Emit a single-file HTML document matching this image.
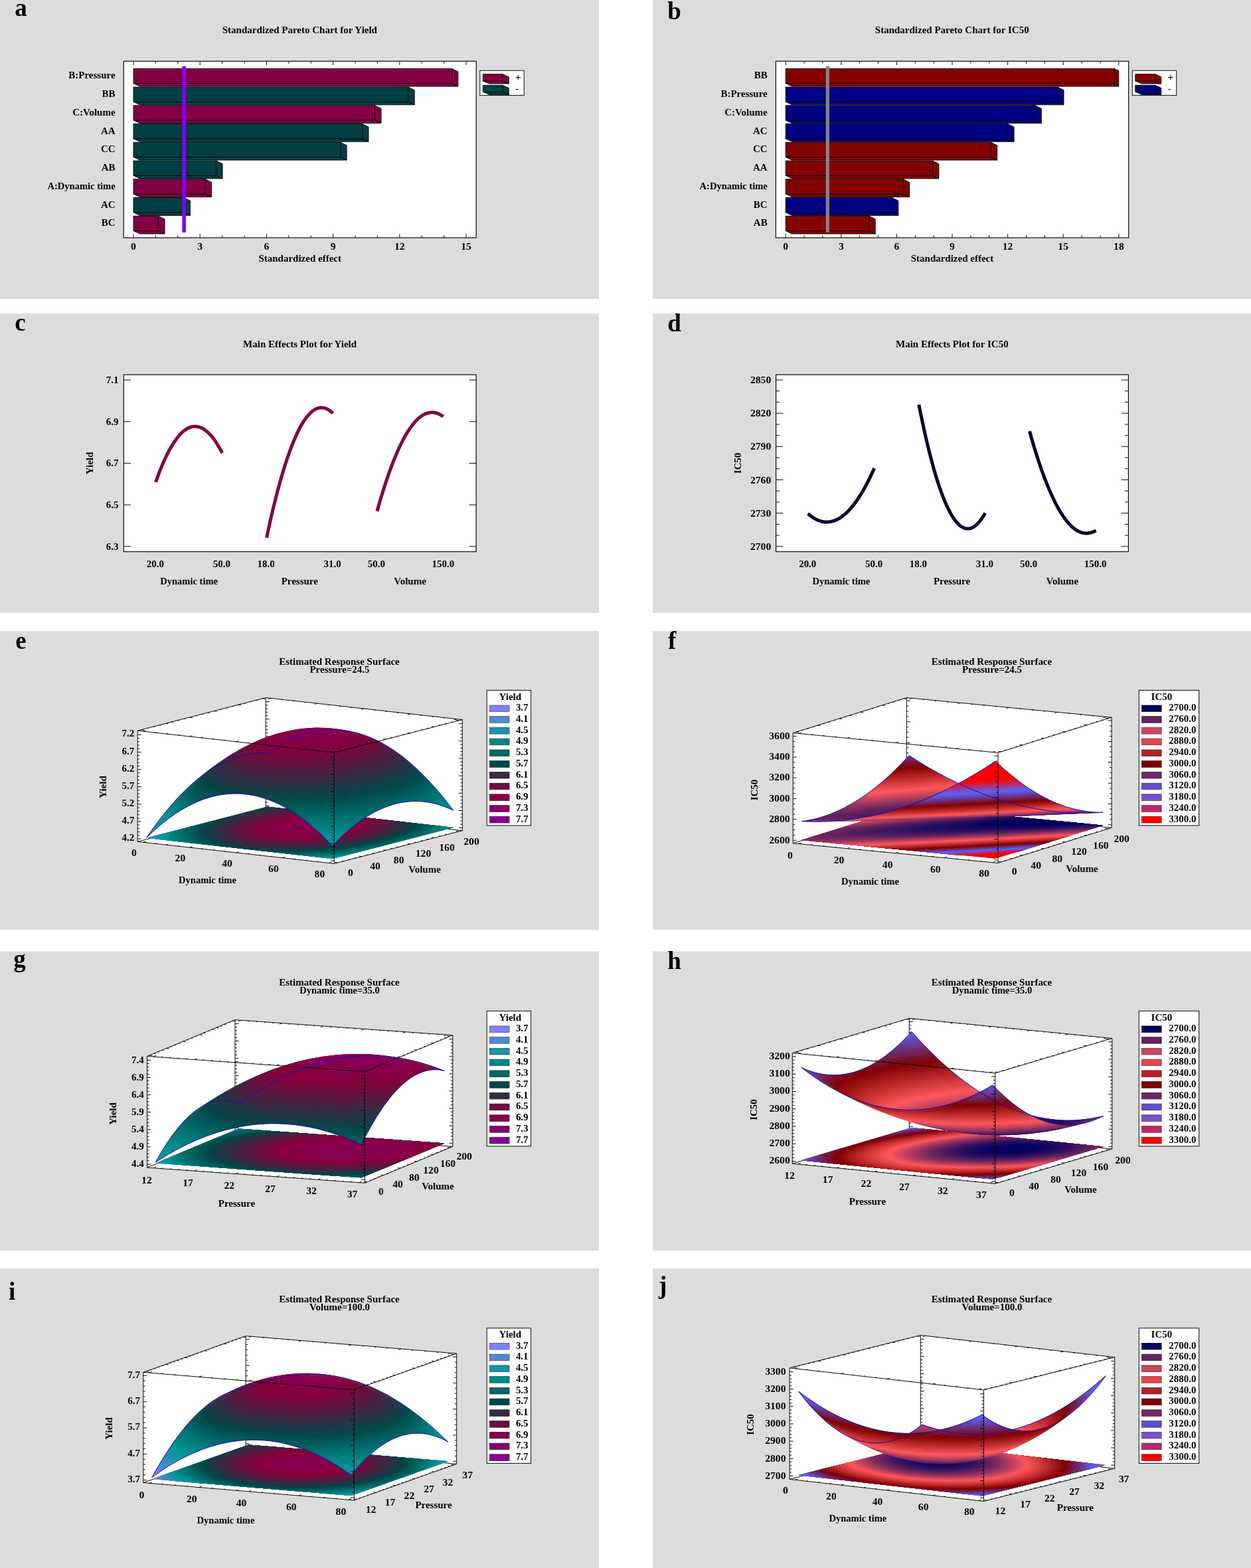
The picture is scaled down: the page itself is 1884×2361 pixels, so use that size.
<!DOCTYPE html>
<html lang="en"><head><meta charset="utf-8"><title>Figure</title>
<style>
html,body{margin:0;padding:0;background:#fff}
body{width:1884px;height:2361px;position:relative;overflow:hidden}
svg{position:absolute;left:0;top:0;display:block}
text{font-family:"Liberation Serif","DejaVu Serif",serif;font-weight:bold;font-size:14px;fill:#000}
.s{font-family:"Liberation Sans","DejaVu Sans",sans-serif;font-weight:normal}
.k{fill:none;stroke:#0a0a0a;stroke-width:1}
.bl{fill:none;stroke:#1a0cb4;stroke-width:1;stroke-linejoin:round}
</style></head><body>
<svg width="1884" height="2361" viewBox="0 0 1884 2361">
<defs>
<clipPath id="cu"><rect width="1000" height="1000"/></clipPath>
<linearGradient id="e47" gradientUnits="userSpaceOnUse" x1="402.3" y1="1134.5" x2="670.1" y2="1106.4"><stop offset="0" stop-color="#064547"/><stop offset=".18" stop-color="#571a40"/><stop offset=".355" stop-color="#7e053d"/><stop offset=".518" stop-color="#7d063d"/><stop offset=".671" stop-color="#581a40"/><stop offset=".818" stop-color="#0e4147"/><stop offset=".85" stop-color="#004d4d"/><stop offset="1" stop-color="#009896"/></linearGradient>
<linearGradient id="e46" gradientUnits="userSpaceOnUse" x1="399.6" y1="1134.3" x2="670" y2="1110.7"><stop offset="0" stop-color="#084447"/><stop offset=".178" stop-color="#591940"/><stop offset=".351" stop-color="#81043d"/><stop offset=".513" stop-color="#81043d"/><stop offset=".671" stop-color="#5a1840"/><stop offset=".82" stop-color="#0f4047"/><stop offset=".853" stop-color="#004c4c"/><stop offset="1" stop-color="#009593"/></linearGradient>
<linearGradient id="e45" gradientUnits="userSpaceOnUse" x1="395.8" y1="1134.2" x2="670.5" y2="1119.8"><stop offset="0" stop-color="#0b4247"/><stop offset=".173" stop-color="#5d1740"/><stop offset=".337" stop-color="#85023c"/><stop offset=".524" stop-color="#83033c"/><stop offset=".682" stop-color="#581a40"/><stop offset=".833" stop-color="#094347"/><stop offset=".862" stop-color="#004e4e"/><stop offset="1" stop-color="#00918f"/></linearGradient>
<linearGradient id="e44" gradientUnits="userSpaceOnUse" x1="392" y1="1134.2" x2="670.3" y2="1129.3"><stop offset="0" stop-color="#0e4147"/><stop offset=".162" stop-color="#5e1640"/><stop offset=".324" stop-color="#88003c"/><stop offset=".545" stop-color="#83033c"/><stop offset=".704" stop-color="#511d41"/><stop offset=".857" stop-color="#004b4a"/><stop offset="1" stop-color="#008d8b"/></linearGradient>
<linearGradient id="e43" gradientUnits="userSpaceOnUse" x1="388.2" y1="1134.3" x2="668" y2="1134.3"><stop offset="0" stop-color="#104047"/><stop offset=".16" stop-color="#61153f"/><stop offset=".305" stop-color="#88003d"/><stop offset=".51" stop-color="#88003e"/><stop offset=".625" stop-color="#720c3e"/><stop offset=".785" stop-color="#2c3144"/><stop offset=".865" stop-color="#004b4b"/><stop offset="1" stop-color="#008987"/></linearGradient>
<linearGradient id="e42" gradientUnits="userSpaceOnUse" x1="384.4" y1="1134.5" x2="666.6" y2="1144.4"><stop offset="0" stop-color="#123f46"/><stop offset=".155" stop-color="#64133f"/><stop offset=".288" stop-color="#88003e"/><stop offset=".491" stop-color="#880042"/><stop offset=".581" stop-color="#80043d"/><stop offset=".743" stop-color="#442442"/><stop offset=".866" stop-color="#004a4a"/><stop offset="1" stop-color="#008684"/></linearGradient>
<linearGradient id="e41" gradientUnits="userSpaceOnUse" x1="380.6" y1="1134.9" x2="664.4" y2="1154.7"><stop offset="0" stop-color="#143e46"/><stop offset=".146" stop-color="#64133f"/><stop offset=".266" stop-color="#88003e"/><stop offset=".467" stop-color="#880045"/><stop offset=".583" stop-color="#82033d"/><stop offset=".752" stop-color="#412642"/><stop offset=".873" stop-color="#004b4b"/><stop offset="1" stop-color="#008281"/></linearGradient>
<linearGradient id="e40" gradientUnits="userSpaceOnUse" x1="376.8" y1="1135.3" x2="661" y2="1160.2"><stop offset="0" stop-color="#153d46"/><stop offset=".143" stop-color="#66123f"/><stop offset=".253" stop-color="#88003e"/><stop offset=".453" stop-color="#880048"/><stop offset=".589" stop-color="#83033c"/><stop offset=".76" stop-color="#402642"/><stop offset=".876" stop-color="#004a4a"/><stop offset="1" stop-color="#007f7e"/></linearGradient>
<linearGradient id="e39" gradientUnits="userSpaceOnUse" x1="373" y1="1135.9" x2="657.6" y2="1170.9"><stop offset="0" stop-color="#163c46"/><stop offset=".139" stop-color="#68113f"/><stop offset=".241" stop-color="#88003e"/><stop offset=".439" stop-color="#88004a"/><stop offset=".591" stop-color="#83033c"/><stop offset=".764" stop-color="#3e2742"/><stop offset=".883" stop-color="#004c4c"/><stop offset="1" stop-color="#007c7b"/></linearGradient>
<linearGradient id="e38" gradientUnits="userSpaceOnUse" x1="369.2" y1="1136.7" x2="653.3" y2="1181.7"><stop offset="0" stop-color="#163c46"/><stop offset=".13" stop-color="#67123f"/><stop offset=".23" stop-color="#88003e"/><stop offset=".421" stop-color="#88004b"/><stop offset=".593" stop-color="#83023c"/><stop offset=".775" stop-color="#3a2943"/><stop offset=".886" stop-color="#004b4b"/><stop offset="1" stop-color="#007978"/></linearGradient>
<linearGradient id="e37" gradientUnits="userSpaceOnUse" x1="365.4" y1="1137.5" x2="648.3" y2="1192.5"><stop offset="0" stop-color="#173c46"/><stop offset=".126" stop-color="#68113f"/><stop offset=".219" stop-color="#88003f"/><stop offset=".407" stop-color="#88004d"/><stop offset=".596" stop-color="#83033c"/><stop offset=".78" stop-color="#382a43"/><stop offset=".889" stop-color="#004b4b"/><stop offset="1" stop-color="#007776"/></linearGradient>
<linearGradient id="e36" gradientUnits="userSpaceOnUse" x1="361.6" y1="1138.5" x2="642.4" y2="1203.3"><stop offset="0" stop-color="#173c46"/><stop offset=".117" stop-color="#66123f"/><stop offset=".208" stop-color="#88003e"/><stop offset=".394" stop-color="#88004e"/><stop offset=".599" stop-color="#83033c"/><stop offset=".787" stop-color="#352c43"/><stop offset=".891" stop-color="#004b4b"/><stop offset="1" stop-color="#007473"/></linearGradient>
<linearGradient id="e35" gradientUnits="userSpaceOnUse" x1="357.8" y1="1139.6" x2="635.8" y2="1214"><stop offset="0" stop-color="#173c46"/><stop offset=".113" stop-color="#66123f"/><stop offset=".197" stop-color="#88003e"/><stop offset=".381" stop-color="#88004f"/><stop offset=".596" stop-color="#83033c"/><stop offset=".793" stop-color="#332d44"/><stop offset=".895" stop-color="#004b4b"/><stop offset="1" stop-color="#007271"/></linearGradient>
<linearGradient id="e34" gradientUnits="userSpaceOnUse" x1="354" y1="1140.8" x2="628.4" y2="1224.6"><stop offset="0" stop-color="#163c46"/><stop offset=".104" stop-color="#64133f"/><stop offset=".19" stop-color="#88003e"/><stop offset=".372" stop-color="#880050"/><stop offset=".594" stop-color="#84023c"/><stop offset=".794" stop-color="#322d44"/><stop offset=".898" stop-color="#004b4b"/><stop offset="1" stop-color="#00706f"/></linearGradient>
<linearGradient id="e33" gradientUnits="userSpaceOnUse" x1="350.2" y1="1142.1" x2="620.2" y2="1235.1"><stop offset="0" stop-color="#153d46"/><stop offset=".1" stop-color="#64133f"/><stop offset=".184" stop-color="#88003e"/><stop offset=".363" stop-color="#880050"/><stop offset=".591" stop-color="#84023c"/><stop offset=".796" stop-color="#322e44"/><stop offset=".896" stop-color="#004a4a"/><stop offset="1" stop-color="#006f6e"/></linearGradient>
<linearGradient id="e32" gradientUnits="userSpaceOnUse" x1="346.4" y1="1143.6" x2="611.4" y2="1245.3"><stop offset="0" stop-color="#143e46"/><stop offset=".092" stop-color="#61153f"/><stop offset=".177" stop-color="#88003e"/><stop offset=".35" stop-color="#880051"/><stop offset=".589" stop-color="#83023c"/><stop offset=".803" stop-color="#2e3044"/><stop offset=".9" stop-color="#004a4a"/><stop offset="1" stop-color="#006d6c"/></linearGradient>
<linearGradient id="e31" gradientUnits="userSpaceOnUse" x1="342.6" y1="1145.1" x2="601.8" y2="1255.2"><stop offset="0" stop-color="#123e46"/><stop offset=".085" stop-color="#5d1740"/><stop offset=".171" stop-color="#88003e"/><stop offset=".341" stop-color="#880051"/><stop offset=".564" stop-color="#88003d"/><stop offset=".761" stop-color="#412542"/><stop offset=".904" stop-color="#004b4b"/><stop offset="1" stop-color="#006b6b"/></linearGradient>
<linearGradient id="e30" gradientUnits="userSpaceOnUse" x1="338.8" y1="1146.8" x2="591.6" y2="1264.7"><stop offset="0" stop-color="#103f47"/><stop offset=".08" stop-color="#5c1740"/><stop offset=".164" stop-color="#88003d"/><stop offset=".332" stop-color="#880051"/><stop offset=".556" stop-color="#88003d"/><stop offset=".749" stop-color="#452342"/><stop offset=".901" stop-color="#004a4a"/><stop offset="1" stop-color="#006a69"/></linearGradient>
<linearGradient id="e29" gradientUnits="userSpaceOnUse" x1="335" y1="1148.7" x2="580.8" y2="1273.9"><stop offset="0" stop-color="#0e4147"/><stop offset=".073" stop-color="#581a40"/><stop offset=".157" stop-color="#88003c"/><stop offset=".323" stop-color="#880050"/><stop offset=".547" stop-color="#88003d"/><stop offset=".737" stop-color="#492142"/><stop offset=".906" stop-color="#004c4b"/><stop offset="1" stop-color="#006968"/></linearGradient>
<linearGradient id="e28" gradientUnits="userSpaceOnUse" x1="331.2" y1="1150.6" x2="569.4" y2="1282.6"><stop offset="0" stop-color="#0c4247"/><stop offset=".066" stop-color="#531c41"/><stop offset=".153" stop-color="#88003c"/><stop offset=".313" stop-color="#880050"/><stop offset=".538" stop-color="#88003e"/><stop offset=".731" stop-color="#4a2141"/><stop offset=".904" stop-color="#004b4b"/><stop offset="1" stop-color="#006868"/></linearGradient>
<linearGradient id="e27" gradientUnits="userSpaceOnUse" x1="327.4" y1="1152.7" x2="557.4" y2="1290.9"><stop offset="0" stop-color="#094347"/><stop offset=".058" stop-color="#4e1f41"/><stop offset=".142" stop-color="#85023c"/><stop offset=".317" stop-color="#88004f"/><stop offset=".553" stop-color="#84023c"/><stop offset=".8" stop-color="#2b3144"/><stop offset=".901" stop-color="#004a4a"/><stop offset="1" stop-color="#006867"/></linearGradient>
<linearGradient id="e26" gradientUnits="userSpaceOnUse" x1="323.6" y1="1154.9" x2="549" y2="1295.8"><stop offset="0" stop-color="#064548"/><stop offset=".056" stop-color="#4c2041"/><stop offset=".138" stop-color="#83033c"/><stop offset=".326" stop-color="#88004f"/><stop offset=".548" stop-color="#84023c"/><stop offset=".798" stop-color="#2b3144"/><stop offset=".9" stop-color="#004a4a"/><stop offset="1" stop-color="#006766"/></linearGradient>
<linearGradient id="e25" gradientUnits="userSpaceOnUse" x1="319.8" y1="1157.2" x2="536.4" y2="1303.3"><stop offset="0" stop-color="#024748"/><stop offset=".049" stop-color="#462342"/><stop offset=".124" stop-color="#7d063d"/><stop offset=".166" stop-color="#880040"/><stop offset=".335" stop-color="#88004d"/><stop offset=".539" stop-color="#83033c"/><stop offset=".793" stop-color="#2b3144"/><stop offset=".897" stop-color="#004a4a"/><stop offset="1" stop-color="#006766"/></linearGradient>
<linearGradient id="e24" gradientUnits="userSpaceOnUse" x1="316" y1="1159.7" x2="527.6" y2="1307.8"><stop offset="0" stop-color="#004949"/><stop offset=".05" stop-color="#452342"/><stop offset=".123" stop-color="#7c073d"/><stop offset=".169" stop-color="#880040"/><stop offset=".339" stop-color="#88004c"/><stop offset=".528" stop-color="#83033c"/><stop offset=".783" stop-color="#2e3044"/><stop offset=".896" stop-color="#004a4a"/><stop offset="1" stop-color="#006766"/></linearGradient>
<linearGradient id="e23" gradientUnits="userSpaceOnUse" x1="312.2" y1="1162.2" x2="527.3" y2="1307.3"><stop offset="0" stop-color="#004b4b"/><stop offset=".065" stop-color="#4e1e41"/><stop offset=".147" stop-color="#82033d"/><stop offset=".263" stop-color="#88004a"/><stop offset=".479" stop-color="#880040"/><stop offset=".575" stop-color="#76093e"/><stop offset=".836" stop-color="#173c46"/><stop offset=".897" stop-color="#004a4a"/><stop offset="1" stop-color="#006766"/></linearGradient>
<linearGradient id="e22" gradientUnits="userSpaceOnUse" x1="308.4" y1="1164.9" x2="522.8" y2="1309.5"><stop offset="0" stop-color="#004e4e"/><stop offset=".012" stop-color="#0a4347"/><stop offset=".067" stop-color="#4d1f41"/><stop offset=".15" stop-color="#80043d"/><stop offset=".212" stop-color="#880043"/><stop offset=".406" stop-color="#880046"/><stop offset=".525" stop-color="#81043d"/><stop offset=".777" stop-color="#2f2f44"/><stop offset=".897" stop-color="#004b4b"/><stop offset="1" stop-color="#006766"/></linearGradient>
<linearGradient id="e21" gradientUnits="userSpaceOnUse" x1="304.6" y1="1167.7" x2="518.3" y2="1311.9"><stop offset="0" stop-color="#005151"/><stop offset=".014" stop-color="#094347"/><stop offset=".07" stop-color="#4b2041"/><stop offset=".153" stop-color="#7e053d"/><stop offset=".211" stop-color="#880041"/><stop offset=".4" stop-color="#880044"/><stop offset=".513" stop-color="#82033d"/><stop offset=".756" stop-color="#362c43"/><stop offset=".897" stop-color="#004b4b"/><stop offset="1" stop-color="#006867"/></linearGradient>
<linearGradient id="e20" gradientUnits="userSpaceOnUse" x1="300.8" y1="1170.7" x2="513.8" y2="1314.3"><stop offset="0" stop-color="#005454"/><stop offset=".016" stop-color="#074447"/><stop offset=".072" stop-color="#492142"/><stop offset=".157" stop-color="#7c073d"/><stop offset=".219" stop-color="#880040"/><stop offset=".415" stop-color="#880042"/><stop offset=".513" stop-color="#80043d"/><stop offset=".755" stop-color="#342c43"/><stop offset=".889" stop-color="#004a4a"/><stop offset="1" stop-color="#006868"/></linearGradient>
<linearGradient id="e19" gradientUnits="userSpaceOnUse" x1="297" y1="1173.7" x2="509.3" y2="1316.9"><stop offset="0" stop-color="#005757"/><stop offset=".018" stop-color="#054548"/><stop offset=".075" stop-color="#472342"/><stop offset=".16" stop-color="#79083d"/><stop offset=".231" stop-color="#88003f"/><stop offset=".431" stop-color="#88003e"/><stop offset=".592" stop-color="#68113f"/><stop offset=".866" stop-color="#054548"/><stop offset="1" stop-color="#006968"/></linearGradient>
<linearGradient id="e18" gradientUnits="userSpaceOnUse" x1="293.2" y1="1176.9" x2="509" y2="1317.1"><stop offset="0" stop-color="#005b5a"/><stop offset=".021" stop-color="#034648"/><stop offset=".081" stop-color="#442442"/><stop offset=".171" stop-color="#77093d"/><stop offset=".257" stop-color="#88003e"/><stop offset=".47" stop-color="#83033c"/><stop offset=".695" stop-color="#462342"/><stop offset=".882" stop-color="#004a4a"/><stop offset="1" stop-color="#006a69"/></linearGradient>
<linearGradient id="e17" gradientUnits="userSpaceOnUse" x1="289.4" y1="1180.2" x2="504.5" y2="1319.9"><stop offset="0" stop-color="#005e5e"/><stop offset=".025" stop-color="#044648"/><stop offset=".086" stop-color="#432442"/><stop offset=".178" stop-color="#750a3e"/><stop offset=".288" stop-color="#88003d"/><stop offset=".458" stop-color="#81043d"/><stop offset=".681" stop-color="#482242"/><stop offset=".875" stop-color="#004a4a"/><stop offset="1" stop-color="#006b6b"/></linearGradient>
<linearGradient id="e16" gradientUnits="userSpaceOnUse" x1="285.6" y1="1183.7" x2="500" y2="1322.9"><stop offset="0" stop-color="#006261"/><stop offset=".03" stop-color="#044648"/><stop offset=".095" stop-color="#452442"/><stop offset=".19" stop-color="#740b3e"/><stop offset=".321" stop-color="#87003c"/><stop offset=".504" stop-color="#750a3e"/><stop offset=".743" stop-color="#2f2f44"/><stop offset=".875" stop-color="#004b4b"/><stop offset="1" stop-color="#006d6c"/></linearGradient>
<linearGradient id="e15" gradientUnits="userSpaceOnUse" x1="281.8" y1="1187.2" x2="495.5" y2="1326"><stop offset="0" stop-color="#006665"/><stop offset=".034" stop-color="#044648"/><stop offset=".101" stop-color="#432442"/><stop offset=".197" stop-color="#710c3e"/><stop offset=".33" stop-color="#83033c"/><stop offset=".515" stop-color="#6e0e3e"/><stop offset=".757" stop-color="#263445"/><stop offset=".867" stop-color="#004b4b"/><stop offset="1" stop-color="#006e6d"/></linearGradient>
<linearGradient id="e14" gradientUnits="userSpaceOnUse" x1="278" y1="1190.9" x2="491" y2="1329.2"><stop offset="0" stop-color="#006a69"/><stop offset=".039" stop-color="#034648"/><stop offset=".107" stop-color="#412542"/><stop offset=".205" stop-color="#6d0e3e"/><stop offset=".345" stop-color="#7e053d"/><stop offset=".533" stop-color="#66123f"/><stop offset=".778" stop-color="#1b3a46"/><stop offset=".859" stop-color="#004b4b"/><stop offset="1" stop-color="#00706f"/></linearGradient>
<linearGradient id="e13" gradientUnits="userSpaceOnUse" x1="274.2" y1="1194.7" x2="486.5" y2="1332.6"><stop offset="0" stop-color="#006e6d"/><stop offset=".046" stop-color="#054548"/><stop offset=".12" stop-color="#432442"/><stop offset=".225" stop-color="#6c0f3e"/><stop offset=".37" stop-color="#78093d"/><stop offset=".563" stop-color="#5a1840"/><stop offset=".822" stop-color="#064547"/><stop offset=".92" stop-color="#005d5c"/><stop offset="1" stop-color="#007271"/></linearGradient>
<linearGradient id="e12" gradientUnits="userSpaceOnUse" x1="270.4" y1="1198.6" x2="486.2" y2="1333.5"><stop offset="0" stop-color="#007372"/><stop offset=".054" stop-color="#044648"/><stop offset=".13" stop-color="#402642"/><stop offset=".238" stop-color="#68113f"/><stop offset=".385" stop-color="#720c3e"/><stop offset=".58" stop-color="#521c41"/><stop offset=".838" stop-color="#004a4a"/><stop offset="1" stop-color="#007473"/></linearGradient>
<linearGradient id="e11" gradientUnits="userSpaceOnUse" x1="266.6" y1="1202.7" x2="481.7" y2="1337.1"><stop offset="0" stop-color="#007776"/><stop offset=".059" stop-color="#024748"/><stop offset=".137" stop-color="#3d2843"/><stop offset=".246" stop-color="#63133f"/><stop offset=".395" stop-color="#6b0f3f"/><stop offset=".598" stop-color="#482242"/><stop offset=".831" stop-color="#004b4b"/><stop offset="1" stop-color="#007776"/></linearGradient>
<linearGradient id="e10" gradientUnits="userSpaceOnUse" x1="262.8" y1="1206.8" x2="477.2" y2="1340.8"><stop offset="0" stop-color="#007c7b"/><stop offset=".064" stop-color="#004848"/><stop offset=".147" stop-color="#3b2943"/><stop offset=".263" stop-color="#601540"/><stop offset=".421" stop-color="#63143f"/><stop offset=".63" stop-color="#3a2943"/><stop offset=".816" stop-color="#004b4b"/><stop offset="1" stop-color="#007978"/></linearGradient>
<linearGradient id="e9" gradientUnits="userSpaceOnUse" x1="259" y1="1211.1" x2="472.7" y2="1344.7"><stop offset="0" stop-color="#008180"/><stop offset=".069" stop-color="#004a4a"/><stop offset=".165" stop-color="#3c2843"/><stop offset=".285" stop-color="#5c1740"/><stop offset=".448" stop-color="#5a1940"/><stop offset=".662" stop-color="#2b3144"/><stop offset=".801" stop-color="#004b4a"/><stop offset="1" stop-color="#007c7b"/></linearGradient>
<linearGradient id="e8" gradientUnits="userSpaceOnUse" x1="255.2" y1="1215.6" x2="472.4" y2="1346"><stop offset="0" stop-color="#008785"/><stop offset=".072" stop-color="#004f4e"/><stop offset=".096" stop-color="#0a4347"/><stop offset=".192" stop-color="#3e2743"/><stop offset=".323" stop-color="#581a40"/><stop offset=".499" stop-color="#4d1f41"/><stop offset=".726" stop-color="#123f46"/><stop offset=".796" stop-color="#004c4c"/><stop offset="1" stop-color="#007f7e"/></linearGradient>
<linearGradient id="e7" gradientUnits="userSpaceOnUse" x1="251.4" y1="1220.1" x2="472" y2="1347.4"><stop offset="0" stop-color="#008c8a"/><stop offset=".077" stop-color="#005252"/><stop offset=".109" stop-color="#084447"/><stop offset=".208" stop-color="#3a2943"/><stop offset=".343" stop-color="#511d41"/><stop offset=".521" stop-color="#432542"/><stop offset=".75" stop-color="#054548"/><stop offset="1" stop-color="#008281"/></linearGradient>
<linearGradient id="e6" gradientUnits="userSpaceOnUse" x1="247.6" y1="1224.8" x2="471.5" y2="1348.8"><stop offset="0" stop-color="#009290"/><stop offset=".08" stop-color="#005757"/><stop offset=".122" stop-color="#064547"/><stop offset=".229" stop-color="#372b43"/><stop offset=".373" stop-color="#4a2141"/><stop offset=".555" stop-color="#362b43"/><stop offset=".766" stop-color="#004c4c"/><stop offset="1" stop-color="#008584"/></linearGradient>
<linearGradient id="e5" gradientUnits="userSpaceOnUse" x1="243.8" y1="1229.5" x2="470.9" y2="1350.3"><stop offset="0" stop-color="#009896"/><stop offset=".086" stop-color="#005b5b"/><stop offset=".14" stop-color="#064547"/><stop offset=".251" stop-color="#332d44"/><stop offset=".398" stop-color="#422542"/><stop offset=".589" stop-color="#293244"/><stop offset=".749" stop-color="#004b4b"/><stop offset="1" stop-color="#008987"/></linearGradient>
<linearGradient id="e4" gradientUnits="userSpaceOnUse" x1="240" y1="1234.5" x2="470.3" y2="1351.8"><stop offset="0" stop-color="#09969d"/><stop offset=".015" stop-color="#00908e"/><stop offset=".112" stop-color="#005656"/><stop offset=".158" stop-color="#054548"/><stop offset=".278" stop-color="#2f2f44"/><stop offset=".429" stop-color="#392a43"/><stop offset=".624" stop-color="#1a3a46"/><stop offset=".732" stop-color="#004b4b"/><stop offset="1" stop-color="#008d8b"/></linearGradient>
<linearGradient id="e3" gradientUnits="userSpaceOnUse" x1="236.2" y1="1239.5" x2="469.6" y2="1353.3"><stop offset="0" stop-color="#1394a6"/><stop offset=".018" stop-color="#009492"/><stop offset=".122" stop-color="#005959"/><stop offset=".181" stop-color="#054548"/><stop offset=".305" stop-color="#2a3244"/><stop offset=".466" stop-color="#2e2f44"/><stop offset=".665" stop-color="#084447"/><stop offset=".741" stop-color="#005151"/><stop offset="1" stop-color="#00908f"/></linearGradient>
<linearGradient id="e2" gradientUnits="userSpaceOnUse" x1="232.4" y1="1244.6" x2="468.8" y2="1354.9"><stop offset="0" stop-color="#1d93ae"/><stop offset=".025" stop-color="#009694"/><stop offset=".132" stop-color="#005c5c"/><stop offset=".21" stop-color="#064547"/><stop offset=".343" stop-color="#253445"/><stop offset=".509" stop-color="#223645"/><stop offset=".693" stop-color="#004c4c"/><stop offset="1" stop-color="#009493"/></linearGradient>
<linearGradient id="e1" gradientUnits="userSpaceOnUse" x1="228.6" y1="1249.9" x2="467.9" y2="1356.5"><stop offset="0" stop-color="#2891b7"/><stop offset=".035" stop-color="#009694"/><stop offset=".15" stop-color="#005d5c"/><stop offset=".243" stop-color="#064547"/><stop offset=".388" stop-color="#1f3845"/><stop offset=".565" stop-color="#113f46"/><stop offset=".672" stop-color="#004d4c"/><stop offset=".993" stop-color="#009795"/><stop offset="1" stop-color="#019897"/></linearGradient>
<linearGradient id="e0" gradientUnits="userSpaceOnUse" x1="223.7" y1="1257" x2="465.6" y2="1359.7"><stop offset="0" stop-color="#368ec2"/><stop offset=".048" stop-color="#009795"/><stop offset=".173" stop-color="#005e5e"/><stop offset=".297" stop-color="#064547"/><stop offset=".449" stop-color="#133e46"/><stop offset=".651" stop-color="#004f4f"/><stop offset=".957" stop-color="#009291"/><stop offset="1" stop-color="#0a969f"/></linearGradient>
<linearGradient id="f47" gradientUnits="userSpaceOnUse" x1="1368.4" y1="1138.3" x2="1425.5" y2="1304.1"><stop offset="0" stop-color="#6a388f"/><stop offset=".13" stop-color="#800102"/><stop offset=".389" stop-color="#fe575b"/><stop offset=".608" stop-color="#551d5f"/><stop offset=".755" stop-color="#050260"/><stop offset=".96" stop-color="#050260"/><stop offset="1" stop-color="#2a0e5f"/></linearGradient>
<linearGradient id="f46" gradientUnits="userSpaceOnUse" x1="1366.1" y1="1140.9" x2="1426.7" y2="1307.4"><stop offset="0" stop-color="#6d307b"/><stop offset=".114" stop-color="#800000"/><stop offset=".375" stop-color="#fe585c"/><stop offset=".584" stop-color="#5b205f"/><stop offset=".731" stop-color="#0b0460"/><stop offset=".786" stop-color="#000060"/><stop offset=".951" stop-color="#050260"/><stop offset="1" stop-color="#32115f"/></linearGradient>
<linearGradient id="f45" gradientUnits="userSpaceOnUse" x1="1362.7" y1="1144.5" x2="1422.1" y2="1307.8"><stop offset="0" stop-color="#712660"/><stop offset=".092" stop-color="#810000"/><stop offset=".358" stop-color="#ff585c"/><stop offset=".56" stop-color="#63225e"/><stop offset=".715" stop-color="#0e0560"/><stop offset=".772" stop-color="#000060"/><stop offset=".938" stop-color="#040260"/><stop offset=".993" stop-color="#35125f"/><stop offset="1" stop-color="#3d155f"/></linearGradient>
<linearGradient id="f44" gradientUnits="userSpaceOnUse" x1="1359.3" y1="1148" x2="1421.9" y2="1311.1"><stop offset="0" stop-color="#751b45"/><stop offset=".069" stop-color="#810101"/><stop offset=".337" stop-color="#ff585c"/><stop offset=".536" stop-color="#67235e"/><stop offset=".691" stop-color="#120660"/><stop offset=".758" stop-color="#000060"/><stop offset=".922" stop-color="#040160"/><stop offset=".982" stop-color="#32115f"/><stop offset="1" stop-color="#4a1a5f"/></linearGradient>
<linearGradient id="f43" gradientUnits="userSpaceOnUse" x1="1355.9" y1="1151.5" x2="1421.7" y2="1314.2"><stop offset="0" stop-color="#79112b"/><stop offset=".039" stop-color="#7f0103"/><stop offset=".316" stop-color="#fe585c"/><stop offset=".518" stop-color="#67245e"/><stop offset=".675" stop-color="#130760"/><stop offset=".748" stop-color="#000060"/><stop offset=".909" stop-color="#050260"/><stop offset=".972" stop-color="#33125f"/><stop offset="1" stop-color="#571e5f"/></linearGradient>
<linearGradient id="f42" gradientUnits="userSpaceOnUse" x1="1352.6" y1="1154.9" x2="1421.5" y2="1317.3"><stop offset="0" stop-color="#7d0711"/><stop offset=".015" stop-color="#800102"/><stop offset=".295" stop-color="#fe585c"/><stop offset=".499" stop-color="#67245e"/><stop offset=".659" stop-color="#150760"/><stop offset=".742" stop-color="#000060"/><stop offset=".892" stop-color="#050260"/><stop offset=".958" stop-color="#31115f"/><stop offset="1" stop-color="#65235e"/></linearGradient>
<linearGradient id="f41" gradientUnits="userSpaceOnUse" x1="1349.2" y1="1158.3" x2="1416.8" y2="1317.5"><stop offset="0" stop-color="#840303"/><stop offset=".277" stop-color="#fd575c"/><stop offset=".485" stop-color="#68245e"/><stop offset=".646" stop-color="#160860"/><stop offset=".736" stop-color="#000060"/><stop offset=".877" stop-color="#050260"/><stop offset=".948" stop-color="#31115f"/><stop offset=".998" stop-color="#70275e"/><stop offset="1" stop-color="#74285e"/></linearGradient>
<linearGradient id="f40" gradientUnits="userSpaceOnUse" x1="1345.8" y1="1161.5" x2="1416.5" y2="1320.3"><stop offset="0" stop-color="#900b0b"/><stop offset=".256" stop-color="#fd575c"/><stop offset=".459" stop-color="#6c255e"/><stop offset=".625" stop-color="#190960"/><stop offset=".73" stop-color="#000060"/><stop offset=".858" stop-color="#050260"/><stop offset=".933" stop-color="#30105f"/><stop offset=".989" stop-color="#70275e"/><stop offset="1" stop-color="#842d5e"/></linearGradient>
<linearGradient id="f39" gradientUnits="userSpaceOnUse" x1="1342.5" y1="1164.8" x2="1416.3" y2="1323.1"><stop offset="0" stop-color="#9b1314"/><stop offset=".234" stop-color="#fd575c"/><stop offset=".44" stop-color="#6c255e"/><stop offset=".607" stop-color="#1a0960"/><stop offset=".723" stop-color="#000060"/><stop offset=".839" stop-color="#060260"/><stop offset=".917" stop-color="#2e105f"/><stop offset=".976" stop-color="#6d265e"/><stop offset="1" stop-color="#94335e"/></linearGradient>
<linearGradient id="f38" gradientUnits="userSpaceOnUse" x1="1339.1" y1="1167.9" x2="1425.4" y2="1330.2"><stop offset="0" stop-color="#a61b1c"/><stop offset=".208" stop-color="#fc575c"/><stop offset=".407" stop-color="#71275e"/><stop offset=".571" stop-color="#200b60"/><stop offset=".7" stop-color="#000060"/><stop offset=".815" stop-color="#070360"/><stop offset=".902" stop-color="#31115f"/><stop offset=".966" stop-color="#71275e"/><stop offset="1" stop-color="#a5395d"/></linearGradient>
<linearGradient id="f37" gradientUnits="userSpaceOnUse" x1="1335.7" y1="1171" x2="1434.9" y2="1336"><stop offset="0" stop-color="#b12224"/><stop offset=".184" stop-color="#fc575c"/><stop offset=".381" stop-color="#71275e"/><stop offset=".546" stop-color="#210b5f"/><stop offset=".681" stop-color="#010060"/><stop offset=".795" stop-color="#0a0460"/><stop offset=".886" stop-color="#35125f"/><stop offset=".958" stop-color="#792a5e"/><stop offset="1" stop-color="#b73f5d"/></linearGradient>
<linearGradient id="f36" gradientUnits="userSpaceOnUse" x1="1332.4" y1="1174" x2="1454.9" y2="1342.6"><stop offset="0" stop-color="#bc292b"/><stop offset=".157" stop-color="#fc575c"/><stop offset=".345" stop-color="#76295e"/><stop offset=".51" stop-color="#240d5f"/><stop offset=".647" stop-color="#040160"/><stop offset=".766" stop-color="#0c0460"/><stop offset=".862" stop-color="#36135f"/><stop offset=".944" stop-color="#7d2b5e"/><stop offset="1" stop-color="#c9455d"/></linearGradient>
<linearGradient id="f35" gradientUnits="userSpaceOnUse" x1="1329" y1="1176.9" x2="1470.2" y2="1345.2"><stop offset="0" stop-color="#c63033"/><stop offset=".133" stop-color="#fc575c"/><stop offset=".319" stop-color="#76295e"/><stop offset=".478" stop-color="#280e5f"/><stop offset=".617" stop-color="#070260"/><stop offset=".739" stop-color="#0e0560"/><stop offset=".84" stop-color="#37135f"/><stop offset=".926" stop-color="#7d2b5e"/><stop offset="1" stop-color="#dc4c5d"/></linearGradient>
<linearGradient id="f34" gradientUnits="userSpaceOnUse" x1="1325.6" y1="1179.8" x2="1495.8" y2="1344.1"><stop offset="0" stop-color="#d0373a"/><stop offset=".109" stop-color="#fc575c"/><stop offset=".285" stop-color="#7b2a5e"/><stop offset=".443" stop-color="#2b0f5f"/><stop offset=".583" stop-color="#090360"/><stop offset=".707" stop-color="#100560"/><stop offset=".817" stop-color="#3a145f"/><stop offset=".913" stop-color="#852e5e"/><stop offset=".993" stop-color="#e64f5c"/><stop offset="1" stop-color="#f0535c"/></linearGradient>
<linearGradient id="f33" gradientUnits="userSpaceOnUse" x1="1322.3" y1="1182.6" x2="1520.3" y2="1337.3"><stop offset="0" stop-color="#d93e40"/><stop offset=".087" stop-color="#fc575c"/><stop offset=".259" stop-color="#7c2b5e"/><stop offset=".415" stop-color="#2d105f"/><stop offset=".555" stop-color="#0c0460"/><stop offset=".681" stop-color="#130660"/><stop offset=".794" stop-color="#3e155f"/><stop offset=".895" stop-color="#892f5e"/><stop offset=".985" stop-color="#f0535c"/><stop offset=".996" stop-color="#ff585c"/><stop offset="1" stop-color="#fc565a"/></linearGradient>
<linearGradient id="f32" gradientUnits="userSpaceOnUse" x1="1318.9" y1="1185.3" x2="1547" y2="1322.3"><stop offset="0" stop-color="#e24447"/><stop offset=".066" stop-color="#fc575c"/><stop offset=".227" stop-color="#802c5e"/><stop offset=".375" stop-color="#33125f"/><stop offset=".516" stop-color="#0f0560"/><stop offset=".645" stop-color="#140760"/><stop offset=".761" stop-color="#3d155f"/><stop offset=".868" stop-color="#862e5e"/><stop offset=".968" stop-color="#f0535c"/><stop offset=".98" stop-color="#ff585c"/><stop offset="1" stop-color="#f14e52"/></linearGradient>
<linearGradient id="f31" gradientUnits="userSpaceOnUse" x1="1315.5" y1="1187.9" x2="1572.6" y2="1297.1"><stop offset="0" stop-color="#ea4a4d"/><stop offset=".046" stop-color="#fd575c"/><stop offset=".196" stop-color="#852e5e"/><stop offset=".342" stop-color="#37135f"/><stop offset=".477" stop-color="#130660"/><stop offset=".606" stop-color="#150760"/><stop offset=".727" stop-color="#3c155f"/><stop offset=".842" stop-color="#872e5e"/><stop offset=".948" stop-color="#f0535c"/><stop offset=".961" stop-color="#ff585c"/><stop offset="1" stop-color="#e6474a"/></linearGradient>
<linearGradient id="f30" gradientUnits="userSpaceOnUse" x1="1312.2" y1="1190.5" x2="1592.4" y2="1260.4"><stop offset="0" stop-color="#f34f53"/><stop offset=".027" stop-color="#fd575c"/><stop offset=".172" stop-color="#862e5e"/><stop offset=".314" stop-color="#38135f"/><stop offset=".447" stop-color="#150760"/><stop offset=".577" stop-color="#180860"/><stop offset=".704" stop-color="#42175f"/><stop offset=".824" stop-color="#8f315e"/><stop offset=".94" stop-color="#ff585c"/><stop offset="1" stop-color="#db3f42"/></linearGradient>
<linearGradient id="f29" gradientUnits="userSpaceOnUse" x1="1308.8" y1="1193.1" x2="1600.1" y2="1218.5"><stop offset="0" stop-color="#fb5559"/><stop offset=".015" stop-color="#f8565c"/><stop offset=".149" stop-color="#872f5e"/><stop offset=".281" stop-color="#3c155f"/><stop offset=".413" stop-color="#180860"/><stop offset=".543" stop-color="#1a0960"/><stop offset=".672" stop-color="#44175f"/><stop offset=".8" stop-color="#93335e"/><stop offset=".917" stop-color="#ff585c"/><stop offset="1" stop-color="#cf3739"/></linearGradient>
<linearGradient id="f28" gradientUnits="userSpaceOnUse" x1="1305.4" y1="1195.5" x2="1594.7" y2="1175.3"><stop offset="0" stop-color="#f9565c"/><stop offset=".127" stop-color="#882f5e"/><stop offset=".255" stop-color="#3e155f"/><stop offset=".384" stop-color="#1b0960"/><stop offset=".514" stop-color="#1e0a60"/><stop offset=".644" stop-color="#47195f"/><stop offset=".776" stop-color="#98345e"/><stop offset=".893" stop-color="#ff585c"/><stop offset="1" stop-color="#c32e30"/></linearGradient>
<linearGradient id="f27" gradientUnits="userSpaceOnUse" x1="1302.1" y1="1197.9" x2="1578.7" y2="1139.1"><stop offset="0" stop-color="#ea515c"/><stop offset=".116" stop-color="#822d5e"/><stop offset=".235" stop-color="#3e155f"/><stop offset=".362" stop-color="#1d0a60"/><stop offset=".49" stop-color="#220c5f"/><stop offset=".622" stop-color="#4e1b5f"/><stop offset=".761" stop-color="#a4395d"/><stop offset=".866" stop-color="#ff585c"/><stop offset="1" stop-color="#b62627"/></linearGradient>
<linearGradient id="f26" gradientUnits="userSpaceOnUse" x1="1298.7" y1="1200.2" x2="1553.5" y2="1107.5"><stop offset="0" stop-color="#dd4c5d"/><stop offset=".11" stop-color="#7a2a5e"/><stop offset=".225" stop-color="#3a145f"/><stop offset=".348" stop-color="#1e0a60"/><stop offset=".476" stop-color="#280e5f"/><stop offset=".614" stop-color="#5c205f"/><stop offset=".757" stop-color="#b9405d"/><stop offset=".838" stop-color="#ff585c"/><stop offset="1" stop-color="#a91d1e"/></linearGradient>
<linearGradient id="f25" gradientUnits="userSpaceOnUse" x1="1295.3" y1="1202.4" x2="1520.7" y2="1082.6"><stop offset="0" stop-color="#d0485d"/><stop offset=".099" stop-color="#75285e"/><stop offset=".209" stop-color="#39145f"/><stop offset=".329" stop-color="#200b5f"/><stop offset=".456" stop-color="#2e105f"/><stop offset=".595" stop-color="#66235e"/><stop offset=".746" stop-color="#cb465d"/><stop offset=".808" stop-color="#ff585c"/><stop offset="1" stop-color="#9c1414"/></linearGradient>
<linearGradient id="f24" gradientUnits="userSpaceOnUse" x1="1291.9" y1="1204.6" x2="1491.8" y2="1069.8"><stop offset="0" stop-color="#c4445d"/><stop offset=".094" stop-color="#6d265e"/><stop offset=".199" stop-color="#36135f"/><stop offset=".317" stop-color="#230c5f"/><stop offset=".443" stop-color="#36135f"/><stop offset=".583" stop-color="#73285e"/><stop offset=".738" stop-color="#de4d5d"/><stop offset=".778" stop-color="#ff585c"/><stop offset="1" stop-color="#8f0a0b"/></linearGradient>
<linearGradient id="f23" gradientUnits="userSpaceOnUse" x1="1288.6" y1="1206.7" x2="1460.9" y2="1062.2"><stop offset="0" stop-color="#b8405d"/><stop offset=".084" stop-color="#69245e"/><stop offset=".18" stop-color="#37135f"/><stop offset=".29" stop-color="#260d5f"/><stop offset=".419" stop-color="#3b155f"/><stop offset=".565" stop-color="#7e2b5e"/><stop offset=".728" stop-color="#f2535c"/><stop offset=".745" stop-color="#fe585c"/><stop offset="1" stop-color="#810000"/></linearGradient>
<linearGradient id="f22" gradientUnits="userSpaceOnUse" x1="1285.2" y1="1208.8" x2="1434" y2="1060"><stop offset="0" stop-color="#ae3c5d"/><stop offset=".079" stop-color="#63225e"/><stop offset=".171" stop-color="#36135f"/><stop offset=".282" stop-color="#2a0e5f"/><stop offset=".411" stop-color="#46185f"/><stop offset=".558" stop-color="#90325e"/><stop offset=".713" stop-color="#fe575b"/><stop offset=".973" stop-color="#810101"/><stop offset="1" stop-color="#7c0b1c"/></linearGradient>
<linearGradient id="f21" gradientUnits="userSpaceOnUse" x1="1281.8" y1="1210.7" x2="1412.1" y2="1060.8"><stop offset="0" stop-color="#a4395d"/><stop offset=".07" stop-color="#60215e"/><stop offset=".158" stop-color="#36135f"/><stop offset=".267" stop-color="#2e105f"/><stop offset=".394" stop-color="#4e1b5f"/><stop offset=".547" stop-color="#9f375e"/><stop offset=".68" stop-color="#fe575b"/><stop offset=".944" stop-color="#810101"/><stop offset="1" stop-color="#771639"/></linearGradient>
<linearGradient id="f20" gradientUnits="userSpaceOnUse" x1="1278.5" y1="1212.6" x2="1390.5" y2="1064"><stop offset="0" stop-color="#9b355e"/><stop offset=".065" stop-color="#5c205f"/><stop offset=".149" stop-color="#36135f"/><stop offset=".255" stop-color="#33125f"/><stop offset=".386" stop-color="#5b1f5f"/><stop offset=".546" stop-color="#b73f5d"/><stop offset=".646" stop-color="#fe575b"/><stop offset=".921" stop-color="#7f0204"/><stop offset="1" stop-color="#722258"/></linearGradient>
<linearGradient id="f19" gradientUnits="userSpaceOnUse" x1="1275.1" y1="1214.5" x2="1374.2" y2="1067.6"><stop offset="0" stop-color="#92325e"/><stop offset=".061" stop-color="#581e5f"/><stop offset=".142" stop-color="#37135f"/><stop offset=".245" stop-color="#39145f"/><stop offset=".376" stop-color="#66235e"/><stop offset=".537" stop-color="#c8455d"/><stop offset=".614" stop-color="#fd575b"/><stop offset=".89" stop-color="#7f0103"/><stop offset="1" stop-color="#6d2f77"/></linearGradient>
<linearGradient id="f18" gradientUnits="userSpaceOnUse" x1="1271.7" y1="1216.2" x2="1358.2" y2="1072.3"><stop offset="0" stop-color="#8b305e"/><stop offset=".054" stop-color="#561e5f"/><stop offset=".13" stop-color="#39145f"/><stop offset=".231" stop-color="#3e165f"/><stop offset=".364" stop-color="#72275e"/><stop offset=".532" stop-color="#de4d5d"/><stop offset=".574" stop-color="#fe585c"/><stop offset=".858" stop-color="#800103"/><stop offset="1" stop-color="#683b97"/></linearGradient>
<linearGradient id="f17" gradientUnits="userSpaceOnUse" x1="1268.4" y1="1217.9" x2="1356.5" y2="1071.3"><stop offset="0" stop-color="#842d5e"/><stop offset=".058" stop-color="#521c5f"/><stop offset=".136" stop-color="#3a145f"/><stop offset=".242" stop-color="#48195f"/><stop offset=".377" stop-color="#852e5e"/><stop offset=".552" stop-color="#ff585c"/><stop offset=".831" stop-color="#800102"/><stop offset="1" stop-color="#6348b7"/></linearGradient>
<linearGradient id="f16" gradientUnits="userSpaceOnUse" x1="1265" y1="1219.5" x2="1350" y2="1072.3"><stop offset="0" stop-color="#7d2b5e"/><stop offset=".057" stop-color="#501c5f"/><stop offset=".138" stop-color="#3d155f"/><stop offset=".244" stop-color="#521c5f"/><stop offset=".385" stop-color="#99355e"/><stop offset=".527" stop-color="#fe585c"/><stop offset=".802" stop-color="#800102"/><stop offset="1" stop-color="#5e55d8"/></linearGradient>
<linearGradient id="f15" gradientUnits="userSpaceOnUse" x1="1261.6" y1="1221.1" x2="1343.6" y2="1073.2"><stop offset="0" stop-color="#78295e"/><stop offset=".056" stop-color="#4f1b5f"/><stop offset=".136" stop-color="#41165f"/><stop offset=".246" stop-color="#5c205f"/><stop offset=".388" stop-color="#ab3b5d"/><stop offset=".502" stop-color="#fe575b"/><stop offset=".773" stop-color="#800102"/><stop offset="1" stop-color="#5962fa"/></linearGradient>
<linearGradient id="f14" gradientUnits="userSpaceOnUse" x1="1258.3" y1="1222.6" x2="1341.8" y2="1071.9"><stop offset="0" stop-color="#73285e"/><stop offset=".06" stop-color="#4d1b5f"/><stop offset=".142" stop-color="#46185f"/><stop offset=".253" stop-color="#68245e"/><stop offset=".401" stop-color="#c3435d"/><stop offset=".482" stop-color="#fd575b"/><stop offset=".747" stop-color="#800101"/><stop offset=".969" stop-color="#5962f9"/><stop offset=".977" stop-color="#5a63fc"/><stop offset="1" stop-color="#6c58e1"/></linearGradient>
<linearGradient id="f13" gradientUnits="userSpaceOnUse" x1="1254.9" y1="1224" x2="1335.3" y2="1072.7"><stop offset="0" stop-color="#6f265e"/><stop offset=".059" stop-color="#4e1b5f"/><stop offset=".144" stop-color="#4c1a5f"/><stop offset=".26" stop-color="#78295e"/><stop offset=".414" stop-color="#e04d5c"/><stop offset=".452" stop-color="#ff585c"/><stop offset=".719" stop-color="#800001"/><stop offset=".946" stop-color="#5963fd"/><stop offset="1" stop-color="#834abd"/></linearGradient>
<linearGradient id="f12" gradientUnits="userSpaceOnUse" x1="1251.5" y1="1225.4" x2="1328.9" y2="1073.5"><stop offset="0" stop-color="#6c255e"/><stop offset=".058" stop-color="#4f1b5f"/><stop offset=".142" stop-color="#531d5f"/><stop offset=".258" stop-color="#842e5e"/><stop offset=".412" stop-color="#f3545c"/><stop offset=".434" stop-color="#fc565a"/><stop offset=".691" stop-color="#800001"/><stop offset=".916" stop-color="#5964fe"/><stop offset="1" stop-color="#9b3c99"/></linearGradient>
<linearGradient id="f11" gradientUnits="userSpaceOnUse" x1="1248.2" y1="1226.6" x2="1327" y2="1071.9"><stop offset="0" stop-color="#69245e"/><stop offset=".062" stop-color="#511c5f"/><stop offset=".151" stop-color="#5c205f"/><stop offset=".274" stop-color="#9a355e"/><stop offset=".41" stop-color="#fe575b"/><stop offset=".667" stop-color="#800001"/><stop offset=".887" stop-color="#5864ff"/><stop offset="1" stop-color="#b32e74"/></linearGradient>
<linearGradient id="f10" gradientUnits="userSpaceOnUse" x1="1244.8" y1="1227.9" x2="1320.5" y2="1072.6"><stop offset="0" stop-color="#68245e"/><stop offset=".062" stop-color="#541d5f"/><stop offset=".15" stop-color="#64235e"/><stop offset=".272" stop-color="#a83a5d"/><stop offset=".387" stop-color="#fd575b"/><stop offset=".64" stop-color="#800001"/><stop offset=".857" stop-color="#5864fe"/><stop offset="1" stop-color="#cc1f4e"/></linearGradient>
<linearGradient id="f9" gradientUnits="userSpaceOnUse" x1="1241.4" y1="1229" x2="1314.1" y2="1073.2"><stop offset="0" stop-color="#67235e"/><stop offset=".064" stop-color="#571e5f"/><stop offset=".156" stop-color="#71275e"/><stop offset=".283" stop-color="#c1435d"/><stop offset=".36" stop-color="#ff585c"/><stop offset=".613" stop-color="#800001"/><stop offset=".828" stop-color="#5863fd"/><stop offset="1" stop-color="#e51028"/></linearGradient>
<linearGradient id="f8" gradientUnits="userSpaceOnUse" x1="1238.1" y1="1230.1" x2="1312.1" y2="1071.3"><stop offset="0" stop-color="#66235e"/><stop offset=".065" stop-color="#5c205f"/><stop offset=".158" stop-color="#7b2a5e"/><stop offset=".291" stop-color="#d5495d"/><stop offset=".343" stop-color="#fe575b"/><stop offset=".591" stop-color="#800001"/><stop offset=".801" stop-color="#5863fc"/><stop offset=".851" stop-color="#7f4dc3"/><stop offset="1" stop-color="#ff0001"/></linearGradient>
<linearGradient id="f7" gradientUnits="userSpaceOnUse" x1="1234.7" y1="1231.1" x2="1305.6" y2="1071.8"><stop offset="0" stop-color="#67235e"/><stop offset=".067" stop-color="#62225e"/><stop offset=".164" stop-color="#8a305e"/><stop offset=".303" stop-color="#f2545c"/><stop offset=".322" stop-color="#fd575b"/><stop offset=".565" stop-color="#800102"/><stop offset=".772" stop-color="#5963fb"/><stop offset=".793" stop-color="#675be8"/><stop offset=".969" stop-color="#fe0102"/><stop offset="1" stop-color="#ff0000"/></linearGradient>
<linearGradient id="f6" gradientUnits="userSpaceOnUse" x1="1231.3" y1="1232" x2="1299.1" y2="1072.3"><stop offset="0" stop-color="#68245e"/><stop offset=".066" stop-color="#68245e"/><stop offset=".166" stop-color="#99355e"/><stop offset=".296" stop-color="#fe575b"/><stop offset=".539" stop-color="#800102"/><stop offset=".744" stop-color="#5962fb"/><stop offset=".757" stop-color="#615ff2"/><stop offset=".938" stop-color="#fd0104"/><stop offset="1" stop-color="#ff0000"/></linearGradient>
<linearGradient id="f5" gradientUnits="userSpaceOnUse" x1="1227.9" y1="1232.9" x2="1292.6" y2="1072.8"><stop offset="0" stop-color="#6a255e"/><stop offset=".068" stop-color="#70275e"/><stop offset=".172" stop-color="#ab3b5d"/><stop offset=".276" stop-color="#fd575b"/><stop offset=".514" stop-color="#800102"/><stop offset=".715" stop-color="#5962fa"/><stop offset=".729" stop-color="#605ff2"/><stop offset=".915" stop-color="#ff0000"/><stop offset="1" stop-color="#ff0000"/></linearGradient>
<linearGradient id="f4" gradientUnits="userSpaceOnUse" x1="1224.6" y1="1233.7" x2="1290.5" y2="1070.5"><stop offset="0" stop-color="#6d255e"/><stop offset=".07" stop-color="#782a5e"/><stop offset=".175" stop-color="#b9405d"/><stop offset=".257" stop-color="#fe585c"/><stop offset=".494" stop-color="#800103"/><stop offset=".69" stop-color="#5962fa"/><stop offset=".697" stop-color="#5a63fc"/><stop offset=".886" stop-color="#ff0000"/><stop offset="1" stop-color="#ff0000"/></linearGradient>
<linearGradient id="f3" gradientUnits="userSpaceOnUse" x1="1221.2" y1="1234.4" x2="1284" y2="1070.9"><stop offset="0" stop-color="#70275e"/><stop offset=".072" stop-color="#832d5e"/><stop offset=".181" stop-color="#ce475d"/><stop offset=".238" stop-color="#fd575b"/><stop offset=".47" stop-color="#7f0103"/><stop offset=".663" stop-color="#5962f9"/><stop offset=".67" stop-color="#5a63fc"/><stop offset=".856" stop-color="#ff0000"/><stop offset="1" stop-color="#ff0000"/></linearGradient>
<linearGradient id="f2" gradientUnits="userSpaceOnUse" x1="1217.8" y1="1235.1" x2="1277.5" y2="1071.2"><stop offset="0" stop-color="#74285e"/><stop offset=".074" stop-color="#8e315e"/><stop offset=".187" stop-color="#e64f5c"/><stop offset=".216" stop-color="#fe585c"/><stop offset=".446" stop-color="#7f0204"/><stop offset=".643" stop-color="#5a63fd"/><stop offset=".827" stop-color="#ff0000"/><stop offset="1" stop-color="#ff0000"/></linearGradient>
<linearGradient id="f1" gradientUnits="userSpaceOnUse" x1="1214.5" y1="1235.7" x2="1275.3" y2="1068.6"><stop offset="0" stop-color="#792a5e"/><stop offset=".075" stop-color="#98355e"/><stop offset=".194" stop-color="#fa565c"/><stop offset=".222" stop-color="#f35053"/><stop offset=".422" stop-color="#810101"/><stop offset=".619" stop-color="#5963fd"/><stop offset=".799" stop-color="#ff0000"/><stop offset="1" stop-color="#ff0000"/></linearGradient>
<linearGradient id="f0" gradientUnits="userSpaceOnUse" x1="1210.1" y1="1236.3" x2="1268" y2="1068"><stop offset="0" stop-color="#812c5e"/><stop offset=".078" stop-color="#aa3b5d"/><stop offset=".178" stop-color="#fd575b"/><stop offset=".395" stop-color="#800000"/><stop offset=".581" stop-color="#5962fa"/><stop offset=".588" stop-color="#5a63fc"/><stop offset=".764" stop-color="#ff0000"/><stop offset="1" stop-color="#ff0000"/></linearGradient>
<linearGradient id="g47" gradientUnits="userSpaceOnUse" x1="358.9" y1="1662.1" x2="495" y2="1481.4"><stop offset="0" stop-color="#007675"/><stop offset=".222" stop-color="#064548"/><stop offset=".566" stop-color="#6f0d3e"/><stop offset=".718" stop-color="#88003e"/><stop offset=".918" stop-color="#88003f"/><stop offset=".973" stop-color="#7c063d"/><stop offset="1" stop-color="#6c0f3e"/></linearGradient>
<linearGradient id="g46" gradientUnits="userSpaceOnUse" x1="357" y1="1661.3" x2="493" y2="1480.9"><stop offset="0" stop-color="#007473"/><stop offset=".208" stop-color="#044648"/><stop offset=".555" stop-color="#6f0d3e"/><stop offset=".7" stop-color="#88003f"/><stop offset=".909" stop-color="#880042"/><stop offset=".968" stop-color="#81043d"/><stop offset="1" stop-color="#6f0d3e"/></linearGradient>
<linearGradient id="g45" gradientUnits="userSpaceOnUse" x1="354.4" y1="1660.4" x2="490.2" y2="1480.2"><stop offset="0" stop-color="#007170"/><stop offset=".193" stop-color="#044648"/><stop offset=".544" stop-color="#710c3e"/><stop offset=".671" stop-color="#88003f"/><stop offset=".894" stop-color="#880046"/><stop offset=".975" stop-color="#82033d"/><stop offset="1" stop-color="#730b3e"/></linearGradient>
<linearGradient id="g44" gradientUnits="userSpaceOnUse" x1="351.8" y1="1659.5" x2="487.3" y2="1479.7"><stop offset="0" stop-color="#006e6d"/><stop offset=".179" stop-color="#034648"/><stop offset=".539" stop-color="#750a3e"/><stop offset=".651" stop-color="#88003f"/><stop offset=".881" stop-color="#88004a"/><stop offset=".982" stop-color="#83033c"/><stop offset="1" stop-color="#77093d"/></linearGradient>
<linearGradient id="g43" gradientUnits="userSpaceOnUse" x1="349.2" y1="1658.8" x2="484.5" y2="1479.3"><stop offset="0" stop-color="#006b6a"/><stop offset=".171" stop-color="#054548"/><stop offset=".533" stop-color="#77093d"/><stop offset=".631" stop-color="#88003f"/><stop offset=".871" stop-color="#88004d"/><stop offset=".986" stop-color="#84023c"/><stop offset="1" stop-color="#7b073d"/></linearGradient>
<linearGradient id="g42" gradientUnits="userSpaceOnUse" x1="346.6" y1="1658.2" x2="487.1" y2="1478.4"><stop offset="0" stop-color="#006968"/><stop offset=".155" stop-color="#044648"/><stop offset=".512" stop-color="#77093e"/><stop offset=".611" stop-color="#880040"/><stop offset=".857" stop-color="#88004f"/><stop offset=".992" stop-color="#83033c"/><stop offset="1" stop-color="#7e063d"/></linearGradient>
<linearGradient id="g41" gradientUnits="userSpaceOnUse" x1="344" y1="1657.8" x2="484.2" y2="1478.3"><stop offset="0" stop-color="#006665"/><stop offset=".147" stop-color="#054548"/><stop offset=".512" stop-color="#7a073d"/><stop offset=".596" stop-color="#880040"/><stop offset=".85" stop-color="#880051"/><stop offset=".983" stop-color="#88003e"/><stop offset="1" stop-color="#80043d"/></linearGradient>
<linearGradient id="g40" gradientUnits="userSpaceOnUse" x1="341.4" y1="1657.4" x2="481.4" y2="1478.2"><stop offset="0" stop-color="#006463"/><stop offset=".133" stop-color="#034648"/><stop offset=".501" stop-color="#7a073d"/><stop offset=".585" stop-color="#880040"/><stop offset=".843" stop-color="#880053"/><stop offset=".979" stop-color="#880041"/><stop offset="1" stop-color="#83033c"/></linearGradient>
<linearGradient id="g39" gradientUnits="userSpaceOnUse" x1="338.8" y1="1657.2" x2="478.6" y2="1478.3"><stop offset="0" stop-color="#006261"/><stop offset=".125" stop-color="#044648"/><stop offset=".495" stop-color="#7c063d"/><stop offset=".575" stop-color="#880041"/><stop offset=".84" stop-color="#880055"/><stop offset=".977" stop-color="#880043"/><stop offset="1" stop-color="#85023c"/></linearGradient>
<linearGradient id="g38" gradientUnits="userSpaceOnUse" x1="336.2" y1="1657.1" x2="481.2" y2="1478.1"><stop offset="0" stop-color="#006060"/><stop offset=".116" stop-color="#044648"/><stop offset=".485" stop-color="#7d063d"/><stop offset=".565" stop-color="#880041"/><stop offset=".833" stop-color="#880056"/><stop offset=".976" stop-color="#880044"/><stop offset="1" stop-color="#87013c"/></linearGradient>
<linearGradient id="g37" gradientUnits="userSpaceOnUse" x1="333.6" y1="1657.2" x2="494.7" y2="1478.2"><stop offset="0" stop-color="#005f5e"/><stop offset=".105" stop-color="#044648"/><stop offset=".456" stop-color="#7a073d"/><stop offset=".536" stop-color="#880040"/><stop offset=".806" stop-color="#880057"/><stop offset=".965" stop-color="#880047"/><stop offset="1" stop-color="#88003c"/></linearGradient>
<linearGradient id="g36" gradientUnits="userSpaceOnUse" x1="331" y1="1657.3" x2="513.5" y2="1481"><stop offset="0" stop-color="#005d5d"/><stop offset=".101" stop-color="#064547"/><stop offset=".437" stop-color="#7b073d"/><stop offset=".516" stop-color="#880041"/><stop offset=".789" stop-color="#880058"/><stop offset=".961" stop-color="#880048"/><stop offset="1" stop-color="#88003d"/></linearGradient>
<linearGradient id="g35" gradientUnits="userSpaceOnUse" x1="328.4" y1="1657.6" x2="537" y2="1488.6"><stop offset="0" stop-color="#005c5b"/><stop offset=".09" stop-color="#054548"/><stop offset=".404" stop-color="#77093d"/><stop offset=".488" stop-color="#880040"/><stop offset=".761" stop-color="#880059"/><stop offset=".95" stop-color="#88004a"/><stop offset="1" stop-color="#88003d"/></linearGradient>
<linearGradient id="g34" gradientUnits="userSpaceOnUse" x1="325.7" y1="1658" x2="558.9" y2="1500.7"><stop offset="0" stop-color="#005b5a"/><stop offset=".08" stop-color="#044648"/><stop offset=".379" stop-color="#750a3e"/><stop offset=".468" stop-color="#880040"/><stop offset=".743" stop-color="#880059"/><stop offset=".942" stop-color="#88004b"/><stop offset="1" stop-color="#88003e"/></linearGradient>
<linearGradient id="g33" gradientUnits="userSpaceOnUse" x1="323.1" y1="1658.5" x2="586.5" y2="1524.3"><stop offset="0" stop-color="#005a5a"/><stop offset=".075" stop-color="#054548"/><stop offset=".351" stop-color="#730b3e"/><stop offset=".444" stop-color="#880040"/><stop offset=".716" stop-color="#88005a"/><stop offset=".932" stop-color="#88004c"/><stop offset="1" stop-color="#88003e"/></linearGradient>
<linearGradient id="g32" gradientUnits="userSpaceOnUse" x1="320.5" y1="1659.2" x2="610.6" y2="1559.3"><stop offset="0" stop-color="#005959"/><stop offset=".071" stop-color="#064547"/><stop offset=".323" stop-color="#700d3e"/><stop offset=".419" stop-color="#88003f"/><stop offset=".688" stop-color="#88005a"/><stop offset=".921" stop-color="#88004c"/><stop offset="1" stop-color="#88003e"/></linearGradient>
<linearGradient id="g31" gradientUnits="userSpaceOnUse" x1="317.9" y1="1659.9" x2="626.6" y2="1611"><stop offset="0" stop-color="#005959"/><stop offset=".06" stop-color="#044648"/><stop offset=".287" stop-color="#6b0f3f"/><stop offset=".391" stop-color="#88003f"/><stop offset=".655" stop-color="#880059"/><stop offset=".903" stop-color="#88004d"/><stop offset="1" stop-color="#88003d"/></linearGradient>
<linearGradient id="g30" gradientUnits="userSpaceOnUse" x1="315.3" y1="1660.8" x2="624.3" y2="1666.2"><stop offset="0" stop-color="#005958"/><stop offset=".054" stop-color="#054648"/><stop offset=".258" stop-color="#67113f"/><stop offset=".368" stop-color="#88003f"/><stop offset=".633" stop-color="#880059"/><stop offset=".899" stop-color="#88004c"/><stop offset="1" stop-color="#88003d"/></linearGradient>
<linearGradient id="g29" gradientUnits="userSpaceOnUse" x1="312.7" y1="1661.8" x2="603.5" y2="1718.4"><stop offset="0" stop-color="#005958"/><stop offset=".049" stop-color="#054548"/><stop offset=".229" stop-color="#63143f"/><stop offset=".344" stop-color="#88003e"/><stop offset=".604" stop-color="#880059"/><stop offset=".884" stop-color="#88004c"/><stop offset="1" stop-color="#88003c"/></linearGradient>
<linearGradient id="g28" gradientUnits="userSpaceOnUse" x1="310.1" y1="1663" x2="566.5" y2="1761.4"><stop offset="0" stop-color="#005958"/><stop offset=".043" stop-color="#054648"/><stop offset=".194" stop-color="#5d1740"/><stop offset=".316" stop-color="#88003e"/><stop offset=".571" stop-color="#880058"/><stop offset=".873" stop-color="#88004b"/><stop offset="1" stop-color="#87013c"/></linearGradient>
<linearGradient id="g27" gradientUnits="userSpaceOnUse" x1="307.5" y1="1664.2" x2="522.4" y2="1788.3"><stop offset="0" stop-color="#005959"/><stop offset=".037" stop-color="#044648"/><stop offset=".159" stop-color="#561b40"/><stop offset=".287" stop-color="#88003d"/><stop offset=".531" stop-color="#880057"/><stop offset=".849" stop-color="#88004c"/><stop offset="1" stop-color="#85023c"/></linearGradient>
<linearGradient id="g26" gradientUnits="userSpaceOnUse" x1="304.9" y1="1665.6" x2="483.4" y2="1800.1"><stop offset="0" stop-color="#005959"/><stop offset=".033" stop-color="#064547"/><stop offset=".135" stop-color="#531c41"/><stop offset=".259" stop-color="#88003d"/><stop offset=".497" stop-color="#880056"/><stop offset=".83" stop-color="#88004b"/><stop offset="1" stop-color="#83033c"/></linearGradient>
<linearGradient id="g25" gradientUnits="userSpaceOnUse" x1="302.3" y1="1667.1" x2="464.8" y2="1803.5"><stop offset="0" stop-color="#005a5a"/><stop offset=".03" stop-color="#054548"/><stop offset=".118" stop-color="#4d1f41"/><stop offset=".245" stop-color="#87003c"/><stop offset=".488" stop-color="#880055"/><stop offset=".831" stop-color="#880049"/><stop offset=".992" stop-color="#82033d"/><stop offset="1" stop-color="#81043d"/></linearGradient>
<linearGradient id="g24" gradientUnits="userSpaceOnUse" x1="299.7" y1="1668.8" x2="462.4" y2="1805.3"><stop offset="0" stop-color="#005b5a"/><stop offset=".033" stop-color="#064547"/><stop offset=".125" stop-color="#4f1e41"/><stop offset=".254" stop-color="#88003c"/><stop offset=".494" stop-color="#880054"/><stop offset=".845" stop-color="#880046"/><stop offset=".977" stop-color="#82033d"/><stop offset="1" stop-color="#7e053d"/></linearGradient>
<linearGradient id="g23" gradientUnits="userSpaceOnUse" x1="297.1" y1="1670.5" x2="460" y2="1807.3"><stop offset="0" stop-color="#005c5b"/><stop offset=".033" stop-color="#044648"/><stop offset=".125" stop-color="#4d1f41"/><stop offset=".259" stop-color="#87003c"/><stop offset=".511" stop-color="#880052"/><stop offset=".866" stop-color="#880042"/><stop offset=".977" stop-color="#7f053d"/><stop offset="1" stop-color="#7b073d"/></linearGradient>
<linearGradient id="g22" gradientUnits="userSpaceOnUse" x1="294.5" y1="1672.4" x2="457.7" y2="1809.3"><stop offset="0" stop-color="#005d5d"/><stop offset=".035" stop-color="#054548"/><stop offset=".129" stop-color="#4d1f41"/><stop offset=".263" stop-color="#86013c"/><stop offset=".529" stop-color="#880051"/><stop offset=".888" stop-color="#88003e"/><stop offset="1" stop-color="#78093d"/></linearGradient>
<linearGradient id="g21" gradientUnits="userSpaceOnUse" x1="291.9" y1="1674.4" x2="455.3" y2="1811.5"><stop offset="0" stop-color="#005f5e"/><stop offset=".038" stop-color="#054548"/><stop offset=".132" stop-color="#4c2041"/><stop offset=".268" stop-color="#84023c"/><stop offset=".552" stop-color="#88004f"/><stop offset=".917" stop-color="#83033c"/><stop offset="1" stop-color="#740b3e"/></linearGradient>
<linearGradient id="g20" gradientUnits="userSpaceOnUse" x1="289.3" y1="1676.5" x2="474.5" y2="1811.1"><stop offset="0" stop-color="#006060"/><stop offset=".047" stop-color="#054548"/><stop offset=".157" stop-color="#4f1e41"/><stop offset=".305" stop-color="#86013c"/><stop offset=".587" stop-color="#88004d"/><stop offset=".901" stop-color="#83033c"/><stop offset="1" stop-color="#700d3e"/></linearGradient>
<linearGradient id="g19" gradientUnits="userSpaceOnUse" x1="286.6" y1="1678.8" x2="493.1" y2="1807.8"><stop offset="0" stop-color="#006261"/><stop offset=".055" stop-color="#044648"/><stop offset=".178" stop-color="#501e41"/><stop offset=".336" stop-color="#86013c"/><stop offset=".625" stop-color="#88004a"/><stop offset=".885" stop-color="#82033c"/><stop offset="1" stop-color="#6c0f3f"/></linearGradient>
<linearGradient id="g18" gradientUnits="userSpaceOnUse" x1="284" y1="1681.2" x2="505.8" y2="1804.1"><stop offset="0" stop-color="#006463"/><stop offset=".062" stop-color="#044648"/><stop offset=".199" stop-color="#521d41"/><stop offset=".367" stop-color="#86013c"/><stop offset=".658" stop-color="#880047"/><stop offset=".863" stop-color="#82033d"/><stop offset="1" stop-color="#67123f"/></linearGradient>
<linearGradient id="g17" gradientUnits="userSpaceOnUse" x1="281.4" y1="1683.7" x2="517.8" y2="1798.9"><stop offset="0" stop-color="#006665"/><stop offset=".074" stop-color="#054548"/><stop offset=".221" stop-color="#531c41"/><stop offset=".397" stop-color="#85013c"/><stop offset=".701" stop-color="#880042"/><stop offset=".849" stop-color="#81043d"/><stop offset="1" stop-color="#62143f"/></linearGradient>
<linearGradient id="g16" gradientUnits="userSpaceOnUse" x1="278.8" y1="1686.3" x2="528.8" y2="1792.4"><stop offset="0" stop-color="#006868"/><stop offset=".081" stop-color="#044648"/><stop offset=".233" stop-color="#511d41"/><stop offset=".412" stop-color="#82033d"/><stop offset=".619" stop-color="#880042"/><stop offset=".812" stop-color="#82033d"/><stop offset="1" stop-color="#5d1740"/></linearGradient>
<linearGradient id="g15" gradientUnits="userSpaceOnUse" x1="276.2" y1="1689" x2="538.7" y2="1784.6"><stop offset="0" stop-color="#006b6a"/><stop offset=".093" stop-color="#044648"/><stop offset=".255" stop-color="#511d41"/><stop offset=".441" stop-color="#80043d"/><stop offset=".622" stop-color="#88003f"/><stop offset=".805" stop-color="#7e053d"/><stop offset="1" stop-color="#571a40"/></linearGradient>
<linearGradient id="g14" gradientUnits="userSpaceOnUse" x1="273.6" y1="1691.9" x2="543.9" y2="1779.7"><stop offset="0" stop-color="#006e6d"/><stop offset=".104" stop-color="#044648"/><stop offset=".274" stop-color="#511d41"/><stop offset=".462" stop-color="#7d063d"/><stop offset=".676" stop-color="#85013c"/><stop offset=".912" stop-color="#66123f"/><stop offset="1" stop-color="#511d41"/></linearGradient>
<linearGradient id="g13" gradientUnits="userSpaceOnUse" x1="271" y1="1694.9" x2="548.4" y2="1774.4"><stop offset="0" stop-color="#007170"/><stop offset=".115" stop-color="#044648"/><stop offset=".288" stop-color="#4e1e41"/><stop offset=".483" stop-color="#79083d"/><stop offset=".697" stop-color="#7f053d"/><stop offset=".93" stop-color="#5c1740"/><stop offset="1" stop-color="#4b2041"/></linearGradient>
<linearGradient id="g12" gradientUnits="userSpaceOnUse" x1="268.4" y1="1698" x2="552.3" y2="1768.8"><stop offset="0" stop-color="#007473"/><stop offset=".131" stop-color="#064548"/><stop offset=".312" stop-color="#4f1e41"/><stop offset=".509" stop-color="#750a3e"/><stop offset=".723" stop-color="#77093e"/><stop offset=".954" stop-color="#501e41"/><stop offset="1" stop-color="#442442"/></linearGradient>
<linearGradient id="g11" gradientUnits="userSpaceOnUse" x1="265.8" y1="1701.2" x2="552.8" y2="1767.5"><stop offset="0" stop-color="#007776"/><stop offset=".142" stop-color="#044648"/><stop offset=".324" stop-color="#4b2041"/><stop offset=".522" stop-color="#700d3e"/><stop offset=".735" stop-color="#6f0d3e"/><stop offset=".966" stop-color="#472342"/><stop offset="1" stop-color="#3d2743"/></linearGradient>
<linearGradient id="g10" gradientUnits="userSpaceOnUse" x1="263.2" y1="1704.6" x2="555.7" y2="1761.4"><stop offset="0" stop-color="#007b79"/><stop offset=".159" stop-color="#054548"/><stop offset=".344" stop-color="#492142"/><stop offset=".542" stop-color="#6b103f"/><stop offset=".755" stop-color="#67123f"/><stop offset=".983" stop-color="#3b2943"/><stop offset="1" stop-color="#362b43"/></linearGradient>
<linearGradient id="g9" gradientUnits="userSpaceOnUse" x1="260.6" y1="1708.1" x2="555.6" y2="1760.1"><stop offset="0" stop-color="#007e7d"/><stop offset=".174" stop-color="#054548"/><stop offset=".366" stop-color="#472242"/><stop offset=".57" stop-color="#65123f"/><stop offset=".784" stop-color="#5c1740"/><stop offset="1" stop-color="#2f2f44"/></linearGradient>
<linearGradient id="g8" gradientUnits="userSpaceOnUse" x1="258" y1="1711.7" x2="557.5" y2="1753.8"><stop offset="0" stop-color="#008281"/><stop offset=".192" stop-color="#044648"/><stop offset=".385" stop-color="#442442"/><stop offset=".591" stop-color="#5e1640"/><stop offset=".803" stop-color="#531c41"/><stop offset="1" stop-color="#273345"/></linearGradient>
<linearGradient id="g7" gradientUnits="userSpaceOnUse" x1="255.4" y1="1715.4" x2="556.9" y2="1752.4"><stop offset="0" stop-color="#008685"/><stop offset=".213" stop-color="#054548"/><stop offset=".408" stop-color="#412642"/><stop offset=".614" stop-color="#571a40"/><stop offset=".825" stop-color="#472242"/><stop offset="1" stop-color="#1f3845"/></linearGradient>
<linearGradient id="g6" gradientUnits="userSpaceOnUse" x1="252.8" y1="1719.2" x2="556" y2="1751.1"><stop offset="0" stop-color="#008a89"/><stop offset=".229" stop-color="#034648"/><stop offset=".425" stop-color="#3c2843"/><stop offset=".631" stop-color="#4f1e41"/><stop offset=".842" stop-color="#3c2843"/><stop offset="1" stop-color="#163c46"/></linearGradient>
<linearGradient id="g5" gradientUnits="userSpaceOnUse" x1="250.2" y1="1723.2" x2="555" y2="1749.9"><stop offset="0" stop-color="#008f8d"/><stop offset=".245" stop-color="#014748"/><stop offset=".448" stop-color="#372b43"/><stop offset=".654" stop-color="#472242"/><stop offset=".864" stop-color="#302f44"/><stop offset="1" stop-color="#0d4147"/></linearGradient>
<linearGradient id="g4" gradientUnits="userSpaceOnUse" x1="247.5" y1="1727.3" x2="553.8" y2="1748.7"><stop offset="0" stop-color="#009392"/><stop offset=".257" stop-color="#004a4a"/><stop offset=".49" stop-color="#352c43"/><stop offset=".697" stop-color="#3d2843"/><stop offset=".907" stop-color="#1e3845"/><stop offset="1" stop-color="#044648"/></linearGradient>
<linearGradient id="g3" gradientUnits="userSpaceOnUse" x1="244.9" y1="1731.5" x2="552.4" y2="1747.7"><stop offset="0" stop-color="#009896"/><stop offset=".259" stop-color="#004f4f"/><stop offset=".328" stop-color="#0a4347"/><stop offset=".533" stop-color="#312e44"/><stop offset=".739" stop-color="#312e44"/><stop offset=".949" stop-color="#0a4347"/><stop offset="1" stop-color="#004b4b"/></linearGradient>
<linearGradient id="g2" gradientUnits="userSpaceOnUse" x1="242.3" y1="1735.9" x2="549.8" y2="1752"><stop offset="0" stop-color="#08969d"/><stop offset=".034" stop-color="#009290"/><stop offset=".294" stop-color="#004e4d"/><stop offset=".383" stop-color="#0f4047"/><stop offset=".588" stop-color="#2b3144"/><stop offset=".795" stop-color="#203745"/><stop offset=".974" stop-color="#004c4c"/><stop offset="1" stop-color="#005151"/></linearGradient>
<linearGradient id="g1" gradientUnits="userSpaceOnUse" x1="239.7" y1="1740.4" x2="548.2" y2="1751.1"><stop offset="0" stop-color="#1195a4"/><stop offset=".039" stop-color="#009593"/><stop offset=".301" stop-color="#005252"/><stop offset=".39" stop-color="#074447"/><stop offset=".595" stop-color="#223645"/><stop offset=".802" stop-color="#163c46"/><stop offset=".944" stop-color="#004d4d"/><stop offset="1" stop-color="#005756"/></linearGradient>
<linearGradient id="g0" gradientUnits="userSpaceOnUse" x1="236.3" y1="1746.3" x2="545.5" y2="1751.7"><stop offset="0" stop-color="#1c93ad"/><stop offset=".064" stop-color="#009492"/><stop offset=".333" stop-color="#005454"/><stop offset=".463" stop-color="#084447"/><stop offset=".668" stop-color="#153d46"/><stop offset=".904" stop-color="#004f4e"/><stop offset="1" stop-color="#005f5e"/></linearGradient>
<linearGradient id="h47" gradientUnits="userSpaceOnUse" x1="1372.2" y1="1554.1" x2="1493.7" y2="1773.4"><stop offset="0" stop-color="#5963fb"/><stop offset=".231" stop-color="#800000"/><stop offset=".496" stop-color="#ff585c"/><stop offset=".679" stop-color="#76295e"/><stop offset=".805" stop-color="#38135f"/><stop offset=".894" stop-color="#2c0f5f"/><stop offset=".954" stop-color="#43175f"/><stop offset=".992" stop-color="#6f265e"/><stop offset="1" stop-color="#7f2c5e"/></linearGradient>
<linearGradient id="h46" gradientUnits="userSpaceOnUse" x1="1369.7" y1="1556.8" x2="1490.7" y2="1774.9"><stop offset="0" stop-color="#5b5eef"/><stop offset=".217" stop-color="#7f0103"/><stop offset=".485" stop-color="#fe575b"/><stop offset=".68" stop-color="#6e265e"/><stop offset=".806" stop-color="#32115f"/><stop offset=".894" stop-color="#270d5f"/><stop offset=".954" stop-color="#3e165f"/><stop offset=".992" stop-color="#6c255e"/><stop offset="1" stop-color="#7c2b5e"/></linearGradient>
<linearGradient id="h45" gradientUnits="userSpaceOnUse" x1="1366.3" y1="1560.5" x2="1491.7" y2="1777.8"><stop offset="0" stop-color="#5d57dd"/><stop offset=".2" stop-color="#7f0104"/><stop offset=".47" stop-color="#fe585c"/><stop offset=".652" stop-color="#73285e"/><stop offset=".787" stop-color="#2e105f"/><stop offset=".883" stop-color="#1f0b60"/><stop offset=".946" stop-color="#34125f"/><stop offset=".986" stop-color="#5f215f"/><stop offset="1" stop-color="#78295e"/></linearGradient>
<linearGradient id="h44" gradientUnits="userSpaceOnUse" x1="1362.8" y1="1564.1" x2="1487.4" y2="1779.8"><stop offset="0" stop-color="#6050cd"/><stop offset=".193" stop-color="#820101"/><stop offset=".459" stop-color="#fd575c"/><stop offset=".643" stop-color="#70275e"/><stop offset=".78" stop-color="#290e5f"/><stop offset=".877" stop-color="#180860"/><stop offset=".944" stop-color="#2d105f"/><stop offset=".985" stop-color="#581f5f"/><stop offset="1" stop-color="#75285e"/></linearGradient>
<linearGradient id="h43" gradientUnits="userSpaceOnUse" x1="1359.3" y1="1567.5" x2="1488.4" y2="1782.3"><stop offset="0" stop-color="#624abd"/><stop offset=".177" stop-color="#810101"/><stop offset=".437" stop-color="#fe575b"/><stop offset=".651" stop-color="#60215e"/><stop offset=".781" stop-color="#200b5f"/><stop offset=".875" stop-color="#120660"/><stop offset=".94" stop-color="#270e5f"/><stop offset=".982" stop-color="#531d5f"/><stop offset="1" stop-color="#73285e"/></linearGradient>
<linearGradient id="h42" gradientUnits="userSpaceOnUse" x1="1355.9" y1="1570.9" x2="1484" y2="1784.1"><stop offset="0" stop-color="#6544ae"/><stop offset=".162" stop-color="#800000"/><stop offset=".425" stop-color="#fe575b"/><stop offset=".642" stop-color="#5e205f"/><stop offset=".774" stop-color="#1c0a60"/><stop offset=".869" stop-color="#0d0460"/><stop offset=".938" stop-color="#220c5f"/><stop offset=".981" stop-color="#4d1b5f"/><stop offset="1" stop-color="#71275e"/></linearGradient>
<linearGradient id="h41" gradientUnits="userSpaceOnUse" x1="1352.4" y1="1574.2" x2="1479.6" y2="1785.8"><stop offset="0" stop-color="#673fa0"/><stop offset=".147" stop-color="#7f0104"/><stop offset=".42" stop-color="#fd575c"/><stop offset=".611" stop-color="#6a255e"/><stop offset=".753" stop-color="#1e0a60"/><stop offset=".856" stop-color="#080360"/><stop offset=".928" stop-color="#190960"/><stop offset=".975" stop-color="#43175f"/><stop offset="1" stop-color="#71275e"/></linearGradient>
<linearGradient id="h40" gradientUnits="userSpaceOnUse" x1="1349" y1="1577.3" x2="1480.6" y2="1788"><stop offset="0" stop-color="#693992"/><stop offset=".138" stop-color="#800000"/><stop offset=".404" stop-color="#fe585c"/><stop offset=".597" stop-color="#69245e"/><stop offset=".742" stop-color="#1b0960"/><stop offset=".847" stop-color="#040160"/><stop offset=".921" stop-color="#130760"/><stop offset=".97" stop-color="#3d155f"/><stop offset="1" stop-color="#70275e"/></linearGradient>
<linearGradient id="h39" gradientUnits="userSpaceOnUse" x1="1345.5" y1="1580.3" x2="1476.2" y2="1789.5"><stop offset="0" stop-color="#6b3485"/><stop offset=".123" stop-color="#7f0104"/><stop offset=".392" stop-color="#fe575b"/><stop offset=".604" stop-color="#5f215f"/><stop offset=".747" stop-color="#150760"/><stop offset=".852" stop-color="#010060"/><stop offset=".924" stop-color="#130760"/><stop offset=".973" stop-color="#3f165f"/><stop offset="1" stop-color="#71275e"/></linearGradient>
<linearGradient id="h38" gradientUnits="userSpaceOnUse" x1="1342" y1="1583.2" x2="1477.2" y2="1791.3"><stop offset="0" stop-color="#6d2f79"/><stop offset=".114" stop-color="#800001"/><stop offset=".383" stop-color="#fe585c"/><stop offset=".579" stop-color="#67235e"/><stop offset=".726" stop-color="#170860"/><stop offset=".827" stop-color="#000060"/><stop offset=".902" stop-color="#080360"/><stop offset=".958" stop-color="#2f105f"/><stop offset=".995" stop-color="#67245e"/><stop offset="1" stop-color="#73285e"/></linearGradient>
<linearGradient id="h37" gradientUnits="userSpaceOnUse" x1="1338.6" y1="1586" x2="1472.7" y2="1792.6"><stop offset="0" stop-color="#6f2b6e"/><stop offset=".106" stop-color="#810101"/><stop offset=".371" stop-color="#fe575b"/><stop offset=".591" stop-color="#5a1f5f"/><stop offset=".737" stop-color="#100660"/><stop offset=".82" stop-color="#000060"/><stop offset=".9" stop-color="#070260"/><stop offset=".957" stop-color="#2d105f"/><stop offset=".993" stop-color="#65235e"/><stop offset="1" stop-color="#75285e"/></linearGradient>
<linearGradient id="h36" gradientUnits="userSpaceOnUse" x1="1335.1" y1="1588.7" x2="1468.3" y2="1793.8"><stop offset="0" stop-color="#702763"/><stop offset=".099" stop-color="#820101"/><stop offset=".365" stop-color="#ff585c"/><stop offset=".57" stop-color="#63225e"/><stop offset=".72" stop-color="#140760"/><stop offset=".806" stop-color="#000060"/><stop offset=".898" stop-color="#050260"/><stop offset=".955" stop-color="#2c0f5f"/><stop offset=".992" stop-color="#64235e"/><stop offset="1" stop-color="#78295e"/></linearGradient>
<linearGradient id="h35" gradientUnits="userSpaceOnUse" x1="1331.6" y1="1591.3" x2="1469.2" y2="1795.3"><stop offset="0" stop-color="#722359"/><stop offset=".082" stop-color="#7f0104"/><stop offset=".356" stop-color="#ff585c"/><stop offset=".556" stop-color="#66235e"/><stop offset=".707" stop-color="#150760"/><stop offset=".795" stop-color="#000060"/><stop offset=".896" stop-color="#060260"/><stop offset=".954" stop-color="#2e105f"/><stop offset=".991" stop-color="#68245e"/><stop offset="1" stop-color="#7b2b5e"/></linearGradient>
<linearGradient id="h34" gradientUnits="userSpaceOnUse" x1="1328.2" y1="1593.7" x2="1464.8" y2="1796.3"><stop offset="0" stop-color="#731f50"/><stop offset=".074" stop-color="#7f0103"/><stop offset=".35" stop-color="#fe585c"/><stop offset=".551" stop-color="#66235e"/><stop offset=".704" stop-color="#150760"/><stop offset=".792" stop-color="#000060"/><stop offset=".893" stop-color="#060260"/><stop offset=".952" stop-color="#2e105f"/><stop offset=".99" stop-color="#68245e"/><stop offset="1" stop-color="#802c5e"/></linearGradient>
<linearGradient id="h33" gradientUnits="userSpaceOnUse" x1="1324.7" y1="1596" x2="1471" y2="1797.4"><stop offset="0" stop-color="#751c47"/><stop offset=".065" stop-color="#7f0104"/><stop offset=".338" stop-color="#ff585c"/><stop offset=".533" stop-color="#6a255e"/><stop offset=".687" stop-color="#170860"/><stop offset=".781" stop-color="#000060"/><stop offset=".882" stop-color="#060260"/><stop offset=".943" stop-color="#2d0f5f"/><stop offset=".987" stop-color="#69245e"/><stop offset="1" stop-color="#852e5e"/></linearGradient>
<linearGradient id="h32" gradientUnits="userSpaceOnUse" x1="1321.2" y1="1598.3" x2="1482.4" y2="1797.3"><stop offset="0" stop-color="#761940"/><stop offset=".063" stop-color="#820101"/><stop offset=".324" stop-color="#ff585c"/><stop offset=".529" stop-color="#64225e"/><stop offset=".676" stop-color="#170860"/><stop offset=".776" stop-color="#000060"/><stop offset=".871" stop-color="#070260"/><stop offset=".936" stop-color="#2e105f"/><stop offset=".983" stop-color="#6a255e"/><stop offset="1" stop-color="#8b305e"/></linearGradient>
<linearGradient id="h31" gradientUnits="userSpaceOnUse" x1="1317.8" y1="1600.4" x2="1493.6" y2="1795.7"><stop offset="0" stop-color="#771639"/><stop offset=".054" stop-color="#810101"/><stop offset=".31" stop-color="#fe575b"/><stop offset=".524" stop-color="#5f215f"/><stop offset=".671" stop-color="#150760"/><stop offset=".774" stop-color="#000060"/><stop offset=".86" stop-color="#090360"/><stop offset=".931" stop-color="#33125f"/><stop offset=".984" stop-color="#74285e"/><stop offset="1" stop-color="#91325e"/></linearGradient>
<linearGradient id="h30" gradientUnits="userSpaceOnUse" x1="1314.3" y1="1602.4" x2="1504.5" y2="1792.5"><stop offset="0" stop-color="#781432"/><stop offset=".045" stop-color="#800001"/><stop offset=".304" stop-color="#fe585c"/><stop offset=".487" stop-color="#70275e"/><stop offset=".636" stop-color="#1f0b60"/><stop offset=".757" stop-color="#020160"/><stop offset=".852" stop-color="#0d0560"/><stop offset=".926" stop-color="#39145f"/><stop offset=".983" stop-color="#7b2a5e"/><stop offset="1" stop-color="#98355e"/></linearGradient>
<linearGradient id="h29" gradientUnits="userSpaceOnUse" x1="1310.8" y1="1604.2" x2="1519.6" y2="1785.7"><stop offset="0" stop-color="#79122d"/><stop offset=".037" stop-color="#7f0104"/><stop offset=".289" stop-color="#fe575b"/><stop offset=".492" stop-color="#64235e"/><stop offset=".633" stop-color="#1d0a60"/><stop offset=".749" stop-color="#050260"/><stop offset=".846" stop-color="#130760"/><stop offset=".924" stop-color="#42175f"/><stop offset=".984" stop-color="#872e5e"/><stop offset="1" stop-color="#a1375d"/></linearGradient>
<linearGradient id="h28" gradientUnits="userSpaceOnUse" x1="1307.4" y1="1606" x2="1529.1" y2="1779.2"><stop offset="0" stop-color="#7a1028"/><stop offset=".036" stop-color="#800000"/><stop offset=".283" stop-color="#ff585c"/><stop offset=".461" stop-color="#73285e"/><stop offset=".604" stop-color="#260d5f"/><stop offset=".723" stop-color="#090360"/><stop offset=".824" stop-color="#140760"/><stop offset=".906" stop-color="#3e155f"/><stop offset=".974" stop-color="#832d5e"/><stop offset="1" stop-color="#a93a5d"/></linearGradient>
<linearGradient id="h27" gradientUnits="userSpaceOnUse" x1="1303.9" y1="1607.6" x2="1541.9" y2="1768.2"><stop offset="0" stop-color="#7a0e24"/><stop offset=".028" stop-color="#7f0103"/><stop offset=".275" stop-color="#ff585c"/><stop offset=".439" stop-color="#7b2b5e"/><stop offset=".582" stop-color="#2d105f"/><stop offset=".703" stop-color="#0f0560"/><stop offset=".807" stop-color="#170860"/><stop offset=".896" stop-color="#42175f"/><stop offset=".968" stop-color="#882f5e"/><stop offset="1" stop-color="#b33e5d"/></linearGradient>
<linearGradient id="h26" gradientUnits="userSpaceOnUse" x1="1300.4" y1="1609.2" x2="1553" y2="1755"><stop offset="0" stop-color="#7b0d21"/><stop offset=".027" stop-color="#800000"/><stop offset=".267" stop-color="#fe585c"/><stop offset=".428" stop-color="#7d2b5e"/><stop offset=".566" stop-color="#32115f"/><stop offset=".687" stop-color="#140760"/><stop offset=".793" stop-color="#1d0a60"/><stop offset=".886" stop-color="#48195f"/><stop offset=".966" stop-color="#91325e"/><stop offset="1" stop-color="#bd415d"/></linearGradient>
<linearGradient id="h25" gradientUnits="userSpaceOnUse" x1="1297" y1="1610.6" x2="1562.2" y2="1739.9"><stop offset="0" stop-color="#7b0c1e"/><stop offset=".026" stop-color="#810101"/><stop offset=".259" stop-color="#fe585c"/><stop offset=".412" stop-color="#832d5e"/><stop offset=".549" stop-color="#38135f"/><stop offset=".671" stop-color="#1a0960"/><stop offset=".78" stop-color="#230c5f"/><stop offset=".876" stop-color="#4e1b5f"/><stop offset=".96" stop-color="#98345e"/><stop offset="1" stop-color="#c8455d"/></linearGradient>
<linearGradient id="h24" gradientUnits="userSpaceOnUse" x1="1293.5" y1="1611.9" x2="1569.1" y2="1723.3"><stop offset="0" stop-color="#7c0b1d"/><stop offset=".025" stop-color="#820101"/><stop offset=".252" stop-color="#ff585c"/><stop offset=".407" stop-color="#822d5e"/><stop offset=".543" stop-color="#3b145f"/><stop offset=".665" stop-color="#200b5f"/><stop offset=".775" stop-color="#2c0f5f"/><stop offset=".874" stop-color="#5a1f5f"/><stop offset=".966" stop-color="#ab3b5d"/><stop offset="1" stop-color="#d4495d"/></linearGradient>
<linearGradient id="h23" gradientUnits="userSpaceOnUse" x1="1290" y1="1613.1" x2="1573.8" y2="1705.3"><stop offset="0" stop-color="#7c0b1c"/><stop offset=".024" stop-color="#820101"/><stop offset=".244" stop-color="#fe575b"/><stop offset=".408" stop-color="#7f2c5e"/><stop offset=".537" stop-color="#3f165f"/><stop offset=".659" stop-color="#270d5f"/><stop offset=".771" stop-color="#36135f"/><stop offset=".872" stop-color="#68245e"/><stop offset=".968" stop-color="#bb415d"/><stop offset="1" stop-color="#e04d5c"/></linearGradient>
<linearGradient id="h22" gradientUnits="userSpaceOnUse" x1="1286.6" y1="1614.2" x2="1576" y2="1686.3"><stop offset="0" stop-color="#7c0b1b"/><stop offset=".023" stop-color="#820101"/><stop offset=".237" stop-color="#fd565a"/><stop offset=".253" stop-color="#f4545c"/><stop offset=".392" stop-color="#872f5e"/><stop offset=".52" stop-color="#47185f"/><stop offset=".644" stop-color="#2f105f"/><stop offset=".757" stop-color="#3e155f"/><stop offset=".866" stop-color="#73285e"/><stop offset=".966" stop-color="#c8455d"/><stop offset="1" stop-color="#ee525c"/></linearGradient>
<linearGradient id="h21" gradientUnits="userSpaceOnUse" x1="1283.1" y1="1615.1" x2="1575.6" y2="1666.7"><stop offset="0" stop-color="#7c0b1c"/><stop offset=".022" stop-color="#820101"/><stop offset=".224" stop-color="#f85357"/><stop offset=".24" stop-color="#fd575c"/><stop offset=".371" stop-color="#93335e"/><stop offset=".499" stop-color="#511c5f"/><stop offset=".623" stop-color="#38135f"/><stop offset=".739" stop-color="#46185f"/><stop offset=".851" stop-color="#792a5e"/><stop offset=".96" stop-color="#d1485d"/><stop offset="1" stop-color="#fc575c"/></linearGradient>
<linearGradient id="h20" gradientUnits="userSpaceOnUse" x1="1279.7" y1="1616" x2="1572.5" y2="1646.8"><stop offset="0" stop-color="#7b0b1d"/><stop offset=".021" stop-color="#810101"/><stop offset=".211" stop-color="#f45054"/><stop offset=".237" stop-color="#fc575c"/><stop offset=".366" stop-color="#95345e"/><stop offset=".493" stop-color="#571e5f"/><stop offset=".617" stop-color="#41165f"/><stop offset=".734" stop-color="#521c5f"/><stop offset=".85" stop-color="#882f5e"/><stop offset=".963" stop-color="#e44f5c"/><stop offset=".991" stop-color="#fe585c"/><stop offset="1" stop-color="#f95458"/></linearGradient>
<linearGradient id="h19" gradientUnits="userSpaceOnUse" x1="1276.2" y1="1616.7" x2="1566.9" y2="1626.9"><stop offset="0" stop-color="#7b0c1f"/><stop offset=".02" stop-color="#800000"/><stop offset=".199" stop-color="#ef4d50"/><stop offset=".234" stop-color="#fc575c"/><stop offset=".36" stop-color="#99355e"/><stop offset=".486" stop-color="#5e205f"/><stop offset=".606" stop-color="#4b1a5f"/><stop offset=".725" stop-color="#5e205f"/><stop offset=".843" stop-color="#96345e"/><stop offset=".961" stop-color="#f3545c"/><stop offset=".98" stop-color="#fc565a"/><stop offset="1" stop-color="#f24f52"/></linearGradient>
<linearGradient id="h18" gradientUnits="userSpaceOnUse" x1="1272.7" y1="1617.3" x2="1558.8" y2="1607.4"><stop offset="0" stop-color="#7b0d21"/><stop offset=".024" stop-color="#820102"/><stop offset=".191" stop-color="#ec4b4e"/><stop offset=".231" stop-color="#fd575c"/><stop offset=".349" stop-color="#a0375d"/><stop offset=".469" stop-color="#68245e"/><stop offset=".589" stop-color="#561e5f"/><stop offset=".71" stop-color="#69245e"/><stop offset=".837" stop-color="#a4385d"/><stop offset=".959" stop-color="#fd575b"/><stop offset="1" stop-color="#ea494c"/></linearGradient>
<linearGradient id="h17" gradientUnits="userSpaceOnUse" x1="1269.3" y1="1617.8" x2="1550.2" y2="1593.3"><stop offset="0" stop-color="#7a0e25"/><stop offset=".023" stop-color="#800000"/><stop offset=".185" stop-color="#e9494c"/><stop offset=".229" stop-color="#ff585c"/><stop offset=".351" stop-color="#a2385d"/><stop offset=".47" stop-color="#6f265e"/><stop offset=".59" stop-color="#62225e"/><stop offset=".718" stop-color="#7b2a5e"/><stop offset=".847" stop-color="#bc415d"/><stop offset=".937" stop-color="#ff585c"/><stop offset="1" stop-color="#e14346"/></linearGradient>
<linearGradient id="h16" gradientUnits="userSpaceOnUse" x1="1265.8" y1="1618.2" x2="1537.8" y2="1575.2"><stop offset="0" stop-color="#7a1029"/><stop offset=".027" stop-color="#820101"/><stop offset=".177" stop-color="#e6474a"/><stop offset=".229" stop-color="#fe585c"/><stop offset=".344" stop-color="#a93a5d"/><stop offset=".462" stop-color="#792a5e"/><stop offset=".583" stop-color="#6e265e"/><stop offset=".713" stop-color="#8b305e"/><stop offset=".846" stop-color="#d0485d"/><stop offset=".912" stop-color="#ff585c"/><stop offset="1" stop-color="#d83d40"/></linearGradient>
<linearGradient id="h15" gradientUnits="userSpaceOnUse" x1="1262.3" y1="1618.5" x2="1526.3" y2="1562.4"><stop offset="0" stop-color="#79122e"/><stop offset=".026" stop-color="#800102"/><stop offset=".171" stop-color="#e24447"/><stop offset=".23" stop-color="#fe585c"/><stop offset=".339" stop-color="#b03d5d"/><stop offset=".457" stop-color="#832d5e"/><stop offset=".579" stop-color="#7c2b5e"/><stop offset=".71" stop-color="#9c365e"/><stop offset=".847" stop-color="#e44f5c"/><stop offset=".886" stop-color="#ff585c"/><stop offset="1" stop-color="#cf3739"/></linearGradient>
<linearGradient id="h14" gradientUnits="userSpaceOnUse" x1="1258.9" y1="1618.7" x2="1513.7" y2="1550.4"><stop offset="0" stop-color="#781433"/><stop offset=".028" stop-color="#800001"/><stop offset=".164" stop-color="#de4144"/><stop offset=".231" stop-color="#ff585c"/><stop offset=".339" stop-color="#b63f5d"/><stop offset=".456" stop-color="#8e315e"/><stop offset=".579" stop-color="#8b305e"/><stop offset=".713" stop-color="#b03d5d"/><stop offset=".859" stop-color="#fe575b"/><stop offset="1" stop-color="#c63032"/></linearGradient>
<linearGradient id="h13" gradientUnits="userSpaceOnUse" x1="1255.4" y1="1618.7" x2="1500.1" y2="1539.2"><stop offset="0" stop-color="#77173a"/><stop offset=".031" stop-color="#800001"/><stop offset=".157" stop-color="#da3e41"/><stop offset=".236" stop-color="#fe585c"/><stop offset=".342" stop-color="#ba405d"/><stop offset=".46" stop-color="#99355e"/><stop offset=".585" stop-color="#9c365e"/><stop offset=".722" stop-color="#c7455d"/><stop offset=".831" stop-color="#fd565a"/><stop offset="1" stop-color="#bc292b"/></linearGradient>
<linearGradient id="h12" gradientUnits="userSpaceOnUse" x1="1251.9" y1="1618.7" x2="1485.5" y2="1529"><stop offset="0" stop-color="#761941"/><stop offset=".033" stop-color="#800102"/><stop offset=".154" stop-color="#d73c3f"/><stop offset=".24" stop-color="#fe585c"/><stop offset=".345" stop-color="#c1435d"/><stop offset=".464" stop-color="#a5395d"/><stop offset=".596" stop-color="#b03d5d"/><stop offset=".737" stop-color="#e44f5c"/><stop offset=".79" stop-color="#fe585c"/><stop offset="1" stop-color="#b12224"/></linearGradient>
<linearGradient id="h11" gradientUnits="userSpaceOnUse" x1="1248.5" y1="1618.5" x2="1474.5" y2="1522.6"><stop offset="0" stop-color="#751c49"/><stop offset=".038" stop-color="#810101"/><stop offset=".153" stop-color="#d43a3d"/><stop offset=".251" stop-color="#fd575c"/><stop offset=".357" stop-color="#c7455d"/><stop offset=".476" stop-color="#b43e5d"/><stop offset=".611" stop-color="#c7455d"/><stop offset=".755" stop-color="#fd575b"/><stop offset=".993" stop-color="#aa1d1e"/><stop offset="1" stop-color="#a71b1c"/></linearGradient>
<linearGradient id="h10" gradientUnits="userSpaceOnUse" x1="1245" y1="1618.2" x2="1458.6" y2="1514"><stop offset="0" stop-color="#732051"/><stop offset=".039" stop-color="#800000"/><stop offset=".145" stop-color="#ce3639"/><stop offset=".257" stop-color="#ff585c"/><stop offset=".364" stop-color="#d0485d"/><stop offset=".485" stop-color="#c5445d"/><stop offset=".623" stop-color="#e04d5c"/><stop offset=".705" stop-color="#fe575b"/><stop offset=".946" stop-color="#b22224"/><stop offset="1" stop-color="#9c1314"/></linearGradient>
<linearGradient id="h9" gradientUnits="userSpaceOnUse" x1="1241.5" y1="1617.8" x2="1446.9" y2="1508.6"><stop offset="0" stop-color="#72245b"/><stop offset=".044" stop-color="#810101"/><stop offset=".147" stop-color="#cd3538"/><stop offset=".271" stop-color="#ff585c"/><stop offset=".389" stop-color="#d94b5d"/><stop offset=".514" stop-color="#da4b5d"/><stop offset=".656" stop-color="#fd575b"/><stop offset=".897" stop-color="#b82729"/><stop offset="1" stop-color="#900b0c"/></linearGradient>
<linearGradient id="h8" gradientUnits="userSpaceOnUse" x1="1238.1" y1="1617.3" x2="1434.9" y2="1503.6"><stop offset="0" stop-color="#702765"/><stop offset=".044" stop-color="#800103"/><stop offset=".148" stop-color="#cb3436"/><stop offset=".276" stop-color="#fa5559"/><stop offset=".313" stop-color="#f9565c"/><stop offset=".431" stop-color="#e64f5c"/><stop offset=".567" stop-color="#fa565c"/><stop offset=".614" stop-color="#fa5559"/><stop offset=".854" stop-color="#bb292b"/><stop offset="1" stop-color="#850303"/></linearGradient>
<linearGradient id="h7" gradientUnits="userSpaceOnUse" x1="1234.6" y1="1616.6" x2="1422.7" y2="1499.1"><stop offset="0" stop-color="#6f2c6f"/><stop offset=".048" stop-color="#800103"/><stop offset=".145" stop-color="#c63032"/><stop offset=".272" stop-color="#f35054"/><stop offset=".366" stop-color="#fc575c"/><stop offset=".547" stop-color="#f95458"/><stop offset=".782" stop-color="#c53032"/><stop offset=".985" stop-color="#7f0103"/><stop offset="1" stop-color="#7e060f"/></linearGradient>
<linearGradient id="h6" gradientUnits="userSpaceOnUse" x1="1231.1" y1="1615.9" x2="1410.4" y2="1494.9"><stop offset="0" stop-color="#6d307b"/><stop offset=".045" stop-color="#7e060f"/><stop offset=".053" stop-color="#810101"/><stop offset=".146" stop-color="#c22e30"/><stop offset=".271" stop-color="#ed4b4f"/><stop offset=".438" stop-color="#f85357"/><stop offset=".653" stop-color="#da3f42"/><stop offset=".925" stop-color="#880606"/><stop offset=".948" stop-color="#800000"/><stop offset="1" stop-color="#7a1028"/></linearGradient>
<linearGradient id="h5" gradientUnits="userSpaceOnUse" x1="1227.7" y1="1615" x2="1403" y2="1492.3"><stop offset="0" stop-color="#6b3587"/><stop offset=".043" stop-color="#7b0b1d"/><stop offset=".058" stop-color="#800001"/><stop offset=".15" stop-color="#be2b2d"/><stop offset=".276" stop-color="#e6474a"/><stop offset=".444" stop-color="#ee4c50"/><stop offset=".662" stop-color="#cc3537"/><stop offset=".917" stop-color="#800103"/><stop offset="1" stop-color="#761a42"/></linearGradient>
<linearGradient id="h4" gradientUnits="userSpaceOnUse" x1="1224.2" y1="1614" x2="1395.5" y2="1489.6"><stop offset="0" stop-color="#693a94"/><stop offset=".042" stop-color="#79112b"/><stop offset=".064" stop-color="#800000"/><stop offset=".157" stop-color="#bb292b"/><stop offset=".285" stop-color="#df4245"/><stop offset=".456" stop-color="#e24447"/><stop offset=".685" stop-color="#ba282a"/><stop offset=".879" stop-color="#800102"/><stop offset="1" stop-color="#71245d"/></linearGradient>
<linearGradient id="h3" gradientUnits="userSpaceOnUse" x1="1220.7" y1="1612.9" x2="1393" y2="1487.7"><stop offset="0" stop-color="#673fa2"/><stop offset=".042" stop-color="#77173a"/><stop offset=".074" stop-color="#800000"/><stop offset=".173" stop-color="#b92729"/><stop offset=".309" stop-color="#d83d40"/><stop offset=".49" stop-color="#d43a3d"/><stop offset=".725" stop-color="#a3191a"/><stop offset=".843" stop-color="#800103"/><stop offset="1" stop-color="#6d2f78"/></linearGradient>
<linearGradient id="h2" gradientUnits="userSpaceOnUse" x1="1217.3" y1="1611.7" x2="1390.6" y2="1485.8"><stop offset="0" stop-color="#6445b0"/><stop offset=".042" stop-color="#741d49"/><stop offset=".086" stop-color="#810101"/><stop offset=".189" stop-color="#b52526"/><stop offset=".329" stop-color="#cf3739"/><stop offset=".519" stop-color="#c53032"/><stop offset=".766" stop-color="#8b0708"/><stop offset=".808" stop-color="#7f0205"/><stop offset="1" stop-color="#693a94"/></linearGradient>
<linearGradient id="h1" gradientUnits="userSpaceOnUse" x1="1213.8" y1="1610.4" x2="1388.1" y2="1483.8"><stop offset="0" stop-color="#624bc0"/><stop offset=".043" stop-color="#72235a"/><stop offset=".096" stop-color="#800102"/><stop offset=".209" stop-color="#b12224"/><stop offset=".359" stop-color="#c53032"/><stop offset=".555" stop-color="#b32325"/><stop offset=".76" stop-color="#800001"/><stop offset=".969" stop-color="#683b98"/><stop offset="1" stop-color="#6445b1"/></linearGradient>
<linearGradient id="h0" gradientUnits="userSpaceOnUse" x1="1209.3" y1="1608.5" x2="1379.9" y2="1479.9"><stop offset="0" stop-color="#5f53d5"/><stop offset=".041" stop-color="#6e2c70"/><stop offset=".097" stop-color="#7d0916"/><stop offset=".117" stop-color="#810001"/><stop offset=".23" stop-color="#aa1d1e"/><stop offset=".39" stop-color="#b62527"/><stop offset=".6" stop-color="#981112"/><stop offset=".703" stop-color="#7f0204"/><stop offset=".908" stop-color="#6a388e"/><stop offset="1" stop-color="#5e54d7"/></linearGradient>
<linearGradient id="i47" gradientUnits="userSpaceOnUse" x1="374.1" y1="2090.8" x2="594.7" y2="1992.6"><stop offset="0" stop-color="#153d46"/><stop offset=".228" stop-color="#61153f"/><stop offset=".422" stop-color="#7e053d"/><stop offset=".592" stop-color="#730b3e"/><stop offset=".734" stop-color="#452342"/><stop offset=".855" stop-color="#004c4c"/><stop offset=".977" stop-color="#019897"/><stop offset="1" stop-color="#1f92b0"/></linearGradient>
<linearGradient id="i46" gradientUnits="userSpaceOnUse" x1="371.9" y1="2090.9" x2="602.5" y2="1997.7"><stop offset="0" stop-color="#183b46"/><stop offset=".222" stop-color="#64133f"/><stop offset=".414" stop-color="#82033d"/><stop offset=".582" stop-color="#77093d"/><stop offset=".725" stop-color="#4a2141"/><stop offset=".857" stop-color="#004d4c"/><stop offset=".983" stop-color="#039799"/><stop offset="1" stop-color="#1993aa"/></linearGradient>
<linearGradient id="i45" gradientUnits="userSpaceOnUse" x1="368.9" y1="2091.1" x2="609.1" y2="2003.7"><stop offset="0" stop-color="#1b3a46"/><stop offset=".217" stop-color="#68113f"/><stop offset=".405" stop-color="#87013c"/><stop offset=".573" stop-color="#7d063d"/><stop offset=".716" stop-color="#511d41"/><stop offset=".843" stop-color="#074447"/><stop offset=".883" stop-color="#005857"/><stop offset=".989" stop-color="#039799"/><stop offset="1" stop-color="#1095a3"/></linearGradient>
<linearGradient id="i44" gradientUnits="userSpaceOnUse" x1="365.9" y1="2091.4" x2="619.2" y2="2013.9"><stop offset="0" stop-color="#1e3845"/><stop offset=".204" stop-color="#6b103f"/><stop offset=".367" stop-color="#88003d"/><stop offset=".565" stop-color="#82033c"/><stop offset=".714" stop-color="#541c41"/><stop offset=".843" stop-color="#084447"/><stop offset=".877" stop-color="#005353"/><stop offset=".996" stop-color="#049799"/><stop offset="1" stop-color="#08969d"/></linearGradient>
<linearGradient id="i43" gradientUnits="userSpaceOnUse" x1="362.8" y1="2091.8" x2="631.6" y2="2029.8"><stop offset="0" stop-color="#203745"/><stop offset=".195" stop-color="#6e0e3e"/><stop offset=".332" stop-color="#88003e"/><stop offset=".544" stop-color="#88003c"/><stop offset=".69" stop-color="#5e1640"/><stop offset=".828" stop-color="#123e46"/><stop offset=".864" stop-color="#004d4c"/><stop offset="1" stop-color="#009896"/></linearGradient>
<linearGradient id="i42" gradientUnits="userSpaceOnUse" x1="359.8" y1="2092.3" x2="641.4" y2="2047.7"><stop offset="0" stop-color="#223645"/><stop offset=".181" stop-color="#6f0d3e"/><stop offset=".299" stop-color="#88003e"/><stop offset=".51" stop-color="#880041"/><stop offset=".594" stop-color="#80043d"/><stop offset=".744" stop-color="#452342"/><stop offset=".861" stop-color="#004a4a"/><stop offset="1" stop-color="#009392"/></linearGradient>
<linearGradient id="i41" gradientUnits="userSpaceOnUse" x1="356.8" y1="2093" x2="648.4" y2="2067.4"><stop offset="0" stop-color="#233545"/><stop offset=".174" stop-color="#720c3e"/><stop offset=".272" stop-color="#88003e"/><stop offset=".481" stop-color="#880045"/><stop offset=".591" stop-color="#82033d"/><stop offset=".748" stop-color="#442442"/><stop offset=".863" stop-color="#004b4b"/><stop offset="1" stop-color="#008f8d"/></linearGradient>
<linearGradient id="i40" gradientUnits="userSpaceOnUse" x1="353.7" y1="2093.7" x2="653.7" y2="2093.7"><stop offset="0" stop-color="#243545"/><stop offset=".16" stop-color="#720c3e"/><stop offset=".25" stop-color="#88003f"/><stop offset=".455" stop-color="#880048"/><stop offset=".59" stop-color="#83033c"/><stop offset=".75" stop-color="#422542"/><stop offset=".865" stop-color="#004b4b"/><stop offset="1" stop-color="#008b89"/></linearGradient>
<linearGradient id="i39" gradientUnits="userSpaceOnUse" x1="350.7" y1="2094.6" x2="654.3" y2="2126.5"><stop offset="0" stop-color="#253445"/><stop offset=".145" stop-color="#720c3e"/><stop offset=".226" stop-color="#88003f"/><stop offset=".427" stop-color="#88004b"/><stop offset=".587" stop-color="#82033c"/><stop offset=".757" stop-color="#3c2843"/><stop offset=".867" stop-color="#004c4c"/><stop offset="1" stop-color="#008785"/></linearGradient>
<linearGradient id="i38" gradientUnits="userSpaceOnUse" x1="347.6" y1="2095.6" x2="646.7" y2="2164.6"><stop offset="0" stop-color="#253445"/><stop offset=".13" stop-color="#710c3e"/><stop offset=".206" stop-color="#88003f"/><stop offset=".396" stop-color="#88004d"/><stop offset=".577" stop-color="#83023c"/><stop offset=".758" stop-color="#392a43"/><stop offset=".863" stop-color="#004a4a"/><stop offset="1" stop-color="#008382"/></linearGradient>
<linearGradient id="i37" gradientUnits="userSpaceOnUse" x1="344.6" y1="2096.7" x2="629.8" y2="2200.5"><stop offset="0" stop-color="#253445"/><stop offset=".115" stop-color="#700d3e"/><stop offset=".186" stop-color="#88003f"/><stop offset=".37" stop-color="#88004e"/><stop offset=".567" stop-color="#84023c"/><stop offset=".755" stop-color="#382b43"/><stop offset=".866" stop-color="#004c4b"/><stop offset="1" stop-color="#007f7e"/></linearGradient>
<linearGradient id="i36" gradientUnits="userSpaceOnUse" x1="341.6" y1="2097.9" x2="597" y2="2239.5"><stop offset="0" stop-color="#253445"/><stop offset=".093" stop-color="#6c0f3e"/><stop offset=".162" stop-color="#88003f"/><stop offset=".332" stop-color="#880050"/><stop offset=".551" stop-color="#84023c"/><stop offset=".76" stop-color="#302e44"/><stop offset=".861" stop-color="#004b4b"/><stop offset="1" stop-color="#007c7b"/></linearGradient>
<linearGradient id="i35" gradientUnits="userSpaceOnUse" x1="338.5" y1="2099.2" x2="548.8" y2="2269.5"><stop offset="0" stop-color="#243545"/><stop offset=".07" stop-color="#68113f"/><stop offset=".133" stop-color="#88003e"/><stop offset=".292" stop-color="#880051"/><stop offset=".529" stop-color="#84023c"/><stop offset=".758" stop-color="#2b3144"/><stop offset=".854" stop-color="#004a4a"/><stop offset="1" stop-color="#007978"/></linearGradient>
<linearGradient id="i34" gradientUnits="userSpaceOnUse" x1="335.5" y1="2100.7" x2="503.8" y2="2281.2"><stop offset="0" stop-color="#233645"/><stop offset=".047" stop-color="#601540"/><stop offset=".106" stop-color="#88003d"/><stop offset=".245" stop-color="#880051"/><stop offset=".462" stop-color="#880041"/><stop offset=".533" stop-color="#7c073d"/><stop offset=".797" stop-color="#153d46"/><stop offset=".857" stop-color="#004c4c"/><stop offset="1" stop-color="#007675"/></linearGradient>
<linearGradient id="i33" gradientUnits="userSpaceOnUse" x1="332.4" y1="2102.3" x2="499.9" y2="2281.9"><stop offset="0" stop-color="#213745"/><stop offset=".046" stop-color="#5f1640"/><stop offset=".105" stop-color="#88003d"/><stop offset=".244" stop-color="#880052"/><stop offset=".461" stop-color="#880042"/><stop offset=".533" stop-color="#7e053d"/><stop offset=".797" stop-color="#193b46"/><stop offset=".864" stop-color="#004c4c"/><stop offset="1" stop-color="#007473"/></linearGradient>
<linearGradient id="i32" gradientUnits="userSpaceOnUse" x1="329.4" y1="2103.9" x2="501.3" y2="2281.9"><stop offset="0" stop-color="#1f3845"/><stop offset=".048" stop-color="#5e1640"/><stop offset=".111" stop-color="#88003d"/><stop offset=".252" stop-color="#880052"/><stop offset=".471" stop-color="#880042"/><stop offset=".542" stop-color="#7e053d"/><stop offset=".806" stop-color="#193b46"/><stop offset=".866" stop-color="#004a4a"/><stop offset="1" stop-color="#007170"/></linearGradient>
<linearGradient id="i31" gradientUnits="userSpaceOnUse" x1="326.4" y1="2105.7" x2="497.4" y2="2282.8"><stop offset="0" stop-color="#1c3945"/><stop offset=".048" stop-color="#5c1740"/><stop offset=".111" stop-color="#88003d"/><stop offset=".251" stop-color="#880052"/><stop offset=".47" stop-color="#880043"/><stop offset=".541" stop-color="#80043d"/><stop offset=".805" stop-color="#1c3946"/><stop offset=".873" stop-color="#004a4a"/><stop offset="1" stop-color="#006f6e"/></linearGradient>
<linearGradient id="i30" gradientUnits="userSpaceOnUse" x1="323.3" y1="2107.6" x2="493.5" y2="2283.8"><stop offset="0" stop-color="#1a3a46"/><stop offset=".047" stop-color="#5a1940"/><stop offset=".113" stop-color="#88003d"/><stop offset=".255" stop-color="#880052"/><stop offset=".475" stop-color="#880043"/><stop offset=".541" stop-color="#81043d"/><stop offset=".805" stop-color="#1e3845"/><stop offset=".881" stop-color="#004b4b"/><stop offset="1" stop-color="#006d6d"/></linearGradient>
<linearGradient id="i29" gradientUnits="userSpaceOnUse" x1="320.3" y1="2109.7" x2="489.5" y2="2284.9"><stop offset="0" stop-color="#163c46"/><stop offset=".047" stop-color="#571a40"/><stop offset=".116" stop-color="#88003c"/><stop offset=".259" stop-color="#880052"/><stop offset=".48" stop-color="#880042"/><stop offset=".552" stop-color="#7e053d"/><stop offset=".819" stop-color="#193b46"/><stop offset=".888" stop-color="#004c4b"/><stop offset="1" stop-color="#006c6b"/></linearGradient>
<linearGradient id="i28" gradientUnits="userSpaceOnUse" x1="317.2" y1="2111.8" x2="490.9" y2="2285.4"><stop offset="0" stop-color="#133e46"/><stop offset=".049" stop-color="#541c41"/><stop offset=".122" stop-color="#88003c"/><stop offset=".267" stop-color="#880051"/><stop offset=".489" stop-color="#880041"/><stop offset=".562" stop-color="#7d063d"/><stop offset=".829" stop-color="#183b46"/><stop offset=".889" stop-color="#004a4a"/><stop offset="1" stop-color="#006a6a"/></linearGradient>
<linearGradient id="i27" gradientUnits="userSpaceOnUse" x1="314.2" y1="2114.1" x2="487" y2="2286.8"><stop offset="0" stop-color="#0f4047"/><stop offset=".048" stop-color="#511d41"/><stop offset=".122" stop-color="#85013c"/><stop offset=".284" stop-color="#880051"/><stop offset=".537" stop-color="#84023c"/><stop offset=".791" stop-color="#293244"/><stop offset=".897" stop-color="#004c4b"/><stop offset="1" stop-color="#006968"/></linearGradient>
<linearGradient id="i26" gradientUnits="userSpaceOnUse" x1="311.2" y1="2116.4" x2="493.5" y2="2286.4"><stop offset="0" stop-color="#0a4347"/><stop offset=".052" stop-color="#4d1f41"/><stop offset=".131" stop-color="#84023c"/><stop offset=".307" stop-color="#880050"/><stop offset=".544" stop-color="#84023c"/><stop offset=".795" stop-color="#2a3244"/><stop offset=".899" stop-color="#004b4b"/><stop offset="1" stop-color="#006868"/></linearGradient>
<linearGradient id="i25" gradientUnits="userSpaceOnUse" x1="308.1" y1="2118.9" x2="499.8" y2="2285.5"><stop offset="0" stop-color="#054548"/><stop offset=".058" stop-color="#4b2041"/><stop offset=".141" stop-color="#82033d"/><stop offset=".26" stop-color="#88004c"/><stop offset=".47" stop-color="#880045"/><stop offset=".557" stop-color="#81043d"/><stop offset=".806" stop-color="#273345"/><stop offset=".901" stop-color="#004a4a"/><stop offset="1" stop-color="#006867"/></linearGradient>
<linearGradient id="i24" gradientUnits="userSpaceOnUse" x1="305.1" y1="2121.5" x2="506" y2="2284.2"><stop offset="0" stop-color="#004848"/><stop offset=".064" stop-color="#492142"/><stop offset=".154" stop-color="#82033d"/><stop offset=".242" stop-color="#880048"/><stop offset=".44" stop-color="#880048"/><stop offset=".559" stop-color="#82033d"/><stop offset=".796" stop-color="#2d3044"/><stop offset=".903" stop-color="#004a4a"/><stop offset="1" stop-color="#006766"/></linearGradient>
<linearGradient id="i23" gradientUnits="userSpaceOnUse" x1="302" y1="2124.2" x2="511.9" y2="2282.4"><stop offset="0" stop-color="#004b4b"/><stop offset=".09" stop-color="#561b40"/><stop offset=".187" stop-color="#88003c"/><stop offset=".36" stop-color="#88004b"/><stop offset=".554" stop-color="#83033c"/><stop offset=".786" stop-color="#332d44"/><stop offset=".905" stop-color="#004a4a"/><stop offset="1" stop-color="#006766"/></linearGradient>
<linearGradient id="i22" gradientUnits="userSpaceOnUse" x1="299" y1="2127.1" x2="517.6" y2="2280.1"><stop offset="0" stop-color="#004f4f"/><stop offset=".016" stop-color="#094347"/><stop offset=".094" stop-color="#511d41"/><stop offset=".198" stop-color="#85023c"/><stop offset=".398" stop-color="#880048"/><stop offset=".555" stop-color="#83033c"/><stop offset=".777" stop-color="#372b43"/><stop offset=".907" stop-color="#004a4a"/><stop offset="1" stop-color="#006766"/></linearGradient>
<linearGradient id="i21" gradientUnits="userSpaceOnUse" x1="296" y1="2130" x2="518.4" y2="2280.1"><stop offset="0" stop-color="#005353"/><stop offset=".02" stop-color="#064547"/><stop offset=".102" stop-color="#501e41"/><stop offset=".209" stop-color="#83033c"/><stop offset=".422" stop-color="#880045"/><stop offset=".552" stop-color="#81033d"/><stop offset=".772" stop-color="#392a43"/><stop offset=".907" stop-color="#004b4b"/><stop offset="1" stop-color="#006766"/></linearGradient>
<linearGradient id="i20" gradientUnits="userSpaceOnUse" x1="292.9" y1="2133.1" x2="523.6" y2="2277.2"><stop offset="0" stop-color="#005756"/><stop offset=".027" stop-color="#064547"/><stop offset=".114" stop-color="#4f1e41"/><stop offset=".228" stop-color="#82033d"/><stop offset=".364" stop-color="#880044"/><stop offset=".542" stop-color="#82033d"/><stop offset=".751" stop-color="#412542"/><stop offset=".909" stop-color="#004c4c"/><stop offset="1" stop-color="#006867"/></linearGradient>
<linearGradient id="i19" gradientUnits="userSpaceOnUse" x1="289.9" y1="2136.3" x2="524.2" y2="2277.1"><stop offset="0" stop-color="#005b5b"/><stop offset=".034" stop-color="#064548"/><stop offset=".127" stop-color="#4f1e41"/><stop offset=".243" stop-color="#80043d"/><stop offset=".339" stop-color="#880041"/><stop offset=".529" stop-color="#82033d"/><stop offset=".734" stop-color="#462342"/><stop offset=".903" stop-color="#004b4a"/><stop offset="1" stop-color="#006868"/></linearGradient>
<linearGradient id="i18" gradientUnits="userSpaceOnUse" x1="286.8" y1="2139.6" x2="529" y2="2273.8"><stop offset="0" stop-color="#00605f"/><stop offset=".042" stop-color="#054648"/><stop offset=".139" stop-color="#4d1f41"/><stop offset=".259" stop-color="#7d063d"/><stop offset=".37" stop-color="#88003e"/><stop offset=".525" stop-color="#80043d"/><stop offset=".727" stop-color="#482242"/><stop offset=".899" stop-color="#004a4a"/><stop offset="1" stop-color="#006969"/></linearGradient>
<linearGradient id="i17" gradientUnits="userSpaceOnUse" x1="283.8" y1="2143" x2="529.3" y2="2273.5"><stop offset="0" stop-color="#006464"/><stop offset=".049" stop-color="#034648"/><stop offset=".153" stop-color="#4d1f41"/><stop offset=".28" stop-color="#7b073d"/><stop offset=".428" stop-color="#87013c"/><stop offset=".606" stop-color="#6b0f3f"/><stop offset=".816" stop-color="#223645"/><stop offset=".899" stop-color="#004b4b"/><stop offset="1" stop-color="#006b6a"/></linearGradient>
<linearGradient id="i16" gradientUnits="userSpaceOnUse" x1="280.8" y1="2146.5" x2="533.5" y2="2269.7"><stop offset="0" stop-color="#006969"/><stop offset=".062" stop-color="#054548"/><stop offset=".17" stop-color="#4c2041"/><stop offset=".3" stop-color="#77093d"/><stop offset=".456" stop-color="#80043d"/><stop offset=".634" stop-color="#61153f"/><stop offset=".844" stop-color="#133e46"/><stop offset=".895" stop-color="#004b4b"/><stop offset="1" stop-color="#006c6b"/></linearGradient>
<linearGradient id="i15" gradientUnits="userSpaceOnUse" x1="277.7" y1="2150.1" x2="533.5" y2="2269.4"><stop offset="0" stop-color="#006f6e"/><stop offset=".074" stop-color="#064548"/><stop offset=".185" stop-color="#4a2141"/><stop offset=".317" stop-color="#730b3e"/><stop offset=".474" stop-color="#7a083d"/><stop offset=".66" stop-color="#561a40"/><stop offset=".871" stop-color="#044648"/><stop offset="1" stop-color="#006e6d"/></linearGradient>
<linearGradient id="i14" gradientUnits="userSpaceOnUse" x1="274.7" y1="2153.9" x2="533.5" y2="2269.1"><stop offset="0" stop-color="#007473"/><stop offset=".083" stop-color="#034648"/><stop offset=".2" stop-color="#482242"/><stop offset=".334" stop-color="#6f0d3e"/><stop offset=".493" stop-color="#730b3e"/><stop offset=".68" stop-color="#4c2041"/><stop offset=".884" stop-color="#004c4b"/><stop offset="1" stop-color="#006f6e"/></linearGradient>
<linearGradient id="i13" gradientUnits="userSpaceOnUse" x1="271.6" y1="2157.7" x2="536.9" y2="2264.9"><stop offset="0" stop-color="#007a78"/><stop offset=".098" stop-color="#034748"/><stop offset=".218" stop-color="#462342"/><stop offset=".36" stop-color="#6a103f"/><stop offset=".521" stop-color="#6a103f"/><stop offset=".708" stop-color="#402642"/><stop offset=".874" stop-color="#004a4a"/><stop offset="1" stop-color="#007271"/></linearGradient>
<linearGradient id="i12" gradientUnits="userSpaceOnUse" x1="268.6" y1="2161.7" x2="536.5" y2="2264.6"><stop offset="0" stop-color="#00807e"/><stop offset=".115" stop-color="#054648"/><stop offset=".238" stop-color="#442442"/><stop offset=".383" stop-color="#65123f"/><stop offset=".545" stop-color="#61153f"/><stop offset=".733" stop-color="#322d44"/><stop offset=".869" stop-color="#004b4b"/><stop offset="1" stop-color="#007473"/></linearGradient>
<linearGradient id="i11" gradientUnits="userSpaceOnUse" x1="265.6" y1="2165.8" x2="536.1" y2="2264.3"><stop offset="0" stop-color="#008684"/><stop offset=".129" stop-color="#034648"/><stop offset=".259" stop-color="#422542"/><stop offset=".405" stop-color="#5f1640"/><stop offset=".57" stop-color="#571a40"/><stop offset=".759" stop-color="#243545"/><stop offset=".859" stop-color="#004b4b"/><stop offset="1" stop-color="#007775"/></linearGradient>
<linearGradient id="i10" gradientUnits="userSpaceOnUse" x1="262.5" y1="2170.1" x2="535.6" y2="2264.1"><stop offset="0" stop-color="#008c8a"/><stop offset=".144" stop-color="#014748"/><stop offset=".276" stop-color="#3e2743"/><stop offset=".424" stop-color="#581940"/><stop offset=".589" stop-color="#4e1f41"/><stop offset=".778" stop-color="#183b46"/><stop offset=".848" stop-color="#004b4b"/><stop offset="1" stop-color="#007978"/></linearGradient>
<linearGradient id="i9" gradientUnits="userSpaceOnUse" x1="259.5" y1="2174.4" x2="535" y2="2263.9"><stop offset="0" stop-color="#009391"/><stop offset=".154" stop-color="#004a4a"/><stop offset=".311" stop-color="#3e2743"/><stop offset=".462" stop-color="#511d41"/><stop offset=".635" stop-color="#3e2743"/><stop offset=".838" stop-color="#004c4c"/><stop offset="1" stop-color="#007c7b"/></linearGradient>
<linearGradient id="i8" gradientUnits="userSpaceOnUse" x1="256.4" y1="2178.8" x2="534.2" y2="2263.8"><stop offset="0" stop-color="#039898"/><stop offset=".152" stop-color="#005252"/><stop offset=".196" stop-color="#074447"/><stop offset=".338" stop-color="#3a2943"/><stop offset=".496" stop-color="#482242"/><stop offset=".67" stop-color="#2f2f44"/><stop offset=".822" stop-color="#004b4b"/><stop offset="1" stop-color="#00807e"/></linearGradient>
<linearGradient id="i7" gradientUnits="userSpaceOnUse" x1="253.4" y1="2183.4" x2="536" y2="2259.1"><stop offset="0" stop-color="#0e95a1"/><stop offset=".024" stop-color="#009391"/><stop offset=".191" stop-color="#004d4d"/><stop offset=".259" stop-color="#173c46"/><stop offset=".407" stop-color="#3b2943"/><stop offset=".569" stop-color="#3b2943"/><stop offset=".747" stop-color="#123f46"/><stop offset=".814" stop-color="#004c4c"/><stop offset="1" stop-color="#008382"/></linearGradient>
<linearGradient id="i6" gradientUnits="userSpaceOnUse" x1="250.4" y1="2188.1" x2="534.9" y2="2259"><stop offset="0" stop-color="#1a93ab"/><stop offset=".033" stop-color="#009694"/><stop offset=".203" stop-color="#005050"/><stop offset=".253" stop-color="#084447"/><stop offset=".401" stop-color="#302f44"/><stop offset=".562" stop-color="#332d43"/><stop offset=".738" stop-color="#0e4147"/><stop offset=".799" stop-color="#004d4d"/><stop offset="1" stop-color="#008785"/></linearGradient>
<linearGradient id="i5" gradientUnits="userSpaceOnUse" x1="247.3" y1="2192.9" x2="533.7" y2="2259"><stop offset="0" stop-color="#2691b5"/><stop offset=".046" stop-color="#009795"/><stop offset=".219" stop-color="#005353"/><stop offset=".279" stop-color="#064547"/><stop offset=".428" stop-color="#293244"/><stop offset=".591" stop-color="#273345"/><stop offset=".779" stop-color="#004c4c"/><stop offset="1" stop-color="#008b89"/></linearGradient>
<linearGradient id="i4" gradientUnits="userSpaceOnUse" x1="244.3" y1="2197.8" x2="532.4" y2="2259"><stop offset="0" stop-color="#328fbf"/><stop offset=".064" stop-color="#009694"/><stop offset=".24" stop-color="#005555"/><stop offset=".315" stop-color="#064547"/><stop offset=".467" stop-color="#223645"/><stop offset=".631" stop-color="#183b46"/><stop offset=".759" stop-color="#004d4d"/><stop offset="1" stop-color="#008f8d"/></linearGradient>
<linearGradient id="i3" gradientUnits="userSpaceOnUse" x1="241.2" y1="2202.8" x2="531" y2="2259.1"><stop offset="0" stop-color="#3f8cca"/><stop offset=".083" stop-color="#009593"/><stop offset=".266" stop-color="#005656"/><stop offset=".361" stop-color="#074447"/><stop offset=".52" stop-color="#193b46"/><stop offset=".686" stop-color="#044648"/><stop offset=".898" stop-color="#007372"/><stop offset="1" stop-color="#009492"/></linearGradient>
<linearGradient id="i2" gradientUnits="userSpaceOnUse" x1="238.2" y1="2207.9" x2="529.5" y2="2259.3"><stop offset="0" stop-color="#4c8ad5"/><stop offset=".097" stop-color="#009795"/><stop offset=".283" stop-color="#005a5a"/><stop offset=".423" stop-color="#074447"/><stop offset=".585" stop-color="#0b4247"/><stop offset=".726" stop-color="#005151"/><stop offset=".966" stop-color="#008d8b"/><stop offset="1" stop-color="#019897"/></linearGradient>
<linearGradient id="i1" gradientUnits="userSpaceOnUse" x1="235.2" y1="2213.2" x2="527.8" y2="2259.5"><stop offset="0" stop-color="#5a87e0"/><stop offset=".117" stop-color="#009795"/><stop offset=".305" stop-color="#005d5d"/><stop offset=".496" stop-color="#024748"/><stop offset=".707" stop-color="#005453"/><stop offset=".939" stop-color="#008987"/><stop offset=".994" stop-color="#05979a"/><stop offset="1" stop-color="#09969d"/></linearGradient>
<linearGradient id="i0" gradientUnits="userSpaceOnUse" x1="231.2" y1="2220.2" x2="525.1" y2="2261.5"><stop offset="0" stop-color="#6c84ef"/><stop offset=".142" stop-color="#019897"/><stop offset=".336" stop-color="#006161"/><stop offset=".545" stop-color="#004f4f"/><stop offset=".762" stop-color="#006463"/><stop offset=".973" stop-color="#049799"/><stop offset="1" stop-color="#1394a6"/></linearGradient>
<linearGradient id="j47" gradientUnits="userSpaceOnUse" x1="1388.1" y1="2145.6" x2="1648.6" y2="2035.1"><stop offset="0" stop-color="#be425d"/><stop offset=".098" stop-color="#96345e"/><stop offset=".209" stop-color="#92325e"/><stop offset=".332" stop-color="#b73f5d"/><stop offset=".459" stop-color="#fe575b"/><stop offset=".677" stop-color="#9c1314"/><stop offset=".727" stop-color="#800000"/><stop offset=".902" stop-color="#5d56dd"/><stop offset=".926" stop-color="#5864fe"/><stop offset="1" stop-color="#9c3b97"/></linearGradient>
<linearGradient id="j46" gradientUnits="userSpaceOnUse" x1="1385.4" y1="2147.7" x2="1652.4" y2="2050.5"><stop offset="0" stop-color="#b53e5d"/><stop offset=".102" stop-color="#8b305e"/><stop offset=".215" stop-color="#862e5e"/><stop offset=".34" stop-color="#aa3b5d"/><stop offset=".477" stop-color="#fa565c"/><stop offset=".513" stop-color="#f45054"/><stop offset=".733" stop-color="#880606"/><stop offset=".749" stop-color="#800103"/><stop offset=".922" stop-color="#5c59e2"/><stop offset=".94" stop-color="#5963fc"/><stop offset=".958" stop-color="#675be9"/><stop offset="1" stop-color="#8f43ab"/></linearGradient>
<linearGradient id="j45" gradientUnits="userSpaceOnUse" x1="1381.5" y1="2150.6" x2="1653.6" y2="2067.4"><stop offset="0" stop-color="#a83a5d"/><stop offset=".105" stop-color="#7d2b5e"/><stop offset=".221" stop-color="#76295e"/><stop offset=".347" stop-color="#98345e"/><stop offset=".48" stop-color="#e34e5c"/><stop offset=".521" stop-color="#fe575b"/><stop offset=".733" stop-color="#971011"/><stop offset=".771" stop-color="#810000"/><stop offset=".918" stop-color="#624bc0"/><stop offset=".959" stop-color="#5962fb"/><stop offset=".971" stop-color="#615ff2"/><stop offset="1" stop-color="#7e4ec6"/></linearGradient>
<linearGradient id="j44" gradientUnits="userSpaceOnUse" x1="1377.7" y1="2153.2" x2="1654.7" y2="2089.3"><stop offset="0" stop-color="#9d365e"/><stop offset=".11" stop-color="#70275e"/><stop offset=".229" stop-color="#67245e"/><stop offset=".352" stop-color="#852e5e"/><stop offset=".485" stop-color="#cc475d"/><stop offset=".556" stop-color="#fe575b"/><stop offset=".767" stop-color="#930d0d"/><stop offset=".8" stop-color="#800103"/><stop offset=".96" stop-color="#5d58e1"/><stop offset=".977" stop-color="#5963fb"/><stop offset=".989" stop-color="#615ff1"/><stop offset="1" stop-color="#6d58e0"/></linearGradient>
<linearGradient id="j43" gradientUnits="userSpaceOnUse" x1="1373.8" y1="2155.7" x2="1653.7" y2="2116.4"><stop offset="0" stop-color="#93335e"/><stop offset=".12" stop-color="#63225e"/><stop offset=".243" stop-color="#5a1f5f"/><stop offset=".369" stop-color="#77295e"/><stop offset=".503" stop-color="#be425d"/><stop offset=".589" stop-color="#fe585c"/><stop offset=".791" stop-color="#940e0e"/><stop offset=".823" stop-color="#800001"/><stop offset=".973" stop-color="#5e56da"/><stop offset=".995" stop-color="#5863fd"/><stop offset="1" stop-color="#5c61f8"/></linearGradient>
<linearGradient id="j42" gradientUnits="userSpaceOnUse" x1="1369.9" y1="2158.1" x2="1648.7" y2="2143.5"><stop offset="0" stop-color="#8a305e"/><stop offset=".126" stop-color="#581e5f"/><stop offset=".254" stop-color="#4d1b5f"/><stop offset=".382" stop-color="#68245e"/><stop offset=".512" stop-color="#aa3b5d"/><stop offset=".622" stop-color="#fe585c"/><stop offset=".815" stop-color="#940e0f"/><stop offset=".846" stop-color="#800001"/><stop offset=".985" stop-color="#5f53d4"/><stop offset="1" stop-color="#5b5dee"/></linearGradient>
<linearGradient id="j41" gradientUnits="userSpaceOnUse" x1="1366" y1="2160.3" x2="1639.9" y2="2169.8"><stop offset="0" stop-color="#822d5e"/><stop offset=".133" stop-color="#4f1b5f"/><stop offset=".264" stop-color="#41175f"/><stop offset=".395" stop-color="#5b1f5f"/><stop offset=".526" stop-color="#9b355e"/><stop offset=".655" stop-color="#fe575b"/><stop offset=".838" stop-color="#940e0e"/><stop offset=".868" stop-color="#800102"/><stop offset=".995" stop-color="#6051cf"/><stop offset="1" stop-color="#5e55d8"/></linearGradient>
<linearGradient id="j40" gradientUnits="userSpaceOnUse" x1="1362.1" y1="2162.3" x2="1625.1" y2="2199.2"><stop offset="0" stop-color="#7c2b5e"/><stop offset=".14" stop-color="#46185f"/><stop offset=".278" stop-color="#37135f"/><stop offset=".412" stop-color="#4e1b5f"/><stop offset=".538" stop-color="#892f5e"/><stop offset=".661" stop-color="#e8505c"/><stop offset=".685" stop-color="#ff585c"/><stop offset=".852" stop-color="#9a1213"/><stop offset=".89" stop-color="#7f0104"/><stop offset="1" stop-color="#624cc2"/></linearGradient>
<linearGradient id="j39" gradientUnits="userSpaceOnUse" x1="1358.2" y1="2164.1" x2="1605.3" y2="2225.7"><stop offset="0" stop-color="#76295e"/><stop offset=".154" stop-color="#3d155f"/><stop offset=".297" stop-color="#2e105f"/><stop offset=".435" stop-color="#45185f"/><stop offset=".562" stop-color="#7f2c5e"/><stop offset=".683" stop-color="#dd4c5d"/><stop offset=".716" stop-color="#fe585c"/><stop offset=".862" stop-color="#a31819"/><stop offset=".906" stop-color="#800000"/><stop offset="1" stop-color="#6544ae"/></linearGradient>
<linearGradient id="j38" gradientUnits="userSpaceOnUse" x1="1354.4" y1="2165.7" x2="1577.3" y2="2251.3"><stop offset="0" stop-color="#72275e"/><stop offset=".166" stop-color="#37135f"/><stop offset=".316" stop-color="#250d5f"/><stop offset=".458" stop-color="#3a145f"/><stop offset=".586" stop-color="#73285e"/><stop offset=".701" stop-color="#cb465d"/><stop offset=".751" stop-color="#fe585c"/><stop offset=".884" stop-color="#a5191b"/><stop offset=".928" stop-color="#7f0204"/><stop offset="1" stop-color="#683d9b"/></linearGradient>
<linearGradient id="j37" gradientUnits="userSpaceOnUse" x1="1350.5" y1="2167.2" x2="1544.7" y2="2270.5"><stop offset="0" stop-color="#6e265e"/><stop offset=".185" stop-color="#30115f"/><stop offset=".344" stop-color="#1e0a60"/><stop offset=".485" stop-color="#31115f"/><stop offset=".609" stop-color="#65235e"/><stop offset=".717" stop-color="#b63f5d"/><stop offset=".787" stop-color="#ff585c"/><stop offset=".905" stop-color="#a61a1b"/><stop offset=".944" stop-color="#800102"/><stop offset="1" stop-color="#6b3689"/></linearGradient>
<linearGradient id="j36" gradientUnits="userSpaceOnUse" x1="1346.6" y1="2168.5" x2="1509.1" y2="2282.3"><stop offset="0" stop-color="#6c255e"/><stop offset=".201" stop-color="#2c0f5f"/><stop offset=".376" stop-color="#180860"/><stop offset=".522" stop-color="#2b0f5f"/><stop offset=".647" stop-color="#5e215f"/><stop offset=".748" stop-color="#aa3b5d"/><stop offset=".826" stop-color="#fd575b"/><stop offset=".924" stop-color="#aa1d1e"/><stop offset=".96" stop-color="#800101"/><stop offset="1" stop-color="#6d2f78"/></linearGradient>
<linearGradient id="j35" gradientUnits="userSpaceOnUse" x1="1342.7" y1="2169.6" x2="1501.4" y2="2285"><stop offset="0" stop-color="#6b255e"/><stop offset=".203" stop-color="#290e5f"/><stop offset=".38" stop-color="#130660"/><stop offset=".526" stop-color="#240c5f"/><stop offset=".651" stop-color="#561e5f"/><stop offset=".753" stop-color="#a0375d"/><stop offset=".837" stop-color="#fe575b"/><stop offset=".929" stop-color="#ad1f21"/><stop offset=".967" stop-color="#800102"/><stop offset="1" stop-color="#702968"/></linearGradient>
<linearGradient id="j34" gradientUnits="userSpaceOnUse" x1="1338.8" y1="2170.6" x2="1493.8" y2="2287.4"><stop offset="0" stop-color="#6b255e"/><stop offset=".206" stop-color="#270d5f"/><stop offset=".384" stop-color="#0f0560"/><stop offset=".531" stop-color="#1e0a60"/><stop offset=".656" stop-color="#4e1b5f"/><stop offset=".757" stop-color="#97345e"/><stop offset=".841" stop-color="#f6555c"/><stop offset=".852" stop-color="#fb5659"/><stop offset=".94" stop-color="#aa1d1e"/><stop offset=".973" stop-color="#800103"/><stop offset="1" stop-color="#722359"/></linearGradient>
<linearGradient id="j33" gradientUnits="userSpaceOnUse" x1="1335" y1="2171.4" x2="1491" y2="2289"><stop offset="0" stop-color="#6c255e"/><stop offset=".205" stop-color="#260d5f"/><stop offset=".383" stop-color="#0c0460"/><stop offset=".53" stop-color="#190960"/><stop offset=".655" stop-color="#47195f"/><stop offset=".756" stop-color="#8f315e"/><stop offset=".84" stop-color="#ed525c"/><stop offset=".855" stop-color="#fe575b"/><stop offset=".943" stop-color="#ac1f20"/><stop offset=".976" stop-color="#810101"/><stop offset="1" stop-color="#741e4c"/></linearGradient>
<linearGradient id="j32" gradientUnits="userSpaceOnUse" x1="1331.1" y1="2172" x2="1488.2" y2="2290.4"><stop offset="0" stop-color="#6f265e"/><stop offset=".205" stop-color="#260d5f"/><stop offset=".382" stop-color="#0a0460"/><stop offset=".529" stop-color="#160760"/><stop offset=".654" stop-color="#42175f"/><stop offset=".755" stop-color="#882f5e"/><stop offset=".84" stop-color="#e44f5c"/><stop offset=".858" stop-color="#fe585c"/><stop offset=".94" stop-color="#b52526"/><stop offset=".981" stop-color="#800001"/><stop offset="1" stop-color="#76193f"/></linearGradient>
<linearGradient id="j31" gradientUnits="userSpaceOnUse" x1="1327.2" y1="2172.5" x2="1539.8" y2="2271.6"><stop offset="0" stop-color="#72275e"/><stop offset=".178" stop-color="#270e5f"/><stop offset=".338" stop-color="#0a0360"/><stop offset=".481" stop-color="#140760"/><stop offset=".609" stop-color="#43175f"/><stop offset=".722" stop-color="#91325e"/><stop offset=".826" stop-color="#fe575b"/><stop offset=".947" stop-color="#9e1516"/><stop offset=".976" stop-color="#810101"/><stop offset="1" stop-color="#781434"/></linearGradient>
<linearGradient id="j30" gradientUnits="userSpaceOnUse" x1="1323.3" y1="2172.7" x2="1589.4" y2="2210.1"><stop offset="0" stop-color="#77295e"/><stop offset=".146" stop-color="#2c0f5f"/><stop offset=".283" stop-color="#0b0460"/><stop offset=".417" stop-color="#110660"/><stop offset=".548" stop-color="#3d155f"/><stop offset=".671" stop-color="#8c305e"/><stop offset=".791" stop-color="#ff585c"/><stop offset=".954" stop-color="#910c0c"/><stop offset=".977" stop-color="#800103"/><stop offset="1" stop-color="#79102a"/></linearGradient>
<linearGradient id="j29" gradientUnits="userSpaceOnUse" x1="1319.4" y1="2172.8" x2="1594.1" y2="2129.3"><stop offset="0" stop-color="#7c2b5e"/><stop offset=".114" stop-color="#34125f"/><stop offset=".236" stop-color="#0e0560"/><stop offset=".362" stop-color="#0f0560"/><stop offset=".49" stop-color="#37135f"/><stop offset=".628" stop-color="#882f5e"/><stop offset=".763" stop-color="#ff585c"/><stop offset=".967" stop-color="#870505"/><stop offset=".978" stop-color="#800102"/><stop offset="1" stop-color="#7b0d21"/></linearGradient>
<linearGradient id="j28" gradientUnits="userSpaceOnUse" x1="1315.5" y1="2172.7" x2="1563.8" y2="2072.5"><stop offset="0" stop-color="#832d5e"/><stop offset=".094" stop-color="#3b145f"/><stop offset=".2" stop-color="#130660"/><stop offset=".317" stop-color="#0f0560"/><stop offset=".449" stop-color="#34125f"/><stop offset=".594" stop-color="#862e5e"/><stop offset=".744" stop-color="#ff585c"/><stop offset=".981" stop-color="#800102"/><stop offset="1" stop-color="#7c0a19"/></linearGradient>
<linearGradient id="j27" gradientUnits="userSpaceOnUse" x1="1311.7" y1="2172.5" x2="1527.2" y2="2043"><stop offset="0" stop-color="#8b305e"/><stop offset=".078" stop-color="#44175f"/><stop offset=".17" stop-color="#190960"/><stop offset=".282" stop-color="#100660"/><stop offset=".41" stop-color="#30115f"/><stop offset=".557" stop-color="#7d2b5e"/><stop offset=".73" stop-color="#fe575b"/><stop offset=".986" stop-color="#800103"/><stop offset="1" stop-color="#7d0712"/></linearGradient>
<linearGradient id="j26" gradientUnits="userSpaceOnUse" x1="1307.8" y1="2172.1" x2="1496.6" y2="2029.8"><stop offset="0" stop-color="#94335e"/><stop offset=".066" stop-color="#4d1b5f"/><stop offset=".151" stop-color="#200b5f"/><stop offset=".253" stop-color="#130760"/><stop offset=".378" stop-color="#2e105f"/><stop offset=".531" stop-color="#792a5e"/><stop offset=".716" stop-color="#fe585c"/><stop offset=".986" stop-color="#810101"/><stop offset="1" stop-color="#7e050c"/></linearGradient>
<linearGradient id="j25" gradientUnits="userSpaceOnUse" x1="1303.9" y1="2171.5" x2="1468.4" y2="2023.4"><stop offset="0" stop-color="#9e375e"/><stop offset=".055" stop-color="#591f5f"/><stop offset=".129" stop-color="#290e5f"/><stop offset=".225" stop-color="#180860"/><stop offset=".348" stop-color="#2e105f"/><stop offset=".501" stop-color="#73285e"/><stop offset=".689" stop-color="#f3545c"/><stop offset=".709" stop-color="#fe575b"/><stop offset=".992" stop-color="#800000"/><stop offset="1" stop-color="#7f0308"/></linearGradient>
<linearGradient id="j24" gradientUnits="userSpaceOnUse" x1="1300" y1="2170.7" x2="1449" y2="2021.7"><stop offset="0" stop-color="#aa3b5d"/><stop offset=".047" stop-color="#65235e"/><stop offset=".112" stop-color="#34125f"/><stop offset=".2" stop-color="#1f0b60"/><stop offset=".318" stop-color="#2e105f"/><stop offset=".47" stop-color="#6c255e"/><stop offset=".666" stop-color="#e9505c"/><stop offset=".699" stop-color="#fe575b"/><stop offset=".992" stop-color="#820101"/><stop offset="1" stop-color="#7f0204"/></linearGradient>
<linearGradient id="j23" gradientUnits="userSpaceOnUse" x1="1296.1" y1="2169.8" x2="1439.2" y2="2021.7"><stop offset="0" stop-color="#b63f5d"/><stop offset=".042" stop-color="#73285e"/><stop offset=".105" stop-color="#3f165f"/><stop offset=".19" stop-color="#270d5f"/><stop offset=".308" stop-color="#32115f"/><stop offset=".458" stop-color="#6d255e"/><stop offset=".655" stop-color="#e54f5c"/><stop offset=".695" stop-color="#fd575b"/><stop offset="1" stop-color="#800102"/></linearGradient>
<linearGradient id="j22" gradientUnits="userSpaceOnUse" x1="1292.2" y1="2168.7" x2="1439" y2="2022"><stop offset="0" stop-color="#c4435d"/><stop offset=".044" stop-color="#7f2c5e"/><stop offset=".108" stop-color="#4a1a5f"/><stop offset=".194" stop-color="#2f105f"/><stop offset=".311" stop-color="#39145f"/><stop offset=".462" stop-color="#71275e"/><stop offset=".657" stop-color="#e7505c"/><stop offset=".691" stop-color="#ff585c"/><stop offset="1" stop-color="#800001"/></linearGradient>
<linearGradient id="j21" gradientUnits="userSpaceOnUse" x1="1288.4" y1="2167.4" x2="1434" y2="2021.8"><stop offset="0" stop-color="#d2495d"/><stop offset=".043" stop-color="#8d315e"/><stop offset=".104" stop-color="#581e5f"/><stop offset=".189" stop-color="#3a145f"/><stop offset=".301" stop-color="#3f165f"/><stop offset=".45" stop-color="#72275e"/><stop offset=".637" stop-color="#dd4c5d"/><stop offset=".69" stop-color="#fd575b"/><stop offset="1" stop-color="#800001"/></linearGradient>
<linearGradient id="j20" gradientUnits="userSpaceOnUse" x1="1284.5" y1="2165.9" x2="1429" y2="2021.5"><stop offset="0" stop-color="#e24e5c"/><stop offset=".043" stop-color="#9b355e"/><stop offset=".103" stop-color="#64235e"/><stop offset=".188" stop-color="#45185f"/><stop offset=".3" stop-color="#48195f"/><stop offset=".449" stop-color="#792a5e"/><stop offset=".636" stop-color="#e24e5c"/><stop offset=".682" stop-color="#fe575b"/><stop offset="1" stop-color="#800102"/></linearGradient>
<linearGradient id="j19" gradientUnits="userSpaceOnUse" x1="1280.6" y1="2164.3" x2="1428.8" y2="2021.3"><stop offset="0" stop-color="#f3545c"/><stop offset=".044" stop-color="#aa3b5d"/><stop offset=".105" stop-color="#72275e"/><stop offset=".191" stop-color="#511c5f"/><stop offset=".303" stop-color="#521c5f"/><stop offset=".447" stop-color="#7e2c5e"/><stop offset=".633" stop-color="#e44f5c"/><stop offset=".678" stop-color="#fd575b"/><stop offset="1" stop-color="#7f0204"/></linearGradient>
<linearGradient id="j18" gradientUnits="userSpaceOnUse" x1="1276.7" y1="2162.5" x2="1423.7" y2="2020.5"><stop offset="0" stop-color="#fc565a"/><stop offset=".008" stop-color="#f4545c"/><stop offset=".054" stop-color="#ae3c5d"/><stop offset=".121" stop-color="#77295e"/><stop offset=".21" stop-color="#5b1f5f"/><stop offset=".326" stop-color="#62225e"/><stop offset=".479" stop-color="#97345e"/><stop offset=".664" stop-color="#ff585c"/><stop offset=".992" stop-color="#800000"/><stop offset="1" stop-color="#7f0307"/></linearGradient>
<linearGradient id="j17" gradientUnits="userSpaceOnUse" x1="1272.8" y1="2160.6" x2="1423.5" y2="2020"><stop offset="0" stop-color="#f34f53"/><stop offset=".013" stop-color="#fe585c"/><stop offset=".064" stop-color="#b63f5d"/><stop offset=".134" stop-color="#822d5e"/><stop offset=".226" stop-color="#68245e"/><stop offset=".35" stop-color="#72275e"/><stop offset=".506" stop-color="#ab3b5d"/><stop offset=".654" stop-color="#ff585c"/><stop offset=".984" stop-color="#810101"/><stop offset="1" stop-color="#7e050c"/></linearGradient>
<linearGradient id="j16" gradientUnits="userSpaceOnUse" x1="1269" y1="2158.4" x2="1418.5" y2="2018.9"><stop offset="0" stop-color="#e8484c"/><stop offset=".025" stop-color="#fd575c"/><stop offset=".078" stop-color="#ba405d"/><stop offset=".151" stop-color="#8a305e"/><stop offset=".251" stop-color="#75285e"/><stop offset=".379" stop-color="#872e5e"/><stop offset=".541" stop-color="#c8455d"/><stop offset=".64" stop-color="#fe585c"/><stop offset=".984" stop-color="#7f0104"/><stop offset="1" stop-color="#7d0711"/></linearGradient>
<linearGradient id="j15" gradientUnits="userSpaceOnUse" x1="1265.1" y1="2156.1" x2="1413.5" y2="2017.7"><stop offset="0" stop-color="#de4144"/><stop offset=".037" stop-color="#ff585c"/><stop offset=".096" stop-color="#bd415d"/><stop offset=".176" stop-color="#91325e"/><stop offset=".281" stop-color="#852e5e"/><stop offset=".415" stop-color="#9f375e"/><stop offset=".589" stop-color="#ed525c"/><stop offset=".627" stop-color="#fd575b"/><stop offset=".961" stop-color="#850303"/><stop offset=".984" stop-color="#7e040a"/><stop offset="1" stop-color="#7c0918"/></linearGradient>
<linearGradient id="j14" gradientUnits="userSpaceOnUse" x1="1261.2" y1="2153.6" x2="1413.3" y2="2016.6"><stop offset="0" stop-color="#d3393c"/><stop offset=".054" stop-color="#fe585c"/><stop offset=".118" stop-color="#c2435d"/><stop offset=".207" stop-color="#9c365e"/><stop offset=".322" stop-color="#98345e"/><stop offset=".468" stop-color="#bf425d"/><stop offset=".604" stop-color="#ff585c"/><stop offset=".923" stop-color="#900b0c"/><stop offset=".961" stop-color="#810000"/><stop offset="1" stop-color="#7b0c20"/></linearGradient>
<linearGradient id="j13" gradientUnits="userSpaceOnUse" x1="1257.3" y1="2150.9" x2="1408.3" y2="2015"><stop offset="0" stop-color="#c73133"/><stop offset=".067" stop-color="#fd575b"/><stop offset=".16" stop-color="#be425d"/><stop offset=".261" stop-color="#a73a5d"/><stop offset=".391" stop-color="#b53f5d"/><stop offset=".554" stop-color="#f3545c"/><stop offset=".585" stop-color="#fd575b"/><stop offset=".9" stop-color="#940e0f"/><stop offset=".953" stop-color="#800102"/><stop offset="1" stop-color="#7a1028"/></linearGradient>
<linearGradient id="j12" gradientUnits="userSpaceOnUse" x1="1253.4" y1="2148.1" x2="1403.3" y2="2013.2"><stop offset="0" stop-color="#ba292a"/><stop offset=".067" stop-color="#f24f52"/><stop offset=".097" stop-color="#fb575c"/><stop offset=".178" stop-color="#cb465d"/><stop offset=".283" stop-color="#b9405d"/><stop offset=".417" stop-color="#cd475d"/><stop offset=".553" stop-color="#fd575b"/><stop offset=".855" stop-color="#a01617"/><stop offset=".938" stop-color="#800000"/><stop offset="1" stop-color="#781432"/></linearGradient>
<linearGradient id="j11" gradientUnits="userSpaceOnUse" x1="1249.5" y1="2145.1" x2="1403.1" y2="2011.6"><stop offset="0" stop-color="#ae2021"/><stop offset=".069" stop-color="#e6464a"/><stop offset=".126" stop-color="#fe585c"/><stop offset=".213" stop-color="#d64a5d"/><stop offset=".329" stop-color="#ce475d"/><stop offset=".475" stop-color="#f0535c"/><stop offset=".521" stop-color="#fd575b"/><stop offset=".806" stop-color="#ac1e20"/><stop offset=".923" stop-color="#800000"/><stop offset="1" stop-color="#76183e"/></linearGradient>
<linearGradient id="j10" gradientUnits="userSpaceOnUse" x1="1245.7" y1="2141.9" x2="1402.9" y2="2010"><stop offset="0" stop-color="#a01617"/><stop offset=".074" stop-color="#db3f42"/><stop offset=".169" stop-color="#fe585c"/><stop offset=".268" stop-color="#e34e5c"/><stop offset=".393" stop-color="#ea515c"/><stop offset=".479" stop-color="#fd575b"/><stop offset=".746" stop-color="#b9282a"/><stop offset=".909" stop-color="#800001"/><stop offset="1" stop-color="#741d4a"/></linearGradient>
<linearGradient id="j9" gradientUnits="userSpaceOnUse" x1="1241.8" y1="2138.6" x2="1407.4" y2="2009.2"><stop offset="0" stop-color="#920d0d"/><stop offset=".078" stop-color="#ce3638"/><stop offset=".192" stop-color="#f75356"/><stop offset=".259" stop-color="#fb575c"/><stop offset=".382" stop-color="#fb575c"/><stop offset=".477" stop-color="#f65255"/><stop offset=".731" stop-color="#b82728"/><stop offset=".889" stop-color="#810000"/><stop offset="1" stop-color="#722257"/></linearGradient>
<linearGradient id="j8" gradientUnits="userSpaceOnUse" x1="1237.9" y1="2135.1" x2="1411.8" y2="2008.7"><stop offset="0" stop-color="#840203"/><stop offset=".086" stop-color="#c22e30"/><stop offset=".207" stop-color="#ec4b4f"/><stop offset=".37" stop-color="#f75356"/><stop offset=".587" stop-color="#d83d40"/><stop offset=".864" stop-color="#830202"/><stop offset=".892" stop-color="#7e060e"/><stop offset="1" stop-color="#702866"/></linearGradient>
<linearGradient id="j7" gradientUnits="userSpaceOnUse" x1="1234" y1="2131.4" x2="1420.7" y2="2010.1"><stop offset="0" stop-color="#7c0917"/><stop offset=".015" stop-color="#810101"/><stop offset=".113" stop-color="#be2b2d"/><stop offset=".248" stop-color="#e54649"/><stop offset=".423" stop-color="#e9494c"/><stop offset=".645" stop-color="#c22e30"/><stop offset=".855" stop-color="#800000"/><stop offset="1" stop-color="#6e2e75"/></linearGradient>
<linearGradient id="j6" gradientUnits="userSpaceOnUse" x1="1230.1" y1="2127.5" x2="1424.7" y2="2010.6"><stop offset="0" stop-color="#771537"/><stop offset=".034" stop-color="#800000"/><stop offset=".148" stop-color="#bc2a2c"/><stop offset=".291" stop-color="#dc4043"/><stop offset=".472" stop-color="#da3e41"/><stop offset=".699" stop-color="#ab1e1f"/><stop offset=".831" stop-color="#800000"/><stop offset="1" stop-color="#6b3586"/></linearGradient>
<linearGradient id="j5" gradientUnits="userSpaceOnUse" x1="1226.2" y1="2123.5" x2="1428.6" y2="2011.3"><stop offset="0" stop-color="#722257"/><stop offset=".06" stop-color="#800000"/><stop offset=".185" stop-color="#b82729"/><stop offset=".34" stop-color="#d2393b"/><stop offset=".533" stop-color="#c73133"/><stop offset=".766" stop-color="#8e0a0a"/><stop offset=".809" stop-color="#800001"/><stop offset="1" stop-color="#683c98"/></linearGradient>
<linearGradient id="j4" gradientUnits="userSpaceOnUse" x1="1222.4" y1="2119.2" x2="1428" y2="2009.9"><stop offset="0" stop-color="#6d2f79"/><stop offset=".075" stop-color="#7e060f"/><stop offset=".094" stop-color="#830202"/><stop offset=".226" stop-color="#b42425"/><stop offset=".392" stop-color="#c63033"/><stop offset=".592" stop-color="#b12223"/><stop offset=".78" stop-color="#800101"/><stop offset=".973" stop-color="#693a94"/><stop offset="1" stop-color="#6543ab"/></linearGradient>
<linearGradient id="j3" gradientUnits="userSpaceOnUse" x1="1218.5" y1="2114.9" x2="1431.5" y2="2011"><stop offset="0" stop-color="#683d9c"/><stop offset=".078" stop-color="#781330"/><stop offset=".128" stop-color="#810101"/><stop offset=".272" stop-color="#ad1f20"/><stop offset=".444" stop-color="#b72628"/><stop offset=".655" stop-color="#981112"/><stop offset=".748" stop-color="#800101"/><stop offset=".928" stop-color="#6c3382"/><stop offset="1" stop-color="#624bbf"/></linearGradient>
<linearGradient id="j2" gradientUnits="userSpaceOnUse" x1="1214.6" y1="2110.3" x2="1434.8" y2="2012.3"><stop offset="0" stop-color="#624bc0"/><stop offset=".081" stop-color="#732052"/><stop offset=".169" stop-color="#800000"/><stop offset=".324" stop-color="#a4191a"/><stop offset=".508" stop-color="#a51a1b"/><stop offset=".712" stop-color="#800102"/><stop offset=".886" stop-color="#6e2e75"/><stop offset="1" stop-color="#5f53d4"/></linearGradient>
<linearGradient id="j1" gradientUnits="userSpaceOnUse" x1="1210.7" y1="2105.6" x2="1437.7" y2="2013.9"><stop offset="0" stop-color="#5c5ae5"/><stop offset=".088" stop-color="#6e2c71"/><stop offset=".187" stop-color="#7c0a19"/><stop offset=".23" stop-color="#810101"/><stop offset=".398" stop-color="#9a1213"/><stop offset=".594" stop-color="#8d0909"/><stop offset=".666" stop-color="#800103"/><stop offset=".828" stop-color="#712660"/><stop offset="1" stop-color="#5b5ceb"/></linearGradient>
<linearGradient id="j0" gradientUnits="userSpaceOnUse" x1="1205.7" y1="2099.2" x2="1439" y2="2014.2"><stop offset="0" stop-color="#685be7"/><stop offset=".015" stop-color="#5963fe"/><stop offset=".119" stop-color="#6b3383"/><stop offset=".222" stop-color="#781432"/><stop offset=".337" stop-color="#800001"/><stop offset=".521" stop-color="#840203"/><stop offset=".584" stop-color="#7f0307"/><stop offset=".733" stop-color="#751b45"/><stop offset=".896" stop-color="#6446b2"/><stop offset=".988" stop-color="#5864fe"/><stop offset="1" stop-color="#5f60f4"/></linearGradient>
</defs>
<rect x="0" y="0" width="902" height="450" fill="#dcdcdc"/>
<rect x="983" y="0" width="901" height="450" fill="#dcdcdc"/>
<rect x="0" y="472" width="902" height="451" fill="#dcdcdc"/>
<rect x="983" y="472" width="901" height="451" fill="#dcdcdc"/>
<rect x="0" y="950" width="902" height="450" fill="#dcdcdc"/>
<rect x="983" y="950" width="901" height="450" fill="#dcdcdc"/>
<rect x="0" y="1432.5" width="902" height="450.5" fill="#dcdcdc"/>
<rect x="983" y="1432.5" width="901" height="450.5" fill="#dcdcdc"/>
<rect x="0" y="1910" width="902" height="451" fill="#dcdcdc"/>
<rect x="983" y="1910" width="901" height="451" fill="#dcdcdc"/>
<rect x="186.2" y="92.2" width="531" height="265.8" fill="#fff" stroke="#0a0a0a" stroke-width="1.2"/>
<path class="k" d="M201 92.2v5.8M201 358v-5.8M234.4 92.2v3.6M234.4 358v-3.6M267.8 92.2v3.6M267.8 358v-3.6M301.2 92.2v5.8M301.2 358v-5.8M334.6 92.2v3.6M334.6 358v-3.6M368 92.2v3.6M368 358v-3.6M401.4 92.2v5.8M401.4 358v-5.8M434.8 92.2v3.6M434.8 358v-3.6M468.2 92.2v3.6M468.2 358v-3.6M501.6 92.2v5.8M501.6 358v-5.8M535 92.2v3.6M535 358v-3.6M568.4 92.2v3.6M568.4 358v-3.6M601.8 92.2v5.8M601.8 358v-5.8M635.2 92.2v3.6M635.2 358v-3.6M668.6 92.2v3.6M668.6 358v-3.6M702 92.2v5.8M702 358v-5.8"/>
<path d="M201 125.5L680.4 125.5L689.8 130.1L210.4 130.1Z" fill="#840042" stroke="#000" stroke-width="0.9" stroke-linejoin="round"/>
<path d="M680.4 103.3L689.8 107.9L689.8 130.1L680.4 125.5Z" fill="#840042" stroke="#000" stroke-width="0.9" stroke-linejoin="round"/>
<rect x="201" y="103.3" width="479.4" height="22.2" fill="#840042" stroke="#000" stroke-width="0.9"/>
<path d="M201 153.2L614.8 153.2L624.2 157.8L210.4 157.8Z" fill="#004042" stroke="#000" stroke-width="0.9" stroke-linejoin="round"/>
<path d="M614.8 131.1L624.2 135.7L624.2 157.8L614.8 153.2Z" fill="#004042" stroke="#000" stroke-width="0.9" stroke-linejoin="round"/>
<rect x="201" y="131.1" width="413.8" height="22.2" fill="#004042" stroke="#000" stroke-width="0.9"/>
<path d="M201 181L564.6 181L574 185.6L210.4 185.6Z" fill="#840042" stroke="#000" stroke-width="0.9" stroke-linejoin="round"/>
<path d="M564.6 158.8L574 163.4L574 185.6L564.6 181Z" fill="#840042" stroke="#000" stroke-width="0.9" stroke-linejoin="round"/>
<rect x="201" y="158.8" width="363.6" height="22.2" fill="#840042" stroke="#000" stroke-width="0.9"/>
<path d="M201 208.8L545.6 208.8L555 213.3L210.4 213.3Z" fill="#004042" stroke="#000" stroke-width="0.9" stroke-linejoin="round"/>
<path d="M545.6 186.6L555 191.2L555 213.3L545.6 208.8Z" fill="#004042" stroke="#000" stroke-width="0.9" stroke-linejoin="round"/>
<rect x="201" y="186.6" width="344.6" height="22.2" fill="#004042" stroke="#000" stroke-width="0.9"/>
<path d="M201 236.5L512.7 236.5L522.1 241.1L210.4 241.1Z" fill="#004042" stroke="#000" stroke-width="0.9" stroke-linejoin="round"/>
<path d="M512.7 214.3L522.1 218.9L522.1 241.1L512.7 236.5Z" fill="#004042" stroke="#000" stroke-width="0.9" stroke-linejoin="round"/>
<rect x="201" y="214.3" width="311.7" height="22.2" fill="#004042" stroke="#000" stroke-width="0.9"/>
<path d="M201 264.2L325.7 264.2L335.1 268.9L210.4 268.9Z" fill="#004042" stroke="#000" stroke-width="0.9" stroke-linejoin="round"/>
<path d="M325.7 242.1L335.1 246.7L335.1 268.9L325.7 264.2Z" fill="#004042" stroke="#000" stroke-width="0.9" stroke-linejoin="round"/>
<rect x="201" y="242.1" width="124.7" height="22.2" fill="#004042" stroke="#000" stroke-width="0.9"/>
<path d="M201 292L309.2 292L318.6 296.6L210.4 296.6Z" fill="#840042" stroke="#000" stroke-width="0.9" stroke-linejoin="round"/>
<path d="M309.2 269.8L318.6 274.4L318.6 296.6L309.2 292Z" fill="#840042" stroke="#000" stroke-width="0.9" stroke-linejoin="round"/>
<rect x="201" y="269.8" width="108.2" height="22.2" fill="#840042" stroke="#000" stroke-width="0.9"/>
<text transform="translate(173.6 284.8) scale(1.04 1)" text-anchor="end">A:Dynamic time</text>
<path d="M201 319.8L277 319.8L286.4 324.4L210.4 324.4Z" fill="#004042" stroke="#000" stroke-width="0.9" stroke-linejoin="round"/>
<path d="M277 297.6L286.4 302.2L286.4 324.4L277 319.8Z" fill="#004042" stroke="#000" stroke-width="0.9" stroke-linejoin="round"/>
<rect x="201" y="297.6" width="76" height="22.2" fill="#004042" stroke="#000" stroke-width="0.9"/>
<path d="M201 347.5L238.6 347.5L248 352.1L210.4 352.1Z" fill="#840042" stroke="#000" stroke-width="0.9" stroke-linejoin="round"/>
<path d="M238.6 325.3L248 329.9L248 352.1L238.6 347.5Z" fill="#840042" stroke="#000" stroke-width="0.9" stroke-linejoin="round"/>
<rect x="201" y="325.3" width="37.6" height="22.2" fill="#840042" stroke="#000" stroke-width="0.9"/>
<rect x="274.4" y="99.6" width="5.6" height="250.4" fill="#8400ff"/>
<text transform="translate(201 375.9) scale(1.12 1)" text-anchor="middle">0</text>
<text transform="translate(301.2 375.9) scale(1.12 1)" text-anchor="middle">3</text>
<text transform="translate(401.4 375.9) scale(1.12 1)" text-anchor="middle">6</text>
<text transform="translate(501.6 375.9) scale(1.12 1)" text-anchor="middle">9</text>
<text transform="translate(601.8 375.9) scale(1.12 1)" text-anchor="middle">12</text>
<text transform="translate(702 375.9) scale(1.12 1)" text-anchor="middle">15</text>
<rect x="722.8" y="106.2" width="66.4" height="37.4" fill="#fff" stroke="#0a0a0a" stroke-width="1"/>
<path d="M727.3 121.9L756.9 121.9L766.3 126.1L736.7 126.1Z" fill="#840042" stroke="#000" stroke-width="0.8" stroke-linejoin="round"/>
<path d="M756.9 111.6L766.3 115.8L766.3 126.1L756.9 121.9Z" fill="#840042" stroke="#000" stroke-width="0.8" stroke-linejoin="round"/>
<rect x="727.3" y="111.6" width="29.6" height="10.3" fill="#840042" stroke="#000" stroke-width="0.8"/>
<path d="M727.3 138.3L756.9 138.3L766.3 142.5L736.7 142.5Z" fill="#004042" stroke="#000" stroke-width="0.8" stroke-linejoin="round"/>
<path d="M756.9 128.3L766.3 132.5L766.3 142.5L756.9 138.3Z" fill="#004042" stroke="#000" stroke-width="0.8" stroke-linejoin="round"/>
<rect x="727.3" y="128.3" width="29.6" height="10" fill="#004042" stroke="#000" stroke-width="0.8"/>
<rect x="1168.4" y="92.2" width="531.3" height="265.8" fill="#fff" stroke="#0a0a0a" stroke-width="1.2"/>
<path class="k" d="M1183.2 92.2v5.8M1183.2 358v-5.8M1211.1 92.2v3.6M1211.1 358v-3.6M1238.9 92.2v3.6M1238.9 358v-3.6M1266.8 92.2v5.8M1266.8 358v-5.8M1294.7 92.2v3.6M1294.7 358v-3.6M1322.5 92.2v3.6M1322.5 358v-3.6M1350.4 92.2v5.8M1350.4 358v-5.8M1378.3 92.2v3.6M1378.3 358v-3.6M1406.2 92.2v3.6M1406.2 358v-3.6M1434 92.2v5.8M1434 358v-5.8M1461.9 92.2v3.6M1461.9 358v-3.6M1489.8 92.2v3.6M1489.8 358v-3.6M1517.6 92.2v5.8M1517.6 358v-5.8M1545.5 92.2v3.6M1545.5 358v-3.6M1573.4 92.2v3.6M1573.4 358v-3.6M1601.2 92.2v5.8M1601.2 358v-5.8M1629.1 92.2v3.6M1629.1 358v-3.6M1657 92.2v3.6M1657 358v-3.6M1684.9 92.2v5.8M1684.9 358v-5.8"/>
<path d="M1183.2 125.5L1678.2 125.5L1684.8 128.7L1684.8 130.1L1192.6 130.1Z" fill="#840000" stroke="#000" stroke-width="0.9" stroke-linejoin="round"/>
<path d="M1678.2 103.3L1684.8 106.5L1684.8 128.7L1678.2 125.5Z" fill="#840000" stroke="#000" stroke-width="0.9" stroke-linejoin="round"/>
<rect x="1183.2" y="103.3" width="495" height="22.2" fill="#840000" stroke="#000" stroke-width="0.9"/>
<path d="M1183.2 153.2L1592.6 153.2L1602 157.8L1192.6 157.8Z" fill="#000084" stroke="#000" stroke-width="0.9" stroke-linejoin="round"/>
<path d="M1592.6 131.1L1602 135.7L1602 157.8L1592.6 153.2Z" fill="#000084" stroke="#000" stroke-width="0.9" stroke-linejoin="round"/>
<rect x="1183.2" y="131.1" width="409.4" height="22.2" fill="#000084" stroke="#000" stroke-width="0.9"/>
<path d="M1183.2 181L1558.9 181L1568.3 185.6L1192.6 185.6Z" fill="#000084" stroke="#000" stroke-width="0.9" stroke-linejoin="round"/>
<path d="M1558.9 158.8L1568.3 163.4L1568.3 185.6L1558.9 181Z" fill="#000084" stroke="#000" stroke-width="0.9" stroke-linejoin="round"/>
<rect x="1183.2" y="158.8" width="375.7" height="22.2" fill="#000084" stroke="#000" stroke-width="0.9"/>
<path d="M1183.2 208.8L1517.7 208.8L1527.1 213.3L1192.6 213.3Z" fill="#000084" stroke="#000" stroke-width="0.9" stroke-linejoin="round"/>
<path d="M1517.7 186.6L1527.1 191.2L1527.1 213.3L1517.7 208.8Z" fill="#000084" stroke="#000" stroke-width="0.9" stroke-linejoin="round"/>
<rect x="1183.2" y="186.6" width="334.5" height="22.2" fill="#000084" stroke="#000" stroke-width="0.9"/>
<path d="M1183.2 236.5L1492.3 236.5L1501.7 241.1L1192.6 241.1Z" fill="#840000" stroke="#000" stroke-width="0.9" stroke-linejoin="round"/>
<path d="M1492.3 214.3L1501.7 218.9L1501.7 241.1L1492.3 236.5Z" fill="#840000" stroke="#000" stroke-width="0.9" stroke-linejoin="round"/>
<rect x="1183.2" y="214.3" width="309.1" height="22.2" fill="#840000" stroke="#000" stroke-width="0.9"/>
<path d="M1183.2 264.2L1404.5 264.2L1413.9 268.9L1192.6 268.9Z" fill="#840000" stroke="#000" stroke-width="0.9" stroke-linejoin="round"/>
<path d="M1404.5 242.1L1413.9 246.7L1413.9 268.9L1404.5 264.2Z" fill="#840000" stroke="#000" stroke-width="0.9" stroke-linejoin="round"/>
<rect x="1183.2" y="242.1" width="221.3" height="22.2" fill="#840000" stroke="#000" stroke-width="0.9"/>
<path d="M1183.2 292L1360.4 292L1369.8 296.6L1192.6 296.6Z" fill="#840000" stroke="#000" stroke-width="0.9" stroke-linejoin="round"/>
<path d="M1360.4 269.8L1369.8 274.4L1369.8 296.6L1360.4 292Z" fill="#840000" stroke="#000" stroke-width="0.9" stroke-linejoin="round"/>
<rect x="1183.2" y="269.8" width="177.2" height="22.2" fill="#840000" stroke="#000" stroke-width="0.9"/>
<text transform="translate(1155.8 284.8) scale(1.04 1)" text-anchor="end">A:Dynamic time</text>
<path d="M1183.2 319.8L1343.4 319.8L1352.8 324.4L1192.6 324.4Z" fill="#000084" stroke="#000" stroke-width="0.9" stroke-linejoin="round"/>
<path d="M1343.4 297.6L1352.8 302.2L1352.8 324.4L1343.4 319.8Z" fill="#000084" stroke="#000" stroke-width="0.9" stroke-linejoin="round"/>
<rect x="1183.2" y="297.6" width="160.2" height="22.2" fill="#000084" stroke="#000" stroke-width="0.9"/>
<path d="M1183.2 347.5L1308.8 347.5L1318.2 352.1L1192.6 352.1Z" fill="#840000" stroke="#000" stroke-width="0.9" stroke-linejoin="round"/>
<path d="M1308.8 325.3L1318.2 329.9L1318.2 352.1L1308.8 347.5Z" fill="#840000" stroke="#000" stroke-width="0.9" stroke-linejoin="round"/>
<rect x="1183.2" y="325.3" width="125.6" height="22.2" fill="#840000" stroke="#000" stroke-width="0.9"/>
<rect x="1243.7" y="99.6" width="5.2" height="250.4" fill="#848484"/>
<text transform="translate(1183.2 375.9) scale(1.12 1)" text-anchor="middle">0</text>
<text transform="translate(1266.8 375.9) scale(1.12 1)" text-anchor="middle">3</text>
<text transform="translate(1350.4 375.9) scale(1.12 1)" text-anchor="middle">6</text>
<text transform="translate(1434 375.9) scale(1.12 1)" text-anchor="middle">9</text>
<text transform="translate(1517.6 375.9) scale(1.12 1)" text-anchor="middle">12</text>
<text transform="translate(1601.2 375.9) scale(1.12 1)" text-anchor="middle">15</text>
<text transform="translate(1684.9 375.9) scale(1.12 1)" text-anchor="middle">18</text>
<rect x="1705.3" y="106.2" width="66.4" height="37.4" fill="#fff" stroke="#0a0a0a" stroke-width="1"/>
<path d="M1709.8 121.9L1739.4 121.9L1748.8 126.1L1719.2 126.1Z" fill="#840000" stroke="#000" stroke-width="0.8" stroke-linejoin="round"/>
<path d="M1739.4 111.6L1748.8 115.8L1748.8 126.1L1739.4 121.9Z" fill="#840000" stroke="#000" stroke-width="0.8" stroke-linejoin="round"/>
<rect x="1709.8" y="111.6" width="29.6" height="10.3" fill="#840000" stroke="#000" stroke-width="0.8"/>
<path d="M1709.8 138.3L1739.4 138.3L1748.8 142.5L1719.2 142.5Z" fill="#000084" stroke="#000" stroke-width="0.8" stroke-linejoin="round"/>
<path d="M1739.4 128.3L1748.8 132.5L1748.8 142.5L1739.4 138.3Z" fill="#000084" stroke="#000" stroke-width="0.8" stroke-linejoin="round"/>
<rect x="1709.8" y="128.3" width="29.6" height="10" fill="#000084" stroke="#000" stroke-width="0.8"/>
<rect x="186.3" y="564.2" width="530.8" height="266.5" fill="#fff" stroke="#0a0a0a" stroke-width="1.2"/>
<path class="k" d="M186.3 572.1h10.6M717.1 572.1h-10.6M186.3 634.9h10.6M717.1 634.9h-10.6M186.3 697.5h10.6M717.1 697.5h-10.6M186.3 760.2h10.6M717.1 760.2h-10.6M186.3 822.8h10.6M717.1 822.8h-10.6"/>
<path d="M234.5 725.8L237 718.9L239.5 712.2L242 705.9L244.5 699.9L247 694.1L249.5 688.7L252 683.6L254.5 678.7L257 674.2L259.6 670L262.1 666L264.6 662.4L267.1 659.1L269.6 656L272.1 653.3L274.6 650.8L277.1 648.7L279.6 646.9L282.1 645.3L284.6 644.1L287.1 643.1L289.6 642.5L292.1 642.2L294.6 642.1L297.1 642.4L299.6 642.9L302.1 643.8L304.6 644.9L307.1 646.4L309.6 648.2L312.2 650.2L314.7 652.6L317.2 655.2L319.7 658.2L322.2 661.4L324.7 665L327.2 668.8L329.7 673L332.2 677.4L334.7 682.2" fill="none" stroke="#840042" stroke-width="5" stroke-linecap="butt" stroke-linejoin="round"/>
<path d="M401.5 809.8L404 798.1L406.5 786.8L409 775.9L411.5 765.3L414 755.1L416.5 745.2L419 735.7L421.5 726.5L424 717.7L426.5 709.3L429 701.2L431.5 693.5L434 686.1L436.5 679.1L439 672.4L441.5 666.1L444 660.2L446.5 654.6L449 649.4L451.4 644.5L453.9 640L456.4 635.9L458.9 632.1L461.4 628.6L463.9 625.6L466.4 622.8L468.9 620.5L471.4 618.5L473.9 616.8L476.4 615.5L478.9 614.6L481.4 614L483.9 613.8L486.4 613.9L488.9 614.4L491.4 615.3L493.9 616.5L496.4 618.1L498.9 620L501.4 622.3" fill="none" stroke="#840042" stroke-width="5" stroke-linecap="butt" stroke-linejoin="round"/>
<path d="M567.9 769.8L570.4 761L572.9 752.4L575.4 744.1L577.9 736.1L580.4 728.4L582.8 720.9L585.3 713.7L587.8 706.8L590.3 700.1L592.8 693.7L595.3 687.6L597.8 681.7L600.3 676.1L602.8 670.8L605.2 665.8L607.7 661L610.2 656.5L612.7 652.2L615.2 648.3L617.7 644.6L620.2 641.1L622.7 638L625.2 635.1L627.7 632.5L630.1 630.1L632.6 628L635.1 626.2L637.6 624.7L640.1 623.4L642.6 622.4L645.1 621.7L647.6 621.2L650.1 621L652.6 621.1L655 621.4L657.5 622L660 622.9L662.5 624.1L665 625.5L667.5 627.2" fill="none" stroke="#840042" stroke-width="5" stroke-linecap="butt" stroke-linejoin="round"/>
<text transform="translate(284.6 879.8) scale(1.04 1)" text-anchor="middle">Dynamic time</text>
<text transform="translate(139.5 697.5) rotate(-90) scale(1.07 1)" text-anchor="middle">Yield</text>
<rect x="1168.6" y="564.2" width="530.8" height="266.5" fill="#fff" stroke="#0a0a0a" stroke-width="1.2"/>
<text transform="translate(1161.3 577.1) scale(1.12 1)" text-anchor="end">2850</text>
<text transform="translate(1161.3 627.2) scale(1.12 1)" text-anchor="end">2820</text>
<text transform="translate(1161.3 677.4) scale(1.12 1)" text-anchor="end">2790</text>
<text transform="translate(1161.3 727.5) scale(1.12 1)" text-anchor="end">2760</text>
<text transform="translate(1161.3 777.7) scale(1.12 1)" text-anchor="end">2730</text>
<text transform="translate(1161.3 827.8) scale(1.12 1)" text-anchor="end">2700</text>
<path class="k" d="M1168.6 572.1h10.6M1699.4 572.1h-10.6M1168.6 622.2h10.6M1699.4 622.2h-10.6M1168.6 672.4h10.6M1699.4 672.4h-10.6M1168.6 722.5h10.6M1699.4 722.5h-10.6M1168.6 772.7h10.6M1699.4 772.7h-10.6M1168.6 822.8h10.6M1699.4 822.8h-10.6M1168.6 588.8h5.5M1699.4 588.8h-5.5M1168.6 605.5h5.5M1699.4 605.5h-5.5M1168.6 639h5.5M1699.4 639h-5.5M1168.6 655.7h5.5M1699.4 655.7h-5.5M1168.6 689.1h5.5M1699.4 689.1h-5.5M1168.6 705.8h5.5M1699.4 705.8h-5.5M1168.6 739.2h5.5M1699.4 739.2h-5.5M1168.6 755.9h5.5M1699.4 755.9h-5.5M1168.6 789.4h5.5M1699.4 789.4h-5.5M1168.6 806.1h5.5M1699.4 806.1h-5.5"/>
<path d="M1216.7 773.4L1219.2 775.5L1221.7 777.5L1224.2 779.2L1226.7 780.8L1229.2 782.1L1231.7 783.3L1234.2 784.2L1236.7 785L1239.2 785.6L1241.7 785.9L1244.2 786.1L1246.7 786.1L1249.2 785.8L1251.7 785.4L1254.2 784.8L1256.7 784L1259.2 782.9L1261.7 781.7L1264.2 780.3L1266.7 778.7L1269.2 776.9L1271.7 774.9L1274.2 772.7L1276.7 770.3L1279.2 767.7L1281.7 764.9L1284.2 761.9L1286.7 758.7L1289.2 755.3L1291.7 751.7L1294.2 747.9L1296.7 744L1299.2 739.8L1301.7 735.4L1304.2 730.8L1306.7 726.1L1309.2 721.1L1311.7 715.9L1314.2 710.6L1316.7 705" fill="none" stroke="#000033" stroke-width="5" stroke-linecap="butt" stroke-linejoin="round"/>
<path d="M1383.8 609.3L1386.3 621.8L1388.8 633.8L1391.3 645.4L1393.8 656.5L1396.3 667.3L1398.8 677.6L1401.3 687.4L1403.8 696.9L1406.3 705.9L1408.8 714.5L1411.3 722.7L1413.8 730.4L1416.3 737.7L1418.8 744.5L1421.3 751L1423.8 757L1426.3 762.6L1428.8 767.7L1431.3 772.5L1433.8 776.7L1436.2 780.6L1438.7 784L1441.2 787L1443.7 789.6L1446.2 791.8L1448.7 793.5L1451.2 794.8L1453.7 795.6L1456.2 796L1458.7 796L1461.2 795.6L1463.7 794.8L1466.2 793.5L1468.7 791.7L1471.2 789.6L1473.7 787L1476.2 784L1478.7 780.6L1481.2 776.7L1483.7 772.4" fill="none" stroke="#000033" stroke-width="5" stroke-linecap="butt" stroke-linejoin="round"/>
<path d="M1550.5 649.3L1553 658.1L1555.5 666.7L1558 675L1560.5 683.1L1563 690.9L1565.5 698.4L1568 705.7L1570.5 712.7L1573 719.4L1575.5 725.9L1578 732.1L1580.5 738.1L1583 743.8L1585.5 749.2L1588 754.4L1590.5 759.3L1593 764L1595.5 768.4L1598 772.5L1600.5 776.4L1603 780L1605.5 783.3L1608 786.4L1610.5 789.2L1613 791.8L1615.5 794.1L1618 796.1L1620.5 797.9L1623 799.4L1625.5 800.6L1628 801.6L1630.5 802.3L1633 802.8L1635.5 803L1638 802.9L1640.5 802.6L1643 802L1645.5 801.2L1648 800.1L1650.5 798.7" fill="none" stroke="#000033" stroke-width="5" stroke-linecap="butt" stroke-linejoin="round"/>
<text transform="translate(1266.9 879.8) scale(1.04 1)" text-anchor="middle">Dynamic time</text>
<text transform="translate(1116 697.5) rotate(-90) scale(1.07 1)" text-anchor="middle">IC50</text>
<path d="M207.2 1267.3L503.3 1300.4L696.3 1250.7L696.3 1083.6L400.2 1050.5L207.2 1100.2Z" fill="#fff"/>
<path class="k" d="M400.2 1217.6L207.2 1267.3M400.2 1217.6L696.3 1250.7M400.2 1217.6L400.2 1050.5M400.2 1056.6l5.5 0M400.2 1061.8l3 0M400.2 1067.1l3 0M400.2 1072.3l3 0M400.2 1077.6l3 0M400.2 1082.8l5.5 0M400.2 1088l3 0M400.2 1093.2l3 0M400.2 1098.5l3 0M400.2 1103.7l3 0M400.2 1108.9l5.5 0M400.2 1114.1l3 0M400.2 1119.3l3 0M400.2 1124.6l3 0M400.2 1129.8l3 0M400.2 1135l5.5 0M400.2 1140.2l3 0M400.2 1145.5l3 0M400.2 1150.7l3 0M400.2 1156l3 0M400.2 1161.2l5.5 0M400.2 1166.4l3 0M400.2 1171.6l3 0M400.2 1176.9l3 0M400.2 1182.1l3 0M400.2 1187.3l5.5 0M400.2 1192.5l3 0M400.2 1197.7l3 0M400.2 1202.9l3 0M400.2 1208.1l3 0M400.2 1213.3l5.5 0"/>
<g transform="matrix(0.2798 0.0313 0.1824 -0.047 220.7 1261.8)" clip-path="url(#cu)"><rect width="1000" height="1000" fill="#3f8cca"/><g transform="translate(448.4 665.2) rotate(-76.77)"><ellipse rx="1026.4" ry="686.3" fill="#398dc5"/><ellipse rx="1017.2" ry="680.1" fill="#338ec0"/><ellipse rx="1008" ry="673.9" fill="#2d90bb"/><ellipse rx="998.6" ry="667.7" fill="#2691b6"/><ellipse rx="989.2" ry="661.4" fill="#2092b0"/><ellipse rx="979.7" ry="655" fill="#1a93ab"/><ellipse rx="970" ry="648.6" fill="#1494a6"/><ellipse rx="960.3" ry="642.1" fill="#0e95a1"/><ellipse rx="950.5" ry="635.5" fill="#08979c"/><ellipse rx="940.6" ry="628.9" fill="#029897"/><ellipse rx="925.2" ry="618.6" fill="#009391"/><ellipse rx="909.2" ry="607.9" fill="#008d8b"/><ellipse rx="892.8" ry="596.9" fill="#008786"/><ellipse rx="876.1" ry="585.8" fill="#008180"/><ellipse rx="859.1" ry="574.4" fill="#007b7a"/><ellipse rx="841.8" ry="562.8" fill="#007574"/><ellipse rx="824.1" ry="551" fill="#006f6e"/><ellipse rx="806" ry="538.9" fill="#006968"/><ellipse rx="787.5" ry="526.5" fill="#006362"/><ellipse rx="768.5" ry="513.9" fill="#005d5c"/><ellipse rx="749.1" ry="500.9" fill="#005757"/><ellipse rx="729.2" ry="487.5" fill="#005151"/><ellipse rx="708.7" ry="473.8" fill="#004b4b"/><ellipse rx="686.2" ry="458.8" fill="#064547"/><ellipse rx="673.1" ry="450" fill="#0c4247"/><ellipse rx="659.7" ry="441.1" fill="#123e46"/><ellipse rx="646" ry="431.9" fill="#193b46"/><ellipse rx="632" ry="422.6" fill="#1f3845"/><ellipse rx="617.7" ry="413" fill="#253445"/><ellipse rx="603.1" ry="403.2" fill="#2b3144"/><ellipse rx="588.1" ry="393.2" fill="#322e44"/><ellipse rx="572.7" ry="382.9" fill="#382b43"/><ellipse rx="556.8" ry="372.3" fill="#3e2743"/><ellipse rx="540.6" ry="361.4" fill="#442442"/><ellipse rx="523.8" ry="350.2" fill="#4a2141"/><ellipse rx="506.4" ry="338.6" fill="#511d41"/><ellipse rx="488.5" ry="326.6" fill="#571a40"/><ellipse rx="469.8" ry="314.1" fill="#5d1740"/><ellipse rx="450.4" ry="301.1" fill="#63133f"/><ellipse rx="430.1" ry="287.6" fill="#69103f"/><ellipse rx="408.8" ry="273.3" fill="#700d3e"/><ellipse rx="386.3" ry="258.3" fill="#760a3e"/><ellipse rx="362.4" ry="242.3" fill="#7c063d"/><ellipse rx="336.9" ry="225.2" fill="#82033d"/><ellipse rx="257.1" ry="171.9" fill="#880043"/><ellipse rx="193.7" ry="129.5" fill="#880049"/><ellipse rx="94.5" ry="63.2" fill="#88004f"/></g></g>
<g><path fill="url(#e47)" d="M399.2 1134.3l14-9.5 14-8.1 14-6.7 14-5.2 14-3.7 14-2.3 14-.9 14 .6 14 2.1 13.9 3.4 14 5 14 6.4 14 7.8 14 9.3 14 10.7 14 12.2 14 13.6 14 15.1 14 16.5 14 18 3.7 1.8-13.9-18.1-14-16.6-14-15.1-14-13.7-14-12.3-14-10.8-14-9.4-14-7.9-14-6.4-14-5-13.9-3.6-14-2.1-14-.7-14 .8-14 2.2-14 3.7-14 5.1-14 6.6-14 8-14 9.5z"/>
<path fill="url(#e46)" d="M395.4 1134.2l14-9.6 14-8.2 14-6.7 14-5.3 14-3.8 14-2.4 14-.9 14 .5 14 1.9 13.9 3.4 14 4.9 14 6.3 14 7.8 14 9.2 14 10.6 14 12.1 14 13.6 14 15 14 16.4 14 17.9 6 2.7-14-18-14-16.6-13.9-15.1-14-13.6-14-12.3-14-10.7-14-9.4-14-7.9-14-6.4-14-5-14-3.5-14-2.1-13.9-.6-14 .8-14 2.2-14 3.8-14 5.1-14 6.6-14 8.1-14 9.5z"/>
<path fill="url(#e45)" d="M391.6 1134.2l14-9.7 14-8.3 14-6.8 14-5.3 14-3.9 14-2.5 14-1 14 .4 14 1.9 13.9 3.4 14 4.8 14 6.2 14 7.7 14 9.1 14 10.6 14 12 14 13.5 14 14.9 14 16.4 14 17.8 6 2.5-14-17.9-14-16.5-13.9-15.1-14-13.6-14-12.1-14-10.7-14-9.3-14-7.8-14-6.3-14-4.9-14-3.5-14-2-13.9-.6-14 .9-14 2.4-14 3.7-14 5.3-14 6.7-14 8.1-14 9.6z"/>
<path fill="url(#e44)" d="M387.8 1134.3l14-9.8 14-8.3 14-6.9 14-5.4 14-4 14-2.5 14-1.1 14 .4 14 1.8 13.9 3.2 14 4.7 14 6.2 14 7.6 14 9 14 10.5 14 12 14 13.4 14 14.8 14 16.3 14 17.8 6 2.3-14-17.9-14-16.4-13.9-15-14-13.5-14-12.1-14-10.6-14-9.1-14-7.8-14-6.3-14-4.8-14-3.4-14-1.9-13.9-.5-14 1-14 2.4-14 3.9-14 5.3-14 6.7-14 8.2-14 9.7z"/>
<path fill="url(#e43)" d="M384 1134.5l14-9.8 14-8.4 14-7 14-5.5 14-4 14-2.6 14-1.2 14 .3 14 1.7 13.9 3.2 14 4.6 14 6.1 14 7.5 14 9 14 10.4 14 11.9 14 13.3 14 14.8 14 16.2 14 17.7 6 2.1-14-17.8-14-16.3-13.9-14.9-14-13.5-14-12-14-10.5-14-9.1-14-7.7-14-6.2-14-4.7-14-3.3-14-1.9-13.9-.4-14 1.1-14 2.5-14 3.9-14 5.4-14 6.8-14 8.3-14 9.7z"/>
<path fill="url(#e42)" d="M380.2 1134.9l14-9.9 14-8.5 14-7 14-5.6 14-4.2 14-2.6 14-1.3 14 .2 14 1.7 13.9 3.1 14 4.5 14 6 14 7.5 14 8.9 14 10.3 14 11.8 14 13.3 14 14.7 14 16.1 14 17.6 6 1.9-14-17.7-14-16.2-13.9-14.9-14-13.3-14-11.9-14-10.5-14-9-14-7.6-14-6.1-14-4.7-14-3.2-14-1.8-13.9-.3-14 1.1-14 2.5-14 4.1-14 5.4-14 6.9-14 8.4-14 9.8z"/>
<path fill="url(#e41)" d="M376.4 1135.4l14-10 14-8.6 14-7.1 14-5.6 14-4.3 14-2.7 14-1.3 14 .1 14 1.6 13.9 3 14 4.5 14 5.9 14 7.4 14 8.8 14 10.3 14 11.7 14 13.2 14 14.6 14 16 14 17.5 6 1.8-14-17.7-14-16.1-13.9-14.8-14-13.3-14-11.8-14-10.4-14-8.9-14-7.5-14-6.1-14-4.6-14-3.1-14-1.7-13.9-.3-14 1.2-14 2.6-14 4.1-14 5.6-14 7-14 8.4-14 9.9z"/>
<path fill="url(#e40)" d="M372.6 1136l14-10.1 14-8.6 14-7.2 14-5.7 14-4.3 14-2.9 14-1.4 14 .1 14 1.5 13.9 3 14 4.4 14 5.8 14 7.3 14 8.7 14 10.2 14 11.7 14 13.1 14 14.5 14 16 14 17.4 6 1.6-14-17.6-13.9-16.1-14-14.7-14-13.2-14-11.7-14-10.4-14-8.8-14-7.4-14-6-14-4.5-14-3.1-14-1.6-13.9-.2-14 1.3-14 2.7-14 4.1-14 5.7-14 7-14 8.5-14 10z"/>
<path fill="url(#e39)" d="M368.8 1136.7l14-10.1 14-8.7 14-7.3 14-5.8 14-4.4 14-2.9 14-1.5 14 0 14 1.4 13.9 2.9 14 4.3 14 5.8 14 7.2 14 8.7 14 10.1 14 11.6 14 13 14 14.5 14 15.9 14 17.3 6 1.4-14-17.5-13.9-16-14-14.6-14-13.2-14-11.7-14-10.2-14-8.8-14-7.3-14-5.9-14-4.5-14-3-14-1.5-13.9-.1-14 1.3-14 2.8-14 4.3-14 5.7-14 7.1-14 8.6-14 10z"/>
<path fill="url(#e38)" d="M365 1137.6l14-10.2 14-8.8 14-7.4 14-5.9 14-4.4 14-3 14-1.5 14-.1 14 1.3 13.9 2.8 14 4.3 14 5.7 14 7.1 14 8.6 14 10 14 11.5 14 13 14 14.3 14 15.9 14 17.3 6 1.1-14-17.4-13.9-16-14-14.5-14-13-14-11.6-14-10.2-14-8.7-14-7.3-14-5.8-14-4.4-14-2.9-14-1.5-13.9 0-14 1.4-14 2.9-14 4.3-14 5.8-14 7.2-14 8.7-14 10.1z"/>
<path fill="url(#e37)" d="M361.2 1138.6l14-10.3 14-8.9 14-7.4 14-6 14-4.5 14-3.1 14-1.6 14-.2 14 1.3 13.9 2.7 14 4.2 14 5.6 14 7.1 14 8.5 14 10 14 11.4 14 12.8 14 14.3 14 15.8 14 17.2 6 .9-14-17.3-13.9-15.9-14-14.4-14-13-14-11.5-14-10.1-14-8.6-14-7.2-14-5.8-14-4.3-14-2.8-14-1.4-13.9 0-14 1.5-14 3-14 4.4-14 5.8-14 7.3-14 8.8-14 10.2z"/>
<path fill="url(#e36)" d="M357.4 1139.7l14-10.4 14-9 14-7.5 14-6 14-4.6 14-3.1 14-1.7 14-.3 14 1.2 13.9 2.7 14 4.1 14 5.5 14 7 14 8.4 14 9.9 14 11.3 14 12.8 14 14.3 14 15.6 14 17.2 6 .7-14-17.2-13.9-15.8-14-14.4-14-12.9-14-11.5-14-10-14-8.5-14-7.1-14-5.7-14-4.2-14-2.8-14-1.3-13.9 .1-14 1.6-14 3-14 4.5-14 5.9-14 7.4-14 8.8-14 10.3z"/>
<path fill="url(#e35)" d="M353.6 1140.9l14-10.5 14-9 14-7.6 14-6.1 14-4.6 14-3.3 14-1.7 14-.4 14 1.1 13.9 2.6 14 4 14 5.5 14 6.9 14 8.4 14 9.8 14 11.2 14 12.8 14 14.1 14 15.6 14 17.1 6 .5-14-17.2-13.9-15.7-14-14.3-14-12.8-14-11.4-14-9.9-14-8.5-14-7-14-5.6-14-4.2-14-2.7-14-1.2-13.9 .2-14 1.7-14 3.1-14 4.5-14 6-14 7.5-14 8.8-14 10.4z"/>
<path fill="url(#e34)" d="M349.8 1142.2l14-10.5 14-9.1 14-7.6 14-6.2 14-4.8 14-3.3 14-1.8 14-.4 14 1 13.9 2.5 14 3.9 14 5.4 14 6.9 14 8.3 14 9.7 14 11.2 14 12.6 14 14.1 14 15.5 14 17 6 .3-14-17.1-13.9-15.6-14-14.2-14-12.8-14-11.3-14-9.8-14-8.4-14-7-14-5.5-14-4.1-14-2.6-14-1.2-13.9 .3-14 1.8-14 3.1-14 4.7-14 6-14 7.6-14 8.9-14 10.4z"/>
<path fill="url(#e33)" d="M346 1143.7l14-10.6 14-9.2 14-7.7 14-6.3 14-4.8 14-3.4 14-1.9 14-.5 14 1 13.9 2.4 14 3.9 14 5.3 14 6.7 14 8.3 14 9.6 14 11.1 14 12.6 14 14 14 15.4 14 16.9 6 .2-14-17-13.9-15.6-14-14.1-14-12.7-14-11.2-14-9.8-14-8.4-14-6.8-14-5.5-14-4-14-2.5-14-1.1-13.9 .4-14 1.8-14 3.2-14 4.7-14 6.2-14 7.6-14 9-14 10.5z"/>
<path fill="url(#e32)" d="M342.2 1145.3l14-10.7 14-9.2 14-7.8 14-6.4 14-4.9 14-3.4 14-2 14-.6 14 .9 13.9 2.3 14 3.8 14 5.3 14 6.6 14 8.2 14 9.6 14 11 14 12.5 14 13.9 14 15.4 14 16.8 6-.1-14-16.9-13.9-15.5-14-14-14-12.6-14-11.2-14-9.7-14-8.3-14-6.8-14-5.3-14-3.9-14-2.5-14-1-13.9 .4-14 1.9-14 3.3-14 4.8-14 6.2-14 7.7-14 9.1-14 10.6z"/>
<path fill="url(#e31)" d="M338.4 1147l14-10.7 14-9.4 14-7.8 14-6.5 14-4.9 14-3.6 14-2.1 14-.6 14 .8 13.9 2.3 14 3.7 14 5.2 14 6.6 14 8 14 9.5 14 11 14 12.4 14 13.8 14 15.3 14 16.8 6-.3-14-16.8-13.9-15.5-14-13.9-14-12.6-14-11-14-9.7-14-8.1-14-6.8-14-5.2-14-3.9-14-2.4-14-.9-13.9 .5-14 2-14 3.4-14 4.8-14 6.3-14 7.8-14 9.2-14 10.6z"/>
<path fill="url(#e30)" d="M334.6 1148.9l14-10.9 14-9.4 14-7.9 14-6.5 14-5.1 14-3.6 14-2.2 14-.7 14 .8 13.9 2.2 14 3.6 14 5.1 14 6.5 14 8 14 9.4 14 10.9 14 12.3 14 13.8 14 15.2 14 16.7 6-.5-14-16.7-13.9-15.4-14-13.9-14-12.4-14-11-14-9.6-14-8.1-14-6.6-14-5.2-14-3.8-14-2.3-14-.9-13.9 .6-14 2.1-14 3.4-14 5-14 6.3-14 7.9-14 9.3-14 10.7z"/>
<path fill="url(#e29)" d="M330.8 1150.8l14-10.9 14-9.5 14-8 14-6.6 14-5.1 14-3.7 14-2.2 14-.8 14 .7 13.9 2.1 14 3.5 14 5 14 6.5 14 7.9 14 9.3 14 10.8 14 12.3 14 13.7 14 15.1 14 16.6 6-.6-14-16.7-13.9-15.3-14-13.8-14-12.4-14-10.9-14-9.5-14-8-14-6.6-14-5.1-14-3.7-14-2.2-14-.8-13.9 .6-14 2.2-14 3.5-14 5-14 6.5-14 7.9-14 9.3-14 10.8z"/>
<path fill="url(#e28)" d="M327 1152.9l14-11 14-9.5 14-8.1 14-6.7 14-5.2 14-3.8 14-2.3 14-.8 14 .5 13.9 2.1 14 3.5 14 4.9 14 6.4 14 7.8 14 9.3 14 10.7 14 12.2 14 13.6 14 15.1 14 16.5 6-.9-14-16.6-13.9-15.2-14-13.7-14-12.3-14-10.9-14-9.4-14-7.9-14-6.5-14-5.1-14-3.6-14-2.1-14-.7-13.9 .7-14 2.2-14 3.6-14 5.1-14 6.5-14 8-14 9.5-14 10.8z"/>
<path fill="url(#e27)" d="M323.2 1155.1l14-11 14-9.7 14-8.2 14-6.7 14-5.3 14-3.8 14-2.4 14-.9 14 .5 13.9 1.9 14 3.4 14 4.9 14 6.3 14 7.7 14 9.2 14 10.7 14 12.1 14 13.5 14 15 14 16.5 6-1.1-14-16.5-13.9-15.2-14-13.6-14-12.2-14-10.8-14-9.3-14-7.9-14-6.4-14-5-14-3.5-14-2.1-14-.6-13.9 .8-14 2.2-14 3.8-14 5.1-14 6.6-14 8.1-14 9.5-14 11z"/>
<path fill="url(#e26)" d="M319.4 1157.5l14-11.2 14-9.7 14-8.3 14-6.8 14-5.3 14-3.9 14-2.5 14-1 14 .4 13.9 1.9 14 3.3 14 4.8 14 6.2 14 7.7 14 9.1 14 10.6 14 12 14 13.5 14 14.9 14 16.4 6-1.3-14-16.5-13.9-15-14-13.6-14-12.1-14-10.7-14-9.3-14-7.8-14-6.3-14-4.9-14-3.5-14-2-14-.5-13.9 .9-14 2.3-14 3.8-14 5.3-14 6.6-14 8.2-14 9.6-14 11z"/>
<path fill="url(#e25)" d="M315.6 1159.9l14-11.2 14-9.8 14-8.3 14-6.9 14-5.4 14-4 14-2.6 14-1.1 14 .4 13.9 1.8 14 3.2 14 4.7 14 6.2 14 7.6 14 9 14 10.5 14 12 14 13.4 14 14.8 14 16.3 6-1.4-14-16.5-13.9-14.9-14-13.5-14-12.1-14-10.6-14-9.2-14-7.7-14-6.3-14-4.8-14-3.4-14-1.9-14-.5-13.9 1-14 2.4-14 3.9-14 5.3-14 6.8-14 8.2-14 9.6-14 11.1z"/>
<path fill="url(#e24)" d="M311.8 1162.5l14-11.3 14-9.9 14-8.4 14-6.9 14-5.6 14-4 14-2.6 14-1.2 14 .3 14 1.7 13.9 3.2 14 4.6 14 6.1 14 7.5 14 9 14 10.4 14 11.8 14 13.4 14 14.7 14 16.2 6-1.6-14-16.3-13.9-14.9-14-13.4-14-12-14-10.6-14-9.1-14-7.6-14-6.2-14-4.7-14-3.3-14-1.9-14-.4-13.9 1.1-14 2.4-14 4-14 5.4-14 6.8-14 8.3-14 9.7-14 11.2z"/>
<path fill="url(#e23)" d="M308 1165.2l14-11.4 14-9.9 14-8.5 14-7 14-5.6 14-4.2 14-2.7 14-1.2 14 .2 14 1.6 13.9 3.1 14 4.6 14 6 14 7.4 14 8.9 14 10.4 14 11.7 14 13.3 14 14.7 14 16.1 6-1.8-14-16.3-13.9-14.8-14-13.3-14-11.9-14-10.5-14-9-14-7.6-14-6.1-14-4.7-14-3.2-14-1.8-14-.3-13.9 1.1-14 2.6-14 4-14 5.5-14 6.9-14 8.4-14 9.8-14 11.2z"/>
<path fill="url(#e22)" d="M304.2 1168l14-11.4 14-10 14-8.6 14-7.1 14-5.7 14-4.2 14-2.8 14-1.3 14 .1 14 1.6 13.9 3 14 4.5 14 5.9 14 7.4 14 8.8 14 10.3 14 11.7 14 13.1 14 14.6 14 16.1 6-2-14-16.2-13.9-14.7-14-13.3-14-11.8-14-10.4-14-9-14-7.5-14-6-14-4.6-14-3.1-14-1.7-14-.3-13.9 1.2-14 2.7-14 4.1-14 5.5-14 7-14 8.4-14 9.9-14 11.4z"/>
<path fill="url(#e21)" d="M300.4 1171l14-11.6 14-10 14-8.7 14-7.2 14-5.7 14-4.3 14-2.9 14-1.4 14 .1 14 1.5 13.9 2.9 14 4.4 14 5.9 14 7.3 14 8.7 14 10.2 14 11.6 14 13.1 14 14.5 14 16 6-2.2-14-16.1-13.9-14.7-14-13.2-14-11.7-14-10.3-14-8.9-14-7.4-14-6-14-4.5-14-3-14-1.7-14-.1-13.9 1.2-14 2.8-14 4.1-14 5.7-14 7-14 8.5-14 10-14 11.4z"/>
<path fill="url(#e20)" d="M296.6 1174.1l14-11.7 14-10.1 14-8.7 14-7.3 14-5.8 14-4.4 14-2.9 14-1.5 14 0 14 1.4 13.9 2.9 14 4.3 14 5.7 14 7.3 14 8.6 14 10.1 14 11.6 14 13 14 14.5 14 15.9 6-2.4-14-16.1-13.9-14.6-14-13.1-14-11.7-14-10.2-14-8.8-14-7.3-14-5.9-14-4.4-14-3-14-1.6-14-.1-13.9 1.4-14 2.8-14 4.2-14 5.7-14 7.2-14 8.6-14 10-14 11.5z"/>
<path fill="url(#e19)" d="M292.8 1177.3l14-11.7 14-10.3 14-8.8 14-7.3 14-5.9 14-4.5 14-3 14-1.5 14-.1 14 1.3 13.9 2.8 14 4.3 14 5.7 14 7.1 14 8.6 14 10 14 11.5 14 12.9 14 14.4 14 15.8 6-2.6-14-15.9-13.9-14.5-14-13.1-14-11.6-14-10.1-14-8.8-14-7.2-14-5.8-14-4.4-14-2.9-14-1.5-14 0-13.9 1.4-14 2.9-14 4.3-14 5.8-14 7.2-14 8.7-14 10.1-14 11.6z"/>
<path fill="url(#e18)" d="M289 1180.6l14-11.8 14-10.3 14-8.9 14-7.4 14-6 14-4.5 14-3.1 14-1.6 14-.2 14 1.3 13.9 2.7 14 4.2 14 5.6 14 7 14 8.5 14 10 14 11.4 14 12.9 14 14.3 14 15.7 6-2.8-14-15.9-13.9-14.4-14-13-14-11.5-14-10.1-14-8.6-14-7.2-14-5.7-14-4.3-14-2.8-14-1.4-14 0-13.9 1.5-14 3-14 4.4-14 5.8-14 7.3-14 8.8-14 10.2-14 11.6z"/>
<path fill="url(#e17)" d="M285.2 1184l14-11.8 14-10.4 14-9 14-7.5 14-6 14-4.6 14-3.2 14-1.7 14-.2 14 1.2 13.9 2.6 14 4.1 14 5.5 14 7 14 8.4 14 9.9 14 11.4 14 12.7 14 14.3 14 15.6 6-3-14-15.8-13.9-14.3-14-12.9-14-11.5-14-10-14-8.5-14-7.1-14-5.7-14-4.2-14-2.8-14-1.3-13.9 .2-14 1.5-14 3.1-14 4.4-14 6-14 7.4-14 8.8-14 10.2-14 11.8z"/>
<path fill="url(#e16)" d="M281.4 1187.6l14-11.9 14-10.5 14-9 14-7.6 14-6.1 14-4.7 14-3.2 14-1.8 14-.4 14 1.2 13.9 2.5 14 4 14 5.5 14 6.9 14 8.4 14 9.8 14 11.2 14 12.7 14 14.2 14 15.6 6-3.2-14-15.8-13.9-14.2-14-12.8-14-11.4-14-10-14-8.4-14-7.1-14-5.5-14-4.2-14-2.7-14-1.2-13.9 .2-14 1.7-14 3.1-14 4.5-14 6-14 7.5-14 8.9-14 10.3-14 11.8z"/>
<path fill="url(#e15)" d="M277.6 1191.3l14-12 14-10.6 14-9.1 14-7.6 14-6.2 14-4.8 14-3.3 14-1.8 14-.5 14 1.1 13.9 2.5 14 3.9 14 5.4 14 6.8 14 8.3 14 9.7 14 11.2 14 12.6 14 14.1 14 15.5 6-3.4-14-15.6-13.9-14.2-14-12.8-14-11.3-14-9.8-14-8.4-14-7-14-5.5-14-4-14-2.6-14-1.2-13.9 .3-14 1.7-14 3.2-14 4.6-14 6.1-14 7.6-14 8.9-14 10.5-14 11.8z"/>
<path fill="url(#e14)" d="M273.8 1195.1l14-12.1 14-10.6 14-9.2 14-7.7 14-6.3 14-4.8 14-3.4 14-1.9 14-.5 14 .9 13.9 2.4 14 3.9 14 5.3 14 6.8 14 8.2 14 9.6 14 11.1 14 12.6 14 14 14 15.4 6-3.6-14-15.6-13.9-14.1-14-12.6-14-11.3-14-9.7-14-8.4-14-6.8-14-5.5-14-4-14-2.5-14-1.1-13.9 .4-14 1.8-14 3.3-14 4.7-14 6.1-14 7.6-14 9.1-14 10.5-14 11.9z"/>
<path fill="url(#e13)" d="M270 1199l14-12.1 14-10.7 14-9.3 14-7.8 14-6.3 14-4.9 14-3.5 14-2 14-.6 14 .9 13.9 2.3 14 3.8 14 5.2 14 6.7 14 8.2 14 9.5 14 11.1 14 12.4 14 13.9 14 15.4 6-3.8-14-15.5-13.9-14-14-12.6-14-11.2-14-9.6-14-8.3-14-6.8-14-5.3-14-4-14-2.4-14-1-13.9 .4-14 1.9-14 3.3-14 4.8-14 6.3-14 7.7-14 9.1-14 10.6-14 12z"/>
<path fill="url(#e12)" d="M266.2 1203.1l14-12.2 14-10.8 14-9.3 14-7.9 14-6.5 14-4.9 14-3.6 14-2.1 14-.6 14 .8 13.9 2.3 14 3.7 14 5.1 14 6.6 14 8.1 14 9.5 14 10.9 14 12.4 14 13.8 14 15.3 6-3.9-14-15.5-13.9-13.9-14-12.5-14-11.1-14-9.6-14-8.2-14-6.7-14-5.3-14-3.8-14-2.4-14-.9-13.9 .5-14 1.9-14 3.5-14 4.8-14 6.3-14 7.8-14 9.2-14 10.6-14 12.1z"/>
<path fill="url(#e11)" d="M262.4 1207.3l14-12.3 14-10.9 14-9.4 14-8 14-6.5 14-5 14-3.6 14-2.2 14-.7 14 .7 13.9 2.2 14 3.6 14 5.1 14 6.5 14 8 14 9.4 14 10.9 14 12.3 14 13.8 14 15.2 6-4.2-13.9-15.3-14-13.9-14-12.5-14-11-14-9.5-14-8.1-14-6.6-14-5.2-14-3.8-14-2.3-14-.8-13.9 .5-14 2.1-14 3.5-14 4.9-14 6.4-14 7.8-14 9.3-14 10.8-14 12.1z"/>
<path fill="url(#e10)" d="M258.6 1211.6l14-12.4 14-10.9 14-9.5 14-8.1 14-6.5 14-5.2 14-3.7 14-2.2 14-.8 14 .7 13.9 2.1 14 3.5 14 5 14 6.5 14 7.9 14 9.3 14 10.8 14 12.2 14 13.7 14 15.2 6-4.4-13.9-15.3-14-13.8-14-12.4-14-10.9-14-9.4-14-8.1-14-6.5-14-5.1-14-3.7-14-2.2-14-.8-13.9 .6-14 2.2-14 3.5-14 5-14 6.5-14 7.9-14 9.4-14 10.8-14 12.2z"/>
<path fill="url(#e9)" d="M254.8 1216l14-12.5 14-11 14-9.5 14-8.1 14-6.7 14-5.2 14-3.8 14-2.3 14-.9 14 .6 13.9 2 14 3.5 14 4.9 14 6.4 14 7.8 14 9.3 14 10.7 14 12.2 14 13.6 14 15.1 6-4.6-13.9-15.2-14-13.7-14-12.3-14-10.9-14-9.4-14-7.9-14-6.5-14-5-14-3.6-14-2.2-14-.7-13.9 .8-14 2.2-14 3.6-14 5.1-14 6.5-14 8-14 9.5-14 10.8-14 12.4z"/>
<path fill="url(#e8)" d="M251 1220.6l14-12.6 14-11.1 14-9.6 14-8.2 14-6.7 14-5.3 14-3.9 14-2.3 14-1 14 .5 13.9 2 14 3.4 14 4.8 14 6.3 14 7.7 14 9.2 14 10.7 14 12.1 14 13.5 14 15 6-4.8-13.9-15.1-14-13.7-14-12.2-14-10.7-14-9.3-14-7.9-14-6.4-14-5-14-3.5-14-2.1-14-.6-13.9 .8-14 2.3-14 3.7-14 5.2-14 6.6-14 8-14 9.6-14 10.9-14 12.4z"/>
<path fill="url(#e7)" d="M247.2 1225.2l14-12.6 14-11.1 14-9.7 14-8.3 14-6.8 14-5.4 14-3.9 14-2.5 14-1 14 .4 13.9 1.9 14 3.3 14 4.8 14 6.2 14 7.7 14 9.1 14 10.5 14 12.1 14 13.4 14 14.9 6-4.9-13.9-15.1-14-13.6-14-12.1-14-10.7-14-9.2-14-7.8-14-6.3-14-4.9-14-3.5-14-2-14-.5-13.9 .9-14 2.3-14 3.8-14 5.3-14 6.7-14 8.1-14 9.6-14 11-14 12.5z"/>
<path fill="url(#e6)" d="M243.4 1230l14-12.7 14-11.2 14-9.8 14-8.3 14-6.9 14-5.5 14-4 14-2.5 14-1.1 14 .4 13.9 1.7 14 3.3 14 4.7 14 6.1 14 7.6 14 9.1 14 10.4 14 12 14 13.4 14 14.8 6-5.2-13.9-14.9-14-13.5-14-12.1-14-10.6-14-9.2-14-7.7-14-6.2-14-4.9-14-3.3-14-1.9-14-.5-13.9 1-14 2.4-14 3.9-14 5.3-14 6.8-14 8.2-14 9.6-14 11.1-14 12.6z"/>
<path fill="url(#e5)" d="M239.6 1235l14-12.8 14-11.3 14-9.9 14-8.4 14-7 14-5.5 14-4.1 14-2.6 14-1.2 14 .3 13.9 1.7 14 3.2 14 4.6 14 6.1 14 7.5 14 9 14 10.4 14 11.8 14 13.3 14 14.8 6-5.4-13.9-14.9-14-13.4-14-12-14-10.5-14-9.1-14-7.6-14-6.2-14-4.7-14-3.3-14-1.9-14-.4-13.9 1.1-14 2.5-14 3.9-14 5.4-14 6.9-14 8.3-14 9.7-14 11.2-14 12.6z"/>
<path fill="url(#e4)" d="M235.8 1240l14-12.8 14-11.4 14-10 14-8.5 14-7 14-5.6 14-4.2 14-2.7 14-1.2 14 .2 13.9 1.6 14 3.1 14 4.6 14 6 14 7.4 14 8.9 14 10.3 14 11.8 14 13.2 14 14.7 6-5.6-13.9-14.8-14-13.3-14-11.9-14-10.5-14-9-14-7.5-14-6.2-14-4.6-14-3.2-14-1.8-14-.3-13.9 1.1-14 2.6-14 4-14 5.5-14 6.9-14 8.4-14 9.8-14 11.3-14 12.7z"/>
<path fill="url(#e3)" d="M232 1245.2l14-12.9 14-11.5 14-10 14-8.6 14-7.1 14-5.7 14-4.2 14-2.8 14-1.3 14 .1 13.9 1.6 14 3 14 4.4 14 6 14 7.3 14 8.8 14 10.3 14 11.7 14 13.1 14 14.6 6-5.7-13.9-14.7-14-13.3-14-11.8-14-10.4-14-9-14-7.4-14-6.1-14-4.6-14-3.1-14-1.7-14-.2-13.9 1.2-14 2.6-14 4.1-14 5.6-14 7-14 8.4-14 9.9-14 11.4-14 12.8z"/>
<path fill="url(#e2)" d="M228.2 1250.5l14-13 14-11.6 14-10.1 14-8.6 14-7.2 14-5.8 14-4.3 14-2.8 14-1.4 14 0 13.9 1.5 14 2.9 14 4.4 14 5.9 14 7.3 14 8.7 14 10.2 14 11.6 14 13.1 14 14.5 6-6-13.9-14.6-14-13.2-14-11.8-14-10.3-14-8.8-14-7.4-14-6-14-4.5-14-3.1-14-1.6-14-.1-13.9 1.3-14 2.7-14 4.2-14 5.6-14 7.1-14 8.5-14 10-14 11.4-14 12.9z"/>
<path fill="url(#e1)" d="M224.4 1255.9l14-13.1 14-11.6 14-10.2 14-8.7 14-7.3 14-5.8 14-4.4 14-2.9 14-1.5 14 0 13.9 1.4 14 2.8 14 4.4 14 5.7 14 7.2 14 8.7 14 10.1 14 11.5 14 13 14 14.5 6-6.2-13.9-14.5-14-13.2-14-11.6-14-10.3-14-8.7-14-7.4-14-5.9-14-4.4-14-3-14-1.5-14-.1-13.9 1.4-14 2.8-14 4.2-14 5.7-14 7.2-14 8.6-14 10-14 11.5-14 13z"/>
<path fill="url(#e0)" d="M220.7 1261.4l13.9-13.1 14-11.7 14-10.3 14-8.8 14-7.3 14-5.9 14-4.5 14-3 14-1.5 14-.2 13.9 1.4 14 2.8 14 4.2 14 5.7 14 7.1 14 8.6 14 10 14 11.5 14 12.9 14 14.4 6-6.4-13.9-14.5-14-13-14-11.6-14-10.1-14-8.8-14-7.2-14-5.8-14-4.4-14-2.9-14-1.4-14 0-13.9 1.4-14 2.9-14 4.3-14 5.8-14 7.2-14 8.7-14 10.1-14 11.6-14 13z"/></g>
<path class="bl" d="M220.7 1261.4L229.4 1253L238.1 1245.2L246.9 1238L255.6 1231.3L264.4 1225.1L273.1 1219.6L281.9 1214.6L290.6 1210.2L299.3 1206.3L308.1 1203L316.8 1200.3L325.6 1198.1L334.3 1196.5L343.1 1195.5L351.8 1195L360.6 1195.1L369.3 1195.8L378 1197L386.8 1198.8L395.5 1201.2L404.3 1204.1L413 1207.6L421.8 1211.7L430.5 1216.3L439.3 1221.5L448 1227.3L456.7 1233.6L465.5 1240.5L474.2 1247.9L483 1256L491.7 1264.5L500.5 1273.7L506.2 1267.7L511.9 1262L517.6 1256.6L523.3 1251.5L529 1246.6L534.7 1242.1L540.4 1237.8L546.1 1233.7L551.8 1230L557.5 1226.5L563.2 1223.3L568.9 1220.4L574.6 1217.8L580.3 1215.4L586 1213.3L591.7 1211.5L597.4 1210L603.1 1208.8L608.8 1207.8L614.5 1207.1L620.2 1206.7L625.9 1206.5L631.6 1206.7L637.3 1207.1L643 1207.8L648.7 1208.7L654.4 1210L660.1 1211.5L665.8 1213.3L671.5 1215.4L677.2 1217.7L682.8 1220.4L674.1 1208.9L665.4 1198L656.6 1187.7L647.9 1178L639.1 1168.8L630.4 1160.1L621.6 1152.1L612.9 1144.6L604.2 1137.7L595.4 1131.3L586.7 1125.5L577.9 1120.3L569.2 1115.6L560.4 1111.6L551.7 1108L542.9 1105.1L534.2 1102.7L525.5 1100.8L516.7 1099.6L508 1098.9L499.2 1098.7L490.5 1099.2L481.7 1100.2L473 1101.7L464.2 1103.8L455.5 1106.5L446.8 1109.8L438 1113.6L429.3 1118L420.5 1123L411.8 1128.5L403 1134.6L397.3 1134.2L391.6 1134.2L385.9 1134.4L380.2 1134.9L374.5 1135.7L368.8 1136.7L363.1 1138.1L357.4 1139.7L351.7 1141.6L346 1143.7L340.3 1146.2L334.6 1148.9L328.9 1151.9L323.2 1155.1L317.5 1158.7L311.8 1162.5L306.1 1166.6L300.4 1171L294.7 1175.6L289 1180.6L283.3 1185.8L277.6 1191.3L271.9 1197L266.2 1203.1L260.5 1209.4L254.8 1216L249.1 1222.9L243.4 1230L237.7 1237.5L232 1245.2L226.3 1253.2Z"/>
<path class="k" d="M207.2 1267.3L503.3 1300.4M503.3 1300.4L696.3 1250.7M207.2 1267.3L207.2 1100.2M503.3 1300.4L503.3 1133.3M696.3 1250.7L696.3 1083.6M207.2 1100.2L503.3 1133.3M503.3 1133.3L696.3 1083.6M207.2 1100.2L400.2 1050.5M400.2 1050.5L696.3 1083.6M207.2 1106.3l5.5 0M207.2 1111.5l3 0M207.2 1116.8l3 0M207.2 1122l3 0M207.2 1127.3l3 0M207.2 1132.5l5.5 0M207.2 1137.7l3 0M207.2 1142.9l3 0M207.2 1148.2l3 0M207.2 1153.4l3 0M207.2 1158.6l5.5 0M207.2 1163.8l3 0M207.2 1169l3 0M207.2 1174.3l3 0M207.2 1179.5l3 0M207.2 1184.7l5.5 0M207.2 1189.9l3 0M207.2 1195.2l3 0M207.2 1200.4l3 0M207.2 1205.7l3 0M207.2 1210.9l5.5 0M207.2 1216.1l3 0M207.2 1221.3l3 0M207.2 1226.6l3 0M207.2 1231.8l3 0M207.2 1237l5.5 0M207.2 1242.2l3 0M207.2 1247.4l3 0M207.2 1252.6l3 0M207.2 1257.8l3 0M207.2 1263l5.5 0M503.3 1139.4l-5.5 0M503.3 1144.6l-3 0M503.3 1149.9l-3 0M503.3 1155.1l-3 0M503.3 1160.4l-3 0M503.3 1165.6l-5.5 0M503.3 1170.8l-3 0M503.3 1176l-3 0M503.3 1181.3l-3 0M503.3 1186.5l-3 0M503.3 1191.7l-5.5 0M503.3 1196.9l-3 0M503.3 1202.1l-3 0M503.3 1207.4l-3 0M503.3 1212.6l-3 0M503.3 1217.8l-5.5 0M503.3 1223l-3 0M503.3 1228.3l-3 0M503.3 1233.5l-3 0M503.3 1238.8l-3 0M503.3 1244l-5.5 0M503.3 1249.2l-3 0M503.3 1254.4l-3 0M503.3 1259.7l-3 0M503.3 1264.9l-3 0M503.3 1270.1l-5.5 0M503.3 1275.3l-3 0M503.3 1280.5l-3 0M503.3 1285.7l-3 0M503.3 1290.9l-3 0M503.3 1296.1l-5.5 0M696.3 1089.7l-5.5 0M696.3 1094.9l-3 0M696.3 1100.2l-3 0M696.3 1105.4l-3 0M696.3 1110.7l-3 0M696.3 1115.9l-5.5 0M696.3 1121.1l-3 0M696.3 1126.3l-3 0M696.3 1131.6l-3 0M696.3 1136.8l-3 0M696.3 1142l-5.5 0M696.3 1147.2l-3 0M696.3 1152.4l-3 0M696.3 1157.7l-3 0M696.3 1162.9l-3 0M696.3 1168.1l-5.5 0M696.3 1173.3l-3 0M696.3 1178.6l-3 0M696.3 1183.8l-3 0M696.3 1189.1l-3 0M696.3 1194.3l-5.5 0M696.3 1199.5l-3 0M696.3 1204.7l-3 0M696.3 1210l-3 0M696.3 1215.2l-3 0M696.3 1220.4l-5.5 0M696.3 1225.6l-3 0M696.3 1230.8l-3 0M696.3 1236l-3 0M696.3 1241.2l-3 0M696.3 1246.4l-5.5 0M215.3 1268.2l4.4 -1.1M232.8 1270.2l2.4 -0.6M250.3 1272.1l2.4 -0.6M267.8 1274.1l2.4 -0.6M285.3 1276l4.4 -1.1M302.8 1278l2.4 -0.6M320.3 1279.9l2.4 -0.6M337.8 1281.9l2.4 -0.6M355.2 1283.8l4.4 -1.1M372.7 1285.8l2.4 -0.6M390.2 1287.8l2.4 -0.6M407.7 1289.7l2.4 -0.6M425.2 1291.7l4.4 -1.1M442.7 1293.6l2.4 -0.6M460.2 1295.6l2.4 -0.6M477.7 1297.5l2.4 -0.6M495.2 1299.5l4.4 -1.1M508.6 1299l-4.5 -0.5M517.7 1296.7l-2.5 -0.3M526.8 1294.3l-2.5 -0.3M536 1292l-2.5 -0.3M545.1 1289.6l-4.5 -0.5M554.2 1287.3l-2.5 -0.3M563.3 1284.9l-2.5 -0.3M572.4 1282.6l-2.5 -0.3M581.6 1280.2l-4.5 -0.5M590.7 1277.9l-2.5 -0.3M599.8 1275.5l-2.5 -0.3M608.9 1273.2l-2.5 -0.3M618 1270.9l-4.5 -0.5M627.2 1268.5l-2.5 -0.3M636.3 1266.2l-2.5 -0.3M645.4 1263.8l-2.5 -0.3M654.5 1261.5l-4.5 -0.5M663.6 1259.1l-2.5 -0.3M672.8 1256.8l-2.5 -0.3M681.9 1254.4l-2.5 -0.3M691 1252.1l-4.5 -0.5M215.3 1101.1l4.4 -1.1M232.8 1103.1l2.4 -0.6M250.3 1105l2.4 -0.6M267.8 1107l2.4 -0.6M285.3 1108.9l4.4 -1.1M302.8 1110.9l2.4 -0.6M320.3 1112.8l2.4 -0.6M337.8 1114.8l2.4 -0.6M355.2 1116.8l4.4 -1.1M372.7 1118.7l2.4 -0.6M390.2 1120.7l2.4 -0.6M407.7 1122.6l2.4 -0.6M425.2 1124.6l4.4 -1.1M442.7 1126.5l2.4 -0.6M460.2 1128.5l2.4 -0.6M477.7 1130.4l2.4 -0.6M495.2 1132.4l4.4 -1.1M508.6 1131.9l-4.5 -0.5M517.7 1129.6l-2.5 -0.3M526.8 1127.2l-2.5 -0.3M536 1124.9l-2.5 -0.3M545.1 1122.5l-4.5 -0.5M554.2 1120.2l-2.5 -0.3M563.3 1117.8l-2.5 -0.3M572.4 1115.5l-2.5 -0.3M581.6 1113.1l-4.5 -0.5M590.7 1110.8l-2.5 -0.3M599.8 1108.4l-2.5 -0.3M608.9 1106.1l-2.5 -0.3M618 1103.8l-4.5 -0.5M627.2 1101.4l-2.5 -0.3M636.3 1099.1l-2.5 -0.3M645.4 1096.7l-2.5 -0.3M654.5 1094.4l-4.5 -0.5M663.6 1092l-2.5 -0.3M672.8 1089.7l-2.5 -0.3M681.9 1087.3l-2.5 -0.3M691 1085l-4.5 -0.5M212.5 1098.8l4.5 0.5M221.6 1096.5l2.5 0.3M230.7 1094.1l2.5 0.3M239.9 1091.8l2.5 0.3M249 1089.4l4.5 0.5M258.1 1087.1l2.5 0.3M267.2 1084.7l2.5 0.3M276.3 1082.4l2.5 0.3M285.5 1080l4.5 0.5M294.6 1077.7l2.5 0.3M303.7 1075.3l2.5 0.3M312.8 1073l2.5 0.3M321.9 1070.7l4.5 0.5M331.1 1068.3l2.5 0.3M340.2 1066l2.5 0.3M349.3 1063.6l2.5 0.3M358.4 1061.3l4.5 0.5M367.5 1058.9l2.5 0.3M376.7 1056.6l2.5 0.3M385.8 1054.2l2.5 0.3M394.9 1051.9l4.5 0.5M408.3 1051.4l-4.4 1.1M425.8 1053.4l-2.4 0.6M443.3 1055.3l-2.4 0.6M460.8 1057.3l-2.4 0.6M478.3 1059.2l-4.4 1.1M495.8 1061.2l-2.4 0.6M513.3 1063.1l-2.4 0.6M530.8 1065.1l-2.4 0.6M548.2 1067l-4.4 1.1M565.7 1069l-2.4 0.6M583.2 1071l-2.4 0.6M600.7 1072.9l-2.4 0.6M618.2 1074.9l-4.4 1.1M635.7 1076.8l-2.4 0.6M653.2 1078.8l-2.4 0.6M670.7 1080.7l-2.4 0.6M688.2 1082.7l-4.4 1.1"/>
<rect x="733.2" y="1039.4" width="66.4" height="203.6" fill="#fff" stroke="#0a0a0a" stroke-width="1"/>
<rect x="737.4" y="1062" width="29.6" height="9.6" fill="#8080ff" stroke="#404080" stroke-width=".7"/>
<rect x="737.4" y="1078.7" width="29.6" height="9.6" fill="#4d8ad5" stroke="#26456a" stroke-width=".7"/>
<rect x="737.4" y="1095.5" width="29.6" height="9.6" fill="#1a93ab" stroke="#0d4a56" stroke-width=".7"/>
<rect x="737.4" y="1112.2" width="29.6" height="9.6" fill="#008886" stroke="#004443" stroke-width=".7"/>
<rect x="737.4" y="1129" width="29.6" height="9.6" fill="#006867" stroke="#003434" stroke-width=".7"/>
<rect x="737.4" y="1145.7" width="29.6" height="9.6" fill="#004848" stroke="#002424" stroke-width=".7"/>
<rect x="737.4" y="1162.4" width="29.6" height="9.6" fill="#362b43" stroke="#1b1622" stroke-width=".7"/>
<rect x="737.4" y="1179.2" width="29.6" height="9.6" fill="#6d0e3e" stroke="#36071f" stroke-width=".7"/>
<rect x="737.4" y="1195.9" width="29.6" height="9.6" fill="#88004d" stroke="#440026" stroke-width=".7"/>
<rect x="737.4" y="1212.7" width="29.6" height="9.6" fill="#88006e" stroke="#440037" stroke-width=".7"/>
<rect x="737.4" y="1229.4" width="29.6" height="9.6" fill="#880090" stroke="#440048" stroke-width=".7"/>
<text transform="translate(159.5 1185) rotate(-90) scale(1.07 1)" text-anchor="middle">Yield</text>
<text transform="translate(202 1289) scale(1.12 1)" text-anchor="middle">0</text>
<text transform="translate(271.4 1297) scale(1.12 1)" text-anchor="middle">20</text>
<text transform="translate(342.1 1305) scale(1.12 1)" text-anchor="middle">40</text>
<text transform="translate(411.9 1312.5) scale(1.12 1)" text-anchor="middle">60</text>
<text transform="translate(481.4 1320.5) scale(1.12 1)" text-anchor="middle">80</text>
<text transform="translate(528 1319) scale(1.12 1)" text-anchor="middle">0</text>
<text transform="translate(565 1309) scale(1.12 1)" text-anchor="middle">40</text>
<text transform="translate(600.7 1299.5) scale(1.12 1)" text-anchor="middle">80</text>
<text transform="translate(637.5 1290) scale(1.12 1)" text-anchor="middle">120</text>
<text transform="translate(673 1281) scale(1.12 1)" text-anchor="middle">160</text>
<text transform="translate(710 1271.7) scale(1.12 1)" text-anchor="middle">200</text>
<text transform="translate(312.5 1329.8) scale(1.04 1)" text-anchor="middle">Dynamic time</text>
<path d="M1194.2 1269.8L1503 1299.5L1674.1 1246.3L1674.1 1080.2L1365.3 1050.5L1194.2 1103.7Z" fill="#fff"/>
<path class="k" d="M1365.3 1216.6L1194.2 1269.8M1365.3 1216.6L1674.1 1246.3M1365.3 1216.6L1365.3 1050.5M1365.3 1055.3l5.5 0M1365.3 1063.2l3 0M1365.3 1071.1l3 0M1365.3 1079l3 0M1365.3 1086.9l5.5 0M1365.3 1094.7l3 0M1365.3 1102.4l3 0M1365.3 1110.2l3 0M1365.3 1117.9l5.5 0M1365.3 1125.8l3 0M1365.3 1133.7l3 0M1365.3 1141.6l3 0M1365.3 1149.5l5.5 0M1365.3 1157.3l3 0M1365.3 1165l3 0M1365.3 1172.8l3 0M1365.3 1180.6l5.5 0M1365.3 1188.5l3 0M1365.3 1196.3l3 0M1365.3 1204.2l3 0M1365.3 1212.1l5.5 0"/>
<g transform="matrix(0.2918 0.0281 0.1617 -0.0503 1207.4 1265)" clip-path="url(#cu)"><rect width="1000" height="1000" fill="#ff0000"/><g transform="translate(1307.5 1646.4) rotate(-40.65)"><ellipse rx="736.4" ry="5266.6" fill="#fb0307"/><ellipse rx="733.9" ry="5248.9" fill="#f6050e"/><ellipse rx="731.4" ry="5231" fill="#f10815"/><ellipse rx="728.9" ry="5213.1" fill="#ec0b1c"/><ellipse rx="726.4" ry="5195.1" fill="#e80e23"/><ellipse rx="723.9" ry="5177.1" fill="#e3112b"/><ellipse rx="721.4" ry="5159" fill="#de1432"/><ellipse rx="718.8" ry="5140.9" fill="#da1639"/><ellipse rx="716.3" ry="5122.6" fill="#d51940"/><ellipse rx="713.7" ry="5104.4" fill="#d01c47"/><ellipse rx="711.2" ry="5086" fill="#cc1f4e"/><ellipse rx="708.6" ry="5067.6" fill="#c72256"/><ellipse rx="706" ry="5049.1" fill="#c2245d"/><ellipse rx="703.4" ry="5030.6" fill="#be2764"/><ellipse rx="700.8" ry="5011.9" fill="#b92a6b"/><ellipse rx="698.2" ry="4993.2" fill="#b42d72"/><ellipse rx="695.6" ry="4974.5" fill="#b03079"/><ellipse rx="692.9" ry="4955.6" fill="#ab3280"/><ellipse rx="690.3" ry="4936.7" fill="#a63588"/><ellipse rx="687.6" ry="4917.8" fill="#a2388f"/><ellipse rx="685" ry="4898.7" fill="#9d3b96"/><ellipse rx="682.3" ry="4879.6" fill="#983e9d"/><ellipse rx="679.6" ry="4860.4" fill="#9340a4"/><ellipse rx="676.9" ry="4841.1" fill="#8f43ab"/><ellipse rx="674.2" ry="4821.8" fill="#8a46b2"/><ellipse rx="671.5" ry="4802.3" fill="#8549ba"/><ellipse rx="668.8" ry="4782.8" fill="#814cc1"/><ellipse rx="666" ry="4763.2" fill="#7c4ec8"/><ellipse rx="663.3" ry="4743.6" fill="#7751cf"/><ellipse rx="660.5" ry="4723.8" fill="#7354d6"/><ellipse rx="657.7" ry="4704" fill="#6e57dd"/><ellipse rx="655" ry="4684.1" fill="#695ae5"/><ellipse rx="652.2" ry="4664.1" fill="#655cec"/><ellipse rx="649.4" ry="4644" fill="#605ff3"/><ellipse rx="646.5" ry="4623.8" fill="#5b62fa"/><ellipse rx="639.9" ry="4576.4" fill="#5a5ff3"/><ellipse rx="637" ry="4555.9" fill="#5b5dec"/><ellipse rx="634.2" ry="4535.3" fill="#5c5ae5"/><ellipse rx="631.3" ry="4514.7" fill="#5d57de"/><ellipse rx="628.4" ry="4493.9" fill="#5e54d7"/><ellipse rx="625.5" ry="4473" fill="#5f51d0"/><ellipse rx="622.5" ry="4452.1" fill="#614fc8"/><ellipse rx="619.6" ry="4431" fill="#624cc1"/><ellipse rx="616.6" ry="4409.9" fill="#6349ba"/><ellipse rx="613.7" ry="4388.6" fill="#6446b3"/><ellipse rx="610.7" ry="4367.3" fill="#6543ac"/><ellipse rx="607.7" ry="4345.8" fill="#6641a5"/><ellipse rx="604.6" ry="4324.2" fill="#673e9d"/><ellipse rx="601.6" ry="4302.6" fill="#683b96"/><ellipse rx="598.6" ry="4280.8" fill="#6a388f"/><ellipse rx="595.5" ry="4258.9" fill="#6b3588"/><ellipse rx="592.4" ry="4236.9" fill="#6c3381"/><ellipse rx="589.3" ry="4214.7" fill="#6d307a"/><ellipse rx="586.2" ry="4192.5" fill="#6e2d73"/><ellipse rx="583.1" ry="4170.1" fill="#6f2a6b"/><ellipse rx="580" ry="4147.7" fill="#702764"/><ellipse rx="576.8" ry="4125.1" fill="#71255d"/><ellipse rx="573.6" ry="4102.3" fill="#732256"/><ellipse rx="570.4" ry="4079.5" fill="#741f4f"/><ellipse rx="567.2" ry="4056.5" fill="#751c48"/><ellipse rx="564" ry="4033.4" fill="#761940"/><ellipse rx="560.7" ry="4010.1" fill="#771639"/><ellipse rx="557.5" ry="3986.7" fill="#781432"/><ellipse rx="554.2" ry="3963.2" fill="#79112b"/><ellipse rx="550.9" ry="3939.6" fill="#7a0e24"/><ellipse rx="547.5" ry="3915.8" fill="#7b0b1d"/><ellipse rx="544.2" ry="3891.8" fill="#7d0816"/><ellipse rx="540.8" ry="3867.7" fill="#7e060e"/><ellipse rx="537.4" ry="3843.4" fill="#7f0307"/><ellipse rx="534" ry="3819" fill="#800000"/><ellipse rx="527.7" ry="3773.9" fill="#860405"/><ellipse rx="521.3" ry="3728.2" fill="#8d0909"/><ellipse rx="514.8" ry="3681.9" fill="#940e0e"/><ellipse rx="508.3" ry="3635.1" fill="#9a1213"/><ellipse rx="501.6" ry="3587.6" fill="#a11718"/><ellipse rx="494.9" ry="3539.5" fill="#a71b1c"/><ellipse rx="488.1" ry="3490.7" fill="#ae2021"/><ellipse rx="481.2" ry="3441.3" fill="#b42426"/><ellipse rx="474.2" ry="3391.1" fill="#bb292b"/><ellipse rx="467" ry="3340.2" fill="#c12d2f"/><ellipse rx="459.8" ry="3288.5" fill="#c83234"/><ellipse rx="452.5" ry="3235.9" fill="#ce3639"/><ellipse rx="445" ry="3182.5" fill="#d53b3d"/><ellipse rx="437.4" ry="3128.2" fill="#db3f42"/><ellipse rx="429.7" ry="3072.9" fill="#e24447"/><ellipse rx="421.8" ry="3016.6" fill="#e8484c"/><ellipse rx="413.8" ry="2959.2" fill="#ef4d50"/><ellipse rx="405.6" ry="2900.7" fill="#f55155"/><ellipse rx="397.2" ry="2841" fill="#fc565a"/><ellipse rx="387.1" ry="2768.8" fill="#f5555c"/><ellipse rx="382.4" ry="2734.8" fill="#ee525c"/><ellipse rx="377.6" ry="2700.4" fill="#e7505c"/><ellipse rx="372.7" ry="2665.5" fill="#e04d5c"/><ellipse rx="367.8" ry="2630.2" fill="#d94b5d"/><ellipse rx="362.8" ry="2594.4" fill="#d2485d"/><ellipse rx="357.7" ry="2558.1" fill="#cb465d"/><ellipse rx="352.6" ry="2521.3" fill="#c3435d"/><ellipse rx="347.3" ry="2484" fill="#bc415d"/><ellipse rx="342" ry="2446" fill="#b53f5d"/><ellipse rx="336.6" ry="2407.5" fill="#ae3c5d"/><ellipse rx="331.2" ry="2368.4" fill="#a73a5d"/><ellipse rx="325.6" ry="2328.5" fill="#a0375d"/><ellipse rx="319.9" ry="2288" fill="#99355e"/><ellipse rx="314.2" ry="2246.8" fill="#91325e"/><ellipse rx="308.3" ry="2204.8" fill="#8a305e"/><ellipse rx="302.3" ry="2162" fill="#832d5e"/><ellipse rx="296.2" ry="2118.3" fill="#7c2b5e"/><ellipse rx="290" ry="2073.7" fill="#75285e"/><ellipse rx="283.6" ry="2028.1" fill="#6e265e"/><ellipse rx="277.1" ry="1981.4" fill="#66235e"/><ellipse rx="270.4" ry="1933.7" fill="#5f215f"/><ellipse rx="263.5" ry="1884.7" fill="#581e5f"/><ellipse rx="256.5" ry="1834.4" fill="#511c5f"/><ellipse rx="249.3" ry="1782.7" fill="#4a195f"/><ellipse rx="241.8" ry="1729.5" fill="#43175f"/><ellipse rx="234.1" ry="1674.5" fill="#3c155f"/><ellipse rx="226.2" ry="1617.7" fill="#34125f"/><ellipse rx="218" ry="1558.9" fill="#2d105f"/><ellipse rx="209.4" ry="1497.7" fill="#260d5f"/><ellipse rx="200.5" ry="1433.9" fill="#1f0b60"/><ellipse rx="191.2" ry="1367.2" fill="#180860"/><ellipse rx="181.4" ry="1297" fill="#110660"/><ellipse rx="171" ry="1222.7" fill="#090360"/><ellipse rx="159.9" ry="1143.7" fill="#020160"/></g></g>
<g><path fill="url(#f47)" d="M1365.7 1141.2l14.6 9.2 14.6 8.6 14.6 8.1 14.6 7.5 14.6 7.1 14.6 6.5 14.6 5.9 14.5 5.4 14.6 4.9 14.6 4.4 14.6 3.9 14.6 3.3 14.6 2.7 14.6 2.3 14.6 1.7 14.6 1.2 14.6 .6 14.6 .1 14.5-.4 14.6-.9 3.4 0-14.6 .7-14.6 .2-14.6-.3-14.6-.8-14.6-1.3-14.5-1.9-14.6-2.5-14.6-2.9-14.6-3.5-14.6-4-14.6-4.6-14.6-5.1-14.6-5.6-14.6-6.1-14.6-6.7-14.6-7.2-14.5-7.8-14.6-8.2-14.6-8.8-14.6-9.4z"/>
<path fill="url(#f46)" d="M1362.3 1144.8l14.6 9 14.6 8.4 14.6 7.9 14.6 7.4 14.6 6.9 14.6 6.3 14.6 5.7 14.6 5.3 14.6 4.7 14.6 4.2 14.5 3.6 14.6 3.2 14.6 2.6 14.6 2 14.6 1.5 14.6 1 14.6 .5 14.6-.1 14.6-.6 14.6-1.1 5.4 .1-14.6 .8-14.6 .3-14.6-.2-14.6-.8-14.6-1.3-14.6-1.8-14.6-2.3-14.6-2.9-14.6-3.4-14.6-4-14.5-4.5-14.6-5-14.6-5.5-14.6-6.1-14.6-6.6-14.6-7.1-14.6-7.7-14.6-8.2-14.6-8.7-14.6-9.3z"/>
<path fill="url(#f45)" d="M1359 1148.4l14.6 8.8 14.6 8.2 14.6 7.7 14.5 7.2 14.6 6.7 14.6 6.1 14.6 5.6 14.6 5.1 14.6 4.5 14.6 4 14.6 3.5 14.6 2.9 14.6 2.4 14.6 1.9 14.5 1.3 14.6 .8 14.6 .3 14.6-.2 14.6-.8 14.6-1.3 5.4 .1-14.6 1.1-14.6 .5-14.6-.1-14.6-.6-14.6-1.1-14.6-1.6-14.5-2.2-14.6-2.7-14.6-3.2-14.6-3.8-14.6-4.3-14.6-4.8-14.6-5.3-14.6-5.9-14.6-6.5-14.6-6.9-14.6-7.5-14.5-8-14.6-8.5-14.6-9.1z"/>
<path fill="url(#f44)" d="M1355.6 1151.9l14.6 8.6 14.6 8 14.6 7.6 14.6 7 14.6 6.4 14.6 6 14.5 5.4 14.6 4.9 14.6 4.3 14.6 3.8 14.6 3.3 14.6 2.8 14.6 2.2 14.6 1.7 14.6 1.1 14.6 .7 14.6 .1 14.5-.5 14.6-.9 14.6-1.5 5.4 .3-14.6 1.2-14.6 .6-14.6 .2-14.5-.4-14.6-.9-14.6-1.5-14.6-2-14.6-2.5-14.6-3-14.6-3.6-14.6-4.1-14.6-4.7-14.6-5.1-14.6-5.7-14.5-6.3-14.6-6.8-14.6-7.3-14.6-7.8-14.6-8.3-14.6-8.9z"/>
<path fill="url(#f43)" d="M1352.2 1155.3l14.6 8.4 14.6 7.9 14.6 7.3 14.6 6.8 14.6 6.3 14.6 5.8 14.6 5.2 14.6 4.7 14.6 4.2 14.6 3.6 14.5 3.1 14.6 2.6 14.6 2 14.6 1.5 14.6 1 14.6 .4 14.6 0 14.6-.7 14.6-1.1 14.6-1.7 5.3 .4-14.5 1.4-14.6 .8-14.6 .4-14.6-.2-14.6-.8-14.6-1.2-14.6-1.8-14.6-2.4-14.6-2.8-14.6-3.4-14.5-4-14.6-4.4-14.6-5-14.6-5.5-14.6-6.1-14.6-6.6-14.6-7.1-14.6-7.6-14.6-8.2-14.6-8.7z"/>
<path fill="url(#f42)" d="M1348.9 1158.6l14.6 8.2 14.6 7.7 14.5 7.2 14.6 6.6 14.6 6.2 14.6 5.5 14.6 5.1 14.6 4.5 14.6 4 14.6 3.4 14.6 2.9 14.6 2.4 14.6 1.9 14.5 1.3 14.6 .8 14.6 .2 14.6-.2 14.6-.8 14.6-1.4 14.6-1.8 5.4 .5-14.6 1.5-14.6 1.1-14.6 .5-14.6 0-14.6-.6-14.6-1.1-14.6-1.6-14.5-2.1-14.6-2.7-14.6-3.2-14.6-3.8-14.6-4.2-14.6-4.8-14.6-5.4-14.6-5.9-14.6-6.4-14.6-6.9-14.6-7.5-14.5-7.9-14.6-8.6z"/>
<path fill="url(#f41)" d="M1345.5 1161.9l14.6 8 14.6 7.5 14.6 7 14.6 6.5 14.6 5.9 14.6 5.4 14.5 4.9 14.6 4.3 14.6 3.8 14.6 3.2 14.6 2.8 14.6 2.2 14.6 1.6 14.6 1.2 14.6 .6 14.6 .1 14.6-.5 14.5-1 14.6-1.5 14.6-2 5.4 .6-14.6 1.7-14.6 1.3-14.6 .6-14.6 .2-14.5-.4-14.6-.9-14.6-1.4-14.6-2-14.6-2.5-14.6-3-14.6-3.5-14.6-4.1-14.6-4.7-14.6-5.1-14.5-5.7-14.6-6.2-14.6-6.8-14.6-7.2-14.6-7.8-14.6-8.4z"/>
<path fill="url(#f40)" d="M1342.1 1165.1l14.6 7.8 14.6 7.4 14.6 6.8 14.6 6.2 14.6 5.8 14.6 5.2 14.6 4.7 14.6 4.1 14.6 3.6 14.5 3.1 14.6 2.6 14.6 2 14.6 1.5 14.6 .9 14.6 .4 14.6-.1 14.6-.6 14.6-1.2 14.6-1.7 14.6-2.2 5.3 .7-14.5 2-14.6 1.4-14.6 .8-14.6 .4-14.6-.2-14.6-.7-14.6-1.3-14.6-1.8-14.6-2.3-14.6-2.8-14.6-3.4-14.5-3.9-14.6-4.4-14.6-5-14.6-5.5-14.6-6-14.6-6.6-14.6-7.1-14.6-7.6-14.6-8.2z"/>
<path fill="url(#f39)" d="M1338.8 1168.2l14.6 7.7 14.6 7.1 14.5 6.7 14.6 6 14.6 5.6 14.6 5 14.6 4.5 14.6 4 14.6 3.4 14.6 2.9 14.6 2.4 14.6 1.8 14.6 1.3 14.5 .8 14.6 .2 14.6-.3 14.6-.8 14.6-1.4 14.6-1.8 14.6-2.5 5.4 .9-14.6 2.1-14.6 1.6-14.6 1.1-14.6 .5-14.6 0-14.6-.6-14.6-1-14.6-1.6-14.5-2.1-14.6-2.7-14.6-3.2-14.6-3.7-14.6-4.3-14.6-4.8-14.6-5.3-14.6-5.8-14.6-6.4-14.6-6.9-14.5-7.5-14.6-7.9z"/>
<path fill="url(#f38)" d="M1335.4 1171.3l14.6 7.5 14.6 6.9 14.6 6.5 14.6 5.9 14.6 5.3 14.5 4.9 14.6 4.3 14.6 3.8 14.6 3.2 14.6 2.7 14.6 2.2 14.6 1.7 14.6 1.1 14.6 .6 14.6 0 14.6-.5 14.5-1 14.6-1.5 14.6-2.1 14.6-2.6 5.4 1-14.6 2.3-14.6 1.8-14.6 1.2-14.6 .7-14.5 .2-14.6-.4-14.6-.8-14.6-1.4-14.6-2-14.6-2.5-14.6-3-14.6-3.5-14.6-4.1-14.6-4.6-14.6-5.1-14.5-5.7-14.6-6.2-14.6-6.7-14.6-7.3-14.6-7.8z"/>
<path fill="url(#f37)" d="M1332 1174.3l14.6 7.3 14.6 6.8 14.6 6.2 14.6 5.7 14.6 5.2 14.6 4.7 14.6 4.1 14.6 3.6 14.6 3.1 14.5 2.5 14.6 2 14.6 1.5 14.6 .9 14.6 .4 14.6-.1 14.6-.7 14.6-1.2 14.6-1.7 14.6-2.3 14.5-2.8 5.4 1.1-14.6 2.5-14.5 2-14.6 1.4-14.6 .9-14.6 .3-14.6-.1-14.6-.7-14.6-1.2-14.6-1.8-14.6-2.3-14.6-2.8-14.6-3.4-14.5-3.9-14.6-4.4-14.6-4.9-14.6-5.5-14.6-6-14.6-6.6-14.6-7.1-14.6-7.6z"/>
<path fill="url(#f36)" d="M1328.7 1177.2l14.6 7.1 14.5 6.6 14.6 6.1 14.6 5.5 14.6 5 14.6 4.5 14.6 3.9 14.6 3.4 14.6 2.9 14.6 2.4 14.6 1.8 14.6 1.3 14.5 .7 14.6 .2 14.6-.3 14.6-.8 14.6-1.4 14.6-1.9 14.6-2.4 14.6-3 5.4 1.2-14.6 2.6-14.6 2.2-14.6 1.6-14.6 1.1-14.6 .5-14.6 0-14.6-.5-14.6-1-14.5-1.6-14.6-2.1-14.6-2.6-14.6-3.2-14.6-3.7-14.6-4.3-14.6-4.7-14.6-5.3-14.6-5.8-14.6-6.4-14.6-6.9-14.5-7.4z"/>
<path fill="url(#f35)" d="M1325.3 1180l14.6 7 14.6 6.4 14.6 5.9 14.6 5.3 14.5 4.9 14.6 4.3 14.6 3.7 14.6 3.2 14.6 2.7 14.6 2.2 14.6 1.6 14.6 1.1 14.6 .6 14.6 0 14.6-.5 14.5-1 14.6-1.6 14.6-2 14.6-2.7 14.6-3.1 5.4 1.3-14.6 2.8-14.6 2.3-14.6 1.8-14.6 1.3-14.6 .7-14.5 .2-14.6-.3-14.6-.9-14.6-1.3-14.6-2-14.6-2.4-14.6-3-14.6-3.5-14.6-4.1-14.6-4.6-14.6-5.1-14.5-5.6-14.6-6.2-14.6-6.7-14.6-7.3z"/>
<path fill="url(#f34)" d="M1321.9 1182.8l14.6 6.8 14.6 6.2 14.6 5.7 14.6 5.2 14.6 4.6 14.6 4.1 14.6 3.6 14.6 3.1 14.5 2.5 14.6 1.9 14.6 1.5 14.6 .9 14.6 .4 14.6-.2 14.6-.6 14.6-1.2 14.6-1.8 14.6-2.3 14.6-2.8 14.5-3.3 5.4 1.4-14.6 3-14.5 2.5-14.6 2-14.6 1.5-14.6 .9-14.6 .4-14.6-.2-14.6-.7-14.6-1.2-14.6-1.7-14.6-2.3-14.6-2.8-14.5-3.3-14.6-3.9-14.6-4.4-14.6-4.9-14.6-5.5-14.6-6-14.6-6.5-14.6-7.1z"/>
<path fill="url(#f33)" d="M1318.6 1185.6l14.5 6.5 14.6 6.1 14.6 5.5 14.6 5 14.6 4.4 14.6 4 14.6 3.3 14.6 2.9 14.6 2.3 14.6 1.8 14.6 1.3 14.5 .7 14.6 .2 14.6-.3 14.6-.9 14.6-1.4 14.6-1.9 14.6-2.5 14.6-2.9 14.6-3.6 5.4 1.5-14.6 3.3-14.6 2.7-14.6 2.1-14.6 1.7-14.6 1.1-14.6 .5-14.6 .1-14.6-.5-14.6-1.1-14.5-1.5-14.6-2.1-14.6-2.6-14.6-3.2-14.6-3.7-14.6-4.2-14.6-4.7-14.6-5.3-14.6-5.8-14.6-6.4-14.6-6.8z"/>
<path fill="url(#f32)" d="M1315.2 1188.2l14.6 6.4 14.6 5.9 14.6 5.3 14.6 4.8 14.5 4.3 14.6 3.7 14.6 3.2 14.6 2.7 14.6 2.1 14.6 1.6 14.6 1.1 14.6 .6 14.6 0 14.6-.5 14.6-1.1 14.5-1.6 14.6-2.1 14.6-2.6 14.6-3.2 14.6-3.7 5.4 1.6-14.6 3.4-14.6 2.9-14.6 2.4-14.6 1.8-14.6 1.3-14.5 .7-14.6 .2-14.6-.3-14.6-.8-14.6-1.4-14.6-1.9-14.6-2.4-14.6-3-14.6-3.5-14.6-4-14.6-4.6-14.5-5.1-14.6-5.6-14.6-6.2-14.6-6.7z"/>
<path fill="url(#f31)" d="M1311.8 1190.8l14.6 6.2 14.6 5.7 14.6 5.1 14.6 4.6 14.6 4.1 14.6 3.6 14.6 3 14.5 2.5 14.6 2 14.6 1.4 14.6 .9 14.6 .3 14.6-.1 14.6-.7 14.6-1.3 14.6-1.7 14.6-2.3 14.6-2.8 14.5-3.4 14.6-3.9 5.4 1.7-14.6 3.6-14.6 3.1-14.5 2.5-14.6 2-14.6 1.5-14.6 .9-14.6 .4-14.6-.1-14.6-.7-14.6-1.1-14.6-1.8-14.6-2.2-14.6-2.8-14.5-3.3-14.6-3.9-14.6-4.3-14.6-5-14.6-5.4-14.6-6-14.6-6.5z"/>
<path fill="url(#f30)" d="M1308.5 1193.3l14.5 6 14.6 5.5 14.6 5 14.6 4.4 14.6 3.9 14.6 3.4 14.6 2.8 14.6 2.3 14.6 1.8 14.6 1.3 14.6 .7 14.5 .1 14.6-.3 14.6-.9 14.6-1.4 14.6-1.9 14.6-2.5 14.6-3 14.6-3.6 14.6-4 5.4 1.8-14.6 3.8-14.6 3.2-14.6 2.7-14.6 2.2-14.6 1.7-14.6 1.1-14.6 .6-14.6 0-14.6-.5-14.5-1-14.6-1.5-14.6-2.1-14.6-2.6-14.6-3.1-14.6-3.7-14.6-4.2-14.6-4.7-14.6-5.2-14.6-5.8-14.6-6.4z"/>
<path fill="url(#f29)" d="M1305.1 1195.7l14.6 5.9 14.6 5.3 14.6 4.8 14.5 4.2 14.6 3.7 14.6 3.2 14.6 2.7 14.6 2.1 14.6 1.6 14.6 1.1 14.6 .5 14.6 0 14.6-.5 14.6-1.1 14.5-1.6 14.6-2.1 14.6-2.7 14.6-3.2 14.6-3.7 14.6-4.3 5.4 2-14.6 3.9-14.6 3.5-14.6 2.9-14.6 2.3-14.6 1.9-14.6 1.3-14.5 .7-14.6 .3-14.6-.3-14.6-.8-14.6-1.4-14.6-1.9-14.6-2.4-14.6-2.9-14.6-3.5-14.6-4-14.6-4.6-14.5-5.1-14.6-5.6-14.6-6.1z"/>
<path fill="url(#f28)" d="M1301.7 1198.1l14.6 5.7 14.6 5.1 14.6 4.6 14.6 4.1 14.6 3.5 14.6 3 14.6 2.5 14.5 1.9 14.6 1.4 14.6 .9 14.6 .3 14.6-.1 14.6-.8 14.6-1.2 14.6-1.8 14.6-2.3 14.6-2.9 14.6-3.3 14.5-3.9 14.6-4.5 5.4 2.1-14.6 4.1-14.6 3.6-14.6 3.1-14.5 2.6-14.6 2-14.6 1.5-14.6 .9-14.6 .5-14.6-.2-14.6-.6-14.6-1.2-14.6-1.7-14.6-2.2-14.5-2.8-14.6-3.3-14.6-3.8-14.6-4.3-14.6-4.9-14.6-5.5-14.6-5.9z"/>
<path fill="url(#f27)" d="M1298.3 1200.4l14.6 5.5 14.6 4.9 14.6 4.5 14.6 3.8 14.6 3.4 14.6 2.8 14.6 2.3 14.6 1.8 14.6 1.2 14.6 .7 14.5 .1 14.6-.3 14.6-.9 14.6-1.5 14.6-1.9 14.6-2.5 14.6-3.1 14.6-3.5 14.6-4.1 14.6-4.6 5.4 2.1-14.6 4.3-14.6 3.8-14.6 3.3-14.6 2.7-14.6 2.2-14.6 1.7-14.6 1.2-14.6 .6-14.6 0-14.6-.4-14.5-1-14.6-1.5-14.6-2.1-14.6-2.5-14.6-3.2-14.6-3.6-14.6-4.2-14.6-4.7-14.6-5.2-14.6-5.8z"/>
<path fill="url(#f26)" d="M1295 1202.7l14.6 5.3 14.6 4.7 14.6 4.2 14.5 3.7 14.6 3.2 14.6 2.6 14.6 2.2 14.6 1.5 14.6 1.1 14.6 .5 14.6-.1 14.6-.5 14.6-1.1 14.6-1.6 14.5-2.2 14.6-2.6 14.6-3.3 14.6-3.7 14.6-4.3 14.6-4.8 5.4 2.3-14.6 4.5-14.6 4-14.6 3.4-14.6 2.9-14.6 2.4-14.6 1.9-14.6 1.3-14.5 .8-14.6 .3-14.6-.3-14.6-.8-14.6-1.3-14.6-1.9-14.6-2.4-14.6-2.9-14.6-3.5-14.6-4-14.5-4.5-14.6-5.1-14.6-5.5z"/>
<path fill="url(#f25)" d="M1291.6 1204.8l14.6 5.1 14.6 4.6 14.6 4.1 14.6 3.5 14.6 3 14.6 2.4 14.5 1.9 14.6 1.4 14.6 .9 14.6 .3 14.6-.2 14.6-.7 14.6-1.3 14.6-1.8 14.6-2.3 14.6-2.9 14.6-3.4 14.5-3.9 14.6-4.5 14.6-5 5.4 2.4-14.6 4.7-14.6 4.2-14.6 3.6-14.5 3.1-14.6 2.6-14.6 2-14.6 1.5-14.6 1-14.6 .4-14.6-.1-14.6-.6-14.6-1.1-14.6-1.7-14.6-2.2-14.5-2.8-14.6-3.2-14.6-3.9-14.6-4.3-14.6-4.9-14.6-5.4z"/>
<path fill="url(#f24)" d="M1288.2 1206.9l14.6 5 14.6 4.4 14.6 3.8 14.6 3.3 14.6 2.8 14.6 2.3 14.6 1.7 14.6 1.3 14.6 .6 14.6 .2 14.5-.4 14.6-.9 14.6-1.5 14.6-2 14.6-2.5 14.6-3.1 14.6-3.5 14.6-4.1 14.6-4.7 14.6-5.2 5.3 2.5-14.5 4.9-14.6 4.4-14.6 3.8-14.6 3.3-14.6 2.7-14.6 2.2-14.6 1.7-14.6 1.2-14.6 .6-14.6 .1-14.6-.4-14.5-1-14.6-1.5-14.6-2-14.6-2.6-14.6-3.1-14.6-3.6-14.6-4.2-14.6-4.6-14.6-5.3z"/>
<path fill="url(#f23)" d="M1284.9 1209l14.6 4.7 14.6 4.2 14.5 3.7 14.6 3.1 14.6 2.7 14.6 2 14.6 1.6 14.6 1 14.6 .5 14.6 0 14.6-.6 14.6-1.1 14.6-1.7 14.5-2.1 14.6-2.7 14.6-3.3 14.6-3.7 14.6-4.3 14.6-4.8 14.6-5.4 5.4 2.6-14.6 5.1-14.6 4.5-14.6 4-14.6 3.5-14.6 2.9-14.6 2.4-14.6 1.9-14.5 1.3-14.6 .8-14.6 .3-14.6-.2-14.6-.8-14.6-1.3-14.6-1.9-14.6-2.4-14.6-2.9-14.6-3.4-14.6-4-14.5-4.5-14.6-5z"/>
<path fill="url(#f22)" d="M1281.5 1210.9l14.6 4.6 14.6 4 14.6 3.5 14.6 3 14.6 2.4 14.5 1.9 14.6 1.4 14.6 .8 14.6 .3 14.6-.2 14.6-.8 14.6-1.3 14.6-1.8 14.6-2.3 14.6-2.9 14.6-3.4 14.5-4 14.6-4.5 14.6-5 14.6-5.5 5.4 2.7-14.6 5.2-14.6 4.8-14.6 4.1-14.6 3.7-14.5 3.1-14.6 2.6-14.6 2.1-14.6 1.5-14.6 1-14.6 .4-14.6 0-14.6-.6-14.6-1.1-14.6-1.7-14.6-2.2-14.5-2.7-14.6-3.3-14.6-3.8-14.6-4.3-14.6-4.8z"/>
<path fill="url(#f21)" d="M1278.1 1212.8l14.6 4.4 14.6 3.8 14.6 3.3 14.6 2.8 14.6 2.3 14.6 1.7 14.6 1.2 14.6 .6 14.6 .1 14.5-.4 14.6-.9 14.6-1.5 14.6-2 14.6-2.5 14.6-3.1 14.6-3.6 14.6-4.1 14.6-4.7 14.6-5.2 14.6-5.7 5.3 2.8-14.5 5.4-14.6 4.9-14.6 4.4-14.6 3.9-14.6 3.3-14.6 2.7-14.6 2.3-14.6 1.7-14.6 1.2-14.6 .6-14.6 .1-14.5-.4-14.6-.9-14.6-1.5-14.6-2-14.6-2.6-14.6-3-14.6-3.6-14.6-4.2-14.6-4.6z"/>
<path fill="url(#f20)" d="M1274.8 1214.6l14.6 4.2 14.5 3.7 14.6 3.1 14.6 2.6 14.6 2.1 14.6 1.5 14.6 1 14.6 .5 14.6-.1 14.6-.6 14.6-1.1 14.6-1.7 14.5-2.1 14.6-2.8 14.6-3.2 14.6-3.8 14.6-4.3 14.6-4.9 14.6-5.3 14.6-6 5.4 3-14.6 5.6-14.6 5.1-14.6 4.5-14.6 4-14.6 3.5-14.6 3-14.6 2.4-14.6 1.9-14.5 1.4-14.6 .8-14.6 .3-14.6-.2-14.6-.8-14.6-1.3-14.6-1.8-14.6-2.4-14.6-2.8-14.6-3.5-14.6-3.9-14.5-4.5z"/>
<path fill="url(#f19)" d="M1271.4 1216.4l14.6 4 14.6 3.5 14.6 2.9 14.6 2.4 14.6 1.9 14.5 1.4 14.6 .8 14.6 .3 14.6-.3 14.6-.8 14.6-1.3 14.6-1.8 14.6-2.4 14.6-2.9 14.6-3.4 14.6-4 14.5-4.5 14.6-5 14.6-5.6 14.6-6.1 5.4 3.1-14.6 5.8-14.6 5.2-14.6 4.8-14.6 4.2-14.5 3.6-14.6 3.2-14.6 2.6-14.6 2.1-14.6 1.5-14.6 1-14.6 .5-14.6 0-14.6-.6-14.6-1.1-14.6-1.7-14.5-2.1-14.6-2.7-14.6-3.3-14.6-3.7-14.6-4.3z"/>
<path fill="url(#f18)" d="M1268 1218.1l14.6 3.8 14.6 3.3 14.6 2.8 14.6 2.2 14.6 1.7 14.6 1.1 14.6 .7 14.6 .1 14.5-.4 14.6-1 14.6-1.5 14.6-2 14.6-2.6 14.6-3.1 14.6-3.6 14.6-4.1 14.6-4.7 14.6-5.2 14.6-5.8 14.5-6.3 5.4 3.2-14.6 6-14.5 5.4-14.6 4.9-14.6 4.4-14.6 3.9-14.6 3.3-14.6 2.8-14.6 2.3-14.6 1.7-14.6 1.2-14.6 .7-14.6 .1-14.5-.4-14.6-.9-14.6-1.5-14.6-2-14.6-2.5-14.6-3-14.6-3.6-14.6-4.1z"/>
<path fill="url(#f17)" d="M1264.7 1219.7l14.6 3.6 14.5 3.2 14.6 2.5 14.6 2.1 14.6 1.5 14.6 1 14.6 .4 14.6-.1 14.6-.6 14.6-1.1 14.6-1.7 14.6-2.2 14.5-2.8 14.6-3.2 14.6-3.8 14.6-4.4 14.6-4.8 14.6-5.4 14.6-6 14.6-6.4 5.4 3.2-14.6 6.2-14.6 5.6-14.6 5.1-14.6 4.6-14.6 4.1-14.6 3.5-14.6 2.9-14.6 2.5-14.5 1.9-14.6 1.4-14.6 .8-14.6 .4-14.6-.2-14.6-.8-14.6-1.3-14.6-1.8-14.6-2.3-14.6-2.9-14.6-3.4-14.5-3.9z"/>
<path fill="url(#f16)" d="M1261.3 1221.3l14.6 3.4 14.6 2.9 14.6 2.4 14.6 1.9 14.5 1.3 14.6 .8 14.6 .3 14.6-.3 14.6-.8 14.6-1.3 14.6-1.9 14.6-2.4 14.6-2.9 14.6-3.4 14.6-4 14.5-4.6 14.6-5 14.6-5.6 14.6-6.1 14.6-6.6 5.4 3.3-14.6 6.4-14.6 5.8-14.6 5.3-14.6 4.7-14.6 4.3-14.5 3.7-14.6 3.1-14.6 2.6-14.6 2.1-14.6 1.6-14.6 1-14.6 .6-14.6-.1-14.6-.5-14.6-1.1-14.6-1.6-14.5-2.2-14.6-2.7-14.6-3.2-14.6-3.8z"/>
<path fill="url(#f15)" d="M1257.9 1222.7l14.6 3.3 14.6 2.7 14.6 2.3 14.6 1.6 14.6 1.2 14.6 .6 14.6 .1 14.6-.5 14.5-1 14.6-1.5 14.6-2 14.6-2.6 14.6-3.1 14.6-3.6 14.6-4.2 14.6-4.7 14.6-5.2 14.6-5.8 14.6-6.3 14.5-6.8 5.4 3.4-14.6 6.6-14.6 6-14.5 5.4-14.6 5-14.6 4.4-14.6 3.9-14.6 3.3-14.6 2.8-14.6 2.3-14.6 1.8-14.6 1.2-14.6 .7-14.5 .1-14.6-.3-14.6-1-14.6-1.4-14.6-2-14.6-2.5-14.6-3-14.6-3.6z"/>
<path fill="url(#f14)" d="M1254.6 1224.2l14.5 3 14.6 2.6 14.6 2 14.6 1.5 14.6 1 14.6 .4 14.6-.1 14.6-.6 14.6-1.2 14.6-1.7 14.6-2.2 14.5-2.8 14.6-3.3 14.6-3.8 14.6-4.4 14.6-4.8 14.6-5.5 14.6-5.9 14.6-6.5 14.6-7 5.4 3.6-14.6 6.7-14.6 6.2-14.6 5.6-14.6 5.2-14.6 4.6-14.6 4-14.6 3.6-14.6 2.9-14.6 2.5-14.5 1.9-14.6 1.5-14.6 .8-14.6 .4-14.6-.2-14.6-.8-14.6-1.2-14.6-1.8-14.6-2.3-14.6-2.9-14.6-3.3z"/>
<path fill="url(#f13)" d="M1251.2 1225.5l14.6 2.9 14.6 2.4 14.6 1.8 14.6 1.3 14.5 .8 14.6 .2 14.6-.2 14.6-.9 14.6-1.3 14.6-1.9 14.6-2.4 14.6-2.9 14.6-3.5 14.6-4 14.6-4.6 14.5-5 14.6-5.6 14.6-6.2 14.6-6.6 14.6-7.2 5.4 3.7-14.6 6.9-14.6 6.3-14.6 5.9-14.6 5.3-14.6 4.8-14.6 4.2-14.5 3.7-14.6 3.2-14.6 2.6-14.6 2.2-14.6 1.6-14.6 1-14.6 .5-14.6 0-14.6-.5-14.6-1.1-14.5-1.6-14.6-2.1-14.6-2.7-14.6-3.2z"/>
<path fill="url(#f12)" d="M1247.8 1226.8l14.6 2.7 14.6 2.2 14.6 1.6 14.6 1.2 14.6 .5 14.6 .1 14.6-.5 14.5-1 14.6-1.5 14.6-2.1 14.6-2.6 14.6-3.1 14.6-3.6 14.6-4.2 14.6-4.8 14.6-5.2 14.6-5.8 14.6-6.3 14.5-6.9 14.6-7.3 5.4 3.8-14.6 7.1-14.6 6.5-14.5 6-14.6 5.5-14.6 5-14.6 4.4-14.6 3.9-14.6 3.4-14.6 2.8-14.6 2.3-14.6 1.8-14.6 1.2-14.6 .7-14.5 .2-14.6-.4-14.6-.8-14.6-1.5-14.6-1.9-14.6-2.5-14.6-3z"/>
<path fill="url(#f11)" d="M1244.5 1228l14.5 2.5 14.6 2 14.6 1.5 14.6 .9 14.6 .4 14.6-.1 14.6-.6 14.6-1.2 14.6-1.7 14.6-2.3 14.5-2.8 14.6-3.3 14.6-3.8 14.6-4.4 14.6-4.9 14.6-5.4 14.6-6 14.6-6.5 14.6-7 14.6-7.6 5.4 3.9-14.6 7.3-14.6 6.7-14.6 6.2-14.6 5.7-14.6 5.1-14.6 4.7-14.6 4-14.6 3.6-14.6 3-14.6 2.5-14.5 1.9-14.6 1.5-14.6 .9-14.6 .3-14.6-.2-14.6-.7-14.6-1.2-14.6-1.8-14.6-2.3-14.6-2.8z"/>
<path fill="url(#f10)" d="M1241.1 1229.1l14.6 2.4 14.6 1.8 14.6 1.3 14.5 .7 14.6 .3 14.6-.4 14.6-.8 14.6-1.4 14.6-1.9 14.6-2.4 14.6-3 14.6-3.4 14.6-4.1 14.6-4.5 14.5-5.1 14.6-5.6 14.6-6.2 14.6-6.7 14.6-7.2 14.6-7.7 5.4 4-14.6 7.4-14.6 7-14.6 6.3-14.6 5.9-14.6 5.3-14.6 4.8-14.5 4.3-14.6 3.7-14.6 3.2-14.6 2.7-14.6 2.1-14.6 1.6-14.6 1.1-14.6 .6-14.6 0-14.6-.5-14.6-1.1-14.5-1.6-14.6-2.1-14.6-2.6z"/>
<path fill="url(#f9)" d="M1237.7 1230.2l14.6 2.1 14.6 1.7 14.6 1.1 14.6 .6 14.6 0 14.6-.5 14.5-1 14.6-1.6 14.6-2 14.6-2.7 14.6-3.1 14.6-3.7 14.6-4.2 14.6-4.7 14.6-5.3 14.6-5.8 14.6-6.4 14.5-6.8 14.6-7.4 14.6-8 5.4 4.2-14.6 7.6-14.6 7.1-14.6 6.6-14.5 6-14.6 5.6-14.6 4.9-14.6 4.5-14.6 3.9-14.6 3.4-14.6 2.8-14.6 2.4-14.6 1.7-14.6 1.3-14.6 .7-14.5 .2-14.6-.3-14.6-.9-14.6-1.4-14.6-1.9-14.6-2.5z"/>
<path fill="url(#f8)" d="M1234.3 1231.2l14.6 2 14.6 1.4 14.6 .9 14.6 .4 14.6-.1 14.6-.7 14.6-1.2 14.6-1.7 14.6-2.3 14.6-2.8 14.5-3.3 14.6-3.9 14.6-4.4 14.6-4.9 14.6-5.5 14.6-6 14.6-6.5 14.6-7 14.6-7.6 14.6-8.1 5.4 4.2-14.6 7.8-14.6 7.3-14.6 6.8-14.6 6.2-14.6 5.7-14.6 5.2-14.6 4.6-14.6 4.1-14.6 3.6-14.6 3-14.5 2.5-14.6 2-14.6 1.4-14.6 .9-14.6 .4-14.6-.1-14.6-.7-14.6-1.2-14.6-1.8-14.6-2.3z"/>
<path fill="url(#f7)" d="M1231 1232.1l14.6 1.8 14.6 1.3 14.5 .7 14.6 .2 14.6-.3 14.6-.9 14.6-1.4 14.6-1.9 14.6-2.4 14.6-3 14.6-3.5 14.6-4.1 14.6-4.5 14.5-5.2 14.6-5.6 14.6-6.2 14.6-6.7 14.6-7.2 14.6-7.8 14.6-8.3 5.4 4.4-14.6 8-14.6 7.5-14.6 6.9-14.6 6.4-14.6 5.9-14.6 5.3-14.6 4.9-14.5 4.2-14.6 3.8-14.6 3.2-14.6 2.7-14.6 2.2-14.6 1.6-14.6 1.1-14.6 .5-14.6 .1-14.6-.5-14.6-1.1-14.5-1.5-14.6-2.1z"/>
<path fill="url(#f6)" d="M1227.6 1233l14.6 1.6 14.6 1.1 14.6 .5 14.6 0 14.6-.5 14.6-1 14.5-1.6 14.6-2.1 14.6-2.6 14.6-3.2 14.6-3.7 14.6-4.2 14.6-4.8 14.6-5.3 14.6-5.8 14.6-6.3 14.6-6.9 14.5-7.5 14.6-7.9 14.6-8.5 5.4 4.5-14.6 8.2-14.6 7.6-14.6 7.2-14.5 6.5-14.6 6.1-14.6 5.5-14.6 5-14.6 4.5-14.6 3.9-14.6 3.4-14.6 2.9-14.6 2.4-14.6 1.8-14.6 1.2-14.5 .8-14.6 .2-14.6-.3-14.6-.9-14.6-1.3-14.6-1.9z"/>
<path fill="url(#f5)" d="M1224.2 1233.8l14.6 1.4 14.6 .9 14.6 .4 14.6-.2 14.6-.7 14.6-1.2 14.6-1.8 14.6-2.3 14.6-2.8 14.5-3.3 14.6-3.9 14.6-4.4 14.6-5 14.6-5.4 14.6-6.1 14.6-6.5 14.6-7.1 14.6-7.6 14.6-8.1 14.6-8.7 5.3 4.6-14.5 8.4-14.6 7.8-14.6 7.3-14.6 6.8-14.6 6.3-14.6 5.7-14.6 5.2-14.6 4.6-14.6 4.1-14.6 3.6-14.6 3.1-14.5 2.5-14.6 2-14.6 1.4-14.6 1-14.6 .4-14.6-.2-14.6-.6-14.6-1.2-14.6-1.7z"/>
<path fill="url(#f4)" d="M1220.9 1234.5l14.6 1.2 14.6 .7 14.5 .2 14.6-.3 14.6-.9 14.6-1.4 14.6-1.9 14.6-2.5 14.6-3 14.6-3.5 14.6-4.1 14.6-4.6 14.6-5.1 14.5-5.7 14.6-6.2 14.6-6.7 14.6-7.3 14.6-7.8 14.6-8.3 14.6-8.8 5.4 4.7-14.6 8.5-14.6 8-14.6 7.5-14.6 7-14.6 6.4-14.6 5.9-14.6 5.4-14.5 4.8-14.6 4.3-14.6 3.8-14.6 3.2-14.6 2.8-14.6 2.1-14.6 1.7-14.6 1.1-14.6 .6-14.6 0-14.6-.5-14.5-1-14.6-1.5z"/>
<path fill="url(#f3)" d="M1217.5 1235.1l14.6 1.1 14.6 .5 14.6 0 14.6-.5 14.6-1.1 14.5-1.5 14.6-2.2 14.6-2.6 14.6-3.2 14.6-3.7 14.6-4.3 14.6-4.8 14.6-5.3 14.6-5.8 14.6-6.4 14.6-6.9 14.5-7.4 14.6-8 14.6-8.5 14.6-9 5.4 4.8-14.6 8.7-14.6 8.2-14.6 7.7-14.6 7.1-14.5 6.6-14.6 6.1-14.6 5.6-14.6 5-14.6 4.5-14.6 3.9-14.6 3.5-14.6 2.8-14.6 2.4-14.6 1.8-14.6 1.3-14.5 .8-14.6 .2-14.6-.3-14.6-.8-14.6-1.3z"/>
<path fill="url(#f2)" d="M1214.1 1235.7l14.6 .9 14.6 .4 14.6-.2 14.6-.7 14.6-1.3 14.6-1.8 14.6-2.3 14.6-2.8 14.6-3.4 14.5-3.9 14.6-4.4 14.6-5 14.6-5.5 14.6-6 14.6-6.6 14.6-7.1 14.6-7.6 14.6-8.1 14.6-8.7 14.6-9.2 5.3 4.9-14.6 8.9-14.5 8.4-14.6 7.9-14.6 7.3-14.6 6.8-14.6 6.2-14.6 5.8-14.6 5.2-14.6 4.7-14.6 4.1-14.6 3.6-14.5 3.1-14.6 2.5-14.6 2-14.6 1.5-14.6 1-14.6 .4-14.6-.1-14.6-.7-14.6-1.1z"/>
<path fill="url(#f1)" d="M1210.8 1236.2l14.6 .7 14.5 .2 14.6-.4 14.6-.9 14.6-1.4 14.6-1.9 14.6-2.5 14.6-3.1 14.6-3.5 14.6-4.1 14.6-4.6 14.6-5.2 14.5-5.6 14.6-6.3 14.6-6.7 14.6-7.3 14.6-7.8 14.6-8.3 14.6-8.9 14.6-9.4 5.4 5-14.6 9.1-14.6 8.6-14.6 8.1-14.6 7.5-14.6 6.9-14.6 6.5-14.6 5.9-14.6 5.4-14.5 4.9-14.6 4.3-14.6 3.8-14.6 3.2-14.6 2.8-14.6 2.2-14.6 1.6-14.6 1.2-14.6 .6-14.6 0-14.6-.4-14.5-1z"/>
<path fill="url(#f0)" d="M1207.4 1236.7l14.6 .5 14.6 0 14.6-.6 14.6-1 14.6-1.7 14.5-2.1 14.6-2.7 14.6-3.2 14.6-3.7 14.6-4.3 14.6-4.8 14.6-5.3 14.6-5.9 14.6-6.4 14.6-6.9 14.6-7.5 14.5-8 14.6-8.5 14.6-9 14.6-9.6 5.4 5.1-14.6 9.3-14.6 8.8-14.6 8.2-14.6 7.7-14.6 7.1-14.5 6.7-14.6 6.1-14.6 5.6-14.6 5-14.6 4.5-14.6 4-14.6 3.4-14.6 2.9-14.6 2.4-14.6 1.9-14.5 1.3-14.6 .8-14.6 .2-14.6-.3-14.6-.8z"/></g>
<path class="bl" d="M1207.4 1236.7L1216.5 1237.1L1225.6 1237.2L1234.8 1237.2L1243.9 1237L1253 1236.5L1262.1 1235.9L1271.2 1235L1280.4 1233.9L1289.5 1232.7L1298.6 1231.2L1307.7 1229.5L1316.8 1227.6L1325.9 1225.5L1335.1 1223.2L1344.2 1220.6L1353.3 1217.9L1362.4 1215L1371.5 1211.8L1380.7 1208.5L1389.8 1204.9L1398.9 1201.1L1408 1197.2L1417.1 1193L1426.3 1188.6L1435.4 1184L1444.5 1179.2L1453.6 1174.2L1462.7 1168.9L1471.9 1163.5L1481 1157.9L1490.1 1152L1499.2 1146L1504.3 1150.8L1509.3 1155.5L1514.4 1160L1519.4 1164.3L1524.5 1168.5L1529.5 1172.5L1534.6 1176.4L1539.6 1180.2L1544.7 1183.7L1549.7 1187.2L1554.8 1190.4L1559.8 1193.5L1564.9 1196.5L1570 1199.3L1575 1201.9L1580.1 1204.4L1585.1 1206.8L1590.2 1209L1595.2 1211L1600.3 1212.9L1605.3 1214.6L1610.4 1216.1L1615.4 1217.5L1620.5 1218.8L1625.5 1219.9L1630.6 1220.8L1635.6 1221.6L1640.7 1222.3L1645.7 1222.7L1650.8 1223.1L1655.8 1223.2L1660.9 1223.3L1651.8 1223.8L1642.7 1224.1L1633.5 1224.2L1624.4 1224.2L1615.3 1223.9L1606.2 1223.4L1597.1 1222.7L1587.9 1221.8L1578.8 1220.6L1569.7 1219.3L1560.6 1217.8L1551.5 1216L1542.4 1214.1L1533.2 1211.9L1524.1 1209.5L1515 1207L1505.9 1204.2L1496.8 1201.2L1487.6 1198L1478.5 1194.6L1469.4 1191L1460.3 1187.2L1451.2 1183.1L1442 1178.9L1432.9 1174.5L1423.8 1169.8L1414.7 1164.9L1405.6 1159.9L1396.4 1154.6L1387.3 1149.1L1378.2 1143.4L1369.1 1137.5L1364 1143L1359 1148.4L1353.9 1153.6L1348.9 1158.6L1343.8 1163.5L1338.8 1168.2L1333.7 1172.8L1328.7 1177.2L1323.6 1181.5L1318.6 1185.6L1313.5 1189.5L1308.5 1193.3L1303.4 1196.9L1298.3 1200.4L1293.3 1203.8L1288.2 1206.9L1283.2 1210L1278.1 1212.8L1273.1 1215.5L1268 1218.1L1263 1220.5L1257.9 1222.7L1252.9 1224.8L1247.8 1226.8L1242.8 1228.5L1237.7 1230.2L1232.7 1231.6L1227.6 1233L1222.6 1234.1L1217.5 1235.1L1212.5 1236Z"/>
<path class="k" d="M1194.2 1269.8L1503 1299.5M1503 1299.5L1674.1 1246.3M1194.2 1269.8L1194.2 1103.7M1503 1299.5L1503 1133.4M1674.1 1246.3L1674.1 1080.2M1194.2 1103.7L1503 1133.4M1503 1133.4L1674.1 1080.2M1194.2 1103.7L1365.3 1050.5M1365.3 1050.5L1674.1 1080.2M1194.2 1108.5l5.5 0M1194.2 1116.4l3 0M1194.2 1124.3l3 0M1194.2 1132.2l3 0M1194.2 1140.1l5.5 0M1194.2 1147.9l3 0M1194.2 1155.6l3 0M1194.2 1163.4l3 0M1194.2 1171.1l5.5 0M1194.2 1179l3 0M1194.2 1186.9l3 0M1194.2 1194.8l3 0M1194.2 1202.7l5.5 0M1194.2 1210.5l3 0M1194.2 1218.2l3 0M1194.2 1226l3 0M1194.2 1233.8l5.5 0M1194.2 1241.7l3 0M1194.2 1249.5l3 0M1194.2 1257.4l3 0M1194.2 1265.3l5.5 0M1503 1138.2l-5.5 0M1503 1146.1l-3 0M1503 1154l-3 0M1503 1161.9l-3 0M1503 1169.8l-5.5 0M1503 1177.6l-3 0M1503 1185.3l-3 0M1503 1193.1l-3 0M1503 1200.8l-5.5 0M1503 1208.7l-3 0M1503 1216.6l-3 0M1503 1224.5l-3 0M1503 1232.4l-5.5 0M1503 1240.2l-3 0M1503 1248l-3 0M1503 1255.7l-3 0M1503 1263.5l-5.5 0M1503 1271.4l-3 0M1503 1279.2l-3 0M1503 1287.1l-3 0M1503 1295l-5.5 0M1674.1 1085l-5.5 0M1674.1 1092.9l-3 0M1674.1 1100.8l-3 0M1674.1 1108.7l-3 0M1674.1 1116.6l-5.5 0M1674.1 1124.4l-3 0M1674.1 1132.1l-3 0M1674.1 1139.9l-3 0M1674.1 1147.6l-5.5 0M1674.1 1155.5l-3 0M1674.1 1163.4l-3 0M1674.1 1171.3l-3 0M1674.1 1179.2l-5.5 0M1674.1 1187l-3 0M1674.1 1194.8l-3 0M1674.1 1202.5l-3 0M1674.1 1210.3l-5.5 0M1674.1 1218.2l-3 0M1674.1 1226l-3 0M1674.1 1233.9l-3 0M1674.1 1241.8l-5.5 0M1202.7 1270.6l4.3 -1.3M1220.9 1272.4l2.4 -0.7M1239.2 1274.1l2.4 -0.7M1257.4 1275.9l2.4 -0.7M1275.6 1277.6l4.3 -1.3M1293.9 1279.4l2.4 -0.7M1312.1 1281.1l2.4 -0.7M1330.4 1282.9l2.4 -0.7M1348.6 1284.7l4.3 -1.3M1366.8 1286.4l2.4 -0.7M1385.1 1288.2l2.4 -0.7M1403.3 1289.9l2.4 -0.7M1421.6 1291.7l4.3 -1.3M1439.8 1293.4l2.4 -0.7M1458 1295.2l2.4 -0.7M1476.3 1296.9l2.4 -0.7M1494.5 1298.7l4.3 -1.3M1507.7 1298l-4.5 -0.4M1515.8 1295.5l-2.5 -0.2M1523.9 1293l-2.5 -0.2M1532 1290.5l-2.5 -0.2M1540 1288l-4.5 -0.4M1548.1 1285.5l-2.5 -0.2M1556.2 1283l-2.5 -0.2M1564.3 1280.4l-2.5 -0.2M1572.4 1277.9l-4.5 -0.4M1580.5 1275.4l-2.5 -0.2M1588.5 1272.9l-2.5 -0.2M1596.6 1270.4l-2.5 -0.2M1604.7 1267.9l-4.5 -0.4M1612.8 1265.4l-2.5 -0.2M1620.9 1262.8l-2.5 -0.2M1629 1260.3l-2.5 -0.2M1637.1 1257.8l-4.5 -0.4M1645.1 1255.3l-2.5 -0.2M1653.2 1252.8l-2.5 -0.2M1661.3 1250.3l-2.5 -0.2M1669.4 1247.8l-4.5 -0.4M1202.7 1104.5l4.3 -1.3M1220.9 1106.3l2.4 -0.7M1239.2 1108l2.4 -0.7M1257.4 1109.8l2.4 -0.7M1275.6 1111.5l4.3 -1.3M1293.9 1113.3l2.4 -0.7M1312.1 1115l2.4 -0.7M1330.4 1116.8l2.4 -0.7M1348.6 1118.6l4.3 -1.3M1366.8 1120.3l2.4 -0.7M1385.1 1122.1l2.4 -0.7M1403.3 1123.8l2.4 -0.7M1421.6 1125.6l4.3 -1.3M1439.8 1127.3l2.4 -0.7M1458 1129.1l2.4 -0.7M1476.3 1130.8l2.4 -0.7M1494.5 1132.6l4.3 -1.3M1507.7 1131.9l-4.5 -0.4M1515.8 1129.4l-2.5 -0.2M1523.9 1126.9l-2.5 -0.2M1532 1124.4l-2.5 -0.2M1540 1121.9l-4.5 -0.4M1548.1 1119.4l-2.5 -0.2M1556.2 1116.9l-2.5 -0.2M1564.3 1114.3l-2.5 -0.2M1572.4 1111.8l-4.5 -0.4M1580.5 1109.3l-2.5 -0.2M1588.5 1106.8l-2.5 -0.2M1596.6 1104.3l-2.5 -0.2M1604.7 1101.8l-4.5 -0.4M1612.8 1099.3l-2.5 -0.2M1620.9 1096.7l-2.5 -0.2M1629 1094.2l-2.5 -0.2M1637.1 1091.7l-4.5 -0.4M1645.1 1089.2l-2.5 -0.2M1653.2 1086.7l-2.5 -0.2M1661.3 1084.2l-2.5 -0.2M1669.4 1081.7l-4.5 -0.4M1198.9 1102.2l4.5 0.4M1207 1099.7l2.5 0.2M1215.1 1097.2l2.5 0.2M1223.2 1094.7l2.5 0.2M1231.2 1092.2l4.5 0.4M1239.3 1089.7l2.5 0.2M1247.4 1087.2l2.5 0.2M1255.5 1084.6l2.5 0.2M1263.6 1082.1l4.5 0.4M1271.7 1079.6l2.5 0.2M1279.8 1077.1l2.5 0.2M1287.8 1074.6l2.5 0.2M1295.9 1072.1l4.5 0.4M1304 1069.6l2.5 0.2M1312.1 1067l2.5 0.2M1320.2 1064.5l2.5 0.2M1328.3 1062l4.5 0.4M1336.3 1059.5l2.5 0.2M1344.4 1057l2.5 0.2M1352.5 1054.5l2.5 0.2M1360.6 1052l4.5 0.4M1373.8 1051.3l-4.3 1.3M1392 1053.1l-2.4 0.7M1410.3 1054.8l-2.4 0.7M1428.5 1056.6l-2.4 0.7M1446.7 1058.3l-4.3 1.3M1465 1060.1l-2.4 0.7M1483.2 1061.8l-2.4 0.7M1501.5 1063.6l-2.4 0.7M1519.7 1065.3l-4.3 1.3M1537.9 1067.1l-2.4 0.7M1556.2 1068.9l-2.4 0.7M1574.4 1070.6l-2.4 0.7M1592.7 1072.4l-4.3 1.3M1610.9 1074.1l-2.4 0.7M1629.1 1075.9l-2.4 0.7M1647.4 1077.6l-2.4 0.7M1665.6 1079.4l-4.3 1.3"/>
<rect x="1715.3" y="1039.4" width="90.4" height="203.6" fill="#fff" stroke="#0a0a0a" stroke-width="1"/>
<rect x="1719.5" y="1062" width="29.6" height="9.6" fill="#000060" stroke="#000030" stroke-width=".7"/>
<rect x="1719.5" y="1078.7" width="29.6" height="9.6" fill="#66235e" stroke="#33122f" stroke-width=".7"/>
<rect x="1719.5" y="1095.5" width="29.6" height="9.6" fill="#cc465d" stroke="#66232e" stroke-width=".7"/>
<rect x="1719.5" y="1112.2" width="29.6" height="9.6" fill="#e6464a" stroke="#732325" stroke-width=".7"/>
<rect x="1719.5" y="1129" width="29.6" height="9.6" fill="#b32325" stroke="#5a1212" stroke-width=".7"/>
<rect x="1719.5" y="1145.7" width="29.6" height="9.6" fill="#800000" stroke="#400000" stroke-width=".7"/>
<rect x="1719.5" y="1162.4" width="29.6" height="9.6" fill="#702866" stroke="#381433" stroke-width=".7"/>
<rect x="1719.5" y="1179.2" width="29.6" height="9.6" fill="#6050cc" stroke="#302866" stroke-width=".7"/>
<rect x="1719.5" y="1195.9" width="29.6" height="9.6" fill="#7950cc" stroke="#3c2866" stroke-width=".7"/>
<rect x="1719.5" y="1212.7" width="29.6" height="9.6" fill="#bc2866" stroke="#5e1433" stroke-width=".7"/>
<rect x="1719.5" y="1229.4" width="29.6" height="9.6" fill="#ff0000" stroke="#800000" stroke-width=".7"/>
<text transform="translate(1189.6 1112.8) scale(1.12 1)" text-anchor="end">3600</text>
<text transform="translate(1189.6 1144.4) scale(1.12 1)" text-anchor="end">3400</text>
<text transform="translate(1189.6 1175.4) scale(1.12 1)" text-anchor="end">3200</text>
<text transform="translate(1189.6 1207) scale(1.12 1)" text-anchor="end">3000</text>
<text transform="translate(1189.6 1238.1) scale(1.12 1)" text-anchor="end">2800</text>
<text transform="translate(1189.6 1269.6) scale(1.12 1)" text-anchor="end">2600</text>
<text transform="translate(1141 1189.5) rotate(-90) scale(1.07 1)" text-anchor="middle">IC50</text>
<text transform="translate(1189.8 1293) scale(1.12 1)" text-anchor="middle">0</text>
<text transform="translate(1263.5 1300) scale(1.12 1)" text-anchor="middle">20</text>
<text transform="translate(1336.7 1307) scale(1.12 1)" text-anchor="middle">40</text>
<text transform="translate(1408.8 1313.5) scale(1.12 1)" text-anchor="middle">60</text>
<text transform="translate(1482 1320) scale(1.12 1)" text-anchor="middle">80</text>
<text transform="translate(1527.6 1317.3) scale(1.12 1)" text-anchor="middle">0</text>
<text transform="translate(1560.2 1307.5) scale(1.12 1)" text-anchor="middle">40</text>
<text transform="translate(1592.3 1298) scale(1.12 1)" text-anchor="middle">80</text>
<text transform="translate(1625 1287.3) scale(1.12 1)" text-anchor="middle">120</text>
<text transform="translate(1657.8 1277.7) scale(1.12 1)" text-anchor="middle">160</text>
<text transform="translate(1689.2 1268) scale(1.12 1)" text-anchor="middle">200</text>
<text transform="translate(1310.5 1331.5) scale(1.04 1)" text-anchor="middle">Dynamic time</text>
<path d="M221.6 1758.1L549.4 1781.3L681.8 1726.4L681.8 1558.8L354 1535.6L221.6 1590.5Z" fill="#fff"/>
<path class="k" d="M354 1703.2L221.6 1758.1M354 1703.2L681.8 1726.4M354 1703.2L354 1535.6M354 1541.4l5.5 0M354 1546.6l3 0M354 1551.8l3 0M354 1557.1l3 0M354 1562.3l3 0M354 1567.5l5.5 0M354 1572.7l3 0M354 1577.9l3 0M354 1583.2l3 0M354 1588.4l3 0M354 1593.6l5.5 0M354 1598.8l3 0M354 1604l3 0M354 1609.3l3 0M354 1614.5l3 0M354 1619.7l5.5 0M354 1624.9l3 0M354 1630.1l3 0M354 1635.4l3 0M354 1640.6l3 0M354 1645.8l5.5 0M354 1651l3 0M354 1656.3l3 0M354 1661.5l3 0M354 1666.8l3 0M354 1672l5.5 0M354 1677.2l3 0M354 1682.4l3 0M354 1687.7l3 0M354 1692.9l3 0M354 1698.1l5.5 0"/>
<g transform="matrix(0.3098 0.0219 0.1251 -0.0519 234.3 1751.4)" clip-path="url(#cu)"><rect width="1000" height="1000" fill="#2391b3"/><g transform="translate(682.6 683.1) rotate(72.84)"><ellipse rx="987.7" ry="865.9" fill="#1d93ae"/><ellipse rx="978.4" ry="857.8" fill="#1794a9"/><ellipse rx="969.1" ry="849.6" fill="#1195a4"/><ellipse rx="959.6" ry="841.3" fill="#0b969f"/><ellipse rx="950.1" ry="832.9" fill="#04979a"/><ellipse rx="936.9" ry="821.4" fill="#009593"/><ellipse rx="921.3" ry="807.7" fill="#008f8e"/><ellipse rx="905.5" ry="793.8" fill="#008988"/><ellipse rx="889.3" ry="779.6" fill="#008382"/><ellipse rx="872.9" ry="765.2" fill="#007d7c"/><ellipse rx="856.1" ry="750.5" fill="#007776"/><ellipse rx="839" ry="735.5" fill="#007170"/><ellipse rx="821.5" ry="720.2" fill="#006a6a"/><ellipse rx="803.7" ry="704.6" fill="#006464"/><ellipse rx="785.5" ry="688.6" fill="#005e5e"/><ellipse rx="766.8" ry="672.2" fill="#005858"/><ellipse rx="747.7" ry="655.4" fill="#005252"/><ellipse rx="728" ry="638.2" fill="#004c4c"/><ellipse rx="707.3" ry="620" fill="#044648"/><ellipse rx="694.8" ry="609.1" fill="#0b4247"/><ellipse rx="682.2" ry="598.1" fill="#113f46"/><ellipse rx="669.4" ry="586.8" fill="#173c46"/><ellipse rx="656.2" ry="575.3" fill="#1e3845"/><ellipse rx="642.8" ry="563.6" fill="#243545"/><ellipse rx="629.2" ry="551.6" fill="#2a3244"/><ellipse rx="615.2" ry="539.3" fill="#302e44"/><ellipse rx="600.9" ry="526.8" fill="#372b43"/><ellipse rx="586.2" ry="513.9" fill="#3d2843"/><ellipse rx="571.2" ry="500.8" fill="#432442"/><ellipse rx="555.8" ry="487.2" fill="#492142"/><ellipse rx="539.9" ry="473.3" fill="#501e41"/><ellipse rx="523.6" ry="459" fill="#561a40"/><ellipse rx="506.7" ry="444.2" fill="#5c1740"/><ellipse rx="489.2" ry="428.9" fill="#63143f"/><ellipse rx="471.1" ry="413" fill="#69113f"/><ellipse rx="452.3" ry="396.5" fill="#6f0d3e"/><ellipse rx="432.6" ry="379.3" fill="#750a3e"/><ellipse rx="412" ry="361.2" fill="#7c073d"/><ellipse rx="390.4" ry="342.2" fill="#82033d"/><ellipse rx="367.4" ry="322.1" fill="#88003c"/><ellipse rx="328.1" ry="287.6" fill="#880042"/><ellipse rx="283.4" ry="248.5" fill="#880048"/><ellipse rx="230.2" ry="201.8" fill="#88004e"/><ellipse rx="160.2" ry="140.5" fill="#880054"/></g></g>
<g><path fill="url(#g47)" d="M356.8 1661.2l15.5-10.8 15.4-10 15.5-9.1 15.5-8.2 15.5-7.3 15.5-6.5 15.5-5.5 15.5-4.7 15.5-3.8 15.5-2.9 15.4-2 15.5-1.2 15.5-.3 15.5 .7 15.5 1.5 15.5 2.3 15.5 3.3 15.5 4.1 15.4 5.1 15.5 5.9 2.6 .5-15.4-5.8-15.5-5-15.5-4.2-15.5-3.2-15.5-2.3-15.5-1.5-15.5-.6-15.5 .3-15.5 1.2-15.4 2-15.5 3-15.5 3.8-15.5 4.7-15.5 5.6-15.5 6.4-15.5 7.4-15.5 8.2-15.4 9.1-15.5 10-15.5 10.9z"/>
<path fill="url(#g46)" d="M354.2 1660.3l15.4-10.8 15.5-10 15.5-9.1 15.5-8.1 15.5-7.3 15.5-6.5 15.5-5.5 15.5-4.6 15.5-3.8 15.4-2.9 15.5-2 15.5-1.1 15.5-.3 15.5 .7 15.5 1.5 15.5 2.4 15.5 3.3 15.5 4.1 15.4 5.1 15.5 5.9 4.2 .8-15.5-5.9-15.5-5-15.5-4.1-15.5-3.3-15.4-2.3-15.5-1.5-15.5-.6-15.5 .3-15.5 1.1-15.5 2.1-15.5 2.9-15.5 3.8-15.4 4.7-15.5 5.6-15.5 6.4-15.5 7.4-15.5 8.2-15.5 9.1-15.5 10-15.5 10.8z"/>
<path fill="url(#g45)" d="M351.6 1659.5l15.4-10.8 15.5-10 15.5-9 15.5-8.2 15.5-7.2 15.5-6.4 15.5-5.5 15.5-4.7 15.5-3.7 15.4-2.9 15.5-2 15.5-1.1 15.5-.2 15.5 .7 15.5 1.5 15.5 2.5 15.5 3.3 15.4 4.2 15.5 5 15.5 6 4.2 .6-15.5-5.9-15.5-5.1-15.5-4.1-15.5-3.3-15.4-2.4-15.5-1.5-15.5-.6-15.5 .2-15.5 1.2-15.5 2-15.5 2.9-15.5 3.8-15.5 4.7-15.4 5.5-15.5 6.4-15.5 7.4-15.5 8.2-15.5 9-15.5 10-15.5 10.8z"/>
<path fill="url(#g44)" d="M348.9 1658.8l15.5-10.8 15.5-9.9 15.5-9 15.5-8.2 15.5-7.2 15.5-6.4 15.5-5.5 15.5-4.6 15.4-3.7 15.5-2.8 15.5-2 15.5-1.1 15.5-.2 15.5 .7 15.5 1.6 15.5 2.5 15.5 3.3 15.4 4.2 15.5 5.1 15.5 6 4.2 .4-15.5-6-15.5-5-15.5-4.2-15.5-3.3-15.5-2.4-15.4-1.5-15.5-.7-15.5 .2-15.5 1.2-15.5 2-15.5 2.8-15.5 3.8-15.5 4.6-15.5 5.6-15.4 6.4-15.5 7.3-15.5 8.1-15.5 9.1-15.5 9.9-15.5 10.8z"/>
<path fill="url(#g43)" d="M346.3 1658.2l15.5-10.8 15.5-9.8 15.5-9 15.5-8.1 15.5-7.3 15.5-6.3 15.5-5.5 15.4-4.5 15.5-3.7 15.5-2.9 15.5-1.9 15.5-1 15.5-.2 15.5 .7 15.5 1.6 15.5 2.5 15.4 3.3 15.5 4.3 15.5 5.1 15.5 6 4.2 .2-15.5-6-15.5-5.1-15.5-4.2-15.5-3.3-15.5-2.4-15.4-1.6-15.5-.6-15.5 .2-15.5 1.1-15.5 1.9-15.5 2.9-15.5 3.7-15.5 4.6-15.5 5.5-15.4 6.4-15.5 7.3-15.5 8.1-15.5 9.1-15.5 9.9-15.5 10.8z"/>
<path fill="url(#g42)" d="M343.7 1657.7l15.5-10.7 15.5-9.8 15.5-9 15.5-8.1 15.5-7.2 15.5-6.3 15.5-5.4 15.4-4.6 15.5-3.7 15.5-2.8 15.5-1.9 15.5-1 15.5-.1 15.5 .7 15.5 1.6 15.5 2.5 15.4 3.4 15.5 4.3 15.5 5.1 15.5 6 4.2 0-15.5-6-15.5-5.1-15.5-4.2-15.5-3.3-15.5-2.5-15.5-1.6-15.4-.7-15.5 .2-15.5 1.1-15.5 1.9-15.5 2.9-15.5 3.7-15.5 4.6-15.5 5.4-15.5 6.4-15.4 7.2-15.5 8.2-15.5 9-15.5 9.9-15.5 10.7z"/>
<path fill="url(#g41)" d="M341.1 1657.4l15.5-10.7 15.5-9.8 15.5-9 15.5-8 15.5-7.2 15.5-6.3 15.4-5.4 15.5-4.5 15.5-3.7 15.5-2.7 15.5-1.9 15.5-1 15.5-.2 15.5 .8 15.5 1.6 15.4 2.6 15.5 3.4 15.5 4.3 15.5 5.1 15.5 6.1 4.2-.2-15.5-6-15.5-5.2-15.5-4.2-15.5-3.4-15.5-2.5-15.5-1.6-15.5-.7-15.4 .2-15.5 1-15.5 1.9-15.5 2.9-15.5 3.6-15.5 4.6-15.5 5.5-15.5 6.3-15.4 7.2-15.5 8.1-15.5 9-15.5 9.9-15.5 10.7z"/>
<path fill="url(#g40)" d="M338.5 1657.2l15.5-10.7 15.5-9.8 15.5-8.9 15.5-8 15.5-7.2 15.5-6.2 15.4-5.4 15.5-4.5 15.5-3.7 15.5-2.7 15.5-1.9 15.5-.9 15.5-.1 15.5 .7 15.4 1.7 15.5 2.6 15.5 3.4 15.5 4.3 15.5 5.2 15.5 6.1 4.2-.4-15.5-6.1-15.5-5.1-15.5-4.3-15.5-3.4-15.5-2.5-15.5-1.6-15.5-.8-15.4 .2-15.5 1-15.5 1.9-15.5 2.8-15.5 3.6-15.5 4.6-15.5 5.4-15.5 6.3-15.5 7.2-15.4 8.1-15.5 8.9-15.5 9.9-15.5 10.7z"/>
<path fill="url(#g39)" d="M335.9 1657.1l15.5-10.6 15.5-9.8 15.5-8.9 15.5-8 15.5-7.1 15.4-6.3 15.5-5.3 15.5-4.5 15.5-3.6 15.5-2.7 15.5-1.9 15.5-.9 15.5-.1 15.5 .8 15.4 1.7 15.5 2.6 15.5 3.4 15.5 4.4 15.5 5.2 15.5 6.1 4.2-.6-15.5-6.1-15.5-5.1-15.5-4.3-15.5-3.5-15.5-2.5-15.5-1.7-15.5-.7-15.5 .1-15.4 1-15.5 1.9-15.5 2.7-15.5 3.7-15.5 4.5-15.5 5.4-15.5 6.3-15.5 7.1-15.4 8.1-15.5 8.9-15.5 9.8-15.5 10.7z"/>
<path fill="url(#g38)" d="M333.3 1657.2l15.5-10.7 15.5-9.7 15.5-8.9 15.5-8 15.5-7.1 15.4-6.2 15.5-5.3 15.5-4.5 15.5-3.6 15.5-2.7 15.5-1.8 15.5-.9 15.5 0 15.4 .8 15.5 1.7 15.5 2.6 15.5 3.5 15.5 4.4 15.5 5.2 15.5 6.1 4.1-.8-15.4-6.1-15.5-5.2-15.5-4.3-15.5-3.4-15.5-2.6-15.5-1.7-15.5-.8-15.5 .1-15.4 1-15.5 1.8-15.5 2.8-15.5 3.6-15.5 4.5-15.5 5.4-15.5 6.2-15.5 7.2-15.5 8-15.4 8.9-15.5 9.8-15.5 10.7z"/>
<path fill="url(#g37)" d="M330.7 1657.3l15.5-10.6 15.5-9.7 15.5-8.8 15.5-8 15.4-7.1 15.5-6.2 15.5-5.3 15.5-4.4 15.5-3.6 15.5-2.6 15.5-1.8 15.5-.9 15.5-.1 15.4 .9 15.5 1.7 15.5 2.7 15.5 3.5 15.5 4.4 15.5 5.2 15.5 6.2 4.1-1-15.4-6.1-15.5-5.3-15.5-4.3-15.5-3.5-15.5-2.6-15.5-1.7-15.5-.8-15.5 .1-15.5 .9-15.4 1.9-15.5 2.7-15.5 3.6-15.5 4.4-15.5 5.4-15.5 6.2-15.5 7.1-15.5 8-15.5 8.9-15.4 9.8-15.5 10.6z"/>
<path fill="url(#g36)" d="M328.1 1657.6l15.5-10.6 15.5-9.7 15.5-8.8 15.4-7.9 15.5-7.1 15.5-6.1 15.5-5.3 15.5-4.4 15.5-3.6 15.5-2.6 15.5-1.8 15.5-.9 15.4 .1 15.5 .8 15.5 1.8 15.5 2.6 15.5 3.6 15.5 4.4 15.5 5.3 15.5 6.2 4.1-1.2-15.5-6.2-15.4-5.2-15.5-4.4-15.5-3.5-15.5-2.6-15.5-1.7-15.5-.9-15.5 .1-15.5 .9-15.4 1.8-15.5 2.7-15.5 3.5-15.5 4.5-15.5 5.3-15.5 6.2-15.5 7.1-15.5 8-15.5 8.9-15.4 9.7-15.5 10.6z"/>
<path fill="url(#g35)" d="M325.5 1658l15.5-10.5 15.5-9.7 15.5-8.8 15.4-7.9 15.5-7 15.5-6.2 15.5-5.2 15.5-4.4 15.5-3.5 15.5-2.7 15.5-1.7 15.4-.8 15.5 0 15.5 .9 15.5 1.8 15.5 2.7 15.5 3.5 15.5 4.4 15.5 5.4 15.5 6.2 4.1-1.4-15.5-6.2-15.4-5.3-15.5-4.4-15.5-3.5-15.5-2.6-15.5-1.8-15.5-.8-15.5 0-15.5 .9-15.5 1.8-15.4 2.6-15.5 3.6-15.5 4.4-15.5 5.3-15.5 6.2-15.5 7-15.5 8-15.5 8.8-15.5 9.7-15.4 10.6z"/>
<path fill="url(#g34)" d="M322.9 1658.6l15.5-10.6 15.5-9.6 15.4-8.8 15.5-7.9 15.5-7 15.5-6.1 15.5-5.2 15.5-4.4 15.5-3.5 15.5-2.6 15.5-1.7 15.4-.8 15.5 0 15.5 1 15.5 1.8 15.5 2.7 15.5 3.6 15.5 4.4 15.5 5.4 15.5 6.2 4.1-1.6-15.5-6.2-15.5-5.3-15.4-4.4-15.5-3.5-15.5-2.7-15.5-1.8-15.5-.9-15.5 0-15.5 .9-15.5 1.7-15.5 2.7-15.4 3.5-15.5 4.4-15.5 5.3-15.5 6.1-15.5 7.1-15.5 7.9-15.5 8.8-15.5 9.7-15.4 10.6z"/>
<path fill="url(#g33)" d="M320.3 1659.2l15.5-10.5 15.5-9.6 15.4-8.7 15.5-7.9 15.5-7 15.5-6.1 15.5-5.2 15.5-4.3 15.5-3.5 15.5-2.6 15.4-1.7 15.5-.8 15.5 .1 15.5 1 15.5 1.8 15.5 2.7 15.5 3.6 15.5 4.5 15.5 5.4 15.4 6.2 4.2-1.7-15.5-6.3-15.5-5.3-15.4-4.4-15.5-3.6-15.5-2.7-15.5-1.8-15.5-.9-15.5 0-15.5 .8-15.5 1.7-15.5 2.7-15.4 3.4-15.5 4.4-15.5 5.3-15.5 6.1-15.5 7-15.5 7.9-15.5 8.8-15.5 9.7-15.5 10.5z"/>
<path fill="url(#g32)" d="M317.7 1660l15.5-10.5 15.4-9.6 15.5-8.7 15.5-7.8 15.5-7 15.5-6.1 15.5-5.2 15.5-4.3 15.5-3.4 15.5-2.5 15.4-1.7 15.5-.8 15.5 .1 15.5 1 15.5 1.9 15.5 2.7 15.5 3.6 15.5 4.5 15.4 5.4 15.5 6.3 4.2-2-15.5-6.2-15.5-5.4-15.5-4.4-15.4-3.6-15.5-2.7-15.5-1.8-15.5-1-15.5 0-15.5 .8-15.5 1.7-15.5 2.6-15.5 3.4-15.4 4.4-15.5 5.2-15.5 6.1-15.5 7-15.5 7.9-15.5 8.8-15.5 9.6-15.5 10.5z"/>
<path fill="url(#g31)" d="M315.1 1660.9l15.4-10.4 15.5-9.6 15.5-8.7 15.5-7.8 15.5-7 15.5-6 15.5-5.2 15.5-4.3 15.5-3.4 15.4-2.5 15.5-1.6 15.5-.8 15.5 .1 15.5 1 15.5 1.9 15.5 2.8 15.5 3.7 15.5 4.5 15.4 5.4 15.5 6.3 4.2-2.2-15.5-6.2-15.5-5.4-15.5-4.5-15.5-3.6-15.4-2.7-15.5-1.9-15.5-1-15.5 0-15.5 .8-15.5 1.6-15.5 2.6-15.5 3.4-15.4 4.4-15.5 5.2-15.5 6.1-15.5 6.9-15.5 7.9-15.5 8.7-15.5 9.6-15.5 10.5z"/>
<path fill="url(#g30)" d="M312.5 1662l15.4-10.5 15.5-9.5 15.5-8.7 15.5-7.8 15.5-6.9 15.5-6 15.5-5.2 15.5-4.2 15.5-3.4 15.4-2.5 15.5-1.6 15.5-.8 15.5 .2 15.5 1 15.5 1.9 15.5 2.8 15.5 3.7 15.4 4.6 15.5 5.4 15.5 6.3 4.2-2.4-15.5-6.2-15.5-5.4-15.5-4.6-15.5-3.6-15.4-2.7-15.5-1.9-15.5-1-15.5-.1-15.5 .8-15.5 1.6-15.5 2.5-15.5 3.5-15.5 4.3-15.4 5.1-15.5 6.1-15.5 7-15.5 7.8-15.5 8.7-15.5 9.6-15.5 10.5z"/>
<path fill="url(#g29)" d="M309.8 1663.1l15.5-10.4 15.5-9.5 15.5-8.7 15.5-7.7 15.5-6.9 15.5-6 15.5-5.2 15.5-4.2 15.4-3.3 15.5-2.5 15.5-1.6 15.5-.7 15.5 .2 15.5 1 15.5 1.9 15.5 2.9 15.5 3.7 15.4 4.5 15.5 5.5 15.5 6.4 4.2-2.6-15.5-6.3-15.5-5.4-15.5-4.6-15.5-3.6-15.5-2.8-15.4-1.9-15.5-1-15.5-.2-15.5 .8-15.5 1.6-15.5 2.5-15.5 3.4-15.5 4.3-15.5 5.1-15.4 6.1-15.5 6.9-15.5 7.8-15.5 8.7-15.5 9.6-15.5 10.4z"/>
<path fill="url(#g28)" d="M307.2 1664.4l15.5-10.4 15.5-9.5 15.5-8.6 15.5-7.8 15.5-6.8 15.5-6 15.5-5.1 15.4-4.2 15.5-3.3 15.5-2.5 15.5-1.6 15.5-.6 15.5 .1 15.5 1.1 15.5 2 15.5 2.8 15.4 3.8 15.5 4.6 15.5 5.5 15.5 6.3 4.2-2.7-15.5-6.4-15.5-5.4-15.5-4.6-15.5-3.7-15.5-2.8-15.4-1.9-15.5-1-15.5-.2-15.5 .7-15.5 1.6-15.5 2.5-15.5 3.4-15.5 4.2-15.5 5.2-15.4 6-15.5 6.9-15.5 7.8-15.5 8.6-15.5 9.6-15.5 10.4z"/>
<path fill="url(#g27)" d="M304.6 1665.8l15.5-10.4 15.5-9.5 15.5-8.6 15.5-7.7 15.5-6.8 15.5-6 15.5-5 15.4-4.2 15.5-3.3 15.5-2.5 15.5-1.5 15.5-.7 15.5 .3 15.5 1.1 15.5 2 15.5 2.8 15.4 3.8 15.5 4.6 15.5 5.5 15.5 6.4 4.2-2.9-15.5-6.4-15.5-5.5-15.5-4.6-15.5-3.7-15.5-2.8-15.5-2-15.4-1-15.5-.2-15.5 .7-15.5 1.6-15.5 2.4-15.5 3.4-15.5 4.2-15.5 5.1-15.5 6-15.4 6.9-15.5 7.7-15.5 8.7-15.5 9.5-15.5 10.4z"/>
<path fill="url(#g26)" d="M302 1667.3l15.5-10.3 15.5-9.5 15.5-8.6 15.5-7.7 15.5-6.8 15.5-5.9 15.4-5 15.5-4.2 15.5-3.3 15.5-2.4 15.5-1.5 15.5-.6 15.5 .2 15.5 1.1 15.5 2 15.4 2.9 15.5 3.8 15.5 4.7 15.5 5.5 15.5 6.4 4.2-3.1-15.5-6.4-15.5-5.5-15.5-4.6-15.5-3.8-15.5-2.8-15.5-2-15.5-1.1-15.4-.2-15.5 .7-15.5 1.5-15.5 2.5-15.5 3.3-15.5 4.2-15.5 5.1-15.5 6-15.4 6.8-15.5 7.7-15.5 8.7-15.5 9.4-15.5 10.4z"/>
<path fill="url(#g25)" d="M299.4 1668.9l15.5-10.3 15.5-9.4 15.5-8.5 15.5-7.7 15.5-6.8 15.5-5.9 15.4-5 15.5-4.2 15.5-3.2 15.5-2.4 15.5-1.5 15.5-.6 15.5 .3 15.5 1.1 15.4 2.1 15.5 2.9 15.5 3.8 15.5 4.7 15.5 5.5 15.5 6.5 4.2-3.4-15.5-6.4-15.5-5.5-15.5-4.7-15.5-3.7-15.5-2.9-15.5-2-15.5-1.1-15.4-.2-15.5 .6-15.5 1.5-15.5 2.5-15.5 3.2-15.5 4.2-15.5 5.1-15.5 5.9-15.5 6.9-15.4 7.7-15.5 8.6-15.5 9.4-15.5 10.4z"/>
<path fill="url(#g24)" d="M296.8 1670.7l15.5-10.3 15.5-9.4 15.5-8.5 15.5-7.6 15.5-6.8 15.4-5.9 15.5-5 15.5-4.1 15.5-3.2 15.5-2.4 15.5-1.5 15.5-.5 15.5 .3 15.5 1.1 15.4 2.1 15.5 2.9 15.5 3.9 15.5 4.7 15.5 5.5 15.5 6.5 4.2-3.5-15.5-6.5-15.5-5.5-15.5-4.7-15.5-3.8-15.5-2.9-15.5-2-15.5-1.1-15.5-.3-15.4 .6-15.5 1.6-15.5 2.3-15.5 3.3-15.5 4.2-15.5 5-15.5 5.9-15.5 6.8-15.4 7.7-15.5 8.6-15.5 9.4-15.5 10.3z"/>
<path fill="url(#g23)" d="M294.2 1672.6l15.5-10.3 15.5-9.3 15.5-8.5 15.5-7.7 15.5-6.7 15.4-5.8 15.5-5 15.5-4.1 15.5-3.2 15.5-2.3 15.5-1.5 15.5-.6 15.5 .4 15.4 1.2 15.5 2.1 15.5 2.9 15.5 3.9 15.5 4.7 15.5 5.6 15.5 6.5 4.1-3.8-15.4-6.4-15.5-5.6-15.5-4.7-15.5-3.8-15.5-2.9-15.5-2-15.5-1.2-15.5-.3-15.4 .6-15.5 1.5-15.5 2.4-15.5 3.2-15.5 4.1-15.5 5-15.5 5.9-15.5 6.8-15.5 7.7-15.4 8.5-15.5 9.4-15.5 10.3z"/>
<path fill="url(#g22)" d="M291.6 1674.6l15.5-10.2 15.5-9.4 15.5-8.5 15.5-7.5 15.4-6.8 15.5-5.8 15.5-4.9 15.5-4.1 15.5-3.2 15.5-2.3 15.5-1.4 15.5-.5 15.5 .3 15.4 1.2 15.5 2.1 15.5 3 15.5 3.9 15.5 4.7 15.5 5.7 15.5 6.5 4.1-3.9-15.4-6.5-15.5-5.6-15.5-4.7-15.5-3.9-15.5-2.9-15.5-2.1-15.5-1.2-15.5-.3-15.5 .6-15.4 1.5-15.5 2.3-15.5 3.2-15.5 4.1-15.5 5-15.5 5.9-15.5 6.7-15.5 7.7-15.5 8.5-15.4 9.4-15.5 10.3z"/>
<path fill="url(#g21)" d="M289 1676.8l15.5-10.3 15.5-9.3 15.5-8.4 15.4-7.6 15.5-6.7 15.5-5.8 15.5-4.9 15.5-4.1 15.5-3.1 15.5-2.3 15.5-1.4 15.5-.5 15.4 .4 15.5 1.2 15.5 2.1 15.5 3.1 15.5 3.8 15.5 4.8 15.5 5.7 15.5 6.5 4.1-4.1-15.5-6.5-15.4-5.6-15.5-4.8-15.5-3.8-15.5-3-15.5-2.1-15.5-1.2-15.5-.3-15.5 .5-15.4 1.4-15.5 2.4-15.5 3.2-15.5 4-15.5 5-15.5 5.8-15.5 6.8-15.5 7.6-15.5 8.5-15.4 9.3-15.5 10.3z"/>
<path fill="url(#g20)" d="M286.4 1679l15.5-10.2 15.5-9.3 15.5-8.4 15.4-7.6 15.5-6.6 15.5-5.8 15.5-4.9 15.5-4 15.5-3.1 15.5-2.3 15.5-1.4 15.5-.5 15.4 .4 15.5 1.3 15.5 2.2 15.5 3 15.5 3.9 15.5 4.8 15.5 5.7 15.5 6.6 4.1-4.4-15.5-6.5-15.4-5.6-15.5-4.8-15.5-3.9-15.5-3-15.5-2.1-15.5-1.2-15.5-.4-15.5 .5-15.5 1.5-15.4 2.2-15.5 3.2-15.5 4.1-15.5 4.9-15.5 5.8-15.5 6.7-15.5 7.6-15.5 8.5-15.5 9.3-15.4 10.3z"/>
<path fill="url(#g19)" d="M283.8 1681.4l15.5-10.2 15.5-9.2 15.4-8.4 15.5-7.6 15.5-6.6 15.5-5.8 15.5-4.8 15.5-4 15.5-3.1 15.5-2.3 15.5-1.3 15.4-.5 15.5 .4 15.5 1.3 15.5 2.2 15.5 3.1 15.5 3.9 15.5 4.9 15.5 5.7 15.5 6.6 4.1-4.6-15.5-6.5-15.5-5.7-15.4-4.8-15.5-3.9-15.5-3-15.5-2.2-15.5-1.2-15.5-.4-15.5 .5-15.5 1.4-15.5 2.3-15.4 3.1-15.5 4-15.5 4.9-15.5 5.8-15.5 6.7-15.5 7.6-15.5 8.4-15.5 9.3-15.4 10.3z"/>
<path fill="url(#g18)" d="M281.2 1683.9l15.5-10.1 15.5-9.3 15.4-8.4 15.5-7.5 15.5-6.6 15.5-5.7 15.5-4.9 15.5-3.9 15.5-3.1 15.5-2.2 15.4-1.3 15.5-.5 15.5 .5 15.5 1.3 15.5 2.2 15.5 3.1 15.5 4 15.5 4.8 15.5 5.7 15.4 6.7 4.2-4.8-15.5-6.6-15.5-5.7-15.4-4.8-15.5-3.9-15.5-3-15.5-2.2-15.5-1.3-15.5-.4-15.5 .5-15.5 1.3-15.5 2.3-15.4 3.1-15.5 4-15.5 4.9-15.5 5.8-15.5 6.6-15.5 7.6-15.5 8.4-15.5 9.3-15.5 10.2z"/>
<path fill="url(#g17)" d="M278.6 1686.5l15.5-10.1 15.4-9.2 15.5-8.4 15.5-7.4 15.5-6.6 15.5-5.7 15.5-4.9 15.5-3.9 15.5-3.1 15.5-2.1 15.4-1.3 15.5-.5 15.5 .5 15.5 1.4 15.5 2.2 15.5 3.1 15.5 4 15.5 4.9 15.5 5.7 15.4 6.7 4.2-5-15.5-6.6-15.5-5.7-15.5-4.8-15.4-4-15.5-3-15.5-2.2-15.5-1.3-15.5-.5-15.5 .5-15.5 1.3-15.5 2.2-15.5 3.1-15.4 4-15.5 4.9-15.5 5.7-15.5 6.7-15.5 7.5-15.5 8.4-15.5 9.2-15.5 10.2z"/>
<path fill="url(#g16)" d="M276 1689.3l15.5-10.1 15.4-9.2 15.5-8.3 15.5-7.5 15.5-6.5 15.5-5.7 15.5-4.8 15.5-3.9 15.5-3.1 15.4-2.1 15.5-1.3 15.5-.4 15.5 .5 15.5 1.4 15.5 2.2 15.5 3.2 15.5 4 15.5 4.9 15.4 5.8 15.5 6.6 4.2-5.1-15.5-6.6-15.5-5.8-15.5-4.8-15.5-4-15.4-3.1-15.5-2.2-15.5-1.4-15.5-.4-15.5 .4-15.5 1.3-15.5 2.2-15.5 3.1-15.4 3.9-15.5 4.9-15.5 5.7-15.5 6.6-15.5 7.5-15.5 8.4-15.5 9.2-15.5 10.2z"/>
<path fill="url(#g15)" d="M273.4 1692.2l15.4-10.1 15.5-9.2 15.5-8.3 15.5-7.4 15.5-6.5 15.5-5.7 15.5-4.8 15.5-3.9 15.5-3 15.4-2.1 15.5-1.3 15.5-.3 15.5 .5 15.5 1.4 15.5 2.3 15.5 3.1 15.5 4.1 15.4 4.9 15.5 5.8 15.5 6.7 4.2-5.3-15.5-6.7-15.5-5.8-15.5-4.8-15.5-4.1-15.4-3.1-15.5-2.2-15.5-1.4-15.5-.4-15.5 .4-15.5 1.2-15.5 2.2-15.5 3.1-15.5 3.9-15.4 4.8-15.5 5.7-15.5 6.6-15.5 7.5-15.5 8.3-15.5 9.2-15.5 10.1z"/>
<path fill="url(#g14)" d="M270.7 1695.2l15.5-10.1 15.5-9.1 15.5-8.3 15.5-7.4 15.5-6.5 15.5-5.7 15.5-4.7 15.5-3.9 15.4-3 15.5-2.1 15.5-1.2 15.5-.3 15.5 .5 15.5 1.4 15.5 2.3 15.5 3.2 15.5 4.1 15.4 4.9 15.5 5.9 15.5 6.7 4.2-5.5-15.5-6.7-15.5-5.8-15.5-4.9-15.5-4.1-15.5-3.1-15.4-2.3-15.5-1.4-15.5-.5-15.5 .4-15.5 1.3-15.5 2.1-15.5 3.1-15.5 3.9-15.4 4.8-15.5 5.6-15.5 6.6-15.5 7.4-15.5 8.4-15.5 9.2-15.5 10z"/>
<path fill="url(#g13)" d="M268.1 1698.3l15.5-10 15.5-9.2 15.5-8.2 15.5-7.4 15.5-6.5 15.5-5.6 15.5-4.7 15.5-3.9 15.4-2.9 15.5-2.1 15.5-1.2 15.5-.3 15.5 .5 15.5 1.5 15.5 2.3 15.5 3.2 15.4 4.1 15.5 5 15.5 5.9 15.5 6.7 4.2-5.7-15.5-6.7-15.5-5.8-15.5-5-15.5-4-15.5-3.2-15.4-2.3-15.5-1.4-15.5-.5-15.5 .3-15.5 1.3-15.5 2.1-15.5 3-15.5 3.9-15.5 4.7-15.4 5.7-15.5 6.5-15.5 7.4-15.5 8.3-15.5 9.2-15.5 10.1z"/>
<path fill="url(#g12)" d="M265.5 1701.6l15.5-10 15.5-9.2 15.5-8.2 15.5-7.3 15.5-6.5 15.5-5.6 15.5-4.7 15.4-3.8 15.5-3 15.5-2 15.5-1.2 15.5-.3 15.5 .6 15.5 1.5 15.5 2.3 15.5 3.3 15.4 4.1 15.5 5 15.5 5.9 15.5 6.7 4.2-5.9-15.5-6.7-15.5-5.9-15.5-4.9-15.5-4.1-15.5-3.2-15.5-2.3-15.4-1.4-15.5-.6-15.5 .3-15.5 1.3-15.5 2.1-15.5 2.9-15.5 3.9-15.5 4.7-15.5 5.7-15.4 6.5-15.5 7.4-15.5 8.2-15.5 9.2-15.5 10z"/>
<path fill="url(#g11)" d="M262.9 1704.9l15.5-9.9 15.5-9.1 15.5-8.2 15.5-7.4 15.5-6.4 15.5-5.6 15.4-4.7 15.5-3.7 15.5-3 15.5-2 15.5-1.1 15.5-.3 15.5 .6 15.5 1.5 15.5 2.4 15.4 3.2 15.5 4.2 15.5 5 15.5 5.9 15.5 6.8 4.2-6.1-15.5-6.8-15.5-5.8-15.5-5-15.5-4.1-15.5-3.3-15.5-2.3-15.4-1.4-15.5-.6-15.5 .3-15.5 1.2-15.5 2-15.5 3-15.5 3.8-15.5 4.8-15.5 5.6-15.4 6.4-15.5 7.4-15.5 8.2-15.5 9.2-15.5 10z"/>
<path fill="url(#g10)" d="M260.3 1708.4l15.5-9.9 15.5-9.1 15.5-8.2 15.5-7.3 15.5-6.4 15.5-5.5 15.4-4.7 15.5-3.8 15.5-2.8 15.5-2.1 15.5-1.1 15.5-.2 15.5 .6 15.5 1.5 15.4 2.4 15.5 3.3 15.5 4.2 15.5 5 15.5 6 15.5 6.8 4.2-6.3-15.5-6.8-15.5-5.9-15.5-5-15.5-4.1-15.5-3.3-15.5-2.4-15.5-1.4-15.4-.6-15.5 .3-15.5 1.1-15.5 2.1-15.5 2.9-15.5 3.8-15.5 4.7-15.5 5.6-15.5 6.4-15.4 7.4-15.5 8.2-15.5 9.1-15.5 10z"/>
<path fill="url(#g9)" d="M257.7 1712l15.5-9.9 15.5-9 15.5-8.2 15.5-7.3 15.5-6.4 15.4-5.5 15.5-4.6 15.5-3.7 15.5-2.9 15.5-2 15.5-1.1 15.5-.2 15.5 .6 15.5 1.6 15.4 2.4 15.5 3.3 15.5 4.2 15.5 5.1 15.5 5.9 15.5 6.9 4.2-6.5-15.5-6.8-15.5-5.9-15.5-5.1-15.5-4.1-15.5-3.3-15.5-2.4-15.5-1.5-15.5-.6-15.4 .2-15.5 1.2-15.5 2-15.5 2.9-15.5 3.8-15.5 4.7-15.5 5.5-15.5 6.5-15.4 7.3-15.5 8.2-15.5 9-15.5 10z"/>
<path fill="url(#g8)" d="M255.1 1715.8l15.5-9.9 15.5-9 15.5-8.2 15.5-7.2 15.5-6.4 15.4-5.5 15.5-4.6 15.5-3.7 15.5-2.9 15.5-1.9 15.5-1.1 15.5-.2 15.5 .7 15.4 1.6 15.5 2.4 15.5 3.4 15.5 4.2 15.5 5.1 15.5 5.9 15.5 6.9 4.2-6.7-15.5-6.8-15.5-6-15.5-5-15.5-4.2-15.5-3.3-15.5-2.4-15.5-1.5-15.5-.7-15.4 .3-15.5 1.1-15.5 2-15.5 2.9-15.5 3.7-15.5 4.7-15.5 5.5-15.5 6.4-15.5 7.3-15.4 8.2-15.5 9-15.5 9.9z"/>
<path fill="url(#g7)" d="M252.5 1719.6l15.5-9.8 15.5-9 15.5-8.1 15.5-7.3 15.4-6.3 15.5-5.5 15.5-4.6 15.5-3.7 15.5-2.8 15.5-1.9 15.5-1.1 15.5-.1 15.5 .7 15.4 1.6 15.5 2.5 15.5 3.3 15.5 4.2 15.5 5.2 15.5 6 15.5 6.9 4.1-6.9-15.4-6.9-15.5-6-15.5-5-15.5-4.2-15.5-3.4-15.5-2.4-15.5-1.5-15.5-.7-15.5 .2-15.4 1.1-15.5 2-15.5 2.8-15.5 3.8-15.5 4.6-15.5 5.5-15.5 6.4-15.5 7.2-15.5 8.2-15.4 9-15.5 9.9z"/>
<path fill="url(#g6)" d="M249.9 1723.6l15.5-9.8 15.5-9 15.5-8.1 15.4-7.2 15.5-6.3 15.5-5.4 15.5-4.6 15.5-3.7 15.5-2.8 15.5-1.9 15.5-1 15.5-.1 15.4 .7 15.5 1.6 15.5 2.5 15.5 3.4 15.5 4.3 15.5 5.1 15.5 6 15.5 6.9 4.1-7.1-15.5-6.8-15.4-6-15.5-5.1-15.5-4.3-15.5-3.3-15.5-2.5-15.5-1.5-15.5-.7-15.5 .2-15.4 1-15.5 2-15.5 2.8-15.5 3.7-15.5 4.6-15.5 5.5-15.5 6.3-15.5 7.3-15.5 8.1-15.4 9-15.5 9.9z"/>
<path fill="url(#g5)" d="M247.3 1727.7l15.5-9.8 15.5-8.9 15.5-8.1 15.4-7.2 15.5-6.3 15.5-5.4 15.5-4.5 15.5-3.7 15.5-2.7 15.5-1.9 15.5-1 15.5-.1 15.4 .7 15.5 1.7 15.5 2.5 15.5 3.4 15.5 4.3 15.5 5.1 15.5 6.1 15.5 6.9 4.1-7.3-15.5-6.9-15.4-6-15.5-5.1-15.5-4.3-15.5-3.3-15.5-2.5-15.5-1.6-15.5-.7-15.5 .1-15.5 1.1-15.4 1.9-15.5 2.8-15.5 3.7-15.5 4.6-15.5 5.4-15.5 6.4-15.5 7.2-15.5 8.1-15.5 9-15.4 9.8z"/>
<path fill="url(#g4)" d="M244.7 1732l15.5-9.8 15.5-8.9 15.4-8.1 15.5-7.1 15.5-6.3 15.5-5.4 15.5-4.5 15.5-3.6 15.5-2.8 15.5-1.8 15.5-1 15.4-.1 15.5 .8 15.5 1.6 15.5 2.6 15.5 3.4 15.5 4.3 15.5 5.2 15.5 6.1 15.5 7 4.1-7.5-15.5-7-15.5-6-15.4-5.2-15.5-4.2-15.5-3.4-15.5-2.5-15.5-1.7-15.5-.7-15.5 .1-15.5 1.1-15.5 1.9-15.4 2.7-15.5 3.7-15.5 4.6-15.5 5.4-15.5 6.3-15.5 7.2-15.5 8.1-15.5 8.9-15.4 9.9z"/>
<path fill="url(#g3)" d="M242.1 1736.3l15.5-9.8 15.5-8.8 15.4-8.1 15.5-7.1 15.5-6.2 15.5-5.4 15.5-4.5 15.5-3.6 15.5-2.7 15.5-1.8 15.4-1 15.5-.1 15.5 .8 15.5 1.7 15.5 2.6 15.5 3.5 15.5 4.3 15.5 5.2 15.5 6.1 15.4 7 4.2-7.7-15.5-6.9-15.5-6.1-15.4-5.2-15.5-4.3-15.5-3.4-15.5-2.5-15.5-1.7-15.5-.7-15.5 .1-15.5 1-15.5 1.8-15.4 2.8-15.5 3.6-15.5 4.6-15.5 5.4-15.5 6.2-15.5 7.2-15.5 8.1-15.5 8.9-15.5 9.8z"/>
<path fill="url(#g2)" d="M239.5 1740.8l15.5-9.7 15.4-8.9 15.5-8 15.5-7.1 15.5-6.2 15.5-5.4 15.5-4.4 15.5-3.6 15.5-2.7 15.5-1.8 15.4-.9 15.5-.1 15.5 .8 15.5 1.8 15.5 2.6 15.5 3.4 15.5 4.4 15.5 5.2 15.5 6.2 15.4 7 4.2-7.9-15.5-7-15.5-6.1-15.5-5.2-15.4-4.3-15.5-3.4-15.5-2.6-15.5-1.7-15.5-.8-15.5 .1-15.5 1-15.5 1.8-15.5 2.8-15.4 3.6-15.5 4.5-15.5 5.4-15.5 6.2-15.5 7.2-15.5 8-15.5 8.9-15.5 9.8z"/>
<path fill="url(#g1)" d="M236.9 1745.4l15.5-9.7 15.4-8.9 15.5-7.9 15.5-7.1 15.5-6.2 15.5-5.3 15.5-4.5 15.5-3.5 15.5-2.7 15.4-1.8 15.5-.9 15.5 0 15.5 .9 15.5 1.7 15.5 2.6 15.5 3.5 15.5 4.4 15.5 5.3 15.4 6.1 15.5 7.1 4.2-8.1-15.5-7-15.5-6.1-15.5-5.3-15.5-4.3-15.4-3.5-15.5-2.5-15.5-1.8-15.5-.8-15.5 .1-15.5 .9-15.5 1.9-15.5 2.7-15.4 3.6-15.5 4.4-15.5 5.4-15.5 6.2-15.5 7.2-15.5 8-15.5 8.8-15.5 9.8z"/>
<path fill="url(#g0)" d="M234.3 1750.1l15.4-9.7 15.5-8.8 15.5-7.9 15.5-7.1 15.5-6.2 15.5-5.2 15.5-4.5 15.5-3.5 15.5-2.6 15.4-1.8 15.5-.9 15.5 0 15.5 .9 15.5 1.8 15.5 2.6 15.5 3.5 15.5 4.5 15.4 5.3 15.5 6.1 15.5 7.1 4.2-8.3-15.5-7-15.5-6.2-15.5-5.2-15.5-4.4-15.4-3.5-15.5-2.6-15.5-1.7-15.5-.8-15.5 0-15.5 .9-15.5 1.8-15.5 2.7-15.5 3.6-15.4 4.4-15.5 5.3-15.5 6.3-15.5 7.1-15.5 7.9-15.5 8.9-15.5 9.7z"/></g>
<path class="bl" d="M234.3 1750.1L243.9 1744L253.6 1738.1L263.3 1732.7L273 1727.5L282.7 1722.7L292.3 1718.3L302 1714.2L311.7 1710.4L321.4 1707L331.1 1704L340.7 1701.2L350.4 1698.9L360.1 1696.8L369.8 1695.1L379.5 1693.8L389.1 1692.8L398.8 1692.2L408.5 1691.8L418.2 1691.9L427.9 1692.3L437.5 1693L447.2 1694L456.9 1695.5L466.6 1697.2L476.3 1699.3L485.9 1701.8L495.6 1704.6L505.3 1707.7L515 1711.2L524.7 1715L534.3 1719.2L544 1723.7L547.9 1715.9L551.8 1708.4L555.8 1701.2L559.7 1694.2L563.6 1687.6L567.5 1681.2L571.4 1675.1L575.3 1669.2L579.2 1663.7L583.1 1658.4L587 1653.4L590.9 1648.7L594.9 1644.2L598.8 1640L602.7 1636.1L606.6 1632.5L610.5 1629.2L614.4 1626.1L618.3 1623.3L622.2 1620.8L626.1 1618.6L630 1616.6L634 1615L637.9 1613.6L641.8 1612.4L645.7 1611.6L649.6 1611L653.5 1610.7L657.4 1610.7L661.3 1611L665.2 1611.5L669.1 1612.3L659.5 1608.6L649.8 1605.1L640.1 1602L630.4 1599.3L620.7 1596.9L611.1 1594.8L601.4 1593.1L591.7 1591.8L582 1590.7L572.3 1590.1L562.7 1589.7L553 1589.7L543.3 1590.1L533.6 1590.8L523.9 1591.8L514.3 1593.2L504.6 1594.9L494.9 1597L485.2 1599.4L475.5 1602.2L465.9 1605.3L456.2 1608.8L446.5 1612.6L436.8 1616.7L427.1 1621.2L417.5 1626.1L407.8 1631.2L398.1 1636.8L388.4 1642.6L378.7 1648.8L369.1 1655.4L359.4 1662.3L355.5 1660.7L351.6 1659.5L347.6 1658.5L343.7 1657.7L339.8 1657.3L335.9 1657.1L332 1657.2L328.1 1657.6L324.2 1658.3L320.3 1659.2L316.4 1660.5L312.5 1662L308.5 1663.7L304.6 1665.8L300.7 1668.1L296.8 1670.7L292.9 1673.6L289 1676.8L285.1 1680.2L281.2 1683.9L277.3 1687.9L273.4 1692.2L269.4 1696.7L265.5 1701.6L261.6 1706.7L257.7 1712L253.8 1717.7L249.9 1723.6L246 1729.8L242.1 1736.3L238.2 1743.1Z"/>
<path class="k" d="M221.6 1758.1L549.4 1781.3M549.4 1781.3L681.8 1726.4M221.6 1758.1L221.6 1590.5M549.4 1781.3L549.4 1613.7M681.8 1726.4L681.8 1558.8M221.6 1590.5L549.4 1613.7M549.4 1613.7L681.8 1558.8M221.6 1590.5L354 1535.6M354 1535.6L681.8 1558.8M221.6 1596.3l5.5 0M221.6 1601.5l3 0M221.6 1606.7l3 0M221.6 1612l3 0M221.6 1617.2l3 0M221.6 1622.4l5.5 0M221.6 1627.6l3 0M221.6 1632.8l3 0M221.6 1638.1l3 0M221.6 1643.3l3 0M221.6 1648.5l5.5 0M221.6 1653.7l3 0M221.6 1658.9l3 0M221.6 1664.2l3 0M221.6 1669.4l3 0M221.6 1674.6l5.5 0M221.6 1679.8l3 0M221.6 1685l3 0M221.6 1690.3l3 0M221.6 1695.5l3 0M221.6 1700.7l5.5 0M221.6 1705.9l3 0M221.6 1711.2l3 0M221.6 1716.4l3 0M221.6 1721.7l3 0M221.6 1726.9l5.5 0M221.6 1732.1l3 0M221.6 1737.3l3 0M221.6 1742.6l3 0M221.6 1747.8l3 0M221.6 1753l5.5 0M549.4 1619.5l-5.5 0M549.4 1624.7l-3 0M549.4 1629.9l-3 0M549.4 1635.2l-3 0M549.4 1640.4l-3 0M549.4 1645.6l-5.5 0M549.4 1650.8l-3 0M549.4 1656l-3 0M549.4 1661.3l-3 0M549.4 1666.5l-3 0M549.4 1671.7l-5.5 0M549.4 1676.9l-3 0M549.4 1682.1l-3 0M549.4 1687.4l-3 0M549.4 1692.6l-3 0M549.4 1697.8l-5.5 0M549.4 1703l-3 0M549.4 1708.2l-3 0M549.4 1713.5l-3 0M549.4 1718.7l-3 0M549.4 1723.9l-5.5 0M549.4 1729.1l-3 0M549.4 1734.4l-3 0M549.4 1739.6l-3 0M549.4 1744.9l-3 0M549.4 1750.1l-5.5 0M549.4 1755.3l-3 0M549.4 1760.5l-3 0M549.4 1765.8l-3 0M549.4 1771l-3 0M549.4 1776.2l-5.5 0M681.8 1564.6l-5.5 0M681.8 1569.8l-3 0M681.8 1575l-3 0M681.8 1580.3l-3 0M681.8 1585.5l-3 0M681.8 1590.7l-5.5 0M681.8 1595.9l-3 0M681.8 1601.1l-3 0M681.8 1606.4l-3 0M681.8 1611.6l-3 0M681.8 1616.8l-5.5 0M681.8 1622l-3 0M681.8 1627.2l-3 0M681.8 1632.5l-3 0M681.8 1637.7l-3 0M681.8 1642.9l-5.5 0M681.8 1648.1l-3 0M681.8 1653.3l-3 0M681.8 1658.6l-3 0M681.8 1663.8l-3 0M681.8 1669l-5.5 0M681.8 1674.2l-3 0M681.8 1679.5l-3 0M681.8 1684.7l-3 0M681.8 1690l-3 0M681.8 1695.2l-5.5 0M681.8 1700.4l-3 0M681.8 1705.6l-3 0M681.8 1710.9l-3 0M681.8 1716.1l-3 0M681.8 1721.3l-5.5 0M230.6 1758.7l4.2 -1.7M243 1759.6l2.3 -1M255.4 1760.5l2.3 -1M267.8 1761.4l2.3 -1M280.2 1762.2l2.3 -1M292.6 1763.1l4.2 -1.7M305 1764l2.3 -1M317.4 1764.9l2.3 -1M329.7 1765.8l2.3 -1M342.1 1766.6l2.3 -1M354.5 1767.5l4.2 -1.7M366.9 1768.4l2.3 -1M379.3 1769.3l2.3 -1M391.7 1770.1l2.3 -1M404.1 1771l2.3 -1M416.5 1771.9l4.2 -1.7M428.9 1772.8l2.3 -1M441.3 1773.6l2.3 -1M453.6 1774.5l2.3 -1M466 1775.4l2.3 -1M478.4 1776.3l4.2 -1.7M490.8 1777.2l2.3 -1M503.2 1778l2.3 -1M515.6 1778.9l2.3 -1M528 1779.8l2.3 -1M540.4 1780.7l4.2 -1.7M553 1779.8l-4.5 -0.3M559.3 1777.2l-2.5 -0.2M565.6 1774.6l-2.5 -0.2M571.8 1772l-2.5 -0.2M578.1 1769.4l-4.5 -0.3M584.3 1766.8l-2.5 -0.2M590.6 1764.2l-2.5 -0.2M596.8 1761.6l-2.5 -0.2M603.1 1759l-4.5 -0.3M609.3 1756.4l-2.5 -0.2M615.6 1753.8l-2.5 -0.2M621.9 1751.3l-2.5 -0.2M628.1 1748.7l-4.5 -0.3M634.4 1746.1l-2.5 -0.2M640.6 1743.5l-2.5 -0.2M646.9 1740.9l-2.5 -0.2M653.1 1738.3l-4.5 -0.3M659.4 1735.7l-2.5 -0.2M665.6 1733.1l-2.5 -0.2M671.9 1730.5l-2.5 -0.2M678.2 1727.9l-4.5 -0.3M230.6 1591.1l4.2 -1.7M243 1592l2.3 -1M255.4 1592.9l2.3 -1M267.8 1593.8l2.3 -1M280.2 1594.6l2.3 -1M292.6 1595.5l4.2 -1.7M305 1596.4l2.3 -1M317.4 1597.3l2.3 -1M329.7 1598.2l2.3 -1M342.1 1599l2.3 -1M354.5 1599.9l4.2 -1.7M366.9 1600.8l2.3 -1M379.3 1601.7l2.3 -1M391.7 1602.5l2.3 -1M404.1 1603.4l2.3 -1M416.5 1604.3l4.2 -1.7M428.9 1605.2l2.3 -1M441.3 1606l2.3 -1M453.6 1606.9l2.3 -1M466 1607.8l2.3 -1M478.4 1608.7l4.2 -1.7M490.8 1609.6l2.3 -1M503.2 1610.4l2.3 -1M515.6 1611.3l2.3 -1M528 1612.2l2.3 -1M540.4 1613.1l4.2 -1.7M553 1612.2l-4.5 -0.3M559.3 1609.6l-2.5 -0.2M565.6 1607l-2.5 -0.2M571.8 1604.4l-2.5 -0.2M578.1 1601.8l-4.5 -0.3M584.3 1599.2l-2.5 -0.2M590.6 1596.6l-2.5 -0.2M596.8 1594l-2.5 -0.2M603.1 1591.4l-4.5 -0.3M609.3 1588.8l-2.5 -0.2M615.6 1586.2l-2.5 -0.2M621.9 1583.7l-2.5 -0.2M628.1 1581.1l-4.5 -0.3M634.4 1578.5l-2.5 -0.2M640.6 1575.9l-2.5 -0.2M646.9 1573.3l-2.5 -0.2M653.1 1570.7l-4.5 -0.3M659.4 1568.1l-2.5 -0.2M665.6 1565.5l-2.5 -0.2M671.9 1562.9l-2.5 -0.2M678.2 1560.3l-4.5 -0.3M225.2 1589l4.5 0.3M231.5 1586.4l2.5 0.2M237.8 1583.8l2.5 0.2M244 1581.2l2.5 0.2M250.3 1578.6l4.5 0.3M256.5 1576l2.5 0.2M262.8 1573.4l2.5 0.2M269 1570.8l2.5 0.2M275.3 1568.2l4.5 0.3M281.5 1565.6l2.5 0.2M287.8 1563l2.5 0.2M294.1 1560.5l2.5 0.2M300.3 1557.9l4.5 0.3M306.6 1555.3l2.5 0.2M312.8 1552.7l2.5 0.2M319.1 1550.1l2.5 0.2M325.3 1547.5l4.5 0.3M331.6 1544.9l2.5 0.2M337.8 1542.3l2.5 0.2M344.1 1539.7l2.5 0.2M350.4 1537.1l4.5 0.3M363 1536.2l-4.2 1.7M375.4 1537.1l-2.3 1M387.8 1538l-2.3 1M400.2 1538.9l-2.3 1M412.6 1539.7l-2.3 1M425 1540.6l-4.2 1.7M437.4 1541.5l-2.3 1M449.8 1542.4l-2.3 1M462.1 1543.3l-2.3 1M474.5 1544.1l-2.3 1M486.9 1545l-4.2 1.7M499.3 1545.9l-2.3 1M511.7 1546.8l-2.3 1M524.1 1547.6l-2.3 1M536.5 1548.5l-2.3 1M548.9 1549.4l-4.2 1.7M561.3 1550.3l-2.3 1M573.7 1551.1l-2.3 1M586 1552l-2.3 1M598.4 1552.9l-2.3 1M610.8 1553.8l-4.2 1.7M623.2 1554.7l-2.3 1M635.6 1555.5l-2.3 1M648 1556.4l-2.3 1M660.4 1557.3l-2.3 1M672.8 1558.2l-4.2 1.7"/>
<rect x="733.2" y="1522.3" width="66.4" height="203.6" fill="#fff" stroke="#0a0a0a" stroke-width="1"/>
<rect x="737.4" y="1544.9" width="29.6" height="9.6" fill="#8080ff" stroke="#404080" stroke-width=".7"/>
<rect x="737.4" y="1561.6" width="29.6" height="9.6" fill="#4d8ad5" stroke="#26456a" stroke-width=".7"/>
<rect x="737.4" y="1578.4" width="29.6" height="9.6" fill="#1a93ab" stroke="#0d4a56" stroke-width=".7"/>
<rect x="737.4" y="1595.1" width="29.6" height="9.6" fill="#008886" stroke="#004443" stroke-width=".7"/>
<rect x="737.4" y="1611.9" width="29.6" height="9.6" fill="#006867" stroke="#003434" stroke-width=".7"/>
<rect x="737.4" y="1628.6" width="29.6" height="9.6" fill="#004848" stroke="#002424" stroke-width=".7"/>
<rect x="737.4" y="1645.3" width="29.6" height="9.6" fill="#362b43" stroke="#1b1622" stroke-width=".7"/>
<rect x="737.4" y="1662.1" width="29.6" height="9.6" fill="#6d0e3e" stroke="#36071f" stroke-width=".7"/>
<rect x="737.4" y="1678.8" width="29.6" height="9.6" fill="#88004d" stroke="#440026" stroke-width=".7"/>
<rect x="737.4" y="1695.6" width="29.6" height="9.6" fill="#88006e" stroke="#440037" stroke-width=".7"/>
<rect x="737.4" y="1712.3" width="29.6" height="9.6" fill="#880090" stroke="#440048" stroke-width=".7"/>
<text transform="translate(511.5 1496.4) scale(1.04 1)" text-anchor="middle">Dynamic time=35.0</text>
<text transform="translate(175 1677) rotate(-90) scale(1.07 1)" text-anchor="middle">Yield</text>
<text transform="translate(220.9 1781.5) scale(1.12 1)" text-anchor="middle">12</text>
<text transform="translate(283 1785.7) scale(1.12 1)" text-anchor="middle">17</text>
<text transform="translate(345.3 1789.9) scale(1.12 1)" text-anchor="middle">22</text>
<text transform="translate(407 1794.5) scale(1.12 1)" text-anchor="middle">27</text>
<text transform="translate(469 1798) scale(1.12 1)" text-anchor="middle">32</text>
<text transform="translate(530.5 1802.5) scale(1.12 1)" text-anchor="middle">37</text>
<text transform="translate(574 1798.6) scale(1.12 1)" text-anchor="middle">0</text>
<text transform="translate(599 1788.3) scale(1.12 1)" text-anchor="middle">40</text>
<text transform="translate(623.8 1777.6) scale(1.12 1)" text-anchor="middle">80</text>
<text transform="translate(649 1767.3) scale(1.12 1)" text-anchor="middle">120</text>
<text transform="translate(674.4 1756.5) scale(1.12 1)" text-anchor="middle">160</text>
<text transform="translate(699.2 1746.3) scale(1.12 1)" text-anchor="middle">200</text>
<path d="M1193.3 1752.1L1498.8 1782.3L1674.8 1730L1674.8 1563.5L1369.3 1533.3L1193.3 1585.6Z" fill="#fff"/>
<path class="k" d="M1369.3 1699.8L1193.3 1752.1M1369.3 1699.8L1674.8 1730M1369.3 1699.8L1369.3 1533.3M1369.3 1538.6l5.5 0M1369.3 1543.9l3 0M1369.3 1549.1l3 0M1369.3 1554.4l3 0M1369.3 1559.6l3 0M1369.3 1564.9l5.5 0M1369.3 1570.2l3 0M1369.3 1575.4l3 0M1369.3 1580.7l3 0M1369.3 1585.9l3 0M1369.3 1591.2l5.5 0M1369.3 1596.4l3 0M1369.3 1601.7l3 0M1369.3 1606.9l3 0M1369.3 1612.2l3 0M1369.3 1617.4l5.5 0M1369.3 1622.7l3 0M1369.3 1627.9l3 0M1369.3 1633.2l3 0M1369.3 1638.4l3 0M1369.3 1643.7l5.5 0M1369.3 1649l3 0M1369.3 1654.2l3 0M1369.3 1659.5l3 0M1369.3 1664.7l3 0M1369.3 1670l5.5 0M1369.3 1675.3l3 0M1369.3 1680.5l3 0M1369.3 1685.8l3 0M1369.3 1691l3 0M1369.3 1696.3l5.5 0"/>
<g transform="matrix(0.2887 0.0285 0.1663 -0.0494 1206.5 1747.3)" clip-path="url(#cu)"><rect width="1000" height="1000" fill="#5864ff"/><g transform="translate(681.7 743.3) rotate(-27.93)"><ellipse rx="722.3" ry="1060.7" fill="#5961f9"/><ellipse rx="719.3" ry="1056.2" fill="#5a5ff2"/><ellipse rx="716.2" ry="1051.8" fill="#5b5cec"/><ellipse rx="713.1" ry="1047.3" fill="#5c5ae5"/><ellipse rx="710.1" ry="1042.7" fill="#5d57df"/><ellipse rx="707" ry="1038.2" fill="#5e55d8"/><ellipse rx="703.8" ry="1033.6" fill="#5f52d2"/><ellipse rx="700.7" ry="1029" fill="#6050cc"/><ellipse rx="697.6" ry="1024.4" fill="#614dc5"/><ellipse rx="694.4" ry="1019.8" fill="#624bbf"/><ellipse rx="691.3" ry="1015.2" fill="#6348b8"/><ellipse rx="688.1" ry="1010.5" fill="#6446b2"/><ellipse rx="684.9" ry="1005.8" fill="#6543ab"/><ellipse rx="681.7" ry="1001.1" fill="#6641a5"/><ellipse rx="678.5" ry="996.4" fill="#673e9f"/><ellipse rx="675.2" ry="991.6" fill="#683c98"/><ellipse rx="672" ry="986.8" fill="#693992"/><ellipse rx="668.7" ry="982" fill="#6a378b"/><ellipse rx="665.4" ry="977.2" fill="#6b3485"/><ellipse rx="662.1" ry="972.4" fill="#6c327e"/><ellipse rx="658.8" ry="967.5" fill="#6d2f78"/><ellipse rx="655.5" ry="962.6" fill="#6e2d72"/><ellipse rx="652.1" ry="957.7" fill="#6f2a6b"/><ellipse rx="648.7" ry="952.7" fill="#702865"/><ellipse rx="645.4" ry="947.7" fill="#71255e"/><ellipse rx="642" ry="942.7" fill="#722258"/><ellipse rx="638.5" ry="937.7" fill="#732052"/><ellipse rx="635.1" ry="932.7" fill="#741d4b"/><ellipse rx="631.6" ry="927.6" fill="#751b45"/><ellipse rx="628.1" ry="922.5" fill="#76183e"/><ellipse rx="624.6" ry="917.3" fill="#771638"/><ellipse rx="621.1" ry="912.2" fill="#781331"/><ellipse rx="617.6" ry="907" fill="#79112b"/><ellipse rx="614" ry="901.7" fill="#7a0e25"/><ellipse rx="610.4" ry="896.5" fill="#7b0c1e"/><ellipse rx="606.8" ry="891.2" fill="#7c0918"/><ellipse rx="603.2" ry="885.9" fill="#7d0711"/><ellipse rx="599.6" ry="880.5" fill="#7e040b"/><ellipse rx="595.9" ry="875.1" fill="#7f0204"/><ellipse rx="587" ry="862.1" fill="#850404"/><ellipse rx="579.9" ry="851.6" fill="#8c0808"/><ellipse rx="572.7" ry="841" fill="#920c0d"/><ellipse rx="565.3" ry="830.2" fill="#981011"/><ellipse rx="557.9" ry="819.3" fill="#9e1516"/><ellipse rx="550.4" ry="808.3" fill="#a4191a"/><ellipse rx="542.8" ry="797.1" fill="#aa1d1e"/><ellipse rx="535.1" ry="785.7" fill="#b02123"/><ellipse rx="527.2" ry="774.2" fill="#b62527"/><ellipse rx="519.3" ry="762.5" fill="#bc2a2c"/><ellipse rx="511.2" ry="750.7" fill="#c22e30"/><ellipse rx="503" ry="738.6" fill="#c83234"/><ellipse rx="494.6" ry="726.3" fill="#ce3639"/><ellipse rx="486.1" ry="713.9" fill="#d53b3d"/><ellipse rx="477.5" ry="701.2" fill="#db3f42"/><ellipse rx="468.7" ry="688.2" fill="#e14346"/><ellipse rx="459.7" ry="675.1" fill="#e7474a"/><ellipse rx="450.5" ry="661.6" fill="#ed4b4f"/><ellipse rx="441.2" ry="647.9" fill="#f35053"/><ellipse rx="431.7" ry="633.9" fill="#f95458"/><ellipse rx="411.9" ry="604.9" fill="#f3545c"/><ellipse rx="406.5" ry="597" fill="#ec525c"/><ellipse rx="401.1" ry="589.1" fill="#e64f5c"/><ellipse rx="395.6" ry="581" fill="#df4d5c"/><ellipse rx="390" ry="572.8" fill="#d94b5d"/><ellipse rx="384.4" ry="564.5" fill="#d3495d"/><ellipse rx="378.6" ry="556" fill="#cc465d"/><ellipse rx="372.8" ry="547.5" fill="#c6445d"/><ellipse rx="366.9" ry="538.8" fill="#bf425d"/><ellipse rx="360.8" ry="529.9" fill="#b9405d"/><ellipse rx="354.7" ry="520.9" fill="#b23e5d"/><ellipse rx="348.5" ry="511.8" fill="#ac3b5d"/><ellipse rx="342.1" ry="502.4" fill="#a6395d"/><ellipse rx="335.7" ry="492.9" fill="#9f375e"/><ellipse rx="329.1" ry="483.3" fill="#99355e"/><ellipse rx="322.3" ry="473.4" fill="#92325e"/><ellipse rx="315.5" ry="463.3" fill="#8c305e"/><ellipse rx="308.4" ry="453" fill="#852e5e"/><ellipse rx="301.2" ry="442.4" fill="#7f2c5e"/><ellipse rx="293.9" ry="431.6" fill="#792a5e"/><ellipse rx="286.3" ry="420.5" fill="#72275e"/><ellipse rx="278.6" ry="409.1" fill="#6c255e"/><ellipse rx="270.6" ry="397.4" fill="#65235e"/><ellipse rx="262.4" ry="385.3" fill="#5f215f"/><ellipse rx="253.9" ry="372.8" fill="#581f5f"/><ellipse rx="245.1" ry="359.9" fill="#521c5f"/><ellipse rx="236" ry="346.5" fill="#4c1a5f"/><ellipse rx="226.5" ry="332.6" fill="#45185f"/><ellipse rx="216.6" ry="318.1" fill="#3f165f"/><ellipse rx="206.2" ry="302.8" fill="#38135f"/><ellipse rx="195.3" ry="286.8" fill="#32115f"/><ellipse rx="183.7" ry="269.8" fill="#2b0f5f"/><ellipse rx="171.4" ry="251.7" fill="#250d5f"/><ellipse rx="158.1" ry="232.1" fill="#1f0b60"/><ellipse rx="143.5" ry="210.8" fill="#180860"/><ellipse rx="127.4" ry="187" fill="#120660"/><ellipse rx="108.8" ry="159.8" fill="#0b0460"/><ellipse rx="86.3" ry="126.8" fill="#050260"/></g></g>
<g><path fill="url(#h47)" d="M1369.4 1557.1l14.4 15.8 14.5 14.7 14.4 13.8 14.4 12.7 14.5 11.7 14.4 10.8 14.4 9.7 14.5 8.8 14.4 7.7 14.4 6.8 14.5 5.7 14.4 4.8 14.4 3.7 14.5 2.8 14.4 1.7 14.5 .8 14.4-.3 14.4-1.2 14.5-2.3 14.4-3.2 3.5-1.8-14.5 3.2-14.4 2.1-14.4 1.2-14.5 .1-14.4-.8-14.5-1.9-14.4-2.8-14.4-3.9-14.5-4.8-14.4-5.9-14.4-6.8-14.5-7.9-14.4-8.8-14.4-9.9-14.5-10.8-14.4-11.9-14.4-12.8-14.5-13.9-14.4-14.8-14.4-15.9z"/>
<path fill="url(#h46)" d="M1365.9 1560.8l14.5 15.7 14.4 14.6 14.4 13.6 14.5 12.7 14.4 11.6 14.4 10.7 14.5 9.6 14.4 8.6 14.4 7.7 14.5 6.6 14.4 5.7 14.4 4.6 14.5 3.6 14.4 2.7 14.5 1.6 14.4 .7 14.4-.4 14.5-1.3 14.4-2.4 14.4-3.3 5.6-2.7-14.5 3.2-14.4 2.2-14.4 1.2-14.5 .2-14.4-.8-14.4-1.8-14.5-2.8-14.4-3.9-14.4-4.8-14.5-5.8-14.4-6.8-14.4-7.8-14.5-8.8-14.4-9.8-14.5-10.8-14.4-11.8-14.4-12.8-14.5-13.8-14.4-14.8-14.4-15.8z"/>
<path fill="url(#h45)" d="M1362.5 1564.4l14.4 15.5 14.4 14.6 14.5 13.5 14.4 12.5 14.4 11.6 14.5 10.5 14.4 9.5 14.4 8.6 14.5 7.5 14.4 6.6 14.4 5.5 14.5 4.5 14.4 3.6 14.5 2.5 14.4 1.5 14.4 .6 14.5-.5 14.4-1.4 14.4-2.5 14.5-3.5 5.5-2.4-14.4 3.3-14.5 2.3-14.4 1.3-14.4 .3-14.5-.7-14.4-1.7-14.4-2.7-14.5-3.7-14.4-4.7-14.4-5.8-14.5-6.7-14.4-7.7-14.4-8.7-14.5-9.7-14.4-10.7-14.5-11.7-14.4-12.7-14.4-13.7-14.5-14.7-14.4-15.7z"/>
<path fill="url(#h44)" d="M1359 1567.9l14.4 15.4 14.5 14.4 14.4 13.5 14.4 12.4 14.5 11.4 14.4 10.5 14.4 9.4 14.5 8.4 14.4 7.4 14.4 6.5 14.5 5.4 14.4 4.4 14.5 3.5 14.4 2.4 14.4 1.4 14.5 .5 14.4-.6 14.4-1.6 14.5-2.5 14.4-3.6 5.5-2.2-14.4 3.4-14.4 2.4-14.5 1.4-14.4 .4-14.4-.6-14.5-1.7-14.4-2.6-14.4-3.6-14.5-4.6-14.4-5.6-14.4-6.6-14.5-7.5-14.4-8.6-14.4-9.6-14.5-10.6-14.4-11.6-14.5-12.6-14.4-13.6-14.4-14.6-14.5-15.6z"/>
<path fill="url(#h43)" d="M1355.5 1571.2l14.5 15.4 14.4 14.3 14.4 13.3 14.5 12.3 14.4 11.4 14.4 10.3 14.5 9.3 14.4 8.3 14.5 7.4 14.4 6.3 14.4 5.3 14.5 4.3 14.4 3.4 14.4 2.3 14.5 1.3 14.4 .4 14.4-.7 14.5-1.7 14.4-2.7 14.4-3.6 5.6-2.1-14.5 3.5-14.4 2.5-14.4 1.5-14.5 .5-14.4-.5-14.4-1.5-14.5-2.5-14.4-3.5-14.4-4.5-14.5-5.5-14.4-6.5-14.4-7.5-14.5-8.4-14.4-9.5-14.4-10.5-14.5-11.5-14.4-12.5-14.5-13.5-14.4-14.5-14.4-15.5z"/>
<path fill="url(#h42)" d="M1352.1 1574.5l14.4 15.2 14.4 14.2 14.5 13.2 14.4 12.2 14.4 11.3 14.5 10.2 14.4 9.2 14.5 8.2 14.4 7.2 14.4 6.3 14.5 5.2 14.4 4.2 14.4 3.2 14.5 2.3 14.4 1.2 14.4 .2 14.5-.8 14.4-1.7 14.4-2.8 14.5-3.8 5.5-1.9-14.4 3.6-14.5 2.6-14.4 1.7-14.4 .6-14.5-.4-14.4-1.4-14.4-2.4-14.5-3.4-14.4-4.4-14.4-5.4-14.5-6.4-14.4-7.4-14.4-8.4-14.5-9.3-14.4-10.4-14.4-11.4-14.5-12.4-14.4-13.4-14.4-14.4-14.5-15.4z"/>
<path fill="url(#h41)" d="M1348.6 1577.6l14.4 15.1 14.5 14.1 14.4 13.1 14.4 12.2 14.5 11.1 14.4 10.1 14.5 9.1 14.4 8.1 14.4 7.1 14.5 6.1 14.4 5.2 14.4 4.1 14.5 3.1 14.4 2.1 14.4 1.1 14.5 .2 14.4-.9 14.4-1.9 14.5-2.9 14.4-3.9 5.5-1.7-14.4 3.8-14.4 2.7-14.5 1.7-14.4 .7-14.4-.3-14.5-1.3-14.4-2.3-14.4-3.3-14.5-4.2-14.4-5.3-14.4-6.3-14.5-7.3-14.4-8.3-14.4-9.3-14.5-10.3-14.4-11.2-14.4-12.3-14.5-13.3-14.4-14.3-14.4-15.3z"/>
<path fill="url(#h40)" d="M1345.1 1580.6l14.5 15 14.4 14 14.4 13 14.5 12 14.4 11.1 14.5 10 14.4 9 14.4 8 14.5 7 14.4 6 14.4 5 14.5 4 14.4 3 14.4 2.1 14.5 1 14.4 0 14.4-1 14.5-2 14.4-3 14.4-3.9 5.6-1.6-14.5 3.9-14.4 2.8-14.4 1.8-14.5 .8-14.4-.2-14.4-1.2-14.5-2.1-14.4-3.2-14.4-4.2-14.5-5.2-14.4-6.2-14.4-7.1-14.5-8.2-14.4-9.2-14.4-10.2-14.5-11.2-14.4-12.1-14.4-13.2-14.5-14.2-14.4-15.2z"/>
<path fill="url(#h39)" d="M1341.7 1583.5l14.4 14.9 14.4 13.9 14.5 12.9 14.4 11.9 14.5 10.9 14.4 9.9 14.4 8.9 14.5 7.9 14.4 6.9 14.4 6 14.5 4.9 14.4 3.9 14.4 2.9 14.5 1.9 14.4 .9 14.4-.1 14.5-1.1 14.4-2.1 14.4-3.1 14.5-4 5.5-1.4-14.4 3.9-14.5 3-14.4 1.9-14.4 .9-14.5-.1-14.4-1-14.4-2.1-14.5-3.1-14.4-4.1-14.4-5.1-14.5-6-14.4-7.1-14.4-8.1-14.5-9.1-14.4-10-14.4-11.1-14.5-12.1-14.4-13-14.4-14.1-14.5-15.1z"/>
<path fill="url(#h38)" d="M1338.2 1586.3l14.4 14.8 14.5 13.8 14.4 12.8 14.5 11.8 14.4 10.8 14.4 9.8 14.5 8.8 14.4 7.8 14.4 6.8 14.5 5.8 14.4 4.8 14.4 3.8 14.5 2.8 14.4 1.8 14.4 .8 14.5-.2 14.4-1.2 14.4-2.2 14.5-3.2 14.4-4.2 5.6-1.1-14.5 4-14.4 3-14.5 2.1-14.4 1-14.4 0-14.5-1-14.4-1.9-14.4-3-14.5-4-14.4-4.9-14.4-6-14.5-7-14.4-7.9-14.4-9-14.5-10-14.4-11-14.4-11.9-14.5-13-14.4-14-14.4-14.9z"/>
<path fill="url(#h37)" d="M1334.7 1589l14.5 14.6 14.4 13.7 14.5 12.7 14.4 11.7 14.4 10.7 14.5 9.7 14.4 8.7 14.4 7.7 14.5 6.7 14.4 5.7 14.4 4.7 14.5 3.7 14.4 2.7 14.4 1.7 14.5 .7 14.4-.3 14.4-1.3 14.5-2.3 14.4-3.3 14.4-4.3 5.6-1-14.4 4.2-14.5 3.1-14.4 2.1-14.5 1.2-14.4 .1-14.4-.9-14.5-1.8-14.4-2.9-14.4-3.9-14.5-4.8-14.4-5.9-14.4-6.9-14.5-7.8-14.4-8.9-14.4-9.9-14.5-10.8-14.4-11.9-14.4-12.8-14.5-13.9-14.4-14.9z"/>
<path fill="url(#h36)" d="M1331.3 1591.5l14.4 14.6 14.5 13.6 14.4 12.6 14.4 11.6 14.5 10.6 14.4 9.5 14.4 8.6 14.5 7.6 14.4 6.6 14.4 5.6 14.5 4.6 14.4 3.6 14.4 2.6 14.5 1.6 14.4 .6 14.4-.4 14.5-1.4 14.4-2.4 14.4-3.4 14.5-4.4 5.5-.8-14.4 4.2-14.4 3.3-14.5 2.2-14.4 1.2-14.5 .3-14.4-.8-14.4-1.8-14.5-2.7-14.4-3.8-14.4-4.8-14.5-5.7-14.4-6.8-14.4-7.7-14.5-8.8-14.4-9.7-14.4-10.8-14.5-11.8-14.4-12.7-14.4-13.8-14.5-14.7z"/>
<path fill="url(#h35)" d="M1327.8 1593.9l14.5 14.5 14.4 13.5 14.4 12.5 14.5 11.5 14.4 10.5 14.4 9.5 14.5 8.4 14.4 7.5 14.4 6.5 14.5 5.5 14.4 4.5 14.4 3.5 14.5 2.5 14.4 1.5 14.4 .5 14.5-.6 14.4-1.5 14.4-2.5 14.5-3.5 14.4-4.5 5.6-.6-14.5 4.4-14.4 3.3-14.4 2.3-14.5 1.4-14.4 .3-14.5-.6-14.4-1.7-14.4-2.7-14.5-3.6-14.4-4.7-14.4-5.6-14.5-6.7-14.4-7.6-14.4-8.7-14.5-9.7-14.4-10.6-14.4-11.7-14.5-12.6-14.4-13.7-14.4-14.6z"/>
<path fill="url(#h34)" d="M1324.4 1596.3l14.4 14.3 14.4 13.4 14.5 12.4 14.4 11.4 14.4 10.4 14.5 9.3 14.4 8.4 14.4 7.4 14.5 6.4 14.4 5.4 14.4 4.4 14.5 3.3 14.4 2.4 14.4 1.4 14.5 .4 14.4-.6 14.4-1.6 14.5-2.6 14.4-3.6 14.4-4.7 5.6-.4-14.4 4.5-14.5 3.4-14.4 2.5-14.4 1.4-14.5 .4-14.4-.5-14.5-1.6-14.4-2.5-14.4-3.6-14.5-4.5-14.4-5.6-14.4-6.5-14.5-7.6-14.4-8.5-14.4-9.6-14.5-10.5-14.4-11.6-14.4-12.5-14.5-13.6-14.4-14.5z"/>
<path fill="url(#h33)" d="M1320.9 1598.5l14.4 14.2 14.5 13.3 14.4 12.3 14.4 11.3 14.5 10.2 14.4 9.3 14.4 8.3 14.5 7.3 14.4 6.3 14.4 5.2 14.5 4.3 14.4 3.3 14.4 2.3 14.5 1.3 14.4 .2 14.4-.7 14.5-1.7 14.4-2.7 14.4-3.7 14.5-4.7 5.5-.3-14.4 4.6-14.4 3.5-14.5 2.6-14.4 1.5-14.4 .6-14.5-.5-14.4-1.4-14.5-2.5-14.4-3.4-14.4-4.5-14.5-5.4-14.4-6.5-14.4-7.4-14.5-8.5-14.4-9.4-14.4-10.4-14.5-11.5-14.4-12.4-14.4-13.5-14.5-14.4z"/>
<path fill="url(#h32)" d="M1317.4 1600.6l14.5 14.1 14.4 13.2 14.4 12.2 14.5 11.1 14.4 10.2 14.4 9.2 14.5 8.2 14.4 7.1 14.4 6.2 14.5 5.2 14.4 4.2 14.4 3.1 14.5 2.2 14.4 1.2 14.4 .2 14.5-.9 14.4-1.8 14.4-2.8 14.5-3.8 14.4-4.8 5.6-.1-14.5 4.7-14.4 3.6-14.4 2.7-14.5 1.6-14.4 .7-14.4-.4-14.5-1.3-14.4-2.4-14.5-3.3-14.4-4.3-14.4-5.4-14.5-6.3-14.4-7.4-14.4-8.3-14.5-9.3-14.4-10.4-14.4-11.3-14.5-12.4-14.4-13.3-14.4-14.3z"/>
<path fill="url(#h31)" d="M1314 1602.5l14.4 14.1 14.4 13.1 14.5 12 14.4 11.1 14.4 10.1 14.5 9 14.4 8.1 14.4 7.1 14.5 6.1 14.4 5 14.4 4.1 14.5 3.1 14.4 2 14.4 1.1 14.5 .1 14.4-1 14.4-1.9 14.5-2.9 14.4-3.9 14.5-5 5.5 .2-14.4 4.7-14.5 3.8-14.4 2.7-14.4 1.8-14.5 .8-14.4-.3-14.4-1.2-14.5-2.3-14.4-3.2-14.5-4.2-14.4-5.3-14.4-6.2-14.5-7.2-14.4-8.3-14.4-9.2-14.5-10.2-14.4-11.3-14.4-12.2-14.5-13.2-14.4-14.3z"/>
<path fill="url(#h30)" d="M1310.5 1604.4l14.4 14 14.5 12.9 14.4 12 14.4 11 14.5 9.9 14.4 9 14.4 7.9 14.5 7 14.4 6 14.4 4.9 14.5 4 14.4 3 14.4 1.9 14.5 1 14.4 0 14.4-1.1 14.5-2 14.4-3 14.5-4.1 14.4-5 5.5 .3-14.4 4.9-14.4 3.9-14.5 2.8-14.4 1.9-14.4 .8-14.5-.1-14.4-1.1-14.4-2.2-14.5-3.1-14.4-4.1-14.5-5.2-14.4-6.1-14.4-7.1-14.5-8.2-14.4-9.1-14.4-10.1-14.5-11.1-14.4-12.2-14.4-13.1-14.5-14.1z"/>
<path fill="url(#h29)" d="M1307 1606.2l14.5 13.8 14.4 12.9 14.4 11.8 14.5 10.9 14.4 9.8 14.4 8.9 14.5 7.9 14.4 6.8 14.4 5.9 14.5 4.8 14.4 3.9 14.4 2.9 14.5 1.8 14.4 .9 14.4-.1 14.5-1.2 14.4-2.1 14.5-3.2 14.4-4.1 14.4-5.1 5.6 .5-14.5 4.9-14.4 4-14.4 3-14.5 1.9-14.4 1-14.4 0-14.5-1.1-14.4-2-14.4-3-14.5-4-14.4-5.1-14.5-6-14.4-7-14.4-8-14.5-9.1-14.4-10-14.4-11-14.5-12-14.4-13.1-14.4-14z"/>
<path fill="url(#h28)" d="M1303.6 1607.8l14.4 13.8 14.4 12.7 14.5 11.8 14.4 10.7 14.4 9.8 14.5 8.7 14.4 7.8 14.4 6.7 14.5 5.8 14.4 4.7 14.4 3.8 14.5 2.7 14.4 1.8 14.4 .8 14.5-.3 14.4-1.2 14.5-2.3 14.4-3.2 14.4-4.2 14.5-5.3 5.5 .7-14.4 5.1-14.5 4-14.4 3.1-14.4 2.1-14.5 1.1-14.4 0-14.4-.9-14.5-1.9-14.4-2.9-14.4-4-14.5-4.9-14.4-5.9-14.5-6.9-14.4-8-14.4-8.9-14.5-9.9-14.4-10.9-14.4-11.9-14.5-13-14.4-13.9z"/>
<path fill="url(#h27)" d="M1300.1 1609.3l14.4 13.7 14.5 12.6 14.4 11.7 14.4 10.6 14.5 9.7 14.4 8.6 14.4 7.7 14.5 6.6 14.4 5.7 14.4 4.6 14.5 3.7 14.4 2.6 14.4 1.7 14.5 .6 14.4-.3 14.5-1.4 14.4-2.3 14.4-3.4 14.5-4.3 14.4-5.4 5.5 .9-14.4 5.2-14.4 4.2-14.5 3.1-14.4 2.2-14.4 1.2-14.5 .2-14.4-.8-14.4-1.9-14.5-2.8-14.4-3.8-14.4-4.8-14.5-5.8-14.4-6.9-14.5-7.8-14.4-8.8-14.4-9.8-14.5-10.8-14.4-11.8-14.4-12.9-14.5-13.8z"/>
<path fill="url(#h26)" d="M1296.6 1610.7l14.5 13.6 14.4 12.5 14.4 11.6 14.5 10.5 14.4 9.5 14.4 8.6 14.5 7.5 14.4 6.6 14.4 5.5 14.5 4.6 14.4 3.5 14.4 2.6 14.5 1.5 14.4 .6 14.5-.5 14.4-1.4 14.4-2.5 14.5-3.4 14.4-4.5 14.4-5.4 5.6 1-14.5 5.3-14.4 4.3-14.4 3.2-14.5 2.3-14.4 1.3-14.4 .3-14.5-.7-14.4-1.7-14.4-2.7-14.5-3.8-14.4-4.7-14.4-5.7-14.5-6.7-14.4-7.7-14.5-8.7-14.4-9.7-14.4-10.7-14.5-11.8-14.4-12.7-14.4-13.7z"/>
<path fill="url(#h25)" d="M1293.2 1612l14.4 13.5 14.4 12.4 14.5 11.4 14.4 10.5 14.4 9.4 14.5 8.5 14.4 7.4 14.4 6.4 14.5 5.5 14.4 4.4 14.4 3.5 14.5 2.4 14.4 1.4 14.5 .5 14.4-.6 14.4-1.5 14.5-2.6 14.4-3.5 14.4-4.6 14.5-5.5 5.5 1.2-14.4 5.4-14.5 4.4-14.4 3.3-14.4 2.4-14.5 1.4-14.4 .4-14.4-.6-14.5-1.6-14.4-2.6-14.4-3.6-14.5-4.6-14.4-5.6-14.4-6.7-14.5-7.6-14.4-8.6-14.5-9.6-14.4-10.6-14.4-11.6-14.5-12.6-14.4-13.6z"/>
<path fill="url(#h24)" d="M1289.7 1613.2l14.4 13.3 14.5 12.4 14.4 11.3 14.4 10.3 14.5 9.4 14.4 8.3 14.4 7.3 14.5 6.4 14.4 5.3 14.4 4.3 14.5 3.4 14.4 2.3 14.5 1.4 14.4 .3 14.4-.7 14.5-1.6 14.4-2.7 14.4-3.6 14.5-4.7 14.4-5.7 5.5 1.5-14.4 5.4-14.4 4.5-14.5 3.5-14.4 2.5-14.4 1.5-14.5 .5-14.4-.5-14.4-1.5-14.5-2.5-14.4-3.5-14.4-4.5-14.5-5.5-14.4-6.5-14.4-7.5-14.5-8.5-14.4-9.5-14.5-10.5-14.4-11.5-14.4-12.5-14.5-13.5z"/>
<path fill="url(#h23)" d="M1286.2 1614.3l14.5 13.2 14.4 12.2 14.4 11.3 14.5 10.2 14.4 9.2 14.4 8.2 14.5 7.3 14.4 6.2 14.5 5.2 14.4 4.3 14.4 3.2 14.5 2.2 14.4 1.3 14.4 .2 14.5-.8 14.4-1.7 14.4-2.8 14.5-3.8 14.4-4.7 14.4-5.8 5.6 1.6-14.5 5.6-14.4 4.6-14.4 3.6-14.5 2.6-14.4 1.6-14.4 .6-14.5-.4-14.4-1.4-14.4-2.4-14.5-3.4-14.4-4.4-14.4-5.4-14.5-6.4-14.4-7.4-14.4-8.4-14.5-9.4-14.4-10.4-14.5-11.4-14.4-12.4-14.4-13.4z"/>
<path fill="url(#h22)" d="M1282.8 1615.2l14.4 13.2 14.4 12.1 14.5 11.1 14.4 10.1 14.4 9.1 14.5 8.2 14.4 7.1 14.5 6.1 14.4 5.1 14.4 4.2 14.5 3.1 14.4 2.1 14.4 1.2 14.5 .1 14.4-.9 14.4-1.9 14.5-2.8 14.4-3.9 14.4-4.9 14.5-5.8 5.5 1.7-14.4 5.7-14.5 4.7-14.4 3.7-14.4 2.7-14.5 1.8-14.4 .7-14.4-.3-14.5-1.3-14.4-2.3-14.4-3.3-14.5-4.3-14.4-5.3-14.4-6.3-14.5-7.3-14.4-8.3-14.4-9.3-14.5-10.3-14.4-11.3-14.4-12.3-14.5-13.2z"/>
<path fill="url(#h21)" d="M1279.3 1616.1l14.4 13 14.5 12 14.4 11 14.4 10 14.5 9.1 14.4 8 14.5 7 14.4 6 14.4 5 14.5 4.1 14.4 3 14.4 2 14.5 1 14.4 .1 14.4-1 14.5-2 14.4-3 14.4-3.9 14.5-5 14.4-6 5.5 2-14.4 5.8-14.4 4.8-14.5 3.8-14.4 2.8-14.4 1.8-14.5 .8-14.4-.2-14.4-1.2-14.5-2.2-14.4-3.2-14.4-4.1-14.5-5.2-14.4-6.2-14.4-7.2-14.5-8.2-14.4-9.2-14.4-10.2-14.5-11.2-14.4-12.1-14.4-13.2z"/>
<path fill="url(#h20)" d="M1275.8 1616.8l14.5 12.9 14.4 11.9 14.4 10.9 14.5 9.9 14.4 9 14.5 7.9 14.4 6.9 14.4 5.9 14.5 4.9 14.4 3.9 14.4 3 14.5 1.9 14.4 .9 14.4-.1 14.5-1.1 14.4-2 14.4-3.1 14.5-4.1 14.4-5.1 14.4-6.1 5.6 2.2-14.5 5.9-14.4 4.9-14.4 3.9-14.5 2.9-14.4 1.9-14.4 .9-14.5 0-14.4-1.1-14.4-2.1-14.5-3.1-14.4-4.1-14.4-5.1-14.5-6.1-14.4-7-14.4-8.1-14.5-9.1-14.4-10.1-14.4-11.1-14.5-12-14.4-13.1z"/>
<path fill="url(#h19)" d="M1272.4 1617.4l14.4 12.8 14.4 11.8 14.5 10.8 14.4 9.8 14.5 8.8 14.4 7.9 14.4 6.8 14.5 5.8 14.4 4.8 14.4 3.8 14.5 2.8 14.4 1.8 14.4 .8 14.5-.1 14.4-1.2 14.4-2.2 14.5-3.2 14.4-4.2 14.4-5.2 14.5-6.1 5.5 2.3-14.4 6-14.5 5-14.4 4-14.4 3-14.5 2.1-14.4 1-14.4 0-14.5-1-14.4-2-14.4-3-14.5-3.9-14.4-5-14.4-6-14.5-7-14.4-7.9-14.4-9-14.5-10-14.4-11-14.4-12-14.5-12.9z"/>
<path fill="url(#h18)" d="M1268.9 1617.9l14.4 12.7 14.5 11.7 14.4 10.7 14.5 9.7 14.4 8.7 14.4 7.7 14.5 6.7 14.4 5.7 14.4 4.7 14.5 3.7 14.4 2.8 14.4 1.7 14.5 .7 14.4-.3 14.4-1.3 14.5-2.3 14.4-3.3 14.4-4.3 14.5-5.3 14.4-6.3 5.6 2.6-14.5 6.1-14.4 5.1-14.5 4.1-14.4 3.1-14.4 2.2-14.5 1.1-14.4 .1-14.4-.9-14.5-1.8-14.4-2.9-14.4-3.9-14.5-4.9-14.4-5.8-14.4-6.9-14.5-7.9-14.4-8.9-14.4-9.8-14.5-10.9-14.4-11.9-14.4-12.9z"/>
<path fill="url(#h17)" d="M1265.4 1618.3l14.5 12.6 14.4 11.6 14.5 10.6 14.4 9.6 14.4 8.6 14.5 7.6 14.4 6.6 14.4 5.6 14.5 4.6 14.4 3.6 14.4 2.6 14.5 1.6 14.4 .6 14.4-.4 14.5-1.4 14.4-2.4 14.4-3.4 14.5-4.4 14.4-5.4 14.4-6.4 5.6 2.7-14.4 6.2-14.5 5.3-14.4 4.2-14.5 3.2-14.4 2.3-14.4 1.2-14.5 .2-14.4-.8-14.4-1.7-14.5-2.8-14.4-3.8-14.4-4.8-14.5-5.7-14.4-6.8-14.4-7.8-14.5-8.7-14.4-9.8-14.4-10.8-14.5-11.7-14.4-12.8z"/>
<path fill="url(#h16)" d="M1262 1618.5l14.4 12.5 14.5 11.5 14.4 10.5 14.4 9.5 14.5 8.5 14.4 7.5 14.4 6.5 14.5 5.5 14.4 4.5 14.4 3.5 14.5 2.5 14.4 1.5 14.4 .5 14.5-.5 14.4-1.5 14.4-2.5 14.5-3.5 14.4-4.5 14.4-5.5 14.5-6.5 5.5 2.9-14.4 6.3-14.4 5.3-14.5 4.4-14.4 3.3-14.5 2.3-14.4 1.4-14.4 .3-14.5-.7-14.4-1.6-14.4-2.7-14.5-3.7-14.4-4.6-14.4-5.7-14.5-6.7-14.4-7.6-14.4-8.7-14.5-9.7-14.4-10.6-14.4-11.7-14.5-12.6z"/>
<path fill="url(#h15)" d="M1258.5 1618.7l14.5 12.4 14.4 11.4 14.4 10.4 14.5 9.3 14.4 8.4 14.4 7.4 14.5 6.4 14.4 5.4 14.4 4.4 14.5 3.4 14.4 2.4 14.4 1.4 14.5 .4 14.4-.6 14.4-1.6 14.5-2.6 14.4-3.6 14.4-4.6 14.5-5.6 14.4-6.6 5.6 3-14.5 6.4-14.4 5.5-14.4 4.4-14.5 3.5-14.4 2.4-14.5 1.4-14.4 .5-14.4-.6-14.5-1.6-14.4-2.5-14.4-3.6-14.5-4.5-14.4-5.6-14.4-6.6-14.5-7.5-14.4-8.6-14.4-9.5-14.5-10.6-14.4-11.6-14.4-12.5z"/>
<path fill="url(#h14)" d="M1255.1 1618.7l14.4 12.3 14.4 11.3 14.5 10.3 14.4 9.3 14.4 8.2 14.5 7.3 14.4 6.3 14.4 5.3 14.5 4.3 14.4 3.3 14.4 2.3 14.5 1.3 14.4 .3 14.4-.8 14.5-1.7 14.4-2.7 14.4-3.7 14.5-4.7 14.4-5.7 14.4-6.7 5.6 3.2-14.4 6.6-14.5 5.5-14.4 4.6-14.4 3.5-14.5 2.5-14.4 1.6-14.5 .5-14.4-.4-14.4-1.5-14.5-2.5-14.4-3.4-14.4-4.5-14.5-5.4-14.4-6.5-14.4-7.4-14.5-8.5-14.4-9.4-14.4-10.5-14.5-11.4-14.4-12.5z"/>
<path fill="url(#h13)" d="M1251.6 1618.6l14.4 12.2 14.5 11.2 14.4 10.2 14.4 9.2 14.5 8.1 14.4 7.2 14.4 6.2 14.5 5.2 14.4 4.2 14.4 3.2 14.5 2.1 14.4 1.2 14.4 .2 14.5-.8 14.4-1.8 14.4-2.8 14.5-3.8 14.4-4.8 14.4-5.9 14.5-6.8 5.5 3.5-14.4 6.6-14.4 5.6-14.5 4.7-14.4 3.6-14.4 2.7-14.5 1.6-14.4 .7-14.5-.4-14.4-1.3-14.4-2.4-14.5-3.3-14.4-4.4-14.4-5.3-14.5-6.4-14.4-7.3-14.4-8.4-14.5-9.3-14.4-10.4-14.4-11.3-14.5-12.4z"/>
<path fill="url(#h12)" d="M1248.1 1618.5l14.5 12 14.4 11.1 14.4 10.1 14.5 9.1 14.4 8 14.4 7.1 14.5 6.1 14.4 5.1 14.4 4 14.5 3.1 14.4 2.1 14.4 1.1 14.5 .1 14.4-1 14.4-1.9 14.5-2.9 14.4-3.9 14.4-4.9 14.5-5.9 14.4-7 5.6 3.6-14.5 6.8-14.4 5.7-14.4 4.8-14.5 3.7-14.4 2.8-14.4 1.7-14.5 .8-14.4-.3-14.5-1.2-14.4-2.2-14.4-3.3-14.5-4.2-14.4-5.3-14.4-6.2-14.5-7.3-14.4-8.2-14.4-9.3-14.5-10.2-14.4-11.3-14.4-12.2z"/>
<path fill="url(#h11)" d="M1244.7 1618.1l14.4 12 14.4 11 14.5 10 14.4 8.9 14.4 8 14.5 7 14.4 5.9 14.4 5 14.5 4 14.4 3 14.4 1.9 14.5 1 14.4 0 14.4-1 14.5-2.1 14.4-3 14.4-4 14.5-5 14.4-6 14.5-7.1 5.5 3.8-14.4 6.9-14.5 5.8-14.4 4.9-14.4 3.8-14.5 2.9-14.4 1.9-14.4 .8-14.5-.1-14.4-1.2-14.5-2.1-14.4-3.2-14.4-4.1-14.5-5.1-14.4-6.2-14.4-7.1-14.5-8.2-14.4-9.1-14.4-10.1-14.5-11.2-14.4-12.1z"/>
<path fill="url(#h10)" d="M1241.2 1617.7l14.4 11.9 14.5 10.9 14.4 9.8 14.4 8.9 14.5 7.9 14.4 6.8 14.4 5.9 14.5 4.9 14.4 3.8 14.4 2.9 14.5 1.9 14.4 .8 14.4-.1 14.5-1.1 14.4-2.1 14.4-3.2 14.5-4.1 14.4-5.1 14.5-6.1 14.4-7.2 5.5 4-14.4 7-14.4 5.9-14.5 5-14.4 3.9-14.4 3-14.5 1.9-14.4 1-14.4 0-14.5-1.1-14.4-2-14.5-3-14.4-4.1-14.4-5-14.5-6.1-14.4-7-14.4-8-14.5-9.1-14.4-10-14.4-11-14.5-12.1z"/>
<path fill="url(#h9)" d="M1237.7 1617.2l14.5 11.8 14.4 10.7 14.4 9.8 14.5 8.7 14.4 7.8 14.4 6.8 14.5 5.7 14.4 4.8 14.4 3.8 14.5 2.7 14.4 1.8 14.4 .7 14.5-.2 14.4-1.2 14.4-2.3 14.5-3.2 14.4-4.2 14.5-5.2 14.4-6.3 14.4-7.2 5.6 4.1-14.5 7.1-14.4 6.1-14.4 5-14.5 4.1-14.4 3.1-14.4 2-14.5 1.1-14.4 .1-14.4-1-14.5-1.9-14.4-2.9-14.5-4-14.4-4.9-14.4-5.9-14.5-7-14.4-7.9-14.4-8.9-14.5-9.9-14.4-11-14.4-11.9z"/>
<path fill="url(#h8)" d="M1234.3 1616.5l14.4 11.7 14.4 10.7 14.5 9.6 14.4 8.7 14.4 7.6 14.5 6.7 14.4 5.6 14.4 4.7 14.5 3.7 14.4 2.6 14.4 1.7 14.5 .6 14.4-.3 14.4-1.3 14.5-2.4 14.4-3.3 14.5-4.3 14.4-5.4 14.4-6.3 14.5-7.3 5.5 4.3-14.4 7.2-14.5 6.1-14.4 5.2-14.4 4.2-14.5 3.1-14.4 2.2-14.4 1.2-14.5 .1-14.4-.8-14.4-1.8-14.5-2.8-14.4-3.9-14.5-4.8-14.4-5.8-14.4-6.9-14.5-7.8-14.4-8.8-14.4-9.8-14.5-10.8-14.4-11.9z"/>
<path fill="url(#h7)" d="M1230.8 1615.8l14.4 11.5 14.5 10.6 14.4 9.5 14.4 8.6 14.5 7.5 14.4 6.6 14.4 5.5 14.5 4.6 14.4 3.6 14.4 2.5 14.5 1.6 14.4 .5 14.4-.4 14.5-1.5 14.4-2.4 14.5-3.4 14.4-4.5 14.4-5.4 14.5-6.5 14.4-7.4 5.5 4.5-14.4 7.3-14.4 6.3-14.5 5.2-14.4 4.3-14.4 3.3-14.5 2.2-14.4 1.3-14.4 .3-14.5-.7-14.4-1.7-14.4-2.8-14.5-3.7-14.4-4.7-14.5-5.7-14.4-6.8-14.4-7.7-14.5-8.7-14.4-9.7-14.4-10.7-14.5-11.8z"/>
<path fill="url(#h6)" d="M1227.3 1614.9l14.5 11.4 14.4 10.5 14.4 9.4 14.5 8.5 14.4 7.4 14.4 6.5 14.5 5.4 14.4 4.5 14.4 3.4 14.5 2.5 14.4 1.4 14.4 .5 14.5-.6 14.4-1.5 14.5-2.6 14.4-3.5 14.4-4.5 14.5-5.6 14.4-6.5 14.4-7.6 5.6 4.7-14.5 7.4-14.4 6.4-14.4 5.4-14.5 4.3-14.4 3.4-14.4 2.4-14.5 1.4-14.4 .3-14.4-.6-14.5-1.6-14.4-2.6-14.4-3.6-14.5-4.6-14.4-5.7-14.5-6.6-14.4-7.6-14.4-8.6-14.5-9.6-14.4-10.6-14.4-11.6z"/>
<path fill="url(#h5)" d="M1223.9 1613.9l14.4 11.4 14.4 10.3 14.5 9.3 14.4 8.4 14.4 7.3 14.5 6.4 14.4 5.3 14.4 4.4 14.5 3.3 14.4 2.3 14.4 1.4 14.5 .3 14.4-.6 14.5-1.7 14.4-2.6 14.4-3.7 14.5-4.6 14.4-5.7 14.4-6.6 14.5-7.7 5.5 4.9-14.4 7.5-14.5 6.5-14.4 5.5-14.4 4.4-14.5 3.5-14.4 2.5-14.4 1.5-14.5 .5-14.4-.5-14.4-1.5-14.5-2.6-14.4-3.5-14.4-4.5-14.5-5.5-14.4-6.5-14.5-7.5-14.4-8.5-14.4-9.5-14.5-10.5-14.4-11.6z"/>
<path fill="url(#h4)" d="M1220.4 1612.8l14.4 11.2 14.5 10.3 14.4 9.2 14.4 8.3 14.5 7.2 14.4 6.2 14.4 5.3 14.5 4.2 14.4 3.2 14.5 2.3 14.4 1.2 14.4 .3 14.5-.8 14.4-1.7 14.4-2.8 14.5-3.8 14.4-4.7 14.4-5.8 14.5-6.7 14.4-7.8 5.5 5.1-14.4 7.6-14.4 6.6-14.5 5.6-14.4 4.5-14.4 3.6-14.5 2.6-14.4 1.6-14.4 .6-14.5-.4-14.4-1.4-14.4-2.4-14.5-3.4-14.4-4.4-14.4-5.4-14.5-6.5-14.4-7.4-14.5-8.4-14.4-9.4-14.4-10.4-14.5-11.4z"/>
<path fill="url(#h3)" d="M1216.9 1611.6l14.5 11.1 14.4 10.1 14.4 9.2 14.5 8.1 14.4 7.1 14.4 6.2 14.5 5.1 14.4 4.2 14.5 3.1 14.4 2.1 14.4 1.2 14.5 .1 14.4-.9 14.4-1.8 14.5-2.9 14.4-3.8 14.4-4.9 14.5-5.9 14.4-6.8 14.4-7.9 5.6 5.3-14.5 7.7-14.4 6.6-14.4 5.7-14.5 4.7-14.4 3.7-14.4 2.7-14.5 1.7-14.4 .7-14.4-.3-14.5-1.3-14.4-2.3-14.4-3.3-14.5-4.3-14.4-5.3-14.4-6.3-14.5-7.3-14.4-8.3-14.5-9.3-14.4-10.3-14.4-11.3z"/>
<path fill="url(#h2)" d="M1213.5 1610.2l14.4 11.1 14.4 10 14.5 9 14.4 8.1 14.4 7 14.5 6 14.4 5 14.5 4.1 14.4 3 14.4 2 14.5 1.1 14.4 0 14.4-1 14.5-1.9 14.4-3 14.4-4 14.5-4.9 14.4-6 14.4-7 14.5-7.9 5.5 5.4-14.4 7.8-14.5 6.8-14.4 5.8-14.4 4.8-14.5 3.8-14.4 2.8-14.4 1.8-14.5 .8-14.4-.2-14.4-1.2-14.5-2.2-14.4-3.2-14.4-4.2-14.5-5.2-14.4-6.2-14.4-7.2-14.5-8.2-14.4-9.2-14.4-10.2-14.5-11.2z"/>
<path fill="url(#h1)" d="M1210 1608.8l14.4 10.9 14.5 9.9 14.4 9 14.4 7.9 14.5 6.9 14.4 5.9 14.5 5 14.4 3.9 14.4 2.9 14.5 1.9 14.4 1 14.4-.1 14.5-1.1 14.4-2 14.4-3.1 14.5-4.1 14.4-5.1 14.4-6 14.5-7.1 14.4-8.1 5.5 5.7-14.4 7.9-14.4 6.9-14.5 5.9-14.4 4.9-14.4 3.9-14.5 2.9-14.4 1.9-14.4 .9-14.5-.1-14.4-1.1-14.4-2.1-14.5-3.1-14.4-4.1-14.4-5.1-14.5-6.1-14.4-7.1-14.4-8.1-14.5-9.1-14.4-10-14.4-11.1z"/>
<path fill="url(#h0)" d="M1206.5 1607.2l14.5 10.9 14.4 9.8 14.4 8.8 14.5 7.8 14.4 6.8 14.5 5.8 14.4 4.9 14.4 3.8 14.5 2.8 14.4 1.8 14.4 .9 14.5-.2 14.4-1.2 14.4-2.2 14.5-3.2 14.4-4.1 14.4-5.2 14.5-6.2 14.4-7.1 14.4-8.2 5.6 5.8-14.5 8-14.4 7-14.4 6-14.5 5-14.4 4-14.4 3-14.5 2-14.4 1-14.4 0-14.5-.9-14.4-2-14.4-3-14.5-4-14.4-5-14.4-6-14.5-7-14.4-8-14.4-8.9-14.5-10-14.4-11z"/></g>
<path class="bl" d="M1206.5 1607.2L1215.6 1614.1L1224.6 1620.6L1233.6 1626.7L1242.6 1632.4L1251.7 1637.7L1260.7 1642.6L1269.7 1647.2L1278.7 1651.3L1287.7 1655.1L1296.8 1658.4L1305.8 1661.4L1314.8 1664L1323.8 1666.2L1332.8 1668L1341.9 1669.4L1350.9 1670.4L1359.9 1671.1L1368.9 1671.3L1378 1671.2L1387 1670.6L1396 1669.7L1405 1668.4L1414 1666.6L1423.1 1664.5L1432.1 1662.1L1441.1 1659.2L1450.1 1655.9L1459.2 1652.2L1468.2 1648.2L1477.2 1643.7L1486.2 1638.9L1495.2 1633.7L1500.4 1639.1L1505.6 1644.3L1510.8 1649.2L1516 1653.9L1521.2 1658.3L1526.4 1662.5L1531.6 1666.4L1536.8 1670L1542 1673.4L1547.2 1676.6L1552.4 1679.4L1557.6 1682L1562.8 1684.4L1568 1686.5L1573.2 1688.4L1578.4 1689.9L1583.6 1691.3L1588.8 1692.3L1594 1693.2L1599.2 1693.7L1604.4 1694L1609.6 1694.1L1614.8 1693.8L1620 1693.4L1625.2 1692.6L1630.4 1691.7L1635.6 1690.4L1640.8 1688.9L1646 1687.2L1651.2 1685.1L1656.4 1682.9L1661.6 1680.3L1652.5 1682.4L1643.5 1684.1L1634.5 1685.4L1625.5 1686.3L1616.4 1686.9L1607.4 1687L1598.4 1686.7L1589.4 1686.1L1580.4 1685L1571.3 1683.6L1562.3 1681.8L1553.3 1679.6L1544.3 1677L1535.3 1674L1526.2 1670.6L1517.2 1666.8L1508.2 1662.6L1499.2 1658.1L1490.1 1653.1L1481.1 1647.8L1472.1 1642.1L1463.1 1636L1454.1 1629.5L1445 1622.6L1436 1615.3L1427 1607.6L1418 1599.5L1408.9 1591.1L1399.9 1582.2L1390.9 1573L1381.9 1563.3L1372.9 1553.3L1367.7 1559L1362.5 1564.4L1357.3 1569.6L1352.1 1574.5L1346.9 1579.1L1341.7 1583.5L1336.5 1587.6L1331.3 1591.5L1326.1 1595.1L1320.9 1598.5L1315.7 1601.6L1310.5 1604.4L1305.3 1607L1300.1 1609.3L1294.9 1611.4L1289.7 1613.2L1284.5 1614.8L1279.3 1616.1L1274.1 1617.1L1268.9 1617.9L1263.7 1618.4L1258.5 1618.7L1253.3 1618.7L1248.1 1618.5L1242.9 1618L1237.7 1617.2L1232.5 1616.2L1227.3 1614.9L1222.1 1613.4L1216.9 1611.6L1211.7 1609.5Z"/>
<path class="k" d="M1193.3 1752.1L1498.8 1782.3M1498.8 1782.3L1674.8 1730M1193.3 1752.1L1193.3 1585.6M1498.8 1782.3L1498.8 1615.8M1674.8 1730L1674.8 1563.5M1193.3 1585.6L1498.8 1615.8M1498.8 1615.8L1674.8 1563.5M1193.3 1585.6L1369.3 1533.3M1369.3 1533.3L1674.8 1563.5M1193.3 1590.9l5.5 0M1193.3 1596.2l3 0M1193.3 1601.4l3 0M1193.3 1606.7l3 0M1193.3 1611.9l3 0M1193.3 1617.2l5.5 0M1193.3 1622.5l3 0M1193.3 1627.7l3 0M1193.3 1633l3 0M1193.3 1638.2l3 0M1193.3 1643.5l5.5 0M1193.3 1648.7l3 0M1193.3 1654l3 0M1193.3 1659.2l3 0M1193.3 1664.5l3 0M1193.3 1669.7l5.5 0M1193.3 1675l3 0M1193.3 1680.2l3 0M1193.3 1685.5l3 0M1193.3 1690.7l3 0M1193.3 1696l5.5 0M1193.3 1701.3l3 0M1193.3 1706.5l3 0M1193.3 1711.8l3 0M1193.3 1717l3 0M1193.3 1722.3l5.5 0M1193.3 1727.6l3 0M1193.3 1732.8l3 0M1193.3 1738.1l3 0M1193.3 1743.3l3 0M1193.3 1748.6l5.5 0M1498.8 1621.1l-5.5 0M1498.8 1626.4l-3 0M1498.8 1631.6l-3 0M1498.8 1636.9l-3 0M1498.8 1642.1l-3 0M1498.8 1647.4l-5.5 0M1498.8 1652.7l-3 0M1498.8 1657.9l-3 0M1498.8 1663.2l-3 0M1498.8 1668.4l-3 0M1498.8 1673.7l-5.5 0M1498.8 1678.9l-3 0M1498.8 1684.2l-3 0M1498.8 1689.4l-3 0M1498.8 1694.7l-3 0M1498.8 1699.9l-5.5 0M1498.8 1705.2l-3 0M1498.8 1710.4l-3 0M1498.8 1715.7l-3 0M1498.8 1720.9l-3 0M1498.8 1726.2l-5.5 0M1498.8 1731.5l-3 0M1498.8 1736.7l-3 0M1498.8 1742l-3 0M1498.8 1747.2l-3 0M1498.8 1752.5l-5.5 0M1498.8 1757.8l-3 0M1498.8 1763l-3 0M1498.8 1768.3l-3 0M1498.8 1773.5l-3 0M1498.8 1778.8l-5.5 0M1674.8 1568.8l-5.5 0M1674.8 1574.1l-3 0M1674.8 1579.3l-3 0M1674.8 1584.6l-3 0M1674.8 1589.8l-3 0M1674.8 1595.1l-5.5 0M1674.8 1600.4l-3 0M1674.8 1605.6l-3 0M1674.8 1610.9l-3 0M1674.8 1616.1l-3 0M1674.8 1621.4l-5.5 0M1674.8 1626.6l-3 0M1674.8 1631.9l-3 0M1674.8 1637.1l-3 0M1674.8 1642.4l-3 0M1674.8 1647.6l-5.5 0M1674.8 1652.9l-3 0M1674.8 1658.1l-3 0M1674.8 1663.4l-3 0M1674.8 1668.6l-3 0M1674.8 1673.9l-5.5 0M1674.8 1679.2l-3 0M1674.8 1684.4l-3 0M1674.8 1689.7l-3 0M1674.8 1694.9l-3 0M1674.8 1700.2l-5.5 0M1674.8 1705.5l-3 0M1674.8 1710.7l-3 0M1674.8 1716l-3 0M1674.8 1721.2l-3 0M1674.8 1726.5l-5.5 0M1201.7 1752.9l4.3 -1.3M1213.2 1754.1l2.4 -0.7M1224.8 1755.2l2.4 -0.7M1236.3 1756.4l2.4 -0.7M1247.9 1757.5l2.4 -0.7M1259.4 1758.6l4.3 -1.3M1271 1759.8l2.4 -0.7M1282.5 1760.9l2.4 -0.7M1294.1 1762.1l2.4 -0.7M1305.6 1763.2l2.4 -0.7M1317.2 1764.3l4.3 -1.3M1328.7 1765.5l2.4 -0.7M1340.3 1766.6l2.4 -0.7M1351.8 1767.8l2.4 -0.7M1363.4 1768.9l2.4 -0.7M1374.9 1770.1l4.3 -1.3M1386.5 1771.2l2.4 -0.7M1398 1772.3l2.4 -0.7M1409.6 1773.5l2.4 -0.7M1421.1 1774.6l2.4 -0.7M1432.7 1775.8l4.3 -1.3M1444.2 1776.9l2.4 -0.7M1455.8 1778l2.4 -0.7M1467.3 1779.2l2.4 -0.7M1478.9 1780.3l2.4 -0.7M1490.4 1781.5l4.3 -1.3M1503.6 1780.9l-4.5 -0.4M1512 1778.4l-2.5 -0.2M1520.3 1775.9l-2.5 -0.2M1528.6 1773.4l-2.5 -0.2M1536.9 1771l-4.5 -0.4M1545.2 1768.5l-2.5 -0.2M1553.5 1766l-2.5 -0.2M1561.9 1763.6l-2.5 -0.2M1570.2 1761.1l-4.5 -0.4M1578.5 1758.6l-2.5 -0.2M1586.8 1756.2l-2.5 -0.2M1595.1 1753.7l-2.5 -0.2M1603.4 1751.2l-4.5 -0.4M1611.7 1748.7l-2.5 -0.2M1620.1 1746.3l-2.5 -0.2M1628.4 1743.8l-2.5 -0.2M1636.7 1741.3l-4.5 -0.4M1645 1738.9l-2.5 -0.2M1653.3 1736.4l-2.5 -0.2M1661.6 1733.9l-2.5 -0.2M1670 1731.4l-4.5 -0.4M1201.7 1586.4l4.3 -1.3M1213.2 1587.6l2.4 -0.7M1224.8 1588.7l2.4 -0.7M1236.3 1589.9l2.4 -0.7M1247.9 1591l2.4 -0.7M1259.4 1592.1l4.3 -1.3M1271 1593.3l2.4 -0.7M1282.5 1594.4l2.4 -0.7M1294.1 1595.6l2.4 -0.7M1305.6 1596.7l2.4 -0.7M1317.2 1597.8l4.3 -1.3M1328.7 1599l2.4 -0.7M1340.3 1600.1l2.4 -0.7M1351.8 1601.3l2.4 -0.7M1363.4 1602.4l2.4 -0.7M1374.9 1603.6l4.3 -1.3M1386.5 1604.7l2.4 -0.7M1398 1605.8l2.4 -0.7M1409.6 1607l2.4 -0.7M1421.1 1608.1l2.4 -0.7M1432.7 1609.3l4.3 -1.3M1444.2 1610.4l2.4 -0.7M1455.8 1611.5l2.4 -0.7M1467.3 1612.7l2.4 -0.7M1478.9 1613.8l2.4 -0.7M1490.4 1615l4.3 -1.3M1503.6 1614.4l-4.5 -0.4M1512 1611.9l-2.5 -0.2M1520.3 1609.4l-2.5 -0.2M1528.6 1606.9l-2.5 -0.2M1536.9 1604.5l-4.5 -0.4M1545.2 1602l-2.5 -0.2M1553.5 1599.5l-2.5 -0.2M1561.9 1597.1l-2.5 -0.2M1570.2 1594.6l-4.5 -0.4M1578.5 1592.1l-2.5 -0.2M1586.8 1589.7l-2.5 -0.2M1595.1 1587.2l-2.5 -0.2M1603.4 1584.7l-4.5 -0.4M1611.7 1582.2l-2.5 -0.2M1620.1 1579.8l-2.5 -0.2M1628.4 1577.3l-2.5 -0.2M1636.7 1574.8l-4.5 -0.4M1645 1572.4l-2.5 -0.2M1653.3 1569.9l-2.5 -0.2M1661.6 1567.4l-2.5 -0.2M1670 1564.9l-4.5 -0.4M1198.1 1584.2l4.5 0.4M1206.5 1581.7l2.5 0.2M1214.8 1579.2l2.5 0.2M1223.1 1576.7l2.5 0.2M1231.4 1574.3l4.5 0.4M1239.7 1571.8l2.5 0.2M1248 1569.3l2.5 0.2M1256.4 1566.9l2.5 0.2M1264.7 1564.4l4.5 0.4M1273 1561.9l2.5 0.2M1281.3 1559.4l2.5 0.2M1289.6 1557l2.5 0.2M1297.9 1554.5l4.5 0.4M1306.2 1552l2.5 0.2M1314.6 1549.6l2.5 0.2M1322.9 1547.1l2.5 0.2M1331.2 1544.6l4.5 0.4M1339.5 1542.2l2.5 0.2M1347.8 1539.7l2.5 0.2M1356.1 1537.2l2.5 0.2M1364.5 1534.7l4.5 0.4M1377.7 1534.1l-4.3 1.3M1389.2 1535.3l-2.4 0.7M1400.8 1536.4l-2.4 0.7M1412.3 1537.6l-2.4 0.7M1423.9 1538.7l-2.4 0.7M1435.4 1539.8l-4.3 1.3M1447 1541l-2.4 0.7M1458.5 1542.1l-2.4 0.7M1470.1 1543.3l-2.4 0.7M1481.6 1544.4l-2.4 0.7M1493.2 1545.5l-4.3 1.3M1504.7 1546.7l-2.4 0.7M1516.3 1547.8l-2.4 0.7M1527.8 1549l-2.4 0.7M1539.4 1550.1l-2.4 0.7M1550.9 1551.3l-4.3 1.3M1562.5 1552.4l-2.4 0.7M1574 1553.5l-2.4 0.7M1585.6 1554.7l-2.4 0.7M1597.1 1555.8l-2.4 0.7M1608.7 1557l-4.3 1.3M1620.2 1558.1l-2.4 0.7M1631.8 1559.2l-2.4 0.7M1643.3 1560.4l-2.4 0.7M1654.9 1561.5l-2.4 0.7M1666.4 1562.7l-4.3 1.3"/>
<rect x="1715.3" y="1522.3" width="90.4" height="203.6" fill="#fff" stroke="#0a0a0a" stroke-width="1"/>
<rect x="1719.5" y="1544.9" width="29.6" height="9.6" fill="#000060" stroke="#000030" stroke-width=".7"/>
<rect x="1719.5" y="1561.6" width="29.6" height="9.6" fill="#66235e" stroke="#33122f" stroke-width=".7"/>
<rect x="1719.5" y="1578.4" width="29.6" height="9.6" fill="#cc465d" stroke="#66232e" stroke-width=".7"/>
<rect x="1719.5" y="1595.1" width="29.6" height="9.6" fill="#e6464a" stroke="#732325" stroke-width=".7"/>
<rect x="1719.5" y="1611.9" width="29.6" height="9.6" fill="#b32325" stroke="#5a1212" stroke-width=".7"/>
<rect x="1719.5" y="1628.6" width="29.6" height="9.6" fill="#800000" stroke="#400000" stroke-width=".7"/>
<rect x="1719.5" y="1645.3" width="29.6" height="9.6" fill="#702866" stroke="#381433" stroke-width=".7"/>
<rect x="1719.5" y="1662.1" width="29.6" height="9.6" fill="#6050cc" stroke="#302866" stroke-width=".7"/>
<rect x="1719.5" y="1678.8" width="29.6" height="9.6" fill="#7950cc" stroke="#3c2866" stroke-width=".7"/>
<rect x="1719.5" y="1695.6" width="29.6" height="9.6" fill="#bc2866" stroke="#5e1433" stroke-width=".7"/>
<rect x="1719.5" y="1712.3" width="29.6" height="9.6" fill="#ff0000" stroke="#800000" stroke-width=".7"/>
<text transform="translate(1494 1496.4) scale(1.04 1)" text-anchor="middle">Dynamic time=35.0</text>
<text transform="translate(1189.8 1594.7) scale(1.12 1)" text-anchor="end">3200</text>
<text transform="translate(1189.8 1621) scale(1.12 1)" text-anchor="end">3100</text>
<text transform="translate(1189.8 1647.3) scale(1.12 1)" text-anchor="end">3000</text>
<text transform="translate(1189.8 1673.5) scale(1.12 1)" text-anchor="end">2900</text>
<text transform="translate(1189.8 1699.8) scale(1.12 1)" text-anchor="end">2800</text>
<text transform="translate(1189.8 1726.1) scale(1.12 1)" text-anchor="end">2700</text>
<text transform="translate(1189.8 1752.4) scale(1.12 1)" text-anchor="end">2600</text>
<text transform="translate(1140 1671) rotate(-90) scale(1.07 1)" text-anchor="middle">IC50</text>
<text transform="translate(1189.1 1775.2) scale(1.12 1)" text-anchor="middle">12</text>
<text transform="translate(1246.7 1780.8) scale(1.12 1)" text-anchor="middle">17</text>
<text transform="translate(1304.4 1786.9) scale(1.12 1)" text-anchor="middle">22</text>
<text transform="translate(1361.9 1792.4) scale(1.12 1)" text-anchor="middle">27</text>
<text transform="translate(1419.8 1798.3) scale(1.12 1)" text-anchor="middle">32</text>
<text transform="translate(1477.9 1803.6) scale(1.12 1)" text-anchor="middle">37</text>
<text transform="translate(1524 1801) scale(1.12 1)" text-anchor="middle">0</text>
<text transform="translate(1557 1791) scale(1.12 1)" text-anchor="middle">40</text>
<text transform="translate(1590 1781) scale(1.12 1)" text-anchor="middle">80</text>
<text transform="translate(1624.5 1771) scale(1.12 1)" text-anchor="middle">120</text>
<text transform="translate(1657.5 1761.5) scale(1.12 1)" text-anchor="middle">160</text>
<text transform="translate(1691 1751.5) scale(1.12 1)" text-anchor="middle">200</text>
<path d="M215.8 2232.6L533.3 2259L687.7 2204.3L687.7 2038L370.2 2011.6L215.8 2066.3Z" fill="#fff"/>
<path class="k" d="M370.2 2177.9L215.8 2232.6M370.2 2177.9L687.7 2204.3M370.2 2177.9L370.2 2011.6M370.2 2016.7l5.5 0M370.2 2024.6l3 0M370.2 2032.4l3 0M370.2 2040.3l3 0M370.2 2048.1l3 0M370.2 2056l5.5 0M370.2 2063.9l3 0M370.2 2071.7l3 0M370.2 2079.6l3 0M370.2 2087.4l3 0M370.2 2095.3l5.5 0M370.2 2103.2l3 0M370.2 2111l3 0M370.2 2118.9l3 0M370.2 2126.7l3 0M370.2 2134.6l5.5 0M370.2 2142.5l3 0M370.2 2150.3l3 0M370.2 2158.2l3 0M370.2 2166l3 0M370.2 2173.9l5.5 0"/>
<g transform="matrix(0.3 0.0249 0.1459 -0.0517 228.8 2227.1)" clip-path="url(#cu)"><rect width="1000" height="1000" fill="#7882f8"/><g transform="translate(436.4 670.7) rotate(-67.7)"><ellipse rx="1036" ry="726" fill="#7283f3"/><ellipse rx="1028" ry="720.4" fill="#6b84ee"/><ellipse rx="1020.1" ry="714.8" fill="#6585e9"/><ellipse rx="1012" ry="709.2" fill="#5f86e4"/><ellipse rx="1003.9" ry="703.5" fill="#5987df"/><ellipse rx="995.7" ry="697.8" fill="#5388da"/><ellipse rx="987.5" ry="692" fill="#4d8ad5"/><ellipse rx="979.2" ry="686.2" fill="#478bd0"/><ellipse rx="970.8" ry="680.3" fill="#408ccb"/><ellipse rx="962.4" ry="674.4" fill="#3a8dc6"/><ellipse rx="953.8" ry="668.4" fill="#348ec1"/><ellipse rx="945.2" ry="662.4" fill="#2e8fbc"/><ellipse rx="936.5" ry="656.3" fill="#2891b7"/><ellipse rx="927.8" ry="650.1" fill="#2292b2"/><ellipse rx="918.9" ry="643.9" fill="#1b93ad"/><ellipse rx="910" ry="637.7" fill="#1594a8"/><ellipse rx="901" ry="631.4" fill="#0f95a2"/><ellipse rx="891.8" ry="625" fill="#09969d"/><ellipse rx="882.6" ry="618.5" fill="#039798"/><ellipse rx="869.2" ry="609.1" fill="#009492"/><ellipse rx="853.9" ry="598.4" fill="#008e8c"/><ellipse rx="838.3" ry="587.5" fill="#008886"/><ellipse rx="822.5" ry="576.3" fill="#008280"/><ellipse rx="806.3" ry="565" fill="#007b7a"/><ellipse rx="789.8" ry="553.5" fill="#007574"/><ellipse rx="772.9" ry="541.7" fill="#006f6e"/><ellipse rx="755.7" ry="529.6" fill="#006968"/><ellipse rx="738.1" ry="517.2" fill="#006362"/><ellipse rx="720" ry="504.6" fill="#005d5c"/><ellipse rx="701.5" ry="491.6" fill="#005656"/><ellipse rx="682.5" ry="478.3" fill="#005050"/><ellipse rx="662.9" ry="464.5" fill="#004a4a"/><ellipse rx="644.9" ry="451.9" fill="#064547"/><ellipse rx="632.8" ry="443.4" fill="#0c4147"/><ellipse rx="620.5" ry="434.8" fill="#133e46"/><ellipse rx="607.9" ry="426" fill="#193b46"/><ellipse rx="595.1" ry="417" fill="#1f3845"/><ellipse rx="582" ry="407.8" fill="#253445"/><ellipse rx="568.5" ry="398.4" fill="#2b3144"/><ellipse rx="554.8" ry="388.8" fill="#312e44"/><ellipse rx="540.7" ry="378.9" fill="#382b43"/><ellipse rx="526.2" ry="368.8" fill="#3e2743"/><ellipse rx="511.4" ry="358.3" fill="#442442"/><ellipse rx="496" ry="347.6" fill="#4a2141"/><ellipse rx="480.2" ry="336.5" fill="#501e41"/><ellipse rx="463.9" ry="325.1" fill="#561a40"/><ellipse rx="446.9" ry="313.2" fill="#5d1740"/><ellipse rx="429.3" ry="300.9" fill="#63143f"/><ellipse rx="411" ry="288" fill="#69103f"/><ellipse rx="391.7" ry="274.5" fill="#6f0d3e"/><ellipse rx="371.5" ry="260.3" fill="#750a3e"/><ellipse rx="350.1" ry="245.3" fill="#7b073d"/><ellipse rx="327.3" ry="229.4" fill="#82033d"/><ellipse rx="302.8" ry="212.2" fill="#88003c"/><ellipse rx="257.5" ry="180.4" fill="#880042"/><ellipse rx="204.4" ry="143.2" fill="#880048"/><ellipse rx="131.3" ry="92" fill="#88004e"/></g></g>
<g><path fill="url(#i47)" d="M371.6 2090.9l15-6.4 15-5.3 15.1-4.3 15-3.2 15-2 15-1 15 .1 15 1.2 15 2.3 15 3.4 15 4.5 15 5.5 15 6.7 15 7.8 15 8.8 15 9.9 15 11 15 12.1 15 13.2 15 14.3 3 1.7-15-14.4-15-13.3-15-12.2-15-11.1-15-10-15-8.9-15-7.8-15-6.8-15-5.6-15-4.6-15-3.5-15-2.4-15-1.2-15-.2-15 .8-15 2-15 3.1-15 4.2-15 5.2-15 6.3z"/>
<path fill="url(#i46)" d="M368.6 2091.1l15-6.5 15-5.4 15-4.4 15-3.2 15-2.2 15-1 15 0 15 1.1 15 2.2 15 3.3 15 4.4 15 5.5 15 6.6 15 7.6 15 8.8 15 9.8 15 10.9 15 12.1 15 13.1 15 14.2 4.9 2.5-15-14.3-15-13.3-15-12.1-15-11.1-15-10-15-8.9-15-7.8-15-6.7-15-5.6-15-4.5-15-3.5-15-2.3-15-1.3-15-.1-15 .9-15 2-15 3.1-15 4.2-15 5.3-15 6.4z"/>
<path fill="url(#i45)" d="M365.6 2091.4l15-6.6 15-5.5 15-4.4 15-3.4 15-2.2 15-1.1 15-.1 15 1 15 2.1 15 3.3 15 4.3 15 5.3 15 6.5 15 7.6 15 8.7 15 9.7 15 10.9 15 11.9 15 13 15 14.1 4.9 2.4-15-14.3-15-13.1-15-12.1-15-11-15-9.9-15-8.8-15-7.7-15-6.6-15-5.5-15.1-4.5-15-3.3-15-2.3-15-1.2-15 0-15 1-15 2.1-15 3.2-15 4.2-15 5.4-15 6.5z"/>
<path fill="url(#i44)" d="M362.5 2091.8l15-6.6 15-5.6 15-4.6 15-3.4 15-2.3 15-1.2 15-.2 15 .9 15 2.1 15 3.1 15 4.2 15 5.3 15.1 6.4 15 7.5 15 8.6 15 9.6 15 10.8 15 11.8 15 13 15 14 4.8 2.2-15-14.2-15-13.1-15-12-15-10.8-15-9.9-15-8.7-15-7.6-15-6.5-15-5.5-15-4.3-15-3.3-15-2.2-15-1-15 0-15 1.1-15 2.2-15 3.2-15 4.4-15 5.5-15 6.5z"/>
<path fill="url(#i43)" d="M359.5 2092.4l15-6.8 15-5.7 15-4.6 15-3.5 15-2.4 15-1.3 15-.3 15 .9 15 1.9 15 3.1 15 4.1 15 5.2 15 6.3 15 7.4 15 8.5 15 9.6 15 10.6 15 11.8 15 12.8 15 14 4.9 2-15-14.1-15-13-15-11.9-15-10.8-15-9.7-15-8.6-15-7.6-15-6.4-15-5.4-15-4.2-15-3.2-15-2.1-15-1-15 .1-15 1.2-15 2.3-15 3.3-15 4.5-15 5.5-15 6.7z"/>
<path fill="url(#i42)" d="M356.4 2093l15-6.8 15.1-5.8 15-4.7 15-3.6 15-2.5 15-1.4 15-.3 15 .7 15 1.9 15 2.9 15 4.1 15 5.1 15 6.2 15 7.3 15 8.4 15 9.5 15 10.6 15 11.7 15 12.7 15 13.9 4.8 1.8-15-14-15-12.9-15-11.8-15-10.7-15-9.7-15-8.5-15-7.4-15-6.4-15-5.3-15-4.1-15-3.1-15-2-15-.9-15 .1-15 1.3-15 2.4-15 3.4-15 4.6-15 5.6-15 6.7z"/>
<path fill="url(#i41)" d="M353.4 2093.8l15-7 15-5.8 15-4.8 15-3.7 15-2.6 15-1.5 15-.4 15 .7 15 1.8 15 2.8 15 4 15 5 15 6.2 15 7.2 15 8.3 15 9.4 15 10.5 15 11.6 15 12.6 15 13.8 4.9 1.6-15-13.9-15-12.8-15-11.7-15-10.6-15-9.6-15-8.4-15-7.4-15-6.3-15-5.1-15-4.1-15-3-15-1.9-15-.9-15 .3-15 1.4-15 2.4-15 3.6-15 4.6-15 5.7-15 6.8z"/>
<path fill="url(#i40)" d="M350.4 2094.7l15-7.1 15-5.9 15-4.9 15-3.7 15-2.7 15-1.6 15-.5 15 .6 15 1.7 15 2.7 15 3.9 15 5 15 6 15 7.1 15 8.3 15 9.3 15 10.4 15 11.5 15 12.6 15 13.6 4.9 1.5-15-13.8-15-12.8-15-11.6-15-10.5-15-9.5-15-8.4-15-7.2-15-6.2-15-5.1-15.1-4-15-2.9-15-1.8-15-.8-15 .4-15 1.4-15 2.6-15 3.6-15 4.7-15 5.8-15 6.9z"/>
<path fill="url(#i39)" d="M347.3 2095.7l15-7.1 15-6.1 15-4.9 15-3.9 15-2.8 15-1.6 15-.6 15 .5 15 1.6 15 2.7 15 3.7 15.1 4.9 15 6 15 7 15 8.1 15 9.3 15 10.3 15 11.4 15 12.5 15 13.6 4.8 1.2-15-13.7-15-12.6-15-11.6-15-10.4-15-9.4-15-8.3-15-7.2-15-6.1-15-5-15-3.9-15-2.8-15-1.7-15-.7-15 .5-15 1.5-15 2.6-15 3.7-15 4.9-15 5.9-15 6.9z"/>
<path fill="url(#i38)" d="M344.3 2096.8l15-7.2 15-6.1 15-5.1 15-3.9 15-2.9 15-1.7 15-.7 15 .4 15 1.5 15 2.6 15 3.7 15 4.8 15 5.8 15 7 15 8 15 9.2 15 10.2 15 11.3 15 12.4 15 13.5 4.9 1.1-15-13.6-15-12.6-15-11.4-15-10.4-15-9.3-15-8.2-15-7.1-15-6-15-4.9-15-3.8-15-2.8-15-1.6-15-.6-15 .6-15 1.6-15 2.7-15 3.8-15 4.9-15 6-15 7.1z"/>
<path fill="url(#i37)" d="M341.2 2098l15-7.3 15.1-6.2 15-5.1 15-4 15-3 15-1.8 15-.8 15 .3 15 1.4 15 2.6 15 3.6 15 4.6 15 5.8 15 6.9 15 8 15 9 15 10.2 15 11.2 15 12.3 15 13.4 4.8 .9-15-13.5-15-12.5-15-11.4-15-10.3-15-9.2-15-8.1-15-7-15-5.9-15-4.8-15-3.8-15-2.6-15-1.6-15-.4-15 .6-15 1.7-15 2.8-15 3.9-15 5-15 6.1-15 7.1z"/>
<path fill="url(#i36)" d="M338.2 2099.4l15-7.4 15-6.3 15-5.2 15-4.1 15-3.1 15-1.9 15-.9 15 .3 15 1.3 15 2.4 15 3.5 15 4.6 15 5.7 15 6.8 15 7.9 15 9 15 10 15 11.2 15 12.2 15 13.3 4.9 .7-15-13.4-15-12.4-15-11.3-15-10.2-15-9.1-15-8-15-6.9-15-5.9-15-4.7-15-3.7-15-2.5-15-1.5-15-.4-15 .7-15 1.8-15 2.9-15 4-15 5.1-15 6.1-15 7.3z"/>
<path fill="url(#i35)" d="M335.2 2100.8l15-7.4 15-6.4 15-5.3 15-4.2 15-3.2 15-2 15-.9 15 .1 15 1.3 15 2.3 15 3.4 15 4.6 15 5.6 15 6.7 15 7.7 15 8.9 15 10 15 11 15 12.2 15 13.2 4.9 .5-15-13.3-15-12.3-15-11.2-15-10.1-15-9-15-8-15-6.8-15-5.7-15-4.7-15-3.6-15.1-2.4-15-1.4-15-.3-15 .8-15 1.9-15 2.9-15 4.1-15 5.2-15 6.2-15 7.4z"/>
<path fill="url(#i34)" d="M332.1 2102.4l15-7.6 15-6.4 15-5.4 15-4.3 15-3.2 15-2.1 15-1.1 15 .1 15 1.2 15 2.2 15 3.3 15.1 4.5 15 5.5 15 6.6 15 7.7 15 8.8 15 9.9 15 10.9 15 12.1 15 13.1 4.8 .4-15-13.3-15-12.2-15-11.1-15-10-15-9-15-7.8-15-6.8-15-5.6-15-4.6-15-3.5-15-2.3-15-1.3-15-.2-15 .8-15 2-15 3.1-15 4.1-15 5.3-15 6.3-15 7.4z"/>
<path fill="url(#i33)" d="M329.1 2104.1l15-7.6 15-6.6 15-5.5 15-4.4 15-3.3 15-2.2 15-1.1 15 0 15 1.1 15 2.1 15 3.3 15 4.3 15 5.4 15 6.6 15 7.6 15 8.7 15 9.8 15 10.9 15 11.9 15 13.1 4.9 .1-15-13.2-15-12.1-15-11-15-9.9-15-8.9-15-7.7-15-6.7-15-5.6-15-4.4-15-3.4-15-2.3-15-1.2-15-.1-15 .9-15 2.1-15 3.1-15 4.3-15 5.3-15 6.4-15 7.6z"/>
<path fill="url(#i32)" d="M326 2105.9l15.1-7.7 15-6.7 15-5.5 15-4.5 15-3.4 15-2.3 15-1.2 15-.1 15 1 15 2.1 15 3.1 15 4.3 15 5.3 15 6.4 15 7.6 15 8.6 15 9.7 15 10.8 15 11.9 15 12.9 4.9 0-15.1-13.1-15-12-15-11-15-9.8-15-8.8-15-7.6-15-6.6-15-5.5-15-4.4-15-3.3-15-2.2-15-1.1-15 0-15 1-15 2.2-15 3.2-15 4.3-15 5.5-15 6.5-15 7.6z"/>
<path fill="url(#i31)" d="M323 2107.8l15-7.8 15-6.7 15-5.7 15-4.5 15-3.5 15-2.4 15-1.3 15-.2 15 .9 15 2 15 3.1 15 4.1 15 5.3 15 6.3 15 7.5 15 8.5 15 9.6 15 10.7 15 11.8 15 12.9 4.9-.2-15-13-15-12-15-10.8-15-9.8-15-8.6-15-7.6-15-6.5-15-5.4-15-4.3-15-3.2-15-2.1-15-1.1-15 .1-15 1.1-15 2.3-15 3.3-15 4.4-15 5.5-15 6.6-15 7.7z"/>
<path fill="url(#i30)" d="M320 2109.9l15-7.9 15-6.9 15-5.7 15-4.7 15-3.5 15-2.5 15-1.4 15-.2 15 .8 15 1.9 15 3 15 4 15 5.2 15 6.3 15 7.3 15 8.4 15 9.6 15 10.6 15 11.7 15 12.8 4.9-.4-15-12.9-15-11.9-15-10.8-15-9.6-15-8.6-15-7.5-15-6.4-15-5.3-15-4.2-15-3.1-15-2.1-15.1-.9-15 .1-15 1.3-15 2.3-15 3.4-15 4.5-15 5.6-15 6.7-15 7.8z"/>
<path fill="url(#i29)" d="M316.9 2112l15-8 15-6.9 15-5.8 15-4.8 15-3.6 15-2.6 15-1.4 15-.4 15 .7 15 1.8 15.1 2.9 15 4 15 5.1 15 6.2 15 7.2 15 8.4 15 9.4 15 10.6 15 11.6 15 12.7 4.8-.6-15-12.8-15-11.8-15-10.7-15-9.6-15-8.4-15-7.4-15-6.4-15-5.2-15-4.1-15-3-15-2-15-.9-15 .3-15 1.3-15 2.4-15 3.5-15 4.6-15 5.7-15 6.8-15 7.8z"/>
<path fill="url(#i28)" d="M313.9 2114.3l15-8.1 15-7 15-5.9 15-4.8 15-3.8 15-2.6 15-1.6 15-.4 15 .6 15 1.7 15 2.8 15 3.9 15 5 15 6.1 15 7.2 15 8.3 15 9.3 15 10.5 15 11.5 15 12.6 4.9-.8-15-12.7-15-11.7-15-10.6-15-9.5-15-8.4-15-7.3-15-6.2-15-5.1-15-4.1-15-2.9-15-1.9-15-.8-15 .4-15 1.4-15 2.5-15 3.6-15 4.6-15 5.8-15 6.9-15 7.9z"/>
<path fill="url(#i27)" d="M310.9 2116.7l15-8.2 15-7.1 15-6 15-4.9 15-3.8 15-2.8 15-1.6 15-.5 15 .5 15 1.6 15 2.8 15 3.8 15 4.9 15 6 15 7.1 15 8.1 15 9.3 15 10.4 15 11.4 15 12.5 4.9-.9-15.1-12.7-15-11.6-15-10.5-15-9.4-15-8.3-15-7.2-15-6.2-15-5-15-4-15-2.8-15-1.8-15-.7-15 .4-15 1.5-15 2.6-15 3.7-15 4.8-15 5.8-15 7-15 8z"/>
<path fill="url(#i26)" d="M307.8 2119.2l15-8.3 15-7.2 15-6.1 15-5 15-3.9 15-2.8 15-1.7 15-.6 15 .4 15 1.6 15 2.6 15 3.7 15 4.8 15 5.9 15 7 15 8.1 15 9.2 15 10.3 15 11.3 15 12.5 4.9-1.2-15-12.5-15-11.5-15-10.4-15-9.4-15-8.2-15-7.1-15-6.1-15-4.9-15-3.9-15-2.8-15-1.7-15-.6-15 .5-15 1.6-15 2.7-15 3.8-15 4.8-15 6-15 7-15 8.1z"/>
<path fill="url(#i25)" d="M304.8 2121.8l15-8.4 15-7.2 15-6.2 15-5.1 15-4 15-2.9 15-1.8 15-.7 15 .3 15 1.5 15 2.5 15 3.7 15 4.7 15 5.8 15 6.9 15 8 15 9.1 15 10.2 15 11.3 15 12.3 4.9-1.3-15-12.5-15-11.4-15-10.3-15-9.2-15-8.2-15-7-15-6-15-4.9-15-3.7-15-2.7-15-1.6-15.1-.5-15 .6-15 1.6-15 2.8-15 3.8-15 5-15 6-15 7.1-15 8.3z"/>
<path fill="url(#i24)" d="M301.7 2124.5l15-8.4 15-7.4 15-6.2 15-5.2 15-4.1 15-3 15-1.9 15-.8 15 .3 15.1 1.4 15 2.4 15 3.6 15 4.6 15 5.7 15 6.9 15 7.9 15 9 15 10.1 15 11.2 15 12.2 4.8-1.5-15-12.4-15-11.3-15-10.3-15-9.1-15-8-15-7-15-5.9-15-4.8-15-3.7-15-2.6-15-1.5-15-.4-15 .7-15 1.7-15 2.9-15 3.9-15 5.1-15 6.1-15 7.2-15 8.3z"/>
<path fill="url(#i23)" d="M298.7 2127.4l15-8.6 15-7.4 15-6.4 15-5.2 15-4.2 15-3.1 15-2 15-.9 15 .2 15 1.3 15 2.4 15 3.5 15 4.5 15 5.7 15 6.7 15 7.8 15 8.9 15 10 15 11.1 15 12.2 4.9-1.7-15-12.3-15-11.2-15-10.2-15-9-15-8-15-6.9-15-5.8-15-4.7-15-3.6-15-2.5-15-1.4-15-.3-15 .7-15 1.9-15 2.9-15 4-15 5.2-15 6.2-15 7.3-15 8.4z"/>
<path fill="url(#i22)" d="M295.7 2130.3l15-8.6 15-7.5 15-6.5 15-5.3 15-4.3 15-3.1 15-2.1 15-1 15 .1 15 1.2 15 2.3 15 3.4 15 4.4 15 5.6 15 6.6 15 7.8 15 8.8 15 9.9 15 11 15 12.1 4.9-1.9-15-12.2-15.1-11.1-15-10.1-15-9-15-7.8-15-6.8-15-5.7-15-4.6-15-3.5-15-2.5-15-1.3-15-.3-15 .9-15 1.9-15 3.1-15 4.1-15 5.2-15 6.3-15 7.4-15 8.4z"/>
<path fill="url(#i21)" d="M292.6 2133.4l15-8.7 15-7.6 15-6.6 15-5.4 15-4.3 15-3.3 15-2.1 15-1.1 15 0 15 1.1 15 2.2 15 3.3 15 4.4 15 5.4 15 6.6 15 7.6 15 8.8 15 9.8 15 10.9 15 12 4.9-2-15-12.2-15-11-15-10-15-8.9-15-7.8-15-6.7-15-5.6-15-4.5-15-3.4-15-2.4-15-1.2-15-.2-15 1-15 2-15 3.1-15 4.2-15 5.3-15 6.4-15 7.5-15 8.5z"/>
<path fill="url(#i20)" d="M289.6 2136.6l15-8.8 15-7.7 15-6.6 15-5.5 15-4.5 15-3.3 15-2.3 15-1.1 15-.1 15 1 15 2.1 15 3.2 15 4.3 15 5.4 15 6.5 15 7.5 15 8.7 15 9.7 15 10.9 15 11.9 4.9-2.3-15-12-15-11-15-9.9-15-8.8-15-7.7-15-6.6-15-5.5-15-4.4-15-3.4-15-2.2-15-1.2-15-.1-15.1 1.1-15 2.1-15 3.2-15 4.3-15 5.3-15 6.5-15 7.6-15 8.6z"/>
<path fill="url(#i19)" d="M286.5 2139.9l15-8.9 15-7.8 15-6.7 15-5.6 15-4.5 15-3.4 15-2.4 15-1.2 15-.2 15.1 .9 15 2.1 15 3.1 15 4.2 15 5.3 15 6.4 15 7.4 15 8.6 15 9.7 15 10.7 15 11.8 4.8-2.4-15-12-15-10.9-15-9.7-15-8.8-15-7.6-15-6.5-15-5.4-15-4.4-15-3.2-15-2.2-15-1.1-15 .1-15 1.1-15 2.2-15 3.3-15 4.3-15 5.5-15 6.6-15 7.6-15 8.8z"/>
<path fill="url(#i18)" d="M283.5 2143.3l15-9 15-7.8 15-6.8 15-5.7 15-4.6 15-3.5 15-2.5 15-1.3 15-.3 15 .9 15 1.9 15 3.1 15 4.1 15 5.2 15 6.3 15 7.4 15 8.4 15 9.6 15 10.7 15 11.7 4.9-2.6-15-11.9-15-10.8-15-9.7-15-8.6-15-7.5-15-6.5-15-5.3-15-4.3-15-3.2-15-2-15-1-15 .1-15 1.2-15 2.3-15 3.4-15 4.4-15 5.6-15 6.6-15 7.8-15 8.8z"/>
<path fill="url(#i17)" d="M280.5 2146.8l15-9 15-8 15-6.9 15-5.7 15-4.7 15-3.6 15-2.6 15-1.4 15-.3 15 .7 15 1.9 15 2.9 15 4.1 15 5.1 15 6.2 15 7.3 15 8.4 15 9.5 15 10.5 15 11.7 4.9-2.8-15-11.8-15-10.7-15.1-9.6-15-8.6-15-7.4-15-6.4-15-5.2-15-4.2-15-3.1-15-2-15-.8-15 .1-15 1.3-15 2.4-15 3.5-15 4.5-15 5.7-15 6.7-15 7.8-15 8.9z"/>
<path fill="url(#i16)" d="M277.4 2150.5l15-9.1 15-8.1 15-7 15-5.8 15-4.8 15-3.7 15-2.6 15-1.5 15-.4 15 .6 15 1.8 15 2.8 15 4 15 5 15 6.1 15 7.2 15 8.3 15 9.4 15 10.5 15.1 11.6 4.8-3-15-11.7-15-10.6-15-9.6-15-8.4-15-7.4-15-6.2-15-5.2-15-4.1-15-3-15-1.9-15-.8-15 .3-15 1.4-15 2.4-15 3.6-15 4.6-15 5.8-15 6.8-15 7.9-15 9z"/>
<path fill="url(#i15)" d="M274.4 2154.3l15-9.3 15-8.1 15-7.1 15-5.9 15-4.9 15-3.8 15-2.7 15-1.6 15-.5 15 .6 15 1.7 15 2.7 15 3.9 15 4.9 15 6.1 15 7.1 15 8.2 15 9.3 15 10.4 15 11.5 4.9-3.2-15-11.6-15-10.5-15-9.5-15-8.3-15-7.3-15-6.2-15-5-15-4-15-2.9-15-1.9-15-.7-15 .4-15 1.5-15.1 2.5-15 3.6-15 4.8-15 5.8-15 6.9-15 8-15 9.1z"/>
<path fill="url(#i14)" d="M271.3 2158.1l15-9.3 15-8.2 15-7.1 15-6.1 15-4.9 15-3.9 15-2.8 15-1.7 15.1-.6 15 .5 15 1.6 15 2.7 15 3.7 15 4.9 15 5.9 15 7.1 15 8.1 15 9.2 15 10.3 15 11.4 4.8-3.3-15-11.6-15-10.4-15-9.4-15-8.2-15-7.2-15-6.1-15-5-15-3.9-15-2.8-15-1.7-15-.7-15 .5-15 1.5-15 2.7-15 3.7-15 4.8-15 5.9-15 7-15 8.1-15 9.2z"/>
<path fill="url(#i13)" d="M268.3 2162.1l15-9.4 15-8.3 15-7.2 15-6.1 15-5.1 15-3.9 15-2.9 15-1.8 15-.7 15 .4 15 1.5 15 2.6 15 3.7 15 4.8 15 5.8 15 7 15 8 15 9.1 15 10.3 15 11.3 4.9-3.6-15-11.4-15-10.4-15-9.2-15-8.2-15-7.1-15-6-15-4.9-15-3.8-15-2.8-15-1.6-15-.5-15 .5-15 1.6-15 2.8-15 3.8-15 4.9-15 6-15 7.1-15 8.1-15 9.3z"/>
<path fill="url(#i12)" d="M265.3 2166.3l15-9.5 15-8.4 15-7.4 15-6.2 15-5.1 15-4.1 15-2.9 15-1.9 15-.7 15 .3 15 1.4 15 2.5 15 3.6 15 4.7 15 5.7 15 6.9 15 7.9 15 9.1 15 10.1 15 11.2 4.9-3.7-15-11.3-15-10.3-15.1-9.2-15-8.1-15-7-15-5.9-15-4.8-15-3.8-15-2.6-15-1.5-15-.5-15 .6-15 1.7-15 2.9-15 3.9-15 5-15 6-15 7.2-15 8.3-15 9.3z"/>
<path fill="url(#i11)" d="M262.2 2170.5l15-9.6 15-8.5 15-7.4 15-6.3 15-5.2 15-4.2 15-3 15-1.9 15-.9 15 .2 15 1.4 15 2.4 15 3.5 15 4.6 15 5.6 15 6.8 15 7.9 15 8.9 15.1 10.1 15 11.1 4.8-3.9-15-11.3-15-10.2-15-9-15-8.1-15-6.9-15-5.8-15-4.7-15-3.7-15-2.5-15-1.5-15-.3-15 .7-15 1.8-15 2.9-15 4-15 5-15 6.2-15 7.3-15 8.3-15 9.5z"/>
<path fill="url(#i10)" d="M259.2 2174.8l15-9.6 15-8.6 15-7.5 15-6.4 15-5.3 15-4.2 15-3.2 15-2 15-.9 15 .1 15 1.2 15 2.4 15 3.4 15 4.5 15 5.6 15 6.7 15 7.7 15 8.9 15 10 15 11 4.9-4.1-15-11.2-15-10.1-15-9-15-7.9-15-6.8-15-5.8-15-4.6-15-3.6-15-2.4-15-1.4-15-.3-15 .8-15 1.9-15.1 3-15 4.1-15 5.2-15 6.2-15 7.4-15 8.4-15 9.5z"/>
<path fill="url(#i9)" d="M256.1 2179.3l15-9.8 15-8.6 15-7.6 15-6.5 15-5.4 15-4.3 15-3.2 15-2.1 15.1-1.1 15 .1 15 1.1 15 2.3 15 3.3 15 4.4 15 5.5 15 6.6 15 7.7 15 8.8 15 9.8 15 11 4.8-4.3-15-11.1-15-10-15-8.9-15-7.8-15-6.8-15-5.6-15-4.6-15-3.4-15-2.4-15-1.3-15-.2-15 .9-15 2-15 3.1-15 4.1-15 5.3-15 6.3-15 7.5-15 8.5-15 9.6z"/>
<path fill="url(#i8)" d="M253.1 2183.9l15-9.9 15-8.7 15-7.7 15-6.6 15-5.5 15-4.4 15-3.3 15-2.2 15-1.1 15 0 15 1 15 2.2 15 3.2 15 4.4 15 5.4 15 6.5 15 7.6 15 8.7 15 9.8 15 10.8 4.9-4.4-15-11-15-10-15-8.8-15-7.7-15-6.7-15-5.5-15-4.5-15-3.4-15-2.3-15-1.2-15-.1-15 1-15 2.1-15 3.1-15 4.3-15 5.3-15 6.5-15 7.5-15 8.6-15 9.7z"/>
<path fill="url(#i7)" d="M250.1 2188.5l15-9.9 15-8.8 15-7.8 15-6.6 15-5.6 15-4.5 15-3.4 15-2.3 15-1.2 15-.1 15 1 15 2 15 3.2 15 4.2 15 5.3 15 6.5 15 7.5 15 8.6 15 9.7 15 10.8 4.9-4.7-15-10.9-15-9.8-15-8.8-15.1-7.6-15-6.6-15-5.5-15-4.4-15-3.2-15-2.2-15-1.2-15 0-15 1.1-15 2.2-15 3.2-15 4.3-15 5.5-15 6.5-15 7.6-15 8.7-15 9.8z"/>
<path fill="url(#i6)" d="M247 2193.3l15-10 15-8.9 15-7.8 15-6.8 15-5.6 15-4.6 15-3.5 15-2.4 15-1.3 15-.2 15 .9 15 2 15 3 15 4.2 15 5.2 15 6.4 15 7.4 15 8.5 15.1 9.6 15 10.7 4.8-4.8-15-10.8-15-9.8-15-8.6-15-7.6-15-6.5-15-5.4-15-4.3-15-3.2-15-2.1-15-1-15 .1-15 1.1-15 2.3-15 3.3-15 4.4-15 5.5-15 6.6-15 7.7-15 8.8-15 9.9z"/>
<path fill="url(#i5)" d="M244 2198.3l15-10.1 15-9.1 15-7.9 15-6.8 15-5.8 15-4.6 15-3.6 15-2.5 15-1.3 15-.3 15 .8 15 1.8 15 3 15 4.1 15 5.1 15 6.3 15 7.3 15 8.5 15 9.5 15 10.6 4.9-5-15-10.8-15-9.6-15-8.6-15-7.5-15-6.4-15-5.3-15-4.2-15-3.1-15-2-15-1-15 .2-15 1.2-15 2.4-15 3.4-15.1 4.5-15 5.6-15 6.7-15 7.8-15 8.9-15 10z"/>
<path fill="url(#i4)" d="M240.9 2203.3l15-10.2 15-9.1 15-8 15-6.9 15-5.9 15-4.7 15-3.7 15.1-2.5 15-1.5 15-.4 15 .7 15 1.8 15 2.9 15 4 15 5.1 15 6.1 15 7.3 15 8.3 15 9.4 15 10.6 4.8-5.2-15-10.7-15-9.6-15-8.4-15-7.4-15-6.3-15-5.2-15-4.2-15-3-15-1.9-15-.9-15 .3-15 1.3-15 2.4-15 3.5-15 4.6-15 5.7-15 6.8-15 7.9-15 8.9-15 10.1z"/>
<path fill="url(#i3)" d="M237.9 2208.5l15-10.3 15-9.2 15-8.1 15-7 15-6 15-4.8 15-3.7 15-2.7 15-1.5 15-.5 15 .6 15 1.7 15 2.8 15 3.9 15 5 15 6.1 15 7.1 15 8.3 15 9.3 15 10.5 4.9-5.4-15-10.6-15-9.5-15-8.4-15-7.3-15-6.2-15-5.1-15-4-15-3-15-1.8-15-.8-15 .3-15 1.5-15 2.5-15 3.6-15 4.7-15 5.7-15 6.9-15 8-15 9-15 10.2z"/>
<path fill="url(#i2)" d="M234.9 2213.7l15-10.4 15-9.2 15-8.2 15-7.1 15-6 15-4.9 15-3.9 15-2.7 15-1.7 15-.5 15 .5 15 1.6 15 2.8 15 3.8 15 4.9 15 5.9 15 7.1 15 8.2 15 9.2 15 10.4 4.9-5.6-15-10.5-15-9.4-15-8.3-15-7.2-15.1-6.1-15-5.1-15-3.9-15-2.8-15-1.8-15-.7-15 .4-15 1.5-15 2.6-15 3.7-15 4.8-15 5.9-15 6.9-15 8.1-15 9.1-15 10.2z"/>
<path fill="url(#i1)" d="M231.8 2219.1l15-10.5 15-9.3 15-8.3 15-7.2 15-6.1 15-5 15-3.9 15-2.8 15-1.8 15-.6 15 .4 15 1.6 15 2.6 15 3.7 15 4.8 15 5.9 15 7 15.1 8.1 15 9.1 15 10.3 4.8-5.7-15-10.4-15-9.4-15-8.2-15-7.1-15-6-15-5-15-3.8-15-2.8-15-1.7-15-.6-15 .5-15 1.6-15 2.7-15 3.8-15 4.9-15 5.9-15 7.1-15 8.1-15 9.2-15 10.3z"/>
<path fill="url(#i0)" d="M228.8 2224.6l15-10.6 15-9.4 15-8.4 15-7.2 15-6.2 15-5.1 15-4 15-2.9 15-1.9 15-.7 15 .4 15 1.4 15 2.5 15 3.7 15 4.7 15 5.8 15 6.9 15 8 15 9.1 15 10.2 4.9-6-15-10.3-15-9.2-15-8.1-15-7.1-15-5.9-15-4.9-15-3.8-15-2.6-15-1.6-15-.5-15 .6-15 1.6-15 2.8-15 3.9-15 4.9-15.1 6.1-15 7.1-15 8.2-15 9.3-15 10.5z"/></g>
<path class="bl" d="M228.8 2224.6L238.2 2217.9L247.5 2211.6L256.9 2205.7L266.3 2200.3L275.7 2195.3L285 2190.7L294.4 2186.5L303.8 2182.8L313.2 2179.5L322.5 2176.6L331.9 2174.1L341.3 2172.1L350.7 2170.5L360 2169.3L369.4 2168.5L378.8 2168.2L388.2 2168.3L397.5 2168.8L406.9 2169.8L416.3 2171.1L425.7 2172.9L435.1 2175.2L444.4 2177.8L453.8 2180.9L463.2 2184.4L472.6 2188.3L481.9 2192.7L491.3 2197.5L500.7 2202.7L510.1 2208.3L519.4 2214.4L528.8 2220.9L533.4 2215.3L537.9 2210L542.5 2204.9L547.1 2200.1L551.6 2195.6L556.2 2191.3L560.7 2187.3L565.3 2183.5L569.9 2180L574.4 2176.8L579 2173.8L583.5 2171.1L588.1 2168.6L592.6 2166.4L597.2 2164.5L601.8 2162.8L606.3 2161.4L610.9 2160.2L615.4 2159.3L620 2158.7L624.6 2158.3L629.1 2158.2L633.7 2158.3L638.2 2158.7L642.8 2159.4L647.4 2160.3L651.9 2161.5L656.5 2162.9L661 2164.6L665.6 2166.5L670.2 2168.7L674.7 2171.2L665.3 2162.1L656 2153.4L646.6 2145.1L637.2 2137.3L627.8 2129.9L618.5 2122.9L609.1 2116.4L599.7 2110.2L590.3 2104.5L581 2099.2L571.6 2094.4L562.2 2090L552.8 2086L543.5 2082.4L534.1 2079.2L524.7 2076.5L515.3 2074.2L506 2072.3L496.6 2070.9L487.2 2069.9L477.8 2069.3L468.4 2069.1L459.1 2069.4L449.7 2070L440.3 2071.2L430.9 2072.7L421.6 2074.6L412.2 2077L402.8 2079.8L393.4 2083.1L384.1 2086.8L374.7 2090.8L370.1 2091L365.6 2091.4L361 2092.1L356.4 2093L351.9 2094.2L347.3 2095.7L342.8 2097.4L338.2 2099.4L333.6 2101.6L329.1 2104.1L324.5 2106.9L320 2109.9L315.4 2113.1L310.9 2116.7L306.3 2120.5L301.7 2124.5L297.2 2128.8L292.6 2133.4L288.1 2138.2L283.5 2143.3L278.9 2148.7L274.4 2154.3L269.8 2160.1L265.3 2166.3L260.7 2172.6L256.1 2179.3L251.6 2186.2L247 2193.3L242.5 2200.8L237.9 2208.5L233.3 2216.4Z"/>
<path class="k" d="M215.8 2232.6L533.3 2259M533.3 2259L687.7 2204.3M215.8 2232.6L215.8 2066.3M533.3 2259L533.3 2092.7M687.7 2204.3L687.7 2038M215.8 2066.3L533.3 2092.7M533.3 2092.7L687.7 2038M215.8 2066.3L370.2 2011.6M370.2 2011.6L687.7 2038M215.8 2071.4l5.5 0M215.8 2079.3l3 0M215.8 2087.1l3 0M215.8 2095l3 0M215.8 2102.8l3 0M215.8 2110.7l5.5 0M215.8 2118.6l3 0M215.8 2126.4l3 0M215.8 2134.3l3 0M215.8 2142.1l3 0M215.8 2150l5.5 0M215.8 2157.9l3 0M215.8 2165.7l3 0M215.8 2173.6l3 0M215.8 2181.4l3 0M215.8 2189.3l5.5 0M215.8 2197.2l3 0M215.8 2205l3 0M215.8 2212.9l3 0M215.8 2220.7l3 0M215.8 2228.6l5.5 0M533.3 2097.8l-5.5 0M533.3 2105.7l-3 0M533.3 2113.5l-3 0M533.3 2121.4l-3 0M533.3 2129.2l-3 0M533.3 2137.1l-5.5 0M533.3 2145l-3 0M533.3 2152.8l-3 0M533.3 2160.7l-3 0M533.3 2168.5l-3 0M533.3 2176.4l-5.5 0M533.3 2184.3l-3 0M533.3 2192.1l-3 0M533.3 2200l-3 0M533.3 2207.8l-3 0M533.3 2215.7l-5.5 0M533.3 2223.6l-3 0M533.3 2231.4l-3 0M533.3 2239.3l-3 0M533.3 2247.1l-3 0M533.3 2255l-5.5 0M687.7 2043.1l-5.5 0M687.7 2051l-3 0M687.7 2058.8l-3 0M687.7 2066.7l-3 0M687.7 2074.5l-3 0M687.7 2082.4l-5.5 0M687.7 2090.3l-3 0M687.7 2098.1l-3 0M687.7 2106l-3 0M687.7 2113.8l-3 0M687.7 2121.7l-5.5 0M687.7 2129.6l-3 0M687.7 2137.4l-3 0M687.7 2145.3l-3 0M687.7 2153.1l-3 0M687.7 2161l-5.5 0M687.7 2168.9l-3 0M687.7 2176.7l-3 0M687.7 2184.6l-3 0M687.7 2192.4l-3 0M687.7 2200.3l-5.5 0M224.5 2233.3l4.2 -1.5M243.3 2234.9l2.4 -0.8M262 2236.4l2.4 -0.8M280.8 2238l2.4 -0.8M299.5 2239.6l4.2 -1.5M318.3 2241.1l2.4 -0.8M337 2242.7l2.4 -0.8M355.8 2244.2l2.4 -0.8M374.5 2245.8l4.2 -1.5M393.3 2247.4l2.4 -0.8M412.1 2248.9l2.4 -0.8M430.8 2250.5l2.4 -0.8M449.6 2252l4.2 -1.5M468.3 2253.6l2.4 -0.8M487.1 2255.2l2.4 -0.8M505.8 2256.7l2.4 -0.8M524.6 2258.3l4.2 -1.5M537.5 2257.5l-4.5 -0.4M543.4 2255.4l-2.5 -0.2M549.2 2253.4l-2.5 -0.2M555.1 2251.3l-2.5 -0.2M560.9 2249.2l-2.5 -0.2M566.7 2247.2l-4.5 -0.4M572.6 2245.1l-2.5 -0.2M578.4 2243l-2.5 -0.2M584.2 2241l-2.5 -0.2M590.1 2238.9l-2.5 -0.2M595.9 2236.8l-4.5 -0.4M601.7 2234.8l-2.5 -0.2M607.6 2232.7l-2.5 -0.2M613.4 2230.6l-2.5 -0.2M619.3 2228.5l-2.5 -0.2M625.1 2226.5l-4.5 -0.4M630.9 2224.4l-2.5 -0.2M636.8 2222.3l-2.5 -0.2M642.6 2220.3l-2.5 -0.2M648.4 2218.2l-2.5 -0.2M654.3 2216.1l-4.5 -0.4M660.1 2214.1l-2.5 -0.2M665.9 2212l-2.5 -0.2M671.8 2209.9l-2.5 -0.2M677.6 2207.9l-2.5 -0.2M683.5 2205.8l-4.5 -0.4M224.5 2067l4.2 -1.5M243.3 2068.6l2.4 -0.8M262 2070.1l2.4 -0.8M280.8 2071.7l2.4 -0.8M299.5 2073.3l4.2 -1.5M318.3 2074.8l2.4 -0.8M337 2076.4l2.4 -0.8M355.8 2077.9l2.4 -0.8M374.5 2079.5l4.2 -1.5M393.3 2081.1l2.4 -0.8M412.1 2082.6l2.4 -0.8M430.8 2084.2l2.4 -0.8M449.6 2085.7l4.2 -1.5M468.3 2087.3l2.4 -0.8M487.1 2088.9l2.4 -0.8M505.8 2090.4l2.4 -0.8M524.6 2092l4.2 -1.5M537.5 2091.2l-4.5 -0.4M543.4 2089.1l-2.5 -0.2M549.2 2087.1l-2.5 -0.2M555.1 2085l-2.5 -0.2M560.9 2082.9l-2.5 -0.2M566.7 2080.9l-4.5 -0.4M572.6 2078.8l-2.5 -0.2M578.4 2076.7l-2.5 -0.2M584.2 2074.7l-2.5 -0.2M590.1 2072.6l-2.5 -0.2M595.9 2070.5l-4.5 -0.4M601.7 2068.5l-2.5 -0.2M607.6 2066.4l-2.5 -0.2M613.4 2064.3l-2.5 -0.2M619.3 2062.2l-2.5 -0.2M625.1 2060.2l-4.5 -0.4M630.9 2058.1l-2.5 -0.2M636.8 2056l-2.5 -0.2M642.6 2054l-2.5 -0.2M648.4 2051.9l-2.5 -0.2M654.3 2049.8l-4.5 -0.4M660.1 2047.8l-2.5 -0.2M665.9 2045.7l-2.5 -0.2M671.8 2043.6l-2.5 -0.2M677.6 2041.6l-2.5 -0.2M683.5 2039.5l-4.5 -0.4M220 2064.8l4.5 0.4M225.9 2062.7l2.5 0.2M231.7 2060.7l2.5 0.2M237.6 2058.6l2.5 0.2M243.4 2056.5l2.5 0.2M249.2 2054.5l4.5 0.4M255.1 2052.4l2.5 0.2M260.9 2050.3l2.5 0.2M266.7 2048.3l2.5 0.2M272.6 2046.2l2.5 0.2M278.4 2044.1l4.5 0.4M284.2 2042.1l2.5 0.2M290.1 2040l2.5 0.2M295.9 2037.9l2.5 0.2M301.8 2035.8l2.5 0.2M307.6 2033.8l4.5 0.4M313.4 2031.7l2.5 0.2M319.3 2029.6l2.5 0.2M325.1 2027.6l2.5 0.2M330.9 2025.5l2.5 0.2M336.8 2023.4l4.5 0.4M342.6 2021.4l2.5 0.2M348.4 2019.3l2.5 0.2M354.3 2017.2l2.5 0.2M360.1 2015.2l2.5 0.2M366 2013.1l4.5 0.4M378.9 2012.3l-4.2 1.5M397.7 2013.9l-2.4 0.8M416.4 2015.4l-2.4 0.8M435.2 2017l-2.4 0.8M453.9 2018.6l-4.2 1.5M472.7 2020.1l-2.4 0.8M491.4 2021.7l-2.4 0.8M510.2 2023.2l-2.4 0.8M529 2024.8l-4.2 1.5M547.7 2026.4l-2.4 0.8M566.5 2027.9l-2.4 0.8M585.2 2029.5l-2.4 0.8M604 2031l-4.2 1.5M622.7 2032.6l-2.4 0.8M641.5 2034.2l-2.4 0.8M660.2 2035.7l-2.4 0.8M679 2037.3l-4.2 1.5"/>
<rect x="733.2" y="1999.8" width="66.4" height="203.6" fill="#fff" stroke="#0a0a0a" stroke-width="1"/>
<rect x="737.4" y="2022.4" width="29.6" height="9.6" fill="#8080ff" stroke="#404080" stroke-width=".7"/>
<rect x="737.4" y="2039.1" width="29.6" height="9.6" fill="#4d8ad5" stroke="#26456a" stroke-width=".7"/>
<rect x="737.4" y="2055.9" width="29.6" height="9.6" fill="#1a93ab" stroke="#0d4a56" stroke-width=".7"/>
<rect x="737.4" y="2072.6" width="29.6" height="9.6" fill="#008886" stroke="#004443" stroke-width=".7"/>
<rect x="737.4" y="2089.4" width="29.6" height="9.6" fill="#006867" stroke="#003434" stroke-width=".7"/>
<rect x="737.4" y="2106.1" width="29.6" height="9.6" fill="#004848" stroke="#002424" stroke-width=".7"/>
<rect x="737.4" y="2122.8" width="29.6" height="9.6" fill="#362b43" stroke="#1b1622" stroke-width=".7"/>
<rect x="737.4" y="2139.6" width="29.6" height="9.6" fill="#6d0e3e" stroke="#36071f" stroke-width=".7"/>
<rect x="737.4" y="2156.3" width="29.6" height="9.6" fill="#88004d" stroke="#440026" stroke-width=".7"/>
<rect x="737.4" y="2173.1" width="29.6" height="9.6" fill="#88006e" stroke="#440037" stroke-width=".7"/>
<rect x="737.4" y="2189.8" width="29.6" height="9.6" fill="#880090" stroke="#440048" stroke-width=".7"/>
<text transform="translate(169 2151) rotate(-90) scale(1.07 1)" text-anchor="middle">Yield</text>
<text transform="translate(213.3 2255.7) scale(1.12 1)" text-anchor="middle">0</text>
<text transform="translate(288.8 2262.2) scale(1.12 1)" text-anchor="middle">20</text>
<text transform="translate(363.5 2268) scale(1.12 1)" text-anchor="middle">40</text>
<text transform="translate(438.8 2274.3) scale(1.12 1)" text-anchor="middle">60</text>
<text transform="translate(513.4 2280.5) scale(1.12 1)" text-anchor="middle">80</text>
<text transform="translate(558.5 2277.7) scale(1.12 1)" text-anchor="middle">12</text>
<text transform="translate(587.5 2267.4) scale(1.12 1)" text-anchor="middle">17</text>
<text transform="translate(616.4 2257.2) scale(1.12 1)" text-anchor="middle">22</text>
<text transform="translate(646 2246.8) scale(1.12 1)" text-anchor="middle">27</text>
<text transform="translate(674.4 2236.7) scale(1.12 1)" text-anchor="middle">32</text>
<text transform="translate(704.2 2226.3) scale(1.12 1)" text-anchor="middle">37</text>
<text transform="translate(340 2294) scale(1.04 1)" text-anchor="middle">Dynamic time</text>
<path d="M1189.1 2227.4L1481.5 2260.5L1678.7 2211.2L1678.7 2043.6L1386.3 2010.5L1189.1 2059.8Z" fill="#fff"/>
<path class="k" d="M1386.3 2178.1L1189.1 2227.4M1386.3 2178.1L1678.7 2211.2M1386.3 2178.1L1386.3 2010.5M1386.3 2016.3l5.5 0M1386.3 2021.5l3 0M1386.3 2026.7l3 0M1386.3 2032l3 0M1386.3 2037.2l3 0M1386.3 2042.4l5.5 0M1386.3 2047.6l3 0M1386.3 2052.8l3 0M1386.3 2058.1l3 0M1386.3 2063.3l3 0M1386.3 2068.5l5.5 0M1386.3 2073.7l3 0M1386.3 2079l3 0M1386.3 2084.2l3 0M1386.3 2089.5l3 0M1386.3 2094.7l5.5 0M1386.3 2099.9l3 0M1386.3 2105.1l3 0M1386.3 2110.4l3 0M1386.3 2115.6l3 0M1386.3 2120.8l5.5 0M1386.3 2126l3 0M1386.3 2131.2l3 0M1386.3 2136.5l3 0M1386.3 2141.7l3 0M1386.3 2146.9l5.5 0M1386.3 2152.1l3 0M1386.3 2157.3l3 0M1386.3 2162.6l3 0M1386.3 2167.8l3 0M1386.3 2173l5.5 0"/>
<g transform="matrix(0.2763 0.0313 0.1864 -0.0466 1202.6 2221.2)" clip-path="url(#cu)"><rect width="1000" height="1000" fill="#a03991"/><g transform="translate(307.1 658.9) rotate(51.01)"><ellipse rx="737.8" ry="1002" fill="#9c3c98"/><ellipse rx="735" ry="998.2" fill="#973e9e"/><ellipse rx="732.2" ry="994.4" fill="#9341a5"/><ellipse rx="729.4" ry="990.6" fill="#8f43ab"/><ellipse rx="726.6" ry="986.8" fill="#8b46b2"/><ellipse rx="723.7" ry="982.9" fill="#8648b8"/><ellipse rx="720.9" ry="979" fill="#824bbf"/><ellipse rx="718" ry="975.2" fill="#7e4dc5"/><ellipse rx="715.1" ry="971.3" fill="#7a50cc"/><ellipse rx="712.3" ry="967.3" fill="#7552d2"/><ellipse rx="709.4" ry="963.4" fill="#7155d9"/><ellipse rx="706.5" ry="959.5" fill="#6d58df"/><ellipse rx="703.5" ry="955.5" fill="#685ae6"/><ellipse rx="700.6" ry="951.5" fill="#645dec"/><ellipse rx="697.7" ry="947.5" fill="#605ff3"/><ellipse rx="694.7" ry="943.5" fill="#5c62f9"/><ellipse rx="686.4" ry="932.3" fill="#5a5ff3"/><ellipse rx="683.4" ry="928.2" fill="#5b5dec"/><ellipse rx="680.4" ry="924.1" fill="#5c5ae6"/><ellipse rx="677.4" ry="920" fill="#5d58df"/><ellipse rx="674.4" ry="915.9" fill="#5e55d9"/><ellipse rx="671.3" ry="911.7" fill="#5f52d2"/><ellipse rx="668.2" ry="907.5" fill="#6050cc"/><ellipse rx="665.1" ry="903.4" fill="#614dc5"/><ellipse rx="662" ry="899.1" fill="#624bbf"/><ellipse rx="658.9" ry="894.9" fill="#6348b8"/><ellipse rx="655.8" ry="890.7" fill="#6446b2"/><ellipse rx="652.7" ry="886.4" fill="#6543ab"/><ellipse rx="649.5" ry="882.1" fill="#6641a5"/><ellipse rx="646.3" ry="877.8" fill="#673e9e"/><ellipse rx="643.1" ry="873.5" fill="#683b98"/><ellipse rx="639.9" ry="869.1" fill="#693991"/><ellipse rx="636.7" ry="864.7" fill="#6a368b"/><ellipse rx="633.5" ry="860.3" fill="#6b3484"/><ellipse rx="630.2" ry="855.9" fill="#6c317e"/><ellipse rx="626.9" ry="851.5" fill="#6d2f77"/><ellipse rx="623.7" ry="847" fill="#6e2c71"/><ellipse rx="620.3" ry="842.5" fill="#6f2a6a"/><ellipse rx="617" ry="838" fill="#702764"/><ellipse rx="613.7" ry="833.5" fill="#71255d"/><ellipse rx="610.3" ry="828.9" fill="#722257"/><ellipse rx="606.9" ry="824.3" fill="#731f50"/><ellipse rx="603.5" ry="819.7" fill="#741d4a"/><ellipse rx="600.1" ry="815" fill="#751a43"/><ellipse rx="596.7" ry="810.4" fill="#76183d"/><ellipse rx="593.2" ry="805.7" fill="#771536"/><ellipse rx="589.8" ry="801" fill="#791330"/><ellipse rx="586.3" ry="796.2" fill="#7a1029"/><ellipse rx="582.7" ry="791.4" fill="#7b0e23"/><ellipse rx="579.2" ry="786.6" fill="#7c0b1c"/><ellipse rx="575.6" ry="781.8" fill="#7d0916"/><ellipse rx="572.1" ry="776.9" fill="#7e060f"/><ellipse rx="568.4" ry="772" fill="#7f0309"/><ellipse rx="564.8" ry="767.1" fill="#800102"/><ellipse rx="557.1" ry="756.6" fill="#860404"/><ellipse rx="550.1" ry="747" fill="#8c0809"/><ellipse rx="542.9" ry="737.4" fill="#920c0d"/><ellipse rx="535.7" ry="727.6" fill="#981111"/><ellipse rx="528.4" ry="717.7" fill="#9e1516"/><ellipse rx="521" ry="707.6" fill="#a4191a"/><ellipse rx="513.5" ry="697.4" fill="#aa1d1f"/><ellipse rx="505.9" ry="687.1" fill="#b02223"/><ellipse rx="498.2" ry="676.6" fill="#b72628"/><ellipse rx="490.3" ry="665.9" fill="#bd2a2c"/><ellipse rx="482.3" ry="655.1" fill="#c32e30"/><ellipse rx="474.2" ry="644" fill="#c93335"/><ellipse rx="465.9" ry="632.8" fill="#cf3739"/><ellipse rx="457.5" ry="621.4" fill="#d53b3e"/><ellipse rx="449" ry="609.7" fill="#db3f42"/><ellipse rx="440.2" ry="597.9" fill="#e14347"/><ellipse rx="431.3" ry="585.8" fill="#e7484b"/><ellipse rx="422.2" ry="573.4" fill="#ee4c4f"/><ellipse rx="412.9" ry="560.8" fill="#f45054"/><ellipse rx="403.4" ry="547.8" fill="#fa5458"/><ellipse rx="386" ry="524.2" fill="#f4545c"/><ellipse rx="380.6" ry="517" fill="#ed525c"/><ellipse rx="375.2" ry="509.6" fill="#e7505c"/><ellipse rx="369.7" ry="502.1" fill="#e04d5c"/><ellipse rx="364.1" ry="494.4" fill="#da4b5d"/><ellipse rx="358.4" ry="486.7" fill="#d3495d"/><ellipse rx="352.6" ry="478.9" fill="#cd475d"/><ellipse rx="346.7" ry="470.9" fill="#c6445d"/><ellipse rx="340.7" ry="462.7" fill="#c0425d"/><ellipse rx="334.6" ry="454.5" fill="#b9405d"/><ellipse rx="328.4" ry="446" fill="#b33e5d"/><ellipse rx="322.1" ry="437.5" fill="#ac3b5d"/><ellipse rx="315.7" ry="428.7" fill="#a6395d"/><ellipse rx="309.1" ry="419.8" fill="#9f375e"/><ellipse rx="302.3" ry="410.6" fill="#99355e"/><ellipse rx="295.5" ry="401.3" fill="#92335e"/><ellipse rx="288.4" ry="391.7" fill="#8c305e"/><ellipse rx="281.2" ry="381.9" fill="#852e5e"/><ellipse rx="273.8" ry="371.8" fill="#7f2c5e"/><ellipse rx="266.2" ry="361.5" fill="#782a5e"/><ellipse rx="258.3" ry="350.8" fill="#72275e"/><ellipse rx="250.2" ry="339.8" fill="#6b255e"/><ellipse rx="241.9" ry="328.5" fill="#65235e"/><ellipse rx="233.2" ry="316.7" fill="#5e215f"/><ellipse rx="224.2" ry="304.5" fill="#581e5f"/><ellipse rx="214.9" ry="291.8" fill="#511c5f"/><ellipse rx="205.1" ry="278.5" fill="#4b1a5f"/><ellipse rx="194.8" ry="264.5" fill="#44185f"/><ellipse rx="183.9" ry="249.8" fill="#3e155f"/><ellipse rx="172.4" ry="234.1" fill="#37135f"/><ellipse rx="160" ry="217.3" fill="#31115f"/><ellipse rx="146.6" ry="199.1" fill="#2a0f5f"/><ellipse rx="131.8" ry="179" fill="#240c5f"/><ellipse rx="115.1" ry="156.4" fill="#1d0a60"/><ellipse rx="95.6" ry="129.8" fill="#170860"/><ellipse rx="70.9" ry="96.3" fill="#100660"/><ellipse rx="30.2" ry="41.1" fill="#0a0360"/></g></g>
<g><path fill="url(#j47)" d="M1385 2148l13.9 4.8 13.8 3.9 13.8 3 13.8 2.1 13.8 1.3 13.8 .4 13.8-.5 13.9-1.4 13.8-2.2 13.8-3.2 13.8-4 13.8-4.8 13.8-5.8 13.9-6.6 13.8-7.5 13.8-8.4 13.8-9.3 13.8-10.1 13.8-11.1 13.9-11.9 3.8-5.2-13.8 12-13.8 11.1-13.8 10.3-13.8 9.3-13.8 8.5-13.9 7.7-13.8 6.7-13.8 5.9-13.8 5-13.8 4.1-13.8 3.2-13.9 2.4-13.8 1.5-13.8 .6-13.8-.3-13.8-1.1-13.8-2.1-13.9-2.9-13.8-3.8-13.8-4.6z"/>
<path fill="url(#j46)" d="M1381.2 2150.8l13.8 4.9 13.8 4 13.8 3.2 13.8 2.2 13.8 1.4 13.8 .5 13.9-.4 13.8-1.2 13.8-2.2 13.8-3 13.8-3.9 13.8-4.7 13.9-5.7 13.8-6.5 13.8-7.4 13.8-8.3 13.8-9.1 13.8-10.1 13.9-10.9 13.8-11.8 6.2-8.2-13.8 12-13.8 11-13.9 10.3-13.8 9.3-13.8 8.5-13.8 7.5-13.8 6.7-13.8 5.9-13.9 4.9-13.8 4.1-13.8 3.2-13.8 2.3-13.8 1.4-13.8 .6-13.9-.3-13.8-1.2-13.8-2.1-13.8-3-13.8-3.8-13.8-4.7z"/>
<path fill="url(#j45)" d="M1377.3 2153.5l13.8 5 13.8 4.1 13.8 3.3 13.8 2.3 13.9 1.5 13.8 .6 13.8-.2 13.8-1.2 13.8-2 13.8-2.9 13.8-3.8 13.9-4.6 13.8-5.5 13.8-6.4 13.8-7.3 13.8-8.2 13.8-9 13.9-10 13.8-10.8 13.8-11.6 6.2-8-13.8 11.9-13.8 10.9-13.8 10.1-13.9 9.3-13.8 8.3-13.8 7.5-13.8 6.6-13.8 5.7-13.8 4.8-13.9 4-13.8 3-13.8 2.2-13.8 1.4-13.8 .4-13.8-.4-13.9-1.3-13.8-2.2-13.8-3.1-13.8-3.9-13.8-4.9z"/>
<path fill="url(#j44)" d="M1373.4 2156l13.8 5.1 13.8 4.2 13.8 3.4 13.9 2.5 13.8 1.6 13.8 .7 13.8-.1 13.8-1.1 13.8-1.9 13.8-2.8 13.9-3.6 13.8-4.6 13.8-5.4 13.8-6.3 13.8-7.1 13.8-8.1 13.9-8.9 13.8-9.8 13.8-10.7 13.8-11.6 6.2-7.7-13.8 11.8-13.8 10.8-13.8 10-13.8 9.1-13.9 8.3-13.8 7.3-13.8 6.5-13.8 5.6-13.8 4.7-13.8 3.9-13.9 2.9-13.8 2.1-13.8 1.2-13.8 .4-13.8-.6-13.8-1.4-13.9-2.3-13.8-3.2-13.8-4.1-13.8-4.9z"/>
<path fill="url(#j43)" d="M1369.5 2158.3l13.8 5.2 13.8 4.4 13.9 3.5 13.8 2.6 13.8 1.7 13.8 .8 13.8 0 13.8-.9 13.8-1.8 13.9-2.7 13.8-3.5 13.8-4.5 13.8-5.3 13.8-6.2 13.8-7 13.9-8 13.8-8.8 13.8-9.7 13.8-10.5 13.8-11.5 6.2-7.4-13.8 11.6-13.8 10.8-13.8 9.8-13.8 9-13.8 8.2-13.9 7.2-13.8 6.4-13.8 5.5-13.8 4.6-13.8 3.7-13.8 2.8-13.9 2-13.8 1.1-13.8 .2-13.8-.6-13.8-1.6-13.8-2.4-13.9-3.3-13.8-4.1-13.8-5.1z"/>
<path fill="url(#j42)" d="M1365.6 2160.5l13.8 5.3 13.9 4.5 13.8 3.6 13.8 2.7 13.8 1.8 13.8 .9 13.8 .1 13.9-.8 13.8-1.7 13.8-2.5 13.8-3.5 13.8-4.3 13.8-5.2 13.8-6 13.9-7 13.8-7.8 13.8-8.7 13.8-9.6 13.8-10.4 13.8-11.4 6.3-7.1-13.9 11.5-13.8 10.6-13.8 9.8-13.8 8.9-13.8 8-13.8 7.1-13.9 6.3-13.8 5.3-13.8 4.5-13.8 3.6-13.8 2.8-13.8 1.8-13.9 1-13.8 .1-13.8-.7-13.8-1.7-13.8-2.5-13.8-3.4-13.8-4.3-13.9-5.2z"/>
<path fill="url(#j41)" d="M1361.7 2162.4l13.9 5.5 13.8 4.6 13.8 3.7 13.8 2.8 13.8 1.9 13.8 1.1 13.9 .2 13.8-.7 13.8-1.6 13.8-2.4 13.8-3.3 13.8-4.2 13.8-5.1 13.9-6 13.8-6.8 13.8-7.7 13.8-8.6 13.8-9.5 13.8-10.3 13.9-11.2 6.2-6.9-13.8 11.4-13.9 10.5-13.8 9.7-13.8 8.7-13.8 7.9-13.8 7.1-13.8 6.1-13.9 5.2-13.8 4.4-13.8 3.5-13.8 2.7-13.8 1.7-13.8 .9-13.9 0-13.8-.9-13.8-1.8-13.8-2.6-13.8-3.5-13.8-4.4-13.8-5.3z"/>
<path fill="url(#j40)" d="M1357.9 2164.2l13.8 5.6 13.8 4.7 13.8 3.8 13.8 3 13.8 2 13.9 1.2 13.8 .3 13.8-.6 13.8-1.4 13.8-2.4 13.8-3.2 13.8-4.1 13.9-4.9 13.8-5.9 13.8-6.7 13.8-7.6 13.8-8.5 13.8-9.3 13.9-10.2 13.8-11.2 6.2-6.5-13.8 11.2-13.8 10.5-13.9 9.5-13.8 8.6-13.8 7.8-13.8 6.9-13.8 6-13.8 5.2-13.9 4.3-13.8 3.3-13.8 2.6-13.8 1.6-13.8 .8-13.8-.2-13.8-1-13.9-1.8-13.8-2.8-13.8-3.6-13.8-4.5-13.8-5.4z"/>
<path fill="url(#j39)" d="M1354 2165.9l13.8 5.7 13.8 4.8 13.8 3.9 13.8 3 13.9 2.2 13.8 1.3 13.8 .4 13.8-.4 13.8-1.4 13.8-2.2 13.9-3.1 13.8-4 13.8-4.8 13.8-5.8 13.8-6.6 13.8-7.4 13.8-8.4 13.9-9.2 13.8-10.2 13.8-11 6.2-6.3-13.8 11.2-13.8 10.3-13.8 9.4-13.9 8.6-13.8 7.6-13.8 6.8-13.8 5.9-13.8 5.1-13.8 4.1-13.9 3.3-13.8 2.4-13.8 1.5-13.8 .7-13.8-.3-13.8-1.1-13.8-2-13.9-2.8-13.8-3.8-13.8-4.6-13.8-5.5z"/>
<path fill="url(#j38)" d="M1350.1 2167.3l13.8 5.8 13.8 5 13.8 4 13.9 3.2 13.8 2.2 13.8 1.4 13.8 .6 13.8-.4 13.8-1.2 13.9-2.1 13.8-3 13.8-3.9 13.8-4.7 13.8-5.6 13.8-6.5 13.8-7.4 13.9-8.2 13.8-9.1 13.8-10.1 13.8-10.8 6.2-6.1-13.8 11.1-13.8 10.2-13.8 9.3-13.8 8.4-13.9 7.6-13.8 6.6-13.8 5.8-13.8 5-13.8 4-13.8 3.2-13.9 2.2-13.8 1.5-13.8 .5-13.8-.4-13.8-1.2-13.8-2.1-13.8-3-13.9-3.8-13.8-4.8-13.8-5.6z"/>
<path fill="url(#j37)" d="M1346.2 2168.6l13.8 5.9 13.8 5.1 13.9 4.1 13.8 3.3 13.8 2.4 13.8 1.5 13.8 .7 13.8-.3 13.9-1.1 13.8-2 13.8-2.9 13.8-3.7 13.8-4.6 13.8-5.5 13.9-6.4 13.8-7.3 13.8-8.1 13.8-9 13.8-9.9 13.8-10.8 6.2-5.7-13.8 10.9-13.8 10.1-13.8 9.2-13.8 8.3-13.8 7.4-13.9 6.6-13.8 5.7-13.8 4.8-13.8 3.9-13.8 3.1-13.8 2.1-13.8 1.3-13.9 .4-13.8-.4-13.8-1.4-13.8-2.2-13.8-3.1-13.8-3.9-13.9-4.9-13.8-5.7z"/>
<path fill="url(#j36)" d="M1342.3 2169.7l13.8 6.1 13.9 5.1 13.8 4.3 13.8 3.4 13.8 2.5 13.8 1.6 13.8 .8 13.9-.2 13.8-1 13.8-1.8 13.8-2.8 13.8-3.6 13.8-4.5 13.9-5.4 13.8-6.3 13.8-7.1 13.8-8.1 13.8-8.9 13.8-9.7 13.8-10.7 6.3-5.5-13.9 10.8-13.8 10-13.8 9.1-13.8 8.2-13.8 7.3-13.8 6.5-13.9 5.5-13.8 4.7-13.8 3.8-13.8 3-13.8 2-13.8 1.2-13.8 .3-13.9-.6-13.8-1.4-13.8-2.3-13.8-3.2-13.8-4.1-13.8-5-13.9-5.8z"/>
<path fill="url(#j35)" d="M1338.4 2170.7l13.9 6.1 13.8 5.3 13.8 4.4 13.8 3.5 13.8 2.6 13.8 1.7 13.9 .9 13.8 0 13.8-.9 13.8-1.8 13.8-2.6 13.8-3.5 13.9-4.4 13.8-5.3 13.8-6.2 13.8-7 13.8-7.9 13.8-8.8 13.8-9.7 13.9-10.5 6.2-5.2-13.8 10.7-13.9 9.9-13.8 8.9-13.8 8.1-13.8 7.2-13.8 6.4-13.8 5.4-13.9 4.6-13.8 3.7-13.8 2.8-13.8 2-13.8 1-13.8 .2-13.8-.7-13.9-1.5-13.8-2.5-13.8-3.3-13.8-4.2-13.8-5-13.8-6z"/>
<path fill="url(#j34)" d="M1334.6 2171.5l13.8 6.2 13.8 5.4 13.8 4.5 13.8 3.6 13.8 2.7 13.9 1.9 13.8 1 13.8 .1 13.8-.8 13.8-1.7 13.8-2.5 13.9-3.4 13.8-4.3 13.8-5.2 13.8-6 13.8-6.9 13.8-7.8 13.9-8.7 13.8-9.5 13.8-10.5 6.2-4.9-13.8 10.6-13.8 9.7-13.9 8.9-13.8 8-13.8 7.1-13.8 6.2-13.8 5.3-13.8 4.5-13.8 3.6-13.9 2.7-13.8 1.8-13.8 1-13.8 .1-13.8-.8-13.8-1.7-13.9-2.6-13.8-3.4-13.8-4.3-13.8-5.2-13.8-6.1z"/>
<path fill="url(#j33)" d="M1330.7 2172.1l13.8 6.3 13.8 5.5 13.8 4.6 13.8 3.7 13.9 2.9 13.8 2 13.8 1 13.8 .3 13.8-.7 13.8-1.5 13.9-2.5 13.8-3.2 13.8-4.2 13.8-5.1 13.8-5.9 13.8-6.8 13.9-7.7 13.8-8.5 13.8-9.5 13.8-10.3 6.2-4.7-13.8 10.5-13.8 9.7-13.8 8.7-13.9 7.9-13.8 6.9-13.8 6.2-13.8 5.2-13.8 4.3-13.8 3.5-13.8 2.6-13.9 1.7-13.8 .9-13.8-.1-13.8-.9-13.8-1.8-13.8-2.6-13.9-3.6-13.8-4.4-13.8-5.3-13.8-6.2z"/>
<path fill="url(#j32)" d="M1326.8 2172.5l13.8 6.5 13.8 5.6 13.8 4.7 13.9 3.8 13.8 3 13.8 2.1 13.8 1.2 13.8 .3 13.8-.6 13.9-1.4 13.8-2.3 13.8-3.2 13.8-4 13.8-5 13.8-5.8 13.9-6.7 13.8-7.5 13.8-8.5 13.8-9.3 13.8-10.2 6.2-4.4-13.8 10.4-13.8 9.5-13.8 8.6-13.8 7.8-13.8 6.8-13.9 6-13.8 5.2-13.8 4.2-13.8 3.4-13.8 2.4-13.8 1.7-13.9 .7-13.8-.2-13.8-1-13.8-1.9-13.8-2.8-13.8-3.6-13.9-4.6-13.8-5.4-13.8-6.3z"/>
<path fill="url(#j31)" d="M1322.9 2172.7l13.8 6.6 13.8 5.7 13.9 4.9 13.8 3.9 13.8 3.1 13.8 2.2 13.8 1.3 13.8 .5 13.9-.5 13.8-1.3 13.8-2.2 13.8-3 13.8-4 13.8-4.8 13.9-5.7 13.8-6.6 13.8-7.5 13.8-8.3 13.8-9.2 13.8-10.1 6.2-4.1-13.8 10.3-13.8 9.4-13.8 8.5-13.8 7.6-13.8 6.8-13.8 5.9-13.9 5-13.8 4.1-13.8 3.2-13.8 2.4-13.8 1.5-13.8 .6-13.9-.2-13.8-1.2-13.8-2-13.8-2.9-13.8-3.8-13.8-4.6-13.9-5.5-13.8-6.4z"/>
<path fill="url(#j30)" d="M1319 2172.8l13.9 6.7 13.8 5.8 13.8 5 13.8 4.1 13.8 3.1 13.8 2.4 13.8 1.4 13.9 .5 13.8-.3 13.8-1.2 13.8-2.1 13.8-2.9 13.8-3.8 13.9-4.8 13.8-5.5 13.8-6.5 13.8-7.3 13.8-8.3 13.8-9.1 13.9-9.9 6.2-3.9-13.9 10.2-13.8 9.3-13.8 8.4-13.8 7.5-13.8 6.6-13.8 5.8-13.8 4.9-13.9 4-13.8 3.1-13.8 2.3-13.8 1.4-13.8 .5-13.8-.4-13.9-1.2-13.8-2.2-13.8-3-13.8-3.9-13.8-4.7-13.8-5.7-13.9-6.5z"/>
<path fill="url(#j29)" d="M1315.2 2172.7l13.8 6.8 13.8 6 13.8 5 13.8 4.2 13.8 3.3 13.8 2.4 13.9 1.6 13.8 .7 13.8-.3 13.8-1 13.8-2 13.8-2.8 13.9-3.8 13.8-4.6 13.8-5.4 13.8-6.4 13.8-7.2 13.8-8.1 13.9-9 13.8-9.9 6.2-3.5-13.8 10-13.8 9.2-13.9 8.3-13.8 7.4-13.8 6.5-13.8 5.7-13.8 4.7-13.8 3.9-13.9 3.1-13.8 2.1-13.8 1.3-13.8 .4-13.8-.5-13.8-1.4-13.9-2.2-13.8-3.1-13.8-4-13.8-4.9-13.8-5.8-13.8-6.6z"/>
<path fill="url(#j28)" d="M1311.3 2172.5l13.8 6.9 13.8 6 13.8 5.2 13.8 4.3 13.8 3.4 13.9 2.6 13.8 1.6 13.8 .8 13.8-.1 13.8-1 13.8-1.8 13.9-2.7 13.8-3.7 13.8-4.4 13.8-5.4 13.8-6.2 13.8-7.2 13.9-7.9 13.8-8.9 13.8-9.8 6.2-3.3-13.8 10-13.8 9-13.8 8.2-13.9 7.3-13.8 6.4-13.8 5.6-13.8 4.6-13.8 3.8-13.8 2.9-13.9 2.1-13.8 1.1-13.8 .3-13.8-.6-13.8-1.5-13.8-2.3-13.9-3.3-13.8-4.1-13.8-5-13.8-5.8-13.8-6.8z"/>
<path fill="url(#j27)" d="M1307.4 2172l13.8 7.1 13.8 6.1 13.8 5.3 13.9 4.4 13.8 3.6 13.8 2.6 13.8 1.8 13.8 .9 13.8 0 13.8-.9 13.9-1.7 13.8-2.6 13.8-3.5 13.8-4.4 13.8-5.2 13.8-6.2 13.9-7 13.8-7.8 13.8-8.8 13.8-9.6 6.2-3-13.8 9.8-13.8 8.9-13.8 8.1-13.8 7.2-13.9 6.3-13.8 5.4-13.8 4.5-13.8 3.7-13.8 2.8-13.8 1.9-13.9 1.1-13.8 .1-13.8-.7-13.8-1.6-13.8-2.4-13.8-3.4-13.9-4.2-13.8-5.1-13.8-6-13.8-6.9z"/>
<path fill="url(#j26)" d="M1303.5 2171.4l13.8 7.2 13.8 6.3 13.9 5.3 13.8 4.6 13.8 3.6 13.8 2.8 13.8 1.9 13.8 1 13.8 .1 13.9-.8 13.8-1.6 13.8-2.5 13.8-3.4 13.8-4.2 13.8-5.1 13.9-6.1 13.8-6.9 13.8-7.7 13.8-8.7 13.8-9.5 6.2-2.7-13.8 9.7-13.8 8.8-13.8 8-13.8 7-13.8 6.2-13.9 5.3-13.8 4.5-13.8 3.5-13.8 2.7-13.8 1.8-13.8 1-13.9 0-13.8-.8-13.8-1.7-13.8-2.6-13.8-3.5-13.8-4.3-13.9-5.2-13.8-6.1-13.8-7z"/>
<path fill="url(#j25)" d="M1299.6 2170.6l13.8 7.3 13.9 6.4 13.8 5.5 13.8 4.6 13.8 3.8 13.8 2.9 13.8 2 13.9 1.1 13.8 .2 13.8-.6 13.8-1.5 13.8-2.4 13.8-3.3 13.8-4.1 13.9-5 13.8-5.9 13.8-6.8 13.8-7.7 13.8-8.5 13.8-9.4 6.3-2.5-13.9 9.6-13.8 8.7-13.8 7.9-13.8 6.9-13.8 6.1-13.8 5.2-13.9 4.3-13.8 3.5-13.8 2.6-13.8 1.7-13.8 .8-13.8-.1-13.9-.9-13.8-1.9-13.8-2.6-13.8-3.6-13.8-4.5-13.8-5.3-13.8-6.2-13.9-7.1z"/>
<path fill="url(#j24)" d="M1295.7 2169.7l13.9 7.4 13.8 6.5 13.8 5.6 13.8 4.7 13.8 3.9 13.8 3 13.9 2.1 13.8 1.2 13.8 .4 13.8-.5 13.8-1.4 13.8-2.3 13.8-3.1 13.9-4.1 13.8-4.9 13.8-5.8 13.8-6.6 13.8-7.6 13.8-8.4 13.9-9.3 6.2-2.2-13.8 9.5-13.9 8.6-13.8 7.7-13.8 6.9-13.8 5.9-13.8 5.1-13.8 4.2-13.9 3.4-13.8 2.4-13.8 1.6-13.8 .7-13.8-.2-13.8-1-13.9-1.9-13.8-2.9-13.8-3.6-13.8-4.6-13.8-5.5-13.8-6.3-13.8-7.2z"/>
<path fill="url(#j23)" d="M1291.9 2168.6l13.8 7.5 13.8 6.6 13.8 5.7 13.8 4.9 13.8 3.9 13.9 3.1 13.8 2.3 13.8 1.3 13.8 .5 13.8-.4 13.8-1.3 13.8-2.2 13.9-3 13.8-3.9 13.8-4.8 13.8-5.7 13.8-6.5 13.8-7.5 13.9-8.3 13.8-9.2 6.2-1.9-13.8 9.4-13.8 8.5-13.9 7.6-13.8 6.7-13.8 5.9-13.8 5-13.8 4.1-13.8 3.2-13.9 2.3-13.8 1.5-13.8 .6-13.8-.3-13.8-1.2-13.8-2-13.9-2.9-13.8-3.8-13.8-4.7-13.8-5.6-13.8-6.4-13.8-7.3z"/>
<path fill="url(#j22)" d="M1288 2167.3l13.8 7.6 13.8 6.7 13.8 5.8 13.8 5 13.9 4.1 13.8 3.2 13.8 2.4 13.8 1.4 13.8 .6 13.8-.3 13.9-1.2 13.8-2 13.8-2.9 13.8-3.8 13.8-4.7 13.8-5.6 13.8-6.4 13.9-7.3 13.8-8.2 13.8-9.1 6.2-1.6-13.8 9.2-13.8 8.4-13.8 7.5-13.9 6.6-13.8 5.8-13.8 4.8-13.8 4-13.8 3.1-13.8 2.2-13.9 1.4-13.8 .5-13.8-.4-13.8-1.3-13.8-2.2-13.8-3-13.8-3.9-13.9-4.8-13.8-5.7-13.8-6.5-13.8-7.4z"/>
<path fill="url(#j21)" d="M1284.1 2165.8l13.8 7.7 13.8 6.9 13.8 5.9 13.9 5.1 13.8 4.2 13.8 3.3 13.8 2.5 13.8 1.6 13.8 .7 13.9-.2 13.8-1.1 13.8-1.9 13.8-2.8 13.8-3.7 13.8-4.6 13.8-5.4 13.9-6.4 13.8-7.2 13.8-8 13.8-9 6.2-1.3-13.8 9.1-13.8 8.2-13.8 7.4-13.8 6.5-13.9 5.7-13.8 4.7-13.8 3.9-13.8 3-13.8 2.1-13.8 1.2-13.9 .4-13.8-.5-13.8-1.4-13.8-2.3-13.8-3.1-13.8-4.1-13.8-4.9-13.9-5.7-13.8-6.7-13.8-7.5z"/>
<path fill="url(#j20)" d="M1280.2 2164.2l13.8 7.8 13.8 6.9 13.9 6.1 13.8 5.2 13.8 4.3 13.8 3.5 13.8 2.5 13.8 1.7 13.9 .8 13.8 0 13.8-1 13.8-1.8 13.8-2.7 13.8-3.6 13.9-4.4 13.8-5.4 13.8-6.2 13.8-7.1 13.8-7.9 13.8-8.9 6.2-1.1-13.8 9.1-13.8 8.1-13.8 7.3-13.8 6.4-13.8 5.5-13.9 4.6-13.8 3.8-13.8 2.9-13.8 2-13.8 1.1-13.8 .3-13.8-.7-13.9-1.5-13.8-2.4-13.8-3.2-13.8-4.2-13.8-5-13.8-5.9-13.9-6.8-13.8-7.6z"/>
<path fill="url(#j19)" d="M1276.3 2162.3l13.8 8 13.9 7 13.8 6.2 13.8 5.3 13.8 4.5 13.8 3.5 13.8 2.7 13.9 1.8 13.8 .9 13.8 .1 13.8-.8 13.8-1.8 13.8-2.5 13.9-3.5 13.8-4.4 13.8-5.2 13.8-6.1 13.8-6.9 13.8-7.9 13.8-8.7 6.3-.8-13.9 8.9-13.8 8-13.8 7.2-13.8 6.3-13.8 5.4-13.8 4.5-13.9 3.6-13.8 2.8-13.8 1.9-13.8 1-13.8 .1-13.8-.7-13.8-1.6-13.9-2.5-13.8-3.4-13.8-4.3-13.8-5.1-13.8-6-13.8-6.9-13.9-7.7z"/>
<path fill="url(#j18)" d="M1272.4 2160.3l13.9 8.1 13.8 7.2 13.8 6.3 13.8 5.4 13.8 4.6 13.8 3.6 13.9 2.8 13.8 1.9 13.8 1.1 13.8 .1 13.8-.7 13.8-1.6 13.9-2.5 13.8-3.3 13.8-4.2 13.8-5.1 13.8-6 13.8-6.9 13.8-7.7 13.9-8.7 6.2-.5-13.8 8.8-13.9 7.9-13.8 7.1-13.8 6.2-13.8 5.2-13.8 4.4-13.8 3.6-13.9 2.6-13.8 1.8-13.8 .9-13.8 0-13.8-.8-13.8-1.8-13.8-2.6-13.9-3.4-13.8-4.4-13.8-5.3-13.8-6.1-13.8-7-13.8-7.9z"/>
<path fill="url(#j17)" d="M1268.6 2158.2l13.8 8.2 13.8 7.3 13.8 6.4 13.8 5.5 13.8 4.7 13.9 3.7 13.8 3 13.8 2 13.8 1.1 13.8 .3 13.8-.6 13.9-1.5 13.8-2.4 13.8-3.2 13.8-4.1 13.8-5 13.8-5.9 13.9-6.7 13.8-7.6 13.8-8.6 6.2-.2-13.8 8.7-13.8 7.8-13.9 6.9-13.8 6.1-13.8 5.2-13.8 4.2-13.8 3.5-13.8 2.5-13.8 1.7-13.9 .8-13.8-.1-13.8-1-13.8-1.8-13.8-2.8-13.8-3.6-13.9-4.4-13.8-5.4-13.8-6.2-13.8-7.1-13.8-8z"/>
<path fill="url(#j16)" d="M1264.7 2155.9l13.8 8.2 13.8 7.4 13.8 6.6 13.8 5.6 13.9 4.8 13.8 3.9 13.8 3 13.8 2.2 13.8 1.2 13.8 .4 13.9-.5 13.8-1.4 13.8-2.2 13.8-3.1 13.8-4 13.8-4.9 13.9-5.8 13.8-6.6 13.8-7.5 13.8-8.4 6.2 0-13.8 8.6-13.8 7.7-13.8 6.8-13.9 5.9-13.8 5.1-13.8 4.2-13.8 3.3-13.8 2.4-13.8 1.6-13.8 .6-13.9-.2-13.8-1-13.8-2-13.8-2.8-13.8-3.8-13.8-4.6-13.9-5.4-13.8-6.4-13.8-7.2-13.8-8.1z"/>
<path fill="url(#j15)" d="M1260.8 2153.3l13.8 8.4 13.8 7.6 13.8 6.6 13.9 5.8 13.8 4.9 13.8 4 13.8 3.1 13.8 2.2 13.8 1.4 13.9 .5 13.8-.4 13.8-1.2 13.8-2.1 13.8-3.1 13.8-3.8 13.9-4.8 13.8-5.7 13.8-6.5 13.8-7.4 13.8-8.3 6.2 .3-13.8 8.5-13.8 7.6-13.8 6.7-13.8 5.8-13.9 5-13.8 4-13.8 3.2-13.8 2.3-13.8 1.5-13.8 .5-13.8-.3-13.9-1.2-13.8-2-13.8-3-13.8-3.8-13.8-4.7-13.8-5.6-13.9-6.5-13.8-7.3-13.8-8.2z"/>
<path fill="url(#j14)" d="M1256.9 2150.7l13.8 8.5 13.8 7.6 13.9 6.8 13.8 5.8 13.8 5 13.8 4.2 13.8 3.2 13.8 2.4 13.9 1.5 13.8 .6 13.8-.3 13.8-1.1 13.8-2.1 13.8-2.9 13.9-3.7 13.8-4.7 13.8-5.5 13.8-6.4 13.8-7.3 13.8-8.2 6.2 .6-13.8 8.3-13.8 7.5-13.8 6.6-13.8 5.7-13.8 4.9-13.8 3.9-13.9 3.1-13.8 2.2-13.8 1.3-13.8 .5-13.8-.5-13.8-1.3-13.9-2.2-13.8-3-13.8-4-13.8-4.8-13.8-5.7-13.8-6.5-13.9-7.5-13.8-8.3z"/>
<path fill="url(#j13)" d="M1253 2147.8l13.9 8.6 13.8 7.8 13.8 6.9 13.8 5.9 13.8 5.2 13.8 4.2 13.8 3.4 13.9 2.4 13.8 1.6 13.8 .8 13.8-.2 13.8-1 13.8-1.9 13.9-2.8 13.8-3.7 13.8-4.5 13.8-5.4 13.8-6.3 13.8-7.2 13.9-8.1 6.2 .9-13.9 8.2-13.8 7.4-13.8 6.5-13.8 5.6-13.8 4.7-13.8 3.8-13.8 3-13.9 2.1-13.8 1.2-13.8 .3-13.8-.5-13.8-1.4-13.8-2.3-13.9-3.2-13.8-4.1-13.8-4.9-13.8-5.8-13.8-6.7-13.8-7.6-13.9-8.4z"/>
<path fill="url(#j12)" d="M1249.2 2144.8l13.8 8.7 13.8 7.9 13.8 7 13.8 6.1 13.8 5.2 13.8 4.4 13.9 3.4 13.8 2.6 13.8 1.7 13.8 .9 13.8-.1 13.8-.9 13.9-1.8 13.8-2.7 13.8-3.5 13.8-4.4 13.8-5.3 13.8-6.2 13.9-7.1 13.8-7.9 6.2 1.1-13.8 8.1-13.8 7.3-13.9 6.3-13.8 5.5-13.8 4.6-13.8 3.8-13.8 2.8-13.8 2-13.9 1.1-13.8 .2-13.8-.6-13.8-1.6-13.8-2.4-13.8-3.3-13.9-4.1-13.8-5.1-13.8-5.9-13.8-6.8-13.8-7.7-13.8-8.5z"/>
<path fill="url(#j11)" d="M1245.3 2141.6l13.8 8.9 13.8 7.9 13.8 7.1 13.8 6.2 13.8 5.4 13.9 4.4 13.8 3.6 13.8 2.7 13.8 1.9 13.8 .9 13.8 .1 13.9-.8 13.8-1.7 13.8-2.6 13.8-3.4 13.8-4.3 13.8-5.2 13.9-6.1 13.8-6.9 13.8-7.9 6.2 1.5-13.8 8-13.8 7.1-13.8 6.2-13.9 5.4-13.8 4.5-13.8 3.6-13.8 2.8-13.8 1.8-13.8 1-13.9 .1-13.8-.7-13.8-1.7-13.8-2.5-13.8-3.4-13.8-4.3-13.9-5.2-13.8-6-13.8-6.9-13.8-7.8-13.8-8.7z"/>
<path fill="url(#j10)" d="M1241.4 2138.2l13.8 9 13.8 8.1 13.8 7.2 13.9 6.3 13.8 5.5 13.8 4.5 13.8 3.7 13.8 2.9 13.8 1.9 13.8 1.1 13.9 .2 13.8-.7 13.8-1.6 13.8-2.5 13.8-3.3 13.8-4.2 13.9-5.1 13.8-5.9 13.8-6.8 13.8-7.8 6.2 1.7-13.8 7.9-13.8 7-13.8 6.2-13.8 5.2-13.9 4.4-13.8 3.5-13.8 2.6-13.8 1.8-13.8 .9-13.8 0-13.9-.9-13.8-1.8-13.8-2.6-13.8-3.5-13.8-4.4-13.8-5.3-13.9-6.1-13.8-7.1-13.8-7.9-13.8-8.8z"/>
<path fill="url(#j9)" d="M1237.5 2134.7l13.8 9.1 13.8 8.2 13.9 7.3 13.8 6.4 13.8 5.6 13.8 4.7 13.8 3.8 13.8 2.9 13.8 2.1 13.9 1.2 13.8 .3 13.8-.6 13.8-1.5 13.8-2.3 13.8-3.2 13.9-4.1 13.8-5 13.8-5.8 13.8-6.7 13.8-7.6 6.2 1.9-13.8 7.8-13.8 6.9-13.8 6-13.8 5.2-13.8 4.2-13.9 3.4-13.8 2.6-13.8 1.6-13.8 .7-13.8-.1-13.8-1-13.9-1.8-13.8-2.8-13.8-3.6-13.8-4.5-13.8-5.4-13.8-6.3-13.9-7.1-13.8-8-13.8-8.9z"/>
<path fill="url(#j8)" d="M1233.6 2131l13.8 9.2 13.9 8.3 13.8 7.4 13.8 6.6 13.8 5.6 13.8 4.9 13.8 3.9 13.9 3 13.8 2.2 13.8 1.3 13.8 .4 13.8-.5 13.8-1.3 13.8-2.2 13.9-3.1 13.8-4 13.8-4.9 13.8-5.7 13.8-6.6 13.8-7.5 6.3 2.3-13.9 7.6-13.8 6.8-13.8 5.9-13.8 5.1-13.8 4.1-13.8 3.3-13.9 2.4-13.8 1.5-13.8 .7-13.8-.3-13.8-1.1-13.8-2-13.9-2.8-13.8-3.8-13.8-4.6-13.8-5.5-13.8-6.4-13.8-7.2-13.8-8.2-13.9-9z"/>
<path fill="url(#j7)" d="M1229.7 2127.1l13.9 9.3 13.8 8.4 13.8 7.6 13.8 6.6 13.8 5.8 13.8 4.9 13.9 4.1 13.8 3.1 13.8 2.3 13.8 1.4 13.8 .6 13.8-.4 13.8-1.2 13.9-2.1 13.8-3 13.8-3.9 13.8-4.7 13.8-5.6 13.8-6.5 13.9-7.4 6.2 2.5-13.8 7.6-13.9 6.6-13.8 5.8-13.8 5-13.8 4-13.8 3.2-13.8 2.3-13.9 1.4-13.8 .5-13.8-.4-13.8-1.2-13.8-2.1-13.8-3-13.9-3.8-13.8-4.7-13.8-5.7-13.8-6.4-13.8-7.4-13.8-8.3-13.8-9.1z"/>
<path fill="url(#j6)" d="M1225.9 2123l13.8 9.5 13.8 8.5 13.8 7.7 13.8 6.7 13.8 5.9 13.9 5.1 13.8 4.1 13.8 3.3 13.8 2.4 13.8 1.5 13.8 .6 13.8-.2 13.9-1.1 13.8-2 13.8-2.9 13.8-3.7 13.8-4.7 13.8-5.5 13.9-6.3 13.8-7.3 6.2 2.8-13.8 7.4-13.8 6.6-13.9 5.7-13.8 4.8-13.8 3.9-13.8 3.1-13.8 2.1-13.8 1.3-13.9 .5-13.8-.5-13.8-1.3-13.8-2.3-13.8-3-13.8-4-13.9-4.9-13.8-5.7-13.8-6.6-13.8-7.5-13.8-8.3-13.8-9.3z"/>
<path fill="url(#j5)" d="M1222 2118.8l13.8 9.5 13.8 8.7 13.8 7.8 13.8 6.9 13.9 6 13.8 5.1 13.8 4.3 13.8 3.4 13.8 2.5 13.8 1.6 13.9 .8 13.8-.2 13.8-1 13.8-1.9 13.8-2.7 13.8-3.6 13.8-4.6 13.9-5.4 13.8-6.2 13.8-7.2 6.2 3.1-13.8 7.3-13.8 6.5-13.8 5.5-13.9 4.7-13.8 3.9-13.8 2.9-13.8 2.1-13.8 1.1-13.8 .3-13.9-.5-13.8-1.5-13.8-2.3-13.8-3.2-13.8-4.1-13.8-4.9-13.8-5.9-13.9-6.7-13.8-7.6-13.8-8.5-13.8-9.3z"/>
<path fill="url(#j4)" d="M1218.1 2114.4l13.8 9.6 13.8 8.8 13.8 7.9 13.9 7 13.8 6.1 13.8 5.3 13.8 4.4 13.8 3.5 13.8 2.6 13.9 1.7 13.8 .9 13.8 0 13.8-.9 13.8-1.8 13.8-2.6 13.8-3.5 13.9-4.4 13.8-5.3 13.8-6.2 13.8-7 6.2 3.3-13.8 7.2-13.8 6.4-13.8 5.4-13.8 4.6-13.9 3.7-13.8 2.9-13.8 1.9-13.8 1.1-13.8 .2-13.8-.7-13.9-1.6-13.8-2.4-13.8-3.3-13.8-4.2-13.8-5.1-13.8-6-13.8-6.8-13.9-7.7-13.8-8.6-13.8-9.4z"/>
<path fill="url(#j3)" d="M1214.2 2109.8l13.8 9.8 13.8 8.9 13.9 8 13.8 7.1 13.8 6.2 13.8 5.4 13.8 4.5 13.8 3.6 13.9 2.7 13.8 1.9 13.8 1 13.8 .1 13.8-.8 13.8-1.7 13.8-2.5 13.9-3.4 13.8-4.3 13.8-5.2 13.8-6 13.8-6.9 6.2 3.6-13.8 7.1-13.8 6.2-13.8 5.4-13.8 4.4-13.8 3.6-13.9 2.7-13.8 1.9-13.8 .9-13.8 .1-13.8-.8-13.8-1.7-13.8-2.5-13.9-3.4-13.8-4.4-13.8-5.1-13.8-6.1-13.8-6.9-13.8-7.9-13.9-8.7-13.8-9.5z"/>
<path fill="url(#j2)" d="M1210.3 2105.1l13.8 9.8 13.9 9 13.8 8.2 13.8 7.2 13.8 6.3 13.8 5.5 13.8 4.6 13.9 3.8 13.8 2.8 13.8 2 13.8 1.1 13.8 .2 13.8-.7 13.9-1.5 13.8-2.4 13.8-3.3 13.8-4.2 13.8-5.1 13.8-5.9 13.8-6.8 6.3 3.9-13.9 7-13.8 6.1-13.8 5.2-13.8 4.4-13.8 3.5-13.8 2.6-13.9 1.7-13.8 .8-13.8 0-13.8-.9-13.8-1.8-13.8-2.7-13.8-3.5-13.9-4.4-13.8-5.3-13.8-6.2-13.8-7.1-13.8-7.9-13.8-8.8-13.9-9.7z"/>
<path fill="url(#j1)" d="M1206.4 2100.2l13.9 9.9 13.8 9.1 13.8 8.3 13.8 7.3 13.8 6.5 13.8 5.6 13.9 4.7 13.8 3.8 13.8 3 13.8 2.1 13.8 1.2 13.8 .3 13.9-.5 13.8-1.5 13.8-2.3 13.8-3.1 13.8-4.1 13.8-4.9 13.8-5.9 13.9-6.7 6.2 4.2-13.8 6.9-13.9 6-13.8 5.1-13.8 4.2-13.8 3.4-13.8 2.5-13.8 1.6-13.9 .7-13.8-.1-13.8-1-13.8-1.9-13.8-2.8-13.8-3.7-13.8-4.5-13.9-5.4-13.8-6.3-13.8-7.2-13.8-8-13.8-8.9-13.8-9.8z"/>
<path fill="url(#j0)" d="M1202.6 2095.1l13.8 10.1 13.8 9.2 13.8 8.3 13.8 7.5 13.8 6.6 13.9 5.7 13.8 4.8 13.8 4 13.8 3 13.8 2.2 13.8 1.3 13.9 .5 13.8-.5 13.8-1.3 13.8-2.2 13.8-3 13.8-4 13.9-4.8 13.8-5.7 13.8-6.6 6.2 4.5-13.8 6.7-13.8 5.9-13.9 5-13.8 4.1-13.8 3.3-13.8 2.4-13.8 1.5-13.8 .6-13.8-.3-13.9-1.1-13.8-2-13.8-2.9-13.8-3.8-13.8-4.6-13.8-5.6-13.9-6.4-13.8-7.3-13.8-8.1-13.8-9.1-13.8-9.9z"/></g>
<path class="bl" d="M1202.6 2095.1L1211.2 2101.5L1219.8 2107.5L1228.5 2113.3L1237.1 2118.7L1245.7 2123.7L1254.4 2128.4L1263 2132.8L1271.6 2136.8L1280.3 2140.4L1288.9 2143.8L1297.5 2146.7L1306.2 2149.4L1314.8 2151.7L1323.5 2153.6L1332.1 2155.3L1340.7 2156.5L1349.4 2157.4L1358 2158L1366.6 2158.3L1375.3 2158.2L1383.9 2157.7L1392.5 2156.9L1401.2 2155.8L1409.8 2154.3L1418.4 2152.5L1427.1 2150.4L1435.7 2147.9L1444.3 2145L1453 2141.8L1461.6 2138.3L1470.2 2134.4L1478.9 2130.2L1484.7 2134.4L1490.5 2138.2L1496.4 2141.6L1502.2 2144.6L1508 2147.2L1513.8 2149.5L1519.6 2151.3L1525.5 2152.8L1531.3 2153.9L1537.1 2154.5L1542.9 2154.8L1548.8 2154.7L1554.6 2154.3L1560.4 2153.4L1566.2 2152.1L1572.1 2150.5L1577.9 2148.5L1583.7 2146.1L1589.5 2143.3L1595.4 2140.1L1601.2 2136.5L1607 2132.5L1612.8 2128.1L1618.6 2123.4L1624.5 2118.3L1630.3 2112.7L1636.1 2106.8L1641.9 2100.5L1647.8 2093.8L1653.6 2086.8L1659.4 2079.3L1665.2 2071.5L1656.6 2079.1L1648 2086.3L1639.3 2093.3L1630.7 2099.8L1622.1 2106.1L1613.4 2112L1604.8 2117.5L1596.2 2122.7L1587.5 2127.6L1578.9 2132.1L1570.3 2136.3L1561.6 2140.2L1553 2143.7L1544.3 2146.8L1535.7 2149.6L1527.1 2152.1L1518.4 2154.2L1509.8 2156L1501.2 2157.4L1492.5 2158.5L1483.9 2159.3L1475.3 2159.7L1466.6 2159.8L1458 2159.5L1449.4 2158.9L1440.7 2157.9L1432.1 2156.6L1423.5 2155L1414.8 2153L1406.2 2150.7L1397.6 2148L1388.9 2145L1383.1 2149.4L1377.3 2153.5L1371.4 2157.2L1365.6 2160.5L1359.8 2163.4L1354 2165.9L1348.2 2168L1342.3 2169.7L1336.5 2171.1L1330.7 2172.1L1324.9 2172.6L1319 2172.8L1313.2 2172.6L1307.4 2172L1301.6 2171.1L1295.7 2169.7L1289.9 2167.9L1284.1 2165.8L1278.3 2163.3L1272.4 2160.3L1266.6 2157L1260.8 2153.3L1255 2149.3L1249.2 2144.8L1243.3 2139.9L1237.5 2134.7L1231.7 2129.1L1225.9 2123L1220 2116.6L1214.2 2109.8L1208.4 2102.6Z"/>
<path class="k" d="M1189.1 2227.4L1481.5 2260.5M1481.5 2260.5L1678.7 2211.2M1189.1 2227.4L1189.1 2059.8M1481.5 2260.5L1481.5 2092.9M1678.7 2211.2L1678.7 2043.6M1189.1 2059.8L1481.5 2092.9M1481.5 2092.9L1678.7 2043.6M1189.1 2059.8L1386.3 2010.5M1386.3 2010.5L1678.7 2043.6M1189.1 2065.6l5.5 0M1189.1 2070.8l3 0M1189.1 2076l3 0M1189.1 2081.3l3 0M1189.1 2086.5l3 0M1189.1 2091.7l5.5 0M1189.1 2096.9l3 0M1189.1 2102.1l3 0M1189.1 2107.4l3 0M1189.1 2112.6l3 0M1189.1 2117.8l5.5 0M1189.1 2123l3 0M1189.1 2128.3l3 0M1189.1 2133.5l3 0M1189.1 2138.8l3 0M1189.1 2144l5.5 0M1189.1 2149.2l3 0M1189.1 2154.4l3 0M1189.1 2159.7l3 0M1189.1 2164.9l3 0M1189.1 2170.1l5.5 0M1189.1 2175.3l3 0M1189.1 2180.5l3 0M1189.1 2185.8l3 0M1189.1 2191l3 0M1189.1 2196.2l5.5 0M1189.1 2201.4l3 0M1189.1 2206.6l3 0M1189.1 2211.9l3 0M1189.1 2217.1l3 0M1189.1 2222.3l5.5 0M1481.5 2098.7l-5.5 0M1481.5 2103.9l-3 0M1481.5 2109.1l-3 0M1481.5 2114.4l-3 0M1481.5 2119.6l-3 0M1481.5 2124.8l-5.5 0M1481.5 2130l-3 0M1481.5 2135.2l-3 0M1481.5 2140.5l-3 0M1481.5 2145.7l-3 0M1481.5 2150.9l-5.5 0M1481.5 2156.1l-3 0M1481.5 2161.4l-3 0M1481.5 2166.6l-3 0M1481.5 2171.9l-3 0M1481.5 2177.1l-5.5 0M1481.5 2182.3l-3 0M1481.5 2187.5l-3 0M1481.5 2192.8l-3 0M1481.5 2198l-3 0M1481.5 2203.2l-5.5 0M1481.5 2208.4l-3 0M1481.5 2213.6l-3 0M1481.5 2218.9l-3 0M1481.5 2224.1l-3 0M1481.5 2229.3l-5.5 0M1481.5 2234.5l-3 0M1481.5 2239.7l-3 0M1481.5 2245l-3 0M1481.5 2250.2l-3 0M1481.5 2255.4l-5.5 0M1678.7 2049.4l-5.5 0M1678.7 2054.6l-3 0M1678.7 2059.8l-3 0M1678.7 2065.1l-3 0M1678.7 2070.3l-3 0M1678.7 2075.5l-5.5 0M1678.7 2080.7l-3 0M1678.7 2085.9l-3 0M1678.7 2091.2l-3 0M1678.7 2096.4l-3 0M1678.7 2101.6l-5.5 0M1678.7 2106.8l-3 0M1678.7 2112.1l-3 0M1678.7 2117.3l-3 0M1678.7 2122.6l-3 0M1678.7 2127.8l-5.5 0M1678.7 2133l-3 0M1678.7 2138.2l-3 0M1678.7 2143.5l-3 0M1678.7 2148.7l-3 0M1678.7 2153.9l-5.5 0M1678.7 2159.1l-3 0M1678.7 2164.3l-3 0M1678.7 2169.6l-3 0M1678.7 2174.8l-3 0M1678.7 2180l-5.5 0M1678.7 2185.2l-3 0M1678.7 2190.4l-3 0M1678.7 2195.7l-3 0M1678.7 2200.9l-3 0M1678.7 2206.1l-5.5 0M1197.1 2228.3l4.4 -1.1M1214.4 2230.3l2.4 -0.6M1231.7 2232.2l2.4 -0.6M1249 2234.2l2.4 -0.6M1266.2 2236.1l4.4 -1.1M1283.5 2238.1l2.4 -0.6M1300.8 2240l2.4 -0.6M1318 2242l2.4 -0.6M1335.3 2243.9l4.4 -1.1M1352.6 2245.9l2.4 -0.6M1369.8 2247.9l2.4 -0.6M1387.1 2249.8l2.4 -0.6M1404.4 2251.8l4.4 -1.1M1421.6 2253.7l2.4 -0.6M1438.9 2255.7l2.4 -0.6M1456.2 2257.6l2.4 -0.6M1473.5 2259.6l4.4 -1.1M1486.9 2259.1l-4.5 -0.5M1494.4 2257.3l-2.5 -0.3M1501.8 2255.4l-2.5 -0.3M1509.3 2253.6l-2.5 -0.3M1516.7 2251.7l-2.5 -0.3M1524.2 2249.8l-4.5 -0.5M1531.6 2248l-2.5 -0.3M1539.1 2246.1l-2.5 -0.3M1546.6 2244.2l-2.5 -0.3M1554 2242.4l-2.5 -0.3M1561.5 2240.5l-4.5 -0.5M1568.9 2238.6l-2.5 -0.3M1576.4 2236.8l-2.5 -0.3M1583.8 2234.9l-2.5 -0.3M1591.3 2233.1l-2.5 -0.3M1598.7 2231.2l-4.5 -0.5M1606.2 2229.3l-2.5 -0.3M1613.6 2227.5l-2.5 -0.3M1621.1 2225.6l-2.5 -0.3M1628.6 2223.7l-2.5 -0.3M1636 2221.9l-4.5 -0.5M1643.5 2220l-2.5 -0.3M1650.9 2218.1l-2.5 -0.3M1658.4 2216.3l-2.5 -0.3M1665.8 2214.4l-2.5 -0.3M1673.3 2212.6l-4.5 -0.5M1197.1 2060.7l4.4 -1.1M1214.4 2062.7l2.4 -0.6M1231.7 2064.6l2.4 -0.6M1249 2066.6l2.4 -0.6M1266.2 2068.5l4.4 -1.1M1283.5 2070.5l2.4 -0.6M1300.8 2072.4l2.4 -0.6M1318 2074.4l2.4 -0.6M1335.3 2076.4l4.4 -1.1M1352.6 2078.3l2.4 -0.6M1369.8 2080.3l2.4 -0.6M1387.1 2082.2l2.4 -0.6M1404.4 2084.2l4.4 -1.1M1421.6 2086.1l2.4 -0.6M1438.9 2088.1l2.4 -0.6M1456.2 2090l2.4 -0.6M1473.5 2092l4.4 -1.1M1486.9 2091.5l-4.5 -0.5M1494.4 2089.7l-2.5 -0.3M1501.8 2087.8l-2.5 -0.3M1509.3 2086l-2.5 -0.3M1516.7 2084.1l-2.5 -0.3M1524.2 2082.2l-4.5 -0.5M1531.6 2080.4l-2.5 -0.3M1539.1 2078.5l-2.5 -0.3M1546.6 2076.6l-2.5 -0.3M1554 2074.8l-2.5 -0.3M1561.5 2072.9l-4.5 -0.5M1568.9 2071l-2.5 -0.3M1576.4 2069.2l-2.5 -0.3M1583.8 2067.3l-2.5 -0.3M1591.3 2065.5l-2.5 -0.3M1598.7 2063.6l-4.5 -0.5M1606.2 2061.7l-2.5 -0.3M1613.6 2059.9l-2.5 -0.3M1621.1 2058l-2.5 -0.3M1628.6 2056.1l-2.5 -0.3M1636 2054.3l-4.5 -0.5M1643.5 2052.4l-2.5 -0.3M1650.9 2050.5l-2.5 -0.3M1658.4 2048.7l-2.5 -0.3M1665.8 2046.8l-2.5 -0.3M1673.3 2045l-4.5 -0.5M1194.5 2058.4l4.5 0.5M1202 2056.6l2.5 0.3M1209.4 2054.7l2.5 0.3M1216.9 2052.9l2.5 0.3M1224.3 2051l2.5 0.3M1231.8 2049.1l4.5 0.5M1239.2 2047.3l2.5 0.3M1246.7 2045.4l2.5 0.3M1254.2 2043.5l2.5 0.3M1261.6 2041.7l2.5 0.3M1269.1 2039.8l4.5 0.5M1276.5 2037.9l2.5 0.3M1284 2036.1l2.5 0.3M1291.4 2034.2l2.5 0.3M1298.9 2032.4l2.5 0.3M1306.3 2030.5l4.5 0.5M1313.8 2028.6l2.5 0.3M1321.2 2026.8l2.5 0.3M1328.7 2024.9l2.5 0.3M1336.2 2023l2.5 0.3M1343.6 2021.2l4.5 0.5M1351.1 2019.3l2.5 0.3M1358.5 2017.4l2.5 0.3M1366 2015.6l2.5 0.3M1373.4 2013.7l2.5 0.3M1380.9 2011.9l4.5 0.5M1394.3 2011.4l-4.4 1.1M1411.6 2013.4l-2.4 0.6M1428.9 2015.3l-2.4 0.6M1446.2 2017.3l-2.4 0.6M1463.4 2019.2l-4.4 1.1M1480.7 2021.2l-2.4 0.6M1498 2023.1l-2.4 0.6M1515.2 2025.1l-2.4 0.6M1532.5 2027l-4.4 1.1M1549.8 2029l-2.4 0.6M1567 2031l-2.4 0.6M1584.3 2032.9l-2.4 0.6M1601.6 2034.9l-4.4 1.1M1618.8 2036.8l-2.4 0.6M1636.1 2038.8l-2.4 0.6M1653.4 2040.7l-2.4 0.6M1670.7 2042.7l-4.4 1.1"/>
<rect x="1715.3" y="1999.8" width="90.4" height="203.6" fill="#fff" stroke="#0a0a0a" stroke-width="1"/>
<rect x="1719.5" y="2022.4" width="29.6" height="9.6" fill="#000060" stroke="#000030" stroke-width=".7"/>
<rect x="1719.5" y="2039.1" width="29.6" height="9.6" fill="#66235e" stroke="#33122f" stroke-width=".7"/>
<rect x="1719.5" y="2055.9" width="29.6" height="9.6" fill="#cc465d" stroke="#66232e" stroke-width=".7"/>
<rect x="1719.5" y="2072.6" width="29.6" height="9.6" fill="#e6464a" stroke="#732325" stroke-width=".7"/>
<rect x="1719.5" y="2089.4" width="29.6" height="9.6" fill="#b32325" stroke="#5a1212" stroke-width=".7"/>
<rect x="1719.5" y="2106.1" width="29.6" height="9.6" fill="#800000" stroke="#400000" stroke-width=".7"/>
<rect x="1719.5" y="2122.8" width="29.6" height="9.6" fill="#702866" stroke="#381433" stroke-width=".7"/>
<rect x="1719.5" y="2139.6" width="29.6" height="9.6" fill="#6050cc" stroke="#302866" stroke-width=".7"/>
<rect x="1719.5" y="2156.3" width="29.6" height="9.6" fill="#7950cc" stroke="#3c2866" stroke-width=".7"/>
<rect x="1719.5" y="2173.1" width="29.6" height="9.6" fill="#bc2866" stroke="#5e1433" stroke-width=".7"/>
<rect x="1719.5" y="2189.8" width="29.6" height="9.6" fill="#ff0000" stroke="#800000" stroke-width=".7"/>
<text transform="translate(1183.5 2069.9) scale(1.12 1)" text-anchor="end">3300</text>
<text transform="translate(1183.5 2096) scale(1.12 1)" text-anchor="end">3200</text>
<text transform="translate(1183.5 2122.1) scale(1.12 1)" text-anchor="end">3100</text>
<text transform="translate(1183.5 2148.3) scale(1.12 1)" text-anchor="end">3000</text>
<text transform="translate(1183.5 2174.4) scale(1.12 1)" text-anchor="end">2900</text>
<text transform="translate(1183.5 2200.5) scale(1.12 1)" text-anchor="end">2800</text>
<text transform="translate(1183.5 2226.6) scale(1.12 1)" text-anchor="end">2700</text>
<text transform="translate(1135 2145) rotate(-90) scale(1.07 1)" text-anchor="middle">IC50</text>
<text transform="translate(1182.8 2249.2) scale(1.12 1)" text-anchor="middle">0</text>
<text transform="translate(1251.9 2257.6) scale(1.12 1)" text-anchor="middle">20</text>
<text transform="translate(1321.6 2265.7) scale(1.12 1)" text-anchor="middle">40</text>
<text transform="translate(1390.7 2273.6) scale(1.12 1)" text-anchor="middle">60</text>
<text transform="translate(1459.8 2280.8) scale(1.12 1)" text-anchor="middle">80</text>
<text transform="translate(1506.4 2279.9) scale(1.12 1)" text-anchor="middle">12</text>
<text transform="translate(1544.2 2270) scale(1.12 1)" text-anchor="middle">17</text>
<text transform="translate(1580.8 2260.7) scale(1.12 1)" text-anchor="middle">22</text>
<text transform="translate(1618 2251) scale(1.12 1)" text-anchor="middle">27</text>
<text transform="translate(1655.3 2241.7) scale(1.12 1)" text-anchor="middle">32</text>
<text transform="translate(1692.5 2232.1) scale(1.12 1)" text-anchor="middle">37</text>
<text transform="translate(1291.9 2291) scale(1.04 1)" text-anchor="middle">Dynamic time</text>
<text transform="translate(22.3 24) scale(1 1)" style="font-size:37px">a</text>
<text transform="translate(1005.3 28.9) scale(1 1)" style="font-size:37px">b</text>
<text transform="translate(22.3 498.2) scale(1 1)" style="font-size:37px">c</text>
<text transform="translate(1005.3 498.6) scale(1 1)" style="font-size:37px">d</text>
<text transform="translate(23.3 976.5) scale(1 1)" style="font-size:37px">e</text>
<text transform="translate(1006 976.5) scale(1 1)" style="font-size:37px">f</text>
<text transform="translate(20.3 1455.9) scale(1 1)" style="font-size:37px">g</text>
<text transform="translate(1005.3 1458.5) scale(1 1)" style="font-size:37px">h</text>
<text transform="translate(13.1 1956.7) scale(1 1)" style="font-size:37px">i</text>
<text transform="translate(991.9 1947.7) scale(1 1)" style="font-size:37px">j</text>
<g transform="scale(1.0714 1)"><text x="162" y="118.3" text-anchor="end">B:Pressure</text>
<text x="162" y="146.1" text-anchor="end">BB</text>
<text x="162" y="173.8" text-anchor="end">C:Volume</text>
<text x="162" y="201.6" text-anchor="end">AA</text>
<text x="162" y="229.3" text-anchor="end">CC</text>
<text x="162" y="257.1" text-anchor="end">AB</text>
<text x="162" y="312.6" text-anchor="end">AC</text>
<text x="162" y="340.3" text-anchor="end">BC</text>
<text x="421.6" y="394.3" text-anchor="middle">Standardized effect</text>
<text x="421.3" y="50.3" text-anchor="middle">Standardized Pareto Chart for Yield</text>
<text x="728.3" y="121.3" text-anchor="middle" style="font-size:14px" class="s">+</text>
<text x="726.9" y="139.2" text-anchor="middle" style="font-size:14px" class="s">-</text>
<text x="1078.7" y="118.3" text-anchor="end">BB</text>
<text x="1078.7" y="146.1" text-anchor="end">B:Pressure</text>
<text x="1078.7" y="173.8" text-anchor="end">C:Volume</text>
<text x="1078.7" y="201.6" text-anchor="end">AC</text>
<text x="1078.7" y="229.3" text-anchor="end">CC</text>
<text x="1078.7" y="257.1" text-anchor="end">AA</text>
<text x="1078.7" y="312.6" text-anchor="end">BC</text>
<text x="1078.7" y="340.3" text-anchor="end">AB</text>
<text x="1338.4" y="394.3" text-anchor="middle">Standardized effect</text>
<text x="1338.2" y="50.3" text-anchor="middle">Standardized Pareto Chart for IC50</text>
<text x="1645.3" y="121.3" text-anchor="middle" style="font-size:14px" class="s">+</text>
<text x="1643.9" y="139.2" text-anchor="middle" style="font-size:14px" class="s">-</text>
<text x="166.7" y="577.1" text-anchor="end">7.1</text>
<text x="166.7" y="639.9" text-anchor="end">6.9</text>
<text x="166.7" y="702.5" text-anchor="end">6.7</text>
<text x="166.7" y="765.2" text-anchor="end">6.5</text>
<text x="166.7" y="827.8" text-anchor="end">6.3</text>
<text x="218.4" y="853.7" text-anchor="middle">20.0</text>
<text x="311.7" y="853.7" text-anchor="middle">50.0</text>
<text x="374" y="853.7" text-anchor="middle">18.0</text>
<text x="467.3" y="853.7" text-anchor="middle">31.0</text>
<text x="529.2" y="853.7" text-anchor="middle">50.0</text>
<text x="622.9" y="853.7" text-anchor="middle">150.0</text>
<text x="421.2" y="879.8" text-anchor="middle">Pressure</text>
<text x="576.4" y="879.8" text-anchor="middle">Volume</text>
<text x="421.5" y="523" text-anchor="middle">Main Effects Plot for Yield</text>
<text x="1135.2" y="853.7" text-anchor="middle">20.0</text>
<text x="1228.5" y="853.7" text-anchor="middle">50.0</text>
<text x="1290.8" y="853.7" text-anchor="middle">18.0</text>
<text x="1384.1" y="853.7" text-anchor="middle">31.0</text>
<text x="1446" y="853.7" text-anchor="middle">50.0</text>
<text x="1539.7" y="853.7" text-anchor="middle">150.0</text>
<text x="1338" y="879.8" text-anchor="middle">Pressure</text>
<text x="1493.2" y="879.8" text-anchor="middle">Volume</text>
<text x="1338.3" y="523" text-anchor="middle">Main Effects Plot for IC50</text>
<text x="717.1" y="1053.7" text-anchor="middle">Yield</text>
<text x="742.6" y="1070.3" text-anchor="end">3.7</text>
<text x="742.6" y="1087" text-anchor="end">4.1</text>
<text x="742.6" y="1103.8" text-anchor="end">4.5</text>
<text x="742.6" y="1120.5" text-anchor="end">4.9</text>
<text x="742.6" y="1137.3" text-anchor="end">5.3</text>
<text x="742.6" y="1154" text-anchor="end">5.7</text>
<text x="742.6" y="1170.7" text-anchor="end">6.1</text>
<text x="742.6" y="1187.5" text-anchor="end">6.5</text>
<text x="742.6" y="1204.2" text-anchor="end">6.9</text>
<text x="742.6" y="1221" text-anchor="end">7.3</text>
<text x="742.6" y="1237.7" text-anchor="end">7.7</text>
<text x="476.9" y="1000.8" text-anchor="middle">Estimated Response Surface</text>
<text x="477.4" y="1012.7" text-anchor="middle">Pressure=24.5</text>
<text x="188.7" y="1109.5" text-anchor="end">7.2</text>
<text x="188.7" y="1135.7" text-anchor="end">6.7</text>
<text x="188.7" y="1161.8" text-anchor="end">6.2</text>
<text x="188.7" y="1187.9" text-anchor="end">5.7</text>
<text x="188.7" y="1214.1" text-anchor="end">5.2</text>
<text x="188.7" y="1240.2" text-anchor="end">4.7</text>
<text x="188.7" y="1266.2" text-anchor="end">4.2</text>
<text x="596.9" y="1314.3" text-anchor="middle">Volume</text>
<text x="1632.8" y="1053.7" text-anchor="middle">IC50</text>
<text x="1681.4" y="1070.3" text-anchor="end">2700.0</text>
<text x="1681.4" y="1087" text-anchor="end">2760.0</text>
<text x="1681.4" y="1103.8" text-anchor="end">2820.0</text>
<text x="1681.4" y="1120.5" text-anchor="end">2880.0</text>
<text x="1681.4" y="1137.3" text-anchor="end">2940.0</text>
<text x="1681.4" y="1154" text-anchor="end">3000.0</text>
<text x="1681.4" y="1170.7" text-anchor="end">3060.0</text>
<text x="1681.4" y="1187.5" text-anchor="end">3120.0</text>
<text x="1681.4" y="1204.2" text-anchor="end">3180.0</text>
<text x="1681.4" y="1221" text-anchor="end">3240.0</text>
<text x="1681.4" y="1237.7" text-anchor="end">3300.0</text>
<text x="1393.9" y="1000.8" text-anchor="middle">Estimated Response Surface</text>
<text x="1394.4" y="1012.7" text-anchor="middle">Pressure=24.5</text>
<text x="1520.9" y="1313" text-anchor="middle">Volume</text>
<text x="717.1" y="1536.6" text-anchor="middle">Yield</text>
<text x="742.6" y="1553.2" text-anchor="end">3.7</text>
<text x="742.6" y="1569.9" text-anchor="end">4.1</text>
<text x="742.6" y="1586.7" text-anchor="end">4.5</text>
<text x="742.6" y="1603.4" text-anchor="end">4.9</text>
<text x="742.6" y="1620.2" text-anchor="end">5.3</text>
<text x="742.6" y="1636.9" text-anchor="end">5.7</text>
<text x="742.6" y="1653.6" text-anchor="end">6.1</text>
<text x="742.6" y="1670.4" text-anchor="end">6.5</text>
<text x="742.6" y="1687.1" text-anchor="end">6.9</text>
<text x="742.6" y="1703.9" text-anchor="end">7.3</text>
<text x="742.6" y="1720.6" text-anchor="end">7.7</text>
<text x="476.9" y="1484.5" text-anchor="middle">Estimated Response Surface</text>
<text x="202.3" y="1600.6" text-anchor="end">7.4</text>
<text x="202.3" y="1626.7" text-anchor="end">6.9</text>
<text x="202.3" y="1652.8" text-anchor="end">6.4</text>
<text x="202.3" y="1678.9" text-anchor="end">5.9</text>
<text x="202.3" y="1705" text-anchor="end">5.4</text>
<text x="202.3" y="1731.2" text-anchor="end">4.9</text>
<text x="202.3" y="1757.3" text-anchor="end">4.4</text>
<text x="332.7" y="1817" text-anchor="middle">Pressure</text>
<text x="615.5" y="1791.3" text-anchor="middle">Volume</text>
<text x="1632.8" y="1536.6" text-anchor="middle">IC50</text>
<text x="1681.4" y="1553.2" text-anchor="end">2700.0</text>
<text x="1681.4" y="1569.9" text-anchor="end">2760.0</text>
<text x="1681.4" y="1586.7" text-anchor="end">2820.0</text>
<text x="1681.4" y="1603.4" text-anchor="end">2880.0</text>
<text x="1681.4" y="1620.2" text-anchor="end">2940.0</text>
<text x="1681.4" y="1636.9" text-anchor="end">3000.0</text>
<text x="1681.4" y="1653.6" text-anchor="end">3060.0</text>
<text x="1681.4" y="1670.4" text-anchor="end">3120.0</text>
<text x="1681.4" y="1687.1" text-anchor="end">3180.0</text>
<text x="1681.4" y="1703.9" text-anchor="end">3240.0</text>
<text x="1681.4" y="1720.6" text-anchor="end">3300.0</text>
<text x="1393.9" y="1484.5" text-anchor="middle">Estimated Response Surface</text>
<text x="1219.4" y="1814.5" text-anchor="middle">Pressure</text>
<text x="1519" y="1796" text-anchor="middle">Volume</text>
<text x="717.1" y="2014.1" text-anchor="middle">Yield</text>
<text x="742.6" y="2030.7" text-anchor="end">3.7</text>
<text x="742.6" y="2047.4" text-anchor="end">4.1</text>
<text x="742.6" y="2064.2" text-anchor="end">4.5</text>
<text x="742.6" y="2080.9" text-anchor="end">4.9</text>
<text x="742.6" y="2097.7" text-anchor="end">5.3</text>
<text x="742.6" y="2114.4" text-anchor="end">5.7</text>
<text x="742.6" y="2131.1" text-anchor="end">6.1</text>
<text x="742.6" y="2147.9" text-anchor="end">6.5</text>
<text x="742.6" y="2164.6" text-anchor="end">6.9</text>
<text x="742.6" y="2181.4" text-anchor="end">7.3</text>
<text x="742.6" y="2198.1" text-anchor="end">7.7</text>
<text x="476.9" y="1961.5" text-anchor="middle">Estimated Response Surface</text>
<text x="477.4" y="1973.4" text-anchor="middle">Volume=100.0</text>
<text x="196.9" y="2074.8" text-anchor="end">7.7</text>
<text x="196.9" y="2114.1" text-anchor="end">6.7</text>
<text x="196.9" y="2153.4" text-anchor="end">5.7</text>
<text x="196.9" y="2192.7" text-anchor="end">4.7</text>
<text x="196.9" y="2232" text-anchor="end">3.7</text>
<text x="609.5" y="2271.3" text-anchor="middle">Pressure</text>
<text x="1632.8" y="2014.1" text-anchor="middle">IC50</text>
<text x="1681.4" y="2030.7" text-anchor="end">2700.0</text>
<text x="1681.4" y="2047.4" text-anchor="end">2760.0</text>
<text x="1681.4" y="2064.2" text-anchor="end">2820.0</text>
<text x="1681.4" y="2080.9" text-anchor="end">2880.0</text>
<text x="1681.4" y="2097.7" text-anchor="end">2940.0</text>
<text x="1681.4" y="2114.4" text-anchor="end">3000.0</text>
<text x="1681.4" y="2131.1" text-anchor="end">3060.0</text>
<text x="1681.4" y="2147.9" text-anchor="end">3120.0</text>
<text x="1681.4" y="2164.6" text-anchor="end">3180.0</text>
<text x="1681.4" y="2181.4" text-anchor="end">3240.0</text>
<text x="1681.4" y="2198.1" text-anchor="end">3300.0</text>
<text x="1393.9" y="1961.5" text-anchor="middle">Estimated Response Surface</text>
<text x="1394.4" y="1973.4" text-anchor="middle">Volume=100.0</text>
<text x="1511.5" y="2275.5" text-anchor="middle">Pressure</text></g>
</svg>
</body></html>
